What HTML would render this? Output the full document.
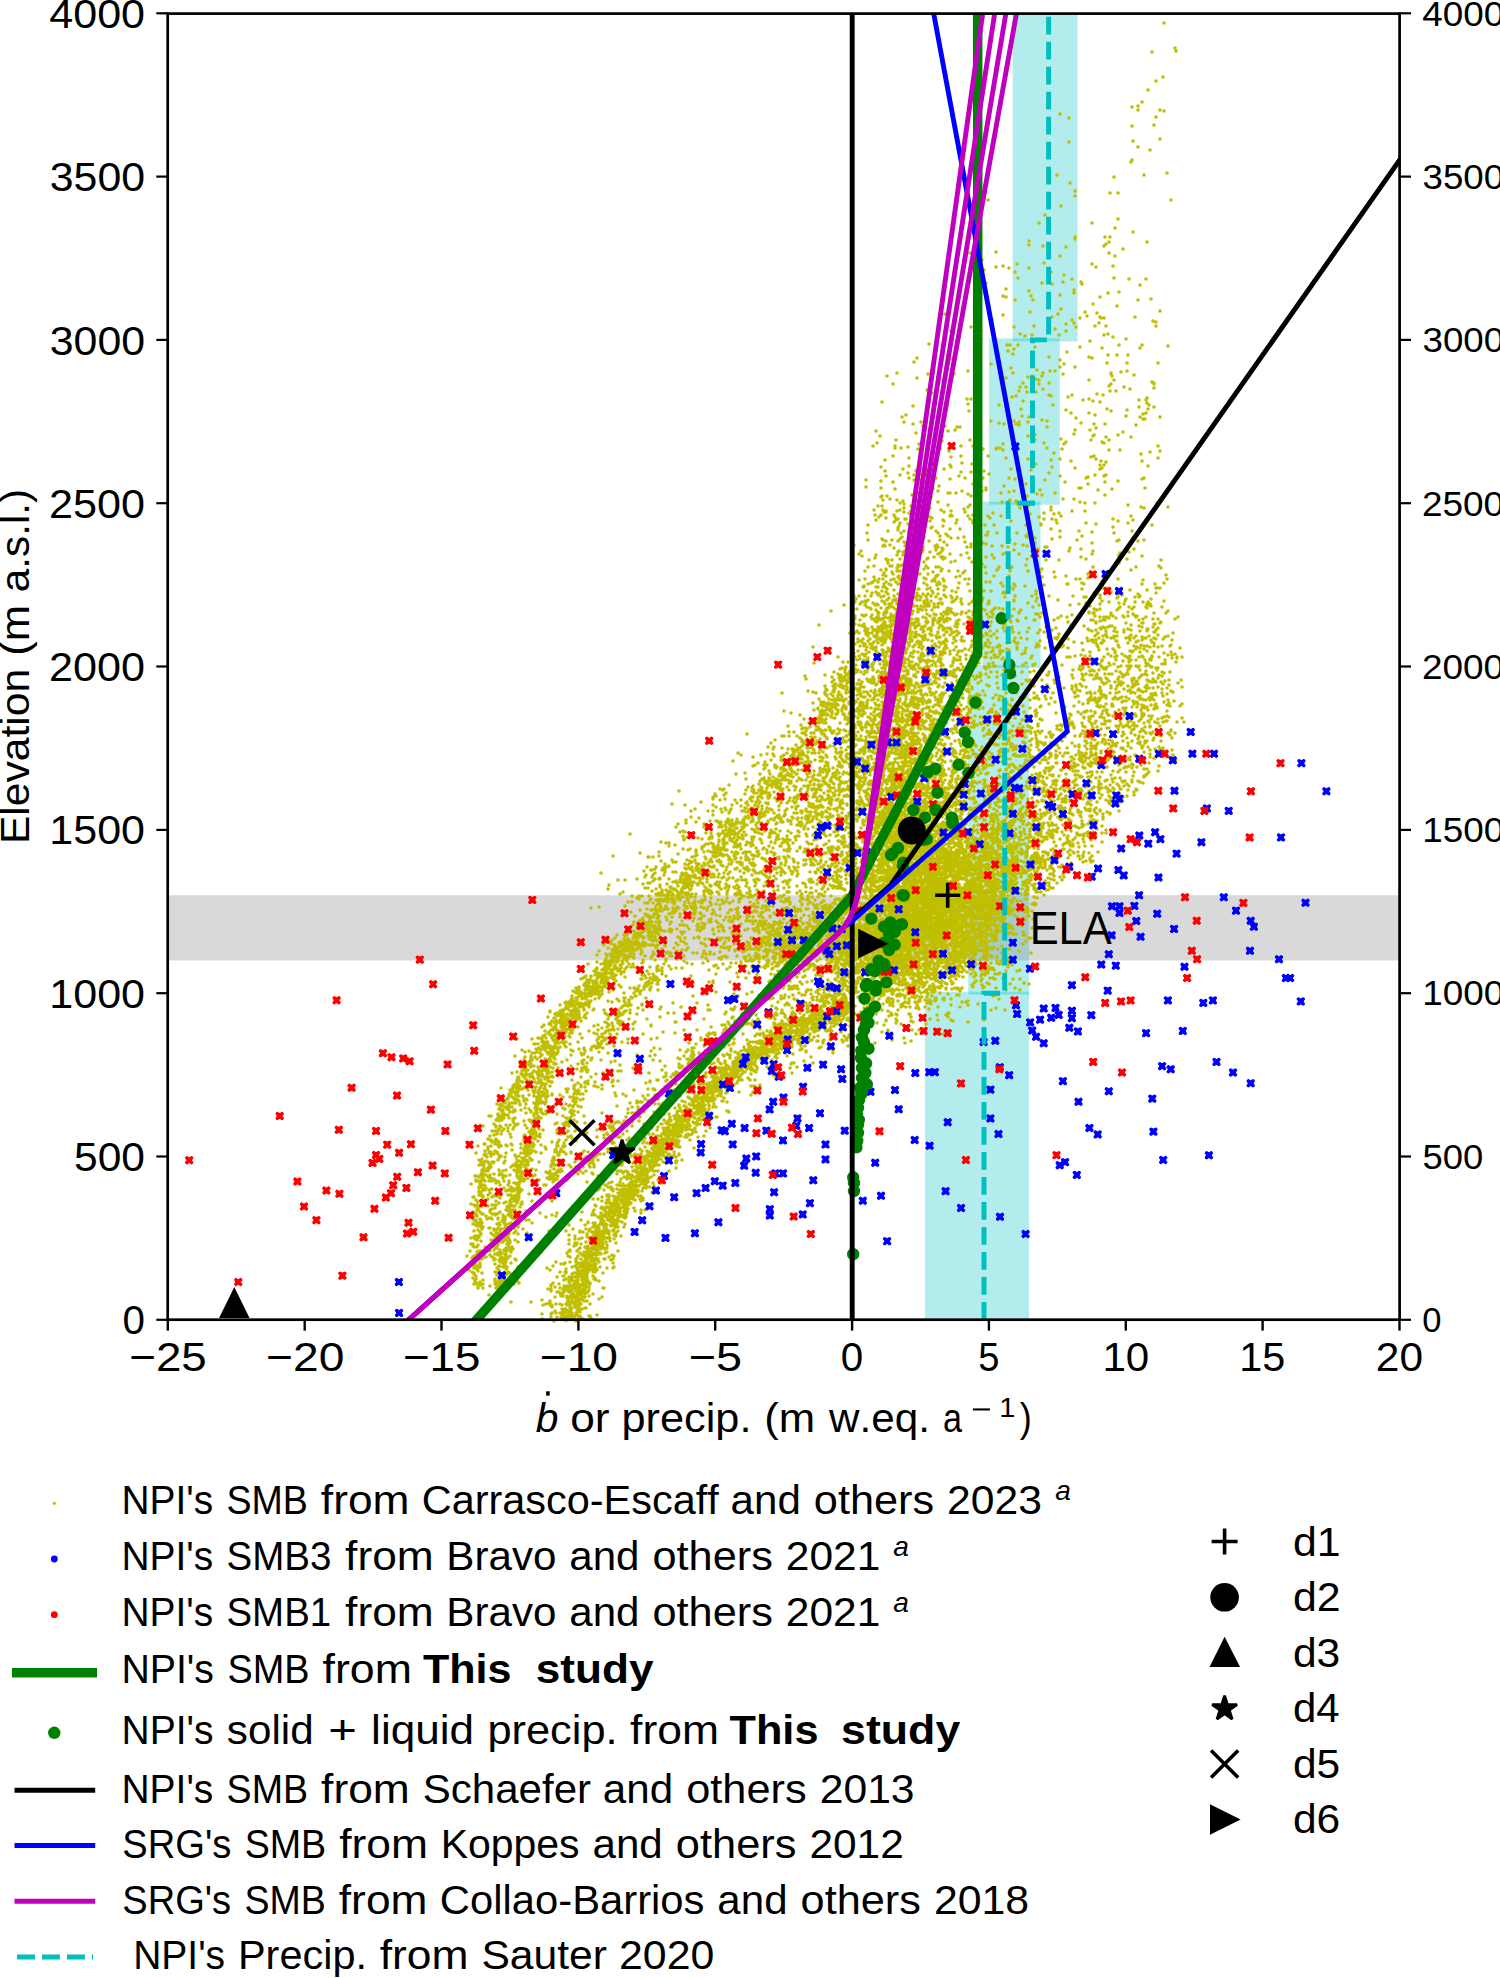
<!DOCTYPE html>
<html><head><meta charset="utf-8"><style>
html,body{margin:0;padding:0;background:#fff;}
svg{display:block;font-family:"Liberation Sans", sans-serif;font-kerning:none;}
</style></head><body>
<svg width="1500" height="1978" viewBox="0 0 1500 1978">
<defs><clipPath id="axclip"><rect x="167.8" y="13.3" width="1231.7" height="1306.5"/></clipPath></defs>
<rect width="1500" height="1978" fill="#fff"/>
<rect x="1012.6" y="13.3" width="65.0" height="328.1" fill="#00bfbf" fill-opacity="0.3"/>
<rect x="989.0" y="338.4" width="70.8" height="166.3" fill="#00bfbf" fill-opacity="0.3"/>
<rect x="982.7" y="501.7" width="57.9" height="166.3" fill="#00bfbf" fill-opacity="0.3"/>
<rect x="968.2" y="665.0" width="60.9" height="329.6" fill="#00bfbf" fill-opacity="0.3"/>
<rect x="925.0" y="991.7" width="104.1" height="328.1" fill="#00bfbf" fill-opacity="0.3"/>
<rect x="167.8" y="895.2" width="1231.7" height="65.3" fill="#808080" fill-opacity="0.3"/>
<path d="M1164 23h0m11 25h0m-23 4h0m24-1h0m-28 39h0m8-9h0m7-4h0m-31 30h0m6-1h0m4-4h0m-82 12h0m9 4h0m63 8h0m6-16h0m16 15h0m2-8h0m4-7h0m4 1h0m-95 31h0m64-1h0m5 6h0m22-8h0m-29 23h0m1-2h0m18-10h0m-93 25h0m13 8h0m44-6h0m30-2h0m23-2h0m-179 27h0m73 6h0m14-15h0m0 5h0m35-3h0m8 0h0m53 7h0m-132 23h0m6-8h0m47 8h0m23 5h0m3-9h0m-89 22h0m0 4h0m14 1h0m23 1h0m9-10h0m0 2h0m29 7h0m1-9h0m1 7h0m3-2h0m1-5h0m13 12h0m10-17h0m14 10h0m-177 11h0m12 7h0m14-8h0m0 15h0m7-1h0m6 2h0m8-4h0m12 4h0m15-5h0m16-7h0m32 8h0m4 3h0m13-14h0m4 13h0m2-10h0m-131 14h0m2 13h0m20 6h0m9-17h0m3 6h0m24 5h0m9-11h0m1 12h0m11-2h0m1-7h0m8 4h0m9 3h0m1 2h0m32-6h0m15 1h0m11 6h0m6-6h0m-143 17h0m3 1h0m9 3h0m14-9h0m2 5h0m2 4h0m27-5h0m1 14h0m13-16h0m0-3h0m19 14h0m7-7h0m8-4h0m9 13h0m2-14h0m19 8h0m13-1h0m-206 15h0m8 14h0m18-1h0m21-7h0m11-5h0m11 12h0m16-15h0m4 14h0m18-9h0m3 12h0m3-15h0m8 10h0m6-4h0m2 3h0m2 4h0m4-9h0m5-6h0m2 4h0m8 10h0m2-13h0m2 10h0m1-6h0m1 1h0m3 0h0m2 8h0m29-9h0m18 4h0m3 1h0m0 4h0m4-15h0m-231 33h0m22-13h0m30 0h0m0 8h0m26 6h0m3 0h0m4 4h0m4-4h0m2-11h0m5 2h0m7-1h0m2 6h0m1 6h0m24-12h0m7-4h0m14 16h0m10-6h0m12 7h0m2-13h0m4-1h0m5 3h0m6 8h0m7-6h0m14 9h0m2-3h0m26 1h0m-254 16h0m3-4h0m33 1h0m41 5h0m17-13h0m3 17h0m2-14h0m36 3h0m11 10h0m0-7h0m4 4h0m3-12h0m8 15h0m14-10h0m3 1h0m15 5h0m1-8h0m9 0h0m10 8h0m1-8h0m30 8h0m-271 13h0m6 8h0m4-11h0m20 5h0m10 12h0m1-16h0m26 0h0m14-3h0m37 19h0m1-12h0m7-5h0m7 14h0m3-4h0m3 4h0m2-10h0m4-1h0m4 3h0m1-9h0m2 10h0m0 4h0m3-8h0m1-3h0m0 16h0m6-6h0m1-12h0m5 0h0m8 3h0m26 6h0m20 6h0m2-12h0m0-1h0m0 11h0m1-8h0m2 4h0m7-8h0m3 15h0m3-16h0m3 18h0m4-14h0m18 7h0m2 6h0m0-5h0m0 1h0m-272 18h0m31 4h0m17-13h0m2 0h0m8 14h0m6 1h0m1-2h0m20-7h0m1 5h0m3-5h0m28 6h0m13-8h0m4-1h0m3-5h0m2 18h0m2-8h0m4-9h0m9 0h0m13 3h0m2 1h0m2 9h0m13 5h0m2-13h0m4-2h0m11 5h0m6-1h0m4 2h0m4-7h0m3 8h0m3-7h0m4 14h0m3-18h0m6 0h0m11 19h0m12-10h0m0 7h0m7-7h0m1 3h0m0-5h0m1 11h0m1-4h0m5 2h0m-252 10h0m2 5h0m2-7h0m7 9h0m8-2h0m2 4h0m4-14h0m3 18h0m3-17h0m3 16h0m9-3h0m1-15h0m9 19h0m2-3h0m3 0h0m9-16h0m22 10h0m8 2h0m5 1h0m10-3h0m2 3h0m3 1h0m0-3h0m3-6h0m6 6h0m1-5h0m13 3h0m5 7h0m0-6h0m24-8h0m4 17h0m1-12h0m5 5h0m8-10h0m5 11h0m1-9h0m1 13h0m9-4h0m6-13h0m15 5h0m10 9h0m4-8h0m3-3h0m0 5h0m2 0h0m1-6h0m14 4h0m-287 29h0m3-15h0m1 12h0m3-7h0m15 10h0m0 2h0m1-8h0m5 8h0m7-1h0m8-14h0m2 16h0m1-5h0m8 1h0m1 0h0m12 3h0m0 1h0m2-13h0m0 5h0m6-10h0m13 15h0m9-6h0m3 6h0m4-14h0m0 17h0m0-15h0m6 15h0m13 0h0m1-1h0m3 0h0m3-4h0m0 6h0m25-14h0m7-1h0m0 0h0m0 5h0m9 3h0m3 5h0m14-9h0m1 10h0m2-5h0m2-2h0m8-8h0m16-4h0m1 10h0m2-4h0m1-1h0m8 7h0m2 1h0m2-6h0m3 13h0m0-10h0m9-5h0m2 15h0m3-18h0m8 5h0m27 9h0m-277 21h0m4-7h0m8-4h0m10 13h0m6-3h0m0-8h0m10 12h0m2-1h0m0-17h0m4 14h0m1 4h0m4-4h0m3-4h0m11 7h0m5-18h0m1 14h0m1-8h0m0 10h0m10-11h0m1 7h0m10 1h0m0 0h0m16-8h0m18 2h0m5 11h0m17-10h0m5 2h0m3 3h0m15-4h0m1 7h0m2-14h0m6 6h0m11 2h0m4 7h0m16-11h0m3-1h0m2 3h0m4 10h0m0-4h0m1-4h0m1 7h0m2-3h0m2-3h0m35-8h0m1 7h0m6 5h0m2-14h0m8 6h0m2-7h0m-294 36h0m0-7h0m15 8h0m0-7h0m4-10h0m1 5h0m7 6h0m2 7h0m5-14h0m8-2h0m1 5h0m5-3h0m0 5h0m2-9h0m0 18h0m1-19h0m3 13h0m0-9h0m1 6h0m5 2h0m0-10h0m1 2h0m2 8h0m0-10h0m0 6h0m4 11h0m1-16h0m2 5h0m3 8h0m11-7h0m9-3h0m2-4h0m4 6h0m6-6h0m2 12h0m8 3h0m2-9h0m1-7h0m2 19h0m0-2h0m3-14h0m15 12h0m5-8h0m6 1h0m11 5h0m5-14h0m9 20h0m5-10h0m4-7h0m11 3h0m5 6h0m14 6h0m2 0h0m5-10h0m2 6h0m0-7h0m7-2h0m9 1h0m1 6h0m1-7h0m6 14h0m6-8h0m24-2h0m2-1h0m1 10h0m-271 22h0m4-4h0m3-9h0m1 9h0m0-10h0m1 14h0m0-10h0m4-4h0m3 3h0m7 1h0m3 3h0m3-2h0m1 7h0m0-4h0m7 2h0m1-11h0m2 11h0m1 2h0m0 1h0m1-8h0m2-8h0m2 14h0m5-13h0m1 8h0m3-7h0m0 14h0m1-1h0m1-11h0m7-6h0m0 11h0m3 8h0m7-5h0m0-12h0m2 0h0m6 0h0m6-2h0m2 18h0m4-15h0m0 13h0m2-2h0m1-9h0m6 6h0m1 3h0m1-6h0m3-8h0m19 2h0m1 9h0m7-10h0m1 8h0m4-9h0m2 10h0m1 2h0m1 1h0m2 4h0m7-12h0m1 10h0m1-1h0m8-11h0m5 1h0m9 15h0m0-3h0m4-14h0m8 6h0m11 0h0m6 3h0m5 1h0m10 0h0m3-13h0m7 5h0m23 10h0m13 2h0m3 1h0m13-5h0m11 4h0m-300 18h0m7-10h0m1 5h0m3-3h0m2-2h0m3-3h0m2 0h0m0-1h0m0 7h0m8-3h0m0 7h0m1-5h0m1 3h0m1-9h0m1 17h0m0-9h0m0 11h0m1-4h0m1-3h0m0-13h0m4 2h0m1 7h0m1 0h0m2 5h0m1-11h0m1 1h0m1 2h0m0-5h0m0 14h0m2-2h0m4-13h0m1 7h0m4-4h0m4 1h0m0-1h0m1 3h0m3 1h0m0 4h0m1 7h0m1-10h0m0 9h0m11-1h0m0-6h0m1 1h0m0-9h0m6 4h0m0 13h0m1-18h0m0 4h0m1 1h0m4 7h0m1-3h0m3 9h0m5-17h0m3 4h0m2 3h0m3-4h0m0 6h0m0 2h0m2-3h0m10 5h0m3-9h0m2 2h0m3-5h0m1 12h0m7-9h0m10 5h0m15 4h0m2 1h0m0-2h0m2-10h0m9 3h0m2 8h0m0-1h0m3-11h0m0 6h0m7 10h0m1-10h0m2-5h0m2 6h0m1 3h0m2-10h0m2 3h0m11-5h0m13 0h0m1 12h0m10 1h0m17 3h0m0-8h0m5 2h0m10 2h0m3-7h0m2 4h0m10 5h0m0 1h0m9-1h0m-298 20h0m13-12h0m1 7h0m14-1h0m1 1h0m0 6h0m1-1h0m1 1h0m1-5h0m2-10h0m2 14h0m2-5h0m2 8h0m4-7h0m2-2h0m1-6h0m1 4h0m2 5h0m0-11h0m1 15h0m1-3h0m3-12h0m0 2h0m1 15h0m2 1h0m2-19h0m3 15h0m0-2h0m1 2h0m0-7h0m1 4h0m2-3h0m0-3h0m1 7h0m0-8h0m1 15h0m0-3h0m1-10h0m5 4h0m6 5h0m1 2h0m0-17h0m1 14h0m1-12h0m0 14h0m2-11h0m0 4h0m2 8h0m1 1h0m1-7h0m2-8h0m1 11h0m1-9h0m3 2h0m7 0h0m0 0h0m6-1h0m1 5h0m2 5h0m4-3h0m0 3h0m5-9h0m4-8h0m3 13h0m3-8h0m0 9h0m1-9h0m1-3h0m4 14h0m5-13h0m5 13h0m6 1h0m2-7h0m5 4h0m2-11h0m6 12h0m3-9h0m1-1h0m0 2h0m0 9h0m5-4h0m3-4h0m0 5h0m3 6h0m7-2h0m2 0h0m5-8h0m8-8h0m0 6h0m10 11h0m7-8h0m2-9h0m2 18h0m1-13h0m10-4h0m0 11h0m22-10h0m3 8h0m2-1h0m13-9h0m2 18h0m4-8h0m6-1h0m-285 14h0m2-3h0m1 5h0m6 11h0m1-7h0m5 6h0m0 0h0m1-8h0m1-3h0m5 15h0m5 0h0m0-11h0m0 10h0m1-9h0m1 3h0m0-3h0m2 6h0m2-6h0m0 6h0m5-11h0m0 13h0m1-3h0m0-13h0m1-1h0m1 15h0m0-7h0m2 6h0m1-10h0m0-3h0m2-1h0m0 12h0m1 5h0m0-10h0m0 5h0m1 5h0m3-6h0m3 4h0m0-5h0m1 3h0m4-8h0m4-4h0m0 0h0m2 17h0m0-7h0m2 4h0m1-7h0m1-1h0m0 10h0m2-16h0m4 5h0m2-7h0m0 17h0m2-13h0m1 13h0m1-14h0m1 4h0m1 12h0m0-18h0m1 6h0m0 2h0m2-1h0m5-4h0m1 8h0m4-1h0m6-6h0m6-2h0m2 5h0m3 4h0m7 5h0m3-3h0m3 3h0m1-10h0m6-2h0m2 3h0m4 11h0m1-2h0m4-13h0m3-1h0m4 16h0m2-2h0m2-17h0m5 4h0m7 11h0m1-6h0m5-3h0m2-2h0m8 15h0m4-9h0m13 0h0m10-9h0m12 6h0m5 2h0m6-5h0m1 13h0m0-16h0m26 4h0m0 2h0m0 6h0m1-10h0m7 6h0m2-7h0m2 18h0m5-3h0m6-11h0m17 10h0m2-6h0m0 8h0m-302 12h0m4 7h0m1 0h0m0-1h0m1-7h0m0-8h0m3 13h0m3-1h0m2-1h0m1-5h0m1 3h0m1 7h0m2 0h0m0-5h0m1-3h0m4 8h0m0-12h0m0 4h0m1 5h0m0-11h0m1 14h0m1-5h0m0-6h0m1 13h0m2-5h0m2-4h0m0 5h0m1-13h0m1 2h0m1 5h0m2 3h0m1-11h0m1 13h0m0-7h0m1 7h0m0-6h0m0-2h0m0-5h0m0 0h0m1 9h0m0-1h0m0-8h0m3 14h0m0-3h0m1 5h0m1-6h0m1-9h0m1 15h0m0 3h0m0-5h0m2-3h0m1 1h0m0 5h0m0-1h0m1-11h0m1 8h0m0 4h0m0 2h0m1-5h0m1 5h0m0-1h0m0-15h0m0 8h0m0 3h0m2-14h0m2 3h0m0 15h0m1 0h0m1-15h0m4 4h0m0 5h0m2-4h0m1 10h0m0-4h0m1-11h0m2 14h0m2-7h0m1-9h0m1 7h0m0 1h0m1 1h0m1-5h0m0 1h0m1 8h0m0-1h0m1 5h0m0-14h0m1 7h0m1 2h0m1-13h0m2 8h0m1 2h0m0 5h0m2 1h0m3-16h0m7 6h0m2-6h0m0 17h0m1-5h0m1-7h0m3-3h0m2 6h0m0-8h0m3 13h0m1-5h0m0 0h0m6 6h0m3-9h0m0 0h0m1 13h0m1-11h0m1 11h0m5-7h0m0-9h0m4 9h0m4-6h0m3-6h0m4 13h0m2 3h0m6-10h0m0 2h0m1-7h0m0 16h0m3 2h0m1-5h0m1 2h0m10 0h0m3-15h0m11 8h0m0-9h0m1 2h0m2 5h0m2 8h0m10-13h0m1 5h0m11-1h0m1 8h0m1 0h0m8-5h0m4 0h0m2 10h0m0-6h0m2 1h0m4-6h0m0-4h0m13 14h0m1-7h0m0 5h0m5 2h0m11-9h0m24 5h0m1-4h0m4 10h0m8-6h0m1 4h0m1 0h0m3 0h0m4-5h0m2-8h0m1 4h0m-323 26h0m9-2h0m0 6h0m1-13h0m1 6h0m1-3h0m1 10h0m2-13h0m1 8h0m1-1h0m1-1h0m3-6h0m0 5h0m0 4h0m1-3h0m1-11h0m0 16h0m1-7h0m2 8h0m1 1h0m0-13h0m1-3h0m1 10h0m2 2h0m1-13h0m0 18h0m1-17h0m0 11h0m1-9h0m0 10h0m1-11h0m0 0h0m2 3h0m0 11h0m1-7h0m0-10h0m2 11h0m0-6h0m1 8h0m1-12h0m0 18h0m1-10h0m0 8h0m1 0h0m0-14h0m1 10h0m0 3h0m0-9h0m1 7h0m0 2h0m0-2h0m2-2h0m1 4h0m0-7h0m1-10h0m0 6h0m0-6h0m1 19h0m1-10h0m0 1h0m0 1h0m1 3h0m1-10h0m1 14h0m0 2h0m1-10h0m0 3h0m1-6h0m1 12h0m0-5h0m0-14h0m1 2h0m0 13h0m1-2h0m0 5h0m0-8h0m0 6h0m1-12h0m0 0h0m0 11h0m0 0h0m0 5h0m3-3h0m1 2h0m0-12h0m0 11h0m0-15h0m0 11h0m1-8h0m0 0h0m2 0h0m1 9h0m0 1h0m1 0h0m1-9h0m1 1h0m1 2h0m0-5h0m0 11h0m0-13h0m1 16h0m1-13h0m1 13h0m0-9h0m1-3h0m0 9h0m1 4h0m1-16h0m1 9h0m0-2h0m0 6h0m1-3h0m0-1h0m1 7h0m0-14h0m0 9h0m1 0h0m0-6h0m0 7h0m0-5h0m0 1h0m1-8h0m1 10h0m0 2h0m2-10h0m0 5h0m1-10h0m1 2h0m1 14h0m0-3h0m1 3h0m1-10h0m2-3h0m0 10h0m0 3h0m1-4h0m1-4h0m1 0h0m1 4h0m0 1h0m2-14h0m0 5h0m2 2h0m1 13h0m1-2h0m3 1h0m0-13h0m1 6h0m0-11h0m0 7h0m2 3h0m2-2h0m0-7h0m1 5h0m4 2h0m0 3h0m1 2h0m7 0h0m1-13h0m2 11h0m1-1h0m1-2h0m3 7h0m2-13h0m0 9h0m1-4h0m0 9h0m2 2h0m0-8h0m1-3h0m1-7h0m1 19h0m3-6h0m1-1h0m0-2h0m2-10h0m4 17h0m0 0h0m4 0h0m4-15h0m0 16h0m1-17h0m1 1h0m0 4h0m4 12h0m5-9h0m0 1h0m0 8h0m1-13h0m0 0h0m13 7h0m4-7h0m1 11h0m3-13h0m0-3h0m0 10h0m1-3h0m2 7h0m10-9h0m9 4h0m12 5h0m3-9h0m6 8h0m5-7h0m2 6h0m0-6h0m2 8h0m2 1h0m4-13h0m0 16h0m6 0h0m0-5h0m0-9h0m0 3h0m2 3h0m5-9h0m2 10h0m2-10h0m6 6h0m0-6h0m1 5h0m1 11h0m0-14h0m0 9h0m1-13h0m0 17h0m2-12h0m2 9h0m1-3h0m1-2h0m3 8h0m1-17h0m2 19h0m2-2h0m1-10h0m0 5h0m3-8h0m1 3h0m1-1h0m3 6h0m3 5h0m1-3h0m0 4h0m1-6h0m1 3h0m1-1h0m0 1h0m1 1h0m0-7h0m5-6h0m6 14h0m2-6h0m-345 24h0m12-14h0m20 13h0m1 4h0m0-8h0m1 2h0m1-3h0m1-3h0m0 8h0m0-5h0m4 6h0m1-5h0m2 6h0m0-11h0m2 9h0m0-8h0m0 8h0m1 3h0m0 2h0m1-14h0m1 15h0m1-1h0m3-12h0m1 10h0m0-8h0m0-4h0m1 14h0m1 1h0m0-11h0m1 2h0m0-1h0m1 0h0m0 1h0m1 1h0m0-5h0m1-4h0m0 15h0m0 1h0m0-2h0m0-8h0m0 0h0m0-7h0m0 4h0m1 2h0m0-5h0m0 6h0m1 1h0m0 9h0m1 0h0m0-3h0m1-7h0m1 9h0m0-4h0m0 5h0m1-11h0m0-5h0m0 1h0m0 8h0m0-7h0m0 10h0m1-3h0m0-10h0m0 15h0m0-10h0m0 8h0m1 1h0m0-13h0m0 15h0m1-16h0m1 14h0m0 1h0m0-9h0m2-1h0m0 10h0m0 0h0m0-6h0m1-7h0m0 4h0m0 6h0m0-9h0m0 11h0m0 4h0m0 0h0m1-10h0m0 6h0m1-2h0m0-8h0m1 5h0m1-1h0m0-2h0m1-1h0m0-3h0m0 1h0m0 11h0m1-13h0m0-1h0m1-1h0m0-1h0m0 7h0m1 12h0m0-10h0m1 9h0m1-5h0m0-6h0m0-6h0m1 13h0m0 3h0m0-12h0m1 10h0m0 4h0m0-2h0m0-2h0m1-12h0m0 6h0m0-7h0m2 12h0m0 6h0m0 0h0m0-5h0m1-9h0m0 6h0m0 8h0m0-5h0m0-5h0m1 4h0m1-5h0m1 9h0m0-4h0m0-2h0m0 6h0m0-2h0m0-12h0m2 5h0m0-5h0m0 10h0m0-5h0m1 4h0m0-12h0m1 14h0m0-2h0m1 5h0m1-6h0m0-2h0m0-1h0m0 3h0m1 4h0m0-6h0m0-1h0m1 0h0m0 1h0m0-1h0m0 0h0m0 2h0m0-9h0m0-1h0m1 14h0m0-1h0m2 5h0m1-2h0m1 1h0m0-11h0m2 9h0m1-4h0m0-4h0m1-4h0m0 9h0m0-2h0m1 1h0m0 7h0m2-1h0m0-12h0m1 12h0m0 1h0m1-19h0m1 11h0m0 3h0m0-1h0m0-4h0m0 6h0m1-7h0m0-4h0m0 5h0m0 1h0m1 0h0m1-5h0m2 8h0m0-1h0m1 6h0m0-9h0m1-1h0m0 8h0m0-5h0m1-7h0m0 11h0m2-9h0m0 11h0m0-8h0m0 8h0m0 3h0m1-1h0m0-7h0m0-10h0m1 8h0m1-6h0m1 4h0m0 3h0m0-10h0m0 17h0m1-14h0m2 5h0m0 9h0m0 1h0m0-18h0m1 19h0m0-18h0m0 17h0m2-16h0m2 13h0m0-11h0m1 8h0m1-9h0m0 7h0m0 6h0m0-13h0m1 10h0m1-4h0m2-6h0m1-2h0m2 12h0m2-11h0m0 0h0m1 15h0m1-11h0m1-6h0m0 12h0m1-3h0m0-2h0m3 5h0m0-4h0m0-7h0m0 3h0m2 9h0m1-3h0m2 4h0m3-6h0m0 10h0m0-12h0m3 8h0m3-11h0m2 3h0m1 9h0m1-4h0m0-10h0m1 5h0m1-7h0m0 4h0m8-1h0m2 15h0m0-7h0m1 4h0m0-6h0m0 2h0m1 3h0m2-6h0m1 1h0m2 1h0m1 2h0m1 7h0m0-2h0m0-11h0m5 4h0m1 1h0m1-8h0m0-1h0m2-2h0m5 8h0m3 10h0m5-8h0m1 0h0m1-6h0m2 0h0m2 3h0m0 13h0m2-17h0m4 14h0m1-9h0m5 12h0m2-10h0m2 8h0m2-10h0m3-2h0m6 1h0m1 5h0m3 3h0m1-10h0m12 11h0m4 3h0m1 1h0m0-18h0m0 1h0m2 7h0m2 0h0m0-7h0m1 0h0m1 3h0m1-6h0m0 13h0m0-1h0m0 8h0m1-20h0m3 7h0m0 11h0m0-7h0m1 8h0m2-9h0m0 7h0m1-10h0m1 11h0m0-8h0m2-3h0m1 10h0m1-9h0m1 8h0m1-13h0m0 2h0m1 11h0m1-10h0m2 12h0m1-10h0m1-8h0m6 6h0m1 14h0m0-13h0m2 6h0m2-11h0m0 4h0m0 13h0m3-4h0m2-11h0m1 1h0m2 2h0m1-1h0m2 10h0m0-6h0m3 3h0m0 4h0m1-8h0m0 4h0m3-6h0m1 12h0m1 0h0m5-10h0m0 8h0m1-14h0m0 11h0m1 0h0m1 6h0m2-11h0m0 9h0m2-5h0m1-1h0m5-9h0m2-2h0m7 8h0m3-2h0m-365 30h0m37-14h0m2 15h0m0-10h0m1 11h0m0 0h0m2-5h0m0-11h0m2-2h0m1 11h0m0-3h0m0 3h0m0-3h0m1-6h0m1 13h0m1-5h0m2-2h0m0 4h0m1 3h0m1-2h0m0-13h0m1 3h0m1 13h0m0-14h0m1 8h0m0-5h0m1-3h0m1 11h0m0-5h0m1 9h0m1-2h0m0-13h0m1 10h0m0-13h0m0 19h0m1-13h0m0 6h0m0 6h0m1-18h0m0 7h0m1 10h0m0 3h0m0-19h0m1 3h0m0 2h0m0 4h0m1-1h0m0-7h0m0 11h0m2-5h0m1 3h0m0-10h0m1 8h0m0 6h0m1-13h0m0 0h0m0 4h0m0-3h0m1 5h0m0 5h0m0-3h0m1-7h0m0 8h0m0 1h0m1-8h0m0 5h0m1-3h0m0-5h0m1 1h0m0 0h0m0 16h0m0-12h0m2-5h0m0 7h0m0-4h0m1 15h0m0-14h0m0-2h0m0 6h0m1 3h0m0 6h0m0-6h0m1-8h0m0 1h0m0 11h0m1-8h0m1-8h0m0 4h0m1 7h0m0 6h0m0 2h0m1-15h0m0 14h0m1 0h0m0 1h0m0-5h0m1 1h0m0-6h0m0 6h0m1 3h0m0-2h0m1-5h0m0 0h0m1 3h0m0 2h0m1-7h0m0 2h0m1 8h0m1-10h0m0 11h0m0-2h0m1-13h0m0 4h0m0 0h0m0 0h0m0-7h0m1 10h0m0 7h0m1-16h0m0-2h0m1 12h0m0 2h0m0 1h0m1-15h0m0 6h0m0 2h0m0-2h0m1 4h0m0-6h0m1 5h0m0-8h0m0 9h0m1 6h0m1-10h0m0 9h0m1-12h0m0 11h0m1-8h0m0-3h0m0-2h0m0 0h0m1 10h0m1 1h0m0-1h0m0-1h0m1-6h0m0 12h0m0 0h0m1-2h0m1-9h0m0 8h0m0-2h0m1 7h0m1-12h0m0-5h0m0 15h0m0-9h0m0 1h0m1-8h0m0 9h0m1-5h0m0 4h0m0-1h0m0-1h0m2 13h0m1-10h0m0 8h0m0 0h0m2-14h0m1 1h0m0-4h0m1 15h0m0-5h0m0 6h0m0-12h0m0 13h0m3-4h0m1 6h0m0-14h0m0 10h0m1-8h0m1-5h0m0-1h0m1 15h0m0-5h0m0-5h0m1 0h0m1 7h0m2-2h0m1 1h0m0 6h0m0-14h0m1 12h0m0-6h0m1-9h0m0 7h0m0 6h0m1-13h0m0 0h0m0 16h0m0-7h0m3-6h0m2-2h0m1 10h0m1-11h0m0 7h0m0-2h0m2 10h0m0-6h0m1-6h0m0-4h0m2 2h0m2 7h0m1-3h0m0 4h0m2 0h0m1 8h0m6-2h0m1-6h0m0 4h0m1-4h0m1 0h0m1-9h0m4 3h0m1 12h0m0-2h0m1-8h0m0-1h0m0 12h0m1 0h0m1-12h0m2 8h0m0 1h0m1 1h0m0-3h0m0-10h0m1 2h0m0-1h0m1 6h0m1 7h0m1-16h0m0 12h0m1-7h0m2 12h0m1-14h0m3-3h0m0 16h0m0-9h0m2 8h0m0-1h0m1 1h0m5-15h0m2 12h0m0 6h0m1-13h0m1 14h0m1-8h0m3-10h0m1 9h0m1-3h0m1 5h0m1 4h0m0 2h0m1-6h0m1-10h0m2 5h0m5 10h0m1-16h0m0 7h0m9 8h0m1-3h0m1-11h0m0 12h0m1 1h0m1-5h0m4-9h0m1 16h0m3-11h0m7 11h0m0-10h0m2 1h0m1-2h0m1-3h0m2 13h0m2-2h0m0 1h0m5-7h0m0 9h0m6-6h0m8 1h0m1 7h0m4-12h0m1 3h0m3-1h0m1-9h0m1 9h0m0 2h0m2-6h0m1 7h0m0-3h0m1 5h0m0-11h0m1-1h0m0 14h0m1-9h0m0 12h0m2-7h0m1 0h0m1-7h0m0 4h0m1 1h0m2-7h0m0 1h0m0-4h0m1 18h0m0-12h0m4 1h0m2 11h0m1-13h0m0 2h0m0-7h0m2 10h0m1-5h0m0-4h0m0 9h0m0-5h0m1 9h0m1 2h0m5-15h0m2 6h0m2 5h0m1-5h0m0-1h0m1 1h0m0 2h0m1-5h0m0-5h0m3 8h0m0 8h0m2-10h0m0 13h0m0-7h0m1 5h0m1-6h0m2-10h0m0 17h0m1-3h0m1-8h0m0 3h0m0-3h0m2 12h0m0-3h0m0-8h0m2 0h0m1 8h0m0-15h0m2 5h0m1 11h0m1-7h0m1 2h0m2 4h0m0-8h0m0-6h0m0 11h0m1-11h0m1 7h0m2 8h0m0-12h0m4 11h0m1-7h0m2-2h0m3-1h0m2 10h0m1-1h0m1-5h0m1-7h0m7 15h0m-366 15h0m24-6h0m2 12h0m2-1h0m1-6h0m2 7h0m1-2h0m2-5h0m3-5h0m1 3h0m0-5h0m0 5h0m2-7h0m1 16h0m0-12h0m1 8h0m1-5h0m1-9h0m1 5h0m1 3h0m2-5h0m0 11h0m2-5h0m0-5h0m1 1h0m1-6h0m0 11h0m0-7h0m1 8h0m0-2h0m1 8h0m0-2h0m0-1h0m0-4h0m0 8h0m0-11h0m1-6h0m3 14h0m0-1h0m0-1h0m0 3h0m1 3h0m0-1h0m0-4h0m0-1h0m1-2h0m2-11h0m0 0h0m2 2h0m0 7h0m0-7h0m2 11h0m1-9h0m1-5h0m0 18h0m1-7h0m0-11h0m0 3h0m0 2h0m0-1h0m1 11h0m0-3h0m1 5h0m0-4h0m0-5h0m0-1h0m0 12h0m1-13h0m0-4h0m0 4h0m0 5h0m1 4h0m0-2h0m0-10h0m1-2h0m1 13h0m0 0h0m1-3h0m0 6h0m0-11h0m0 13h0m0-18h0m0 6h0m1 4h0m0 3h0m0-12h0m1 11h0m0-8h0m0 5h0m1-5h0m0 11h0m0-9h0m0-1h0m0 2h0m1 7h0m0 4h0m0-3h0m1-10h0m0-4h0m0 13h0m1-5h0m0-9h0m0 14h0m1-13h0m0 6h0m0-3h0m0 2h0m1 3h0m0 6h0m0-1h0m1 0h0m1 0h0m0-1h0m0-7h0m0 3h0m0-4h0m0 0h0m1 13h0m0-12h0m0 0h0m1-6h0m0 2h0m0-1h0m1 6h0m0 5h0m0 3h0m1-8h0m0 4h0m0-9h0m0-1h0m1 11h0m0-3h0m0 7h0m1-16h0m0 2h0m0-3h0m0 1h0m2 8h0m1 2h0m0 3h0m0 2h0m1-10h0m1 10h0m0-13h0m0 15h0m1 0h0m0-6h0m1-9h0m0 16h0m0-3h0m0-9h0m1 9h0m0-14h0m0-1h0m1 18h0m0 0h0m1-5h0m2 1h0m0-13h0m1 6h0m0 1h0m0-1h0m0 10h0m1-6h0m0 6h0m0-8h0m1 1h0m0-3h0m0-3h0m1 0h0m0-2h0m0 16h0m1-9h0m1-4h0m0 12h0m0-13h0m1 6h0m1 6h0m1-1h0m0 3h0m0-6h0m0-2h0m1-1h0m0-5h0m1 12h0m0-17h0m1 11h0m1-9h0m1 13h0m0-10h0m1 2h0m0 4h0m2-7h0m0 9h0m1-13h0m0 16h0m0-10h0m0 10h0m2-5h0m1 0h0m0-3h0m1-6h0m0 8h0m0-5h0m0 6h0m1-7h0m0 5h0m0 4h0m0-4h0m0 7h0m1-12h0m0-2h0m0 3h0m1 10h0m1-14h0m0 18h0m1-16h0m0 0h0m5-2h0m0 3h0m1 12h0m1 0h0m1-5h0m0 2h0m1-5h0m0-8h0m0 20h0m2 0h0m0-10h0m1 9h0m0-14h0m1 5h0m0 8h0m0-16h0m1-1h0m0 18h0m1-12h0m0 3h0m1 4h0m0 0h0m1-13h0m1 16h0m0 3h0m3-15h0m0 4h0m3-9h0m2 6h0m2-4h0m0 6h0m1 9h0m0-5h0m1-4h0m0 1h0m0 5h0m1 2h0m0-6h0m0-6h0m1 4h0m2 5h0m1-6h0m1-1h0m4 12h0m0-11h0m0 10h0m1 2h0m0-12h0m0-4h0m1 0h0m2 11h0m0 3h0m2-9h0m0-6h0m2-1h0m0 12h0m0-12h0m1 15h0m0-11h0m1 2h0m0 9h0m0-11h0m3 2h0m2-7h0m0 4h0m0-2h0m2 7h0m1-1h0m0-7h0m3 9h0m2-4h0m1-2h0m2 8h0m3 7h0m8-15h0m1 11h0m2-14h0m0 2h0m1 10h0m5-5h0m1-2h0m1 9h0m1 0h0m1-1h0m12-1h0m0 1h0m9 6h0m6-5h0m5-8h0m3 0h0m3 13h0m2-14h0m4 13h0m1-3h0m1-11h0m0 15h0m1-4h0m1-6h0m0 8h0m1-5h0m0-2h0m0-2h0m1 5h0m0-8h0m4 11h0m1-15h0m0 0h0m0 8h0m0-4h0m2 14h0m2-8h0m1 0h0m5 2h0m1 2h0m1-6h0m0 7h0m0-7h0m0 1h0m1 7h0m1 1h0m0-12h0m0 11h0m2 1h0m1-2h0m1-13h0m1 9h0m1 2h0m1-9h0m3 8h0m1-7h0m0-6h0m0 0h0m0 2h0m1 7h0m1-4h0m1 11h0m3-1h0m1-12h0m1 7h0m2-5h0m2 10h0m1-8h0m0-1h0m1 5h0m0 4h0m0 1h0m0-8h0m1 9h0m0-12h0m0-5h0m1 15h0m0-6h0m1-8h0m1-1h0m3 9h0m0 6h0m2 1h0m1-10h0m0 9h0m1 4h0m0-18h0m0 0h0m2 4h0m1 1h0m2 3h0m1 6h0m0-3h0m1-12h0m1 13h0m2-4h0m0-1h0m0 7h0m1 1h0m0-7h0m1-4h0m0 11h0m0-10h0m2-5h0m2 16h0m2 0h0m1-11h0m3 7h0m2-11h0m1 11h0m0-1h0m0-3h0m3-5h0m3-3h0m1 6h0m0-3h0m3-1h0m1 8h0m1-5h0m0 1h0m5-1h0m-377 19h0m1 3h0m19 7h0m0-11h0m1 14h0m6-12h0m0 5h0m1 4h0m1-14h0m0 8h0m0 8h0m1-4h0m0 3h0m0 2h0m1-5h0m2-10h0m1 4h0m0 8h0m1-10h0m0 9h0m0-4h0m1-3h0m0 9h0m0-12h0m0 10h0m0-1h0m0-4h0m1 6h0m1 2h0m0-7h0m0 5h0m1-9h0m0 1h0m1-6h0m0-1h0m1 3h0m0 12h0m0-10h0m0 14h0m0-10h0m1 1h0m0 2h0m0 4h0m0 2h0m2-11h0m0-4h0m0-1h0m1 6h0m0-3h0m0 6h0m0-11h0m1 18h0m1-12h0m0 10h0m1-16h0m1 18h0m1-16h0m0 15h0m1-17h0m1 13h0m0-12h0m0-2h0m0 19h0m1-19h0m0 14h0m1-4h0m0 9h0m1-5h0m0 4h0m1-4h0m0 3h0m0-15h0m1 10h0m2-8h0m0 13h0m1-16h0m2 8h0m0-7h0m0 0h0m1 9h0m1-1h0m1 2h0m1-2h0m1 3h0m1-6h0m0 2h0m0 4h0m0-5h0m1 1h0m0 3h0m0-1h0m1 9h0m1-5h0m0 0h0m1-1h0m0-12h0m1-1h0m1 5h0m0 5h0m0-3h0m1 11h0m0 0h0m1-11h0m0-5h0m1-1h0m0 8h0m0 3h0m0-7h0m0 12h0m1 2h0m0-10h0m0 7h0m0 1h0m0-2h0m1-13h0m1-1h0m0 3h0m1 9h0m0 2h0m1-12h0m0 13h0m0-8h0m1-6h0m0 11h0m0-6h0m0 8h0m1 3h0m0 0h0m0-5h0m1-1h0m0-4h0m1-1h0m0 4h0m0 4h0m1-13h0m0 2h0m1-3h0m0 14h0m0-15h0m0 15h0m0 4h0m3-12h0m0 0h0m0-4h0m0-1h0m1 13h0m0-3h0m1-4h0m0-9h0m0 2h0m1-2h0m0 1h0m1 14h0m0 5h0m0-7h0m0 2h0m0-14h0m0 6h0m0 2h0m1-1h0m0 5h0m0-3h0m1-2h0m0 0h0m0 10h0m1-10h0m0 6h0m0 5h0m0-13h0m1 0h0m0-5h0m0 15h0m1 2h0m0-2h0m0-8h0m0 6h0m1-2h0m0-2h0m0 6h0m1-12h0m0 9h0m0-13h0m0 1h0m0 7h0m0-4h0m0-3h0m0 10h0m1-9h0m0-1h0m0 10h0m0-7h0m0 0h0m1 14h0m0-5h0m0 3h0m1-6h0m0 5h0m0-6h0m0 2h0m1-1h0m0 2h0m0 2h0m1 1h0m2-9h0m0-1h0m1 11h0m0 0h0m0 2h0m0-13h0m1 8h0m0-6h0m1-5h0m1 12h0m0-12h0m1 15h0m2 3h0m1-4h0m0-3h0m1-4h0m0 6h0m0-13h0m0 14h0m1-15h0m0 2h0m1 2h0m0-4h0m0 1h0m0 3h0m1 7h0m0 3h0m0 0h0m1-4h0m1-6h0m0 7h0m1 2h0m0 0h0m0 4h0m0-4h0m1-4h0m0 4h0m0-13h0m0 2h0m0 16h0m1-5h0m1 0h0m1-10h0m1 8h0m0-5h0m1 4h0m0-5h0m1-2h0m0 4h0m0 5h0m1-12h0m1 1h0m0 15h0m1-1h0m0-14h0m0 13h0m0-6h0m1-4h0m0-4h0m3 5h0m0 11h0m1-14h0m1 5h0m0 5h0m0-11h0m1-1h0m1 4h0m1-3h0m0 2h0m0-1h0m1 2h0m0 12h0m1-15h0m1 0h0m1 3h0m0 10h0m0-2h0m1-10h0m0 3h0m0 11h0m1-14h0m0 14h0m2-11h0m0 1h0m1 4h0m1 2h0m0 7h0m1-10h0m1-10h0m1 8h0m0 4h0m0-1h0m1 2h0m0 3h0m1-12h0m2-4h0m1 3h0m0 17h0m2-5h0m0 4h0m0-15h0m1 7h0m0 3h0m0-1h0m0-3h0m3 9h0m0-2h0m1-11h0m2 3h0m2-3h0m0 1h0m1 6h0m2-6h0m0-4h0m1 8h0m0-6h0m5-1h0m1 11h0m2 1h0m0-9h0m2-5h0m6 11h0m0-6h0m0-5h0m0 0h0m1 16h0m4-13h0m2-5h0m0 16h0m2-6h0m1 6h0m2-11h0m6 1h0m7 8h0m0-12h0m4 18h0m0-10h0m1 1h0m2 0h0m1-1h0m0-8h0m4 14h0m0-15h0m8 9h0m5 5h0m0-10h0m1 0h0m1-3h0m0 16h0m5-8h0m1-10h0m0 13h0m3 4h0m1-10h0m1 12h0m4-1h0m8 1h0m0-14h0m0 11h0m1-8h0m3 7h0m0 2h0m4-3h0m2-5h0m0-5h0m0 12h0m1-10h0m1 4h0m2-6h0m0 13h0m4-12h0m0-4h0m2 4h0m2 4h0m0-8h0m2 5h0m1-2h0m0 1h0m0 3h0m2-8h0m1 8h0m0 1h0m0 8h0m0-8h0m0 10h0m1-10h0m1 3h0m2 2h0m1-10h0m1 4h0m0 5h0m1-4h0m2 2h0m0-7h0m2 14h0m0-2h0m1-12h0m3 8h0m0 0h0m1-11h0m0 18h0m1-3h0m1-7h0m1-2h0m0 5h0m0 2h0m1-12h0m1 13h0m0-3h0m1-8h0m1 9h0m0-6h0m1 12h0m1-14h0m2-2h0m1 1h0m0 12h0m0-16h0m2 20h0m2-9h0m0 6h0m0-8h0m1 5h0m0 3h0m1-8h0m0-1h0m1 7h0m1-3h0m1-1h0m1 9h0m0-6h0m1-6h0m0 12h0m0-1h0m2-13h0m1-1h0m0 0h0m3-1h0m0 13h0m1-16h0m1 14h0m0 3h0m0-13h0m0 0h0m0 5h0m1 1h0m1 0h0m0 7h0m2-6h0m2-3h0m0 9h0m0-15h0m0 9h0m0 0h0m2-1h0m1 1h0m1-12h0m1 8h0m0 9h0m1-12h0m2 7h0m1-6h0m0-4h0m0 17h0m1-5h0m1-11h0m1 8h0m2 7h0m2-3h0m0-5h0m1-8h0m0 0h0m8 11h0m3-3h0m1 7h0m-400 6h0m26-2h0m5 1h0m0 11h0m1 7h0m2-17h0m2 16h0m0-1h0m1-9h0m2 3h0m0 3h0m1 0h0m0-2h0m1 3h0m0-2h0m1-2h0m1-8h0m0-2h0m1 15h0m0-3h0m1-9h0m0 11h0m0-1h0m0-9h0m0-6h0m1 19h0m0-6h0m1 1h0m0-1h0m0-4h0m1 10h0m1-1h0m0-2h0m0 0h0m0-12h0m1 10h0m0-4h0m1-4h0m0 8h0m0 3h0m0-16h0m1 1h0m1 9h0m0 6h0m0-8h0m1 10h0m0-5h0m1 0h0m0 1h0m1 0h0m0-6h0m0 1h0m0-5h0m0 3h0m0-1h0m1-5h0m1 8h0m1-5h0m1 2h0m0 3h0m0 9h0m1-2h0m0-6h0m0-1h0m1 1h0m0 4h0m0 2h0m2-14h0m0 14h0m0 2h0m0-10h0m3 3h0m0 2h0m0-12h0m1 5h0m0 0h0m4 7h0m0-3h0m1 0h0m1 9h0m0-8h0m1-7h0m1 4h0m0-8h0m0 17h0m1-17h0m1 15h0m0-3h0m0 1h0m0-13h0m0 3h0m0 0h0m1 0h0m0 8h0m0-6h0m1 8h0m0 5h0m0 1h0m1-3h0m0-10h0m0 12h0m0-4h0m0-2h0m0 3h0m1-14h0m1 5h0m0 11h0m1-2h0m1 0h0m0-2h0m0 4h0m0-1h0m0-3h0m0-12h0m0 10h0m1-8h0m0 6h0m2-4h0m1-5h0m0 17h0m1-8h0m1-1h0m1-1h0m0 1h0m0-6h0m1 16h0m0-6h0m0-11h0m0 18h0m0-14h0m1 13h0m0-4h0m0 0h0m1-10h0m1 5h0m0 9h0m0 0h0m1-4h0m0 1h0m0 0h0m0-15h0m0 4h0m1-4h0m1 2h0m0 17h0m0-18h0m1 10h0m0-5h0m1-3h0m0 13h0m0 0h0m0-3h0m0 2h0m1 2h0m0-5h0m1 1h0m0 4h0m0-13h0m0-2h0m1 0h0m0-2h0m0 10h0m2-4h0m0-2h0m1 11h0m1-6h0m0 0h0m1-5h0m0 0h0m0 13h0m1 1h0m0-1h0m1-10h0m0 8h0m0-5h0m1-7h0m0 9h0m0-9h0m1 2h0m0-1h0m0-3h0m0 4h0m0-1h0m0 4h0m1-8h0m0 16h0m0-10h0m0 3h0m0-4h0m2-5h0m0 2h0m0 15h0m0-4h0m0 0h0m0 1h0m1-5h0m0-8h0m0 10h0m0-7h0m1 6h0m0-2h0m0 8h0m1 0h0m1-15h0m0 2h0m0-3h0m0 0h0m1 18h0m0-5h0m0-13h0m1 3h0m1 8h0m0-8h0m1 12h0m0-10h0m0 3h0m0-3h0m0 9h0m1-12h0m0 0h0m1-1h0m0 14h0m0 0h0m0-15h0m0 16h0m0-17h0m0 15h0m0 1h0m0-14h0m1 1h0m0 13h0m1-3h0m1-3h0m0 5h0m1-1h0m0-11h0m0-2h0m0 7h0m0 5h0m0-10h0m0 4h0m1 5h0m0-11h0m1 2h0m0 4h0m0-4h0m0 7h0m0 7h0m0-15h0m1 13h0m0-12h0m0 11h0m1 1h0m0-12h0m0 6h0m1 9h0m0-10h0m1 10h0m0-6h0m0-3h0m0-8h0m0 16h0m0-2h0m0-6h0m1 6h0m0-4h0m1-10h0m0 8h0m1 1h0m0-9h0m0 3h0m1 5h0m0 11h0m0-15h0m0 7h0m0-7h0m0 4h0m1-4h0m0 14h0m0-5h0m0-6h0m2 3h0m0 0h0m1-7h0m0 14h0m1-5h0m0-1h0m0-7h0m0 8h0m0 0h0m0 4h0m2 1h0m0-8h0m0 7h0m1-5h0m0-10h0m0 9h0m1-6h0m1-2h0m1 14h0m1-13h0m1 11h0m0-8h0m1 3h0m0-8h0m2 11h0m0-4h0m0 1h0m0 5h0m0-2h0m1-3h0m1 6h0m0-6h0m0-5h0m0 1h0m1 6h0m0-2h0m1-3h0m0 12h0m0-11h0m0 0h0m0-5h0m1 16h0m0-14h0m1 12h0m1-14h0m1 13h0m3-4h0m1-6h0m0 11h0m0-10h0m0 0h0m1 9h0m0-10h0m0 2h0m2-3h0m1 6h0m0 9h0m2-12h0m0-4h0m1 12h0m1 3h0m0-13h0m0-2h0m0 5h0m1 3h0m0 7h0m0-7h0m1-11h0m1 14h0m1-7h0m0-4h0m0 4h0m1 0h0m1 11h0m3-2h0m0-16h0m2 12h0m0 7h0m0-9h0m0-9h0m0 6h0m1-2h0m1 13h0m1-7h0m0 2h0m0 4h0m1-9h0m0-2h0m2-1h0m1 12h0m1-14h0m0 2h0m0 10h0m1-2h0m1-1h0m0-8h0m0 14h0m1-4h0m0-10h0m1 5h0m1 2h0m1 6h0m0-17h0m2 4h0m7 14h0m1-11h0m1 7h0m2-10h0m3 5h0m0-1h0m1-3h0m1 13h0m2-12h0m0 4h0m3-8h0m0 15h0m1-4h0m0-2h0m3 3h0m2-5h0m0-1h0m0 8h0m2 0h0m2-14h0m4 5h0m2-1h0m1 9h0m0-10h0m1 2h0m1-1h0m3-7h0m2 18h0m0-8h0m4-2h0m0-5h0m1 5h0m1 12h0m1-14h0m0 2h0m2 1h0m1 8h0m1-1h0m2-16h0m2 6h0m1 3h0m3 5h0m2-6h0m2-5h0m2 9h0m10 5h0m9-1h0m0-14h0m1 5h0m0-4h0m2-3h0m1 6h0m1 6h0m1-11h0m3 13h0m4-11h0m1 10h0m0-3h0m1 1h0m0-2h0m1 1h0m0-8h0m1 5h0m0-3h0m0 5h0m2 1h0m2-2h0m0-5h0m0 0h0m1 9h0m0-2h0m1 3h0m0 3h0m1-5h0m1 5h0m0-15h0m0 16h0m0-9h0m0 3h0m1 6h0m0-8h0m1-7h0m0 2h0m0 12h0m0-15h0m1 6h0m2-2h0m0 12h0m2-3h0m0-8h0m0 2h0m0 12h0m4-17h0m2 13h0m0-2h0m1 2h0m0-7h0m2-1h0m0-1h0m0 0h0m1-4h0m1 6h0m1 0h0m1-7h0m1 6h0m2 4h0m0-5h0m1 11h0m0-7h0m1 8h0m2-1h0m0-11h0m0 4h0m2-10h0m1 8h0m2-6h0m1-1h0m0 15h0m1-6h0m1 3h0m1-11h0m1 9h0m1 5h0m0-5h0m1-5h0m0 7h0m2-5h0m0-3h0m0 3h0m1-8h0m0 19h0m1-11h0m0 9h0m0-3h0m1-13h0m0 14h0m1-6h0m0 6h0m1 2h0m1-17h0m0 9h0m1 7h0m1 3h0m1-12h0m1 0h0m0 2h0m1 5h0m0-8h0m0-3h0m1 0h0m0 4h0m1-3h0m1 14h0m0-9h0m1 7h0m0-14h0m0 12h0m1-1h0m0-9h0m1 12h0m0 1h0m5-15h0m1 3h0m1 6h0m3 3h0m0-11h0m1 6h0m1 3h0m1 3h0m1-15h0m2 1h0m1 9h0m6 5h0m2-2h0m-398 7h0m4 15h0m3-13h0m9 2h0m1 10h0m1 4h0m1-1h0m1-9h0m2 9h0m1 1h0m2-6h0m1 4h0m0-3h0m1-2h0m1-1h0m3-2h0m1 11h0m0-4h0m1-4h0m0-1h0m0 9h0m1-3h0m0-9h0m1 5h0m0-1h0m0 7h0m1 1h0m0-18h0m0 17h0m0-10h0m0-4h0m0 4h0m1-1h0m0-2h0m0 6h0m0-3h0m1-9h0m0 9h0m0-6h0m1-2h0m0 4h0m1 6h0m0-9h0m0 11h0m1-9h0m1 16h0m0-15h0m0-5h0m0 9h0m0-4h0m0 8h0m1-9h0m1 1h0m1 12h0m1-16h0m0 17h0m0 2h0m1-13h0m1-3h0m0-3h0m0 1h0m2 6h0m0 0h0m1 0h0m1-4h0m1 0h0m1-2h0m0-2h0m0 19h0m0-17h0m2 11h0m2-12h0m1 3h0m1 0h0m0 1h0m1 4h0m0 0h0m1-2h0m1 7h0m1-4h0m1-2h0m0 4h0m0-8h0m1-2h0m1 16h0m1-7h0m3 4h0m0-9h0m0 12h0m0-1h0m0-16h0m1-1h0m0 1h0m1-1h0m1 1h0m0 11h0m0-4h0m1-4h0m0 11h0m0-1h0m0-14h0m1 5h0m0 7h0m1 1h0m0 3h0m0 2h0m0-17h0m0 17h0m1 0h0m0-12h0m0-1h0m0 15h0m1-19h0m0 3h0m1 0h0m1 13h0m0-14h0m1 11h0m0 3h0m0-3h0m1-2h0m0 2h0m1-1h0m0-6h0m2 8h0m0-7h0m1 2h0m0-6h0m0 12h0m1 2h0m1-6h0m0 3h0m0-3h0m1-3h0m0 5h0m0-12h0m0 4h0m1 2h0m0 2h0m2 7h0m0-12h0m0 10h0m1 3h0m0 1h0m0-1h0m1-14h0m0 14h0m0-5h0m0 1h0m1-7h0m0-3h0m0 2h0m1 12h0m0-7h0m0 8h0m0-16h0m1 6h0m0-7h0m1 2h0m0-4h0m1 2h0m0 3h0m0 0h0m0 7h0m0 6h0m0-4h0m0-1h0m1-9h0m0-4h0m0 8h0m0-1h0m0 8h0m0-12h0m1 6h0m0-9h0m0 6h0m1-5h0m0 10h0m0-1h0m1 2h0m0 6h0m0-2h0m0-6h0m1 6h0m1-12h0m0 3h0m0 8h0m0-12h0m0 2h0m0 7h0m2 7h0m0-17h0m0 3h0m0-4h0m1 10h0m0 7h0m1-14h0m0 7h0m1 7h0m0-12h0m0 4h0m1-10h0m0 4h0m0 15h0m0-8h0m0-9h0m0 5h0m1-4h0m0 4h0m0 7h0m1-11h0m0 8h0m0-9h0m0 6h0m0-2h0m0 12h0m1-3h0m0-6h0m0-7h0m0 9h0m0 6h0m0-2h0m0 2h0m0 0h0m0-8h0m2 8h0m0-6h0m1-2h0m0-2h0m0 5h0m0-8h0m1 7h0m0-3h0m0-7h0m0 18h0m0-8h0m0 1h0m1 6h0m1-2h0m0-15h0m0 16h0m1-7h0m0 5h0m0-10h0m1 8h0m0 1h0m0-14h0m0 12h0m1-11h0m0 14h0m0-10h0m0 2h0m1 3h0m1-1h0m0-5h0m0 6h0m1-8h0m0 5h0m0 8h0m0 4h0m1-12h0m0 6h0m1 2h0m0-4h0m0-3h0m0-5h0m0 9h0m0 5h0m0 2h0m0-9h0m1 2h0m0 2h0m0-12h0m1 2h0m0 7h0m1-8h0m1 8h0m1 2h0m0-2h0m0 7h0m1-1h0m0-10h0m0 9h0m0-11h0m1 14h0m0-8h0m0-5h0m1 13h0m1-9h0m0 2h0m0-10h0m0 3h0m0-1h0m0 11h0m1-4h0m1 2h0m0 4h0m1 2h0m0-1h0m1-14h0m0 7h0m1-4h0m1 12h0m0-15h0m1 15h0m0-11h0m1-1h0m0 0h0m0-1h0m0-5h0m0 14h0m0-7h0m1 3h0m0-5h0m0 12h0m0-17h0m1 10h0m0 3h0m0 4h0m1-4h0m0-3h0m0-9h0m0 17h0m0-5h0m1 2h0m0-7h0m1 5h0m0-11h0m0 16h0m1-16h0m0-1h0m0-1h0m1 9h0m0 0h0m2-7h0m0 7h0m0 9h0m1-9h0m0-6h0m1 5h0m0 0h0m0-4h0m1 0h0m0 12h0m1-10h0m3 6h0m0-3h0m0-10h0m1 8h0m1-7h0m4 18h0m1-9h0m0-5h0m1 14h0m1-3h0m1-11h0m0 14h0m1-3h0m1-13h0m0 10h0m0-8h0m1-4h0m0 0h0m1 1h0m0 18h0m0-12h0m1-7h0m0 8h0m0-4h0m0 4h0m1 9h0m0-2h0m2-5h0m1 6h0m1-8h0m0 10h0m1-3h0m0-8h0m0-3h0m0 6h0m1-3h0m0 0h0m0-5h0m2-1h0m1 6h0m0 0h0m0 9h0m1-4h0m2 4h0m0-3h0m0-3h0m1-5h0m2 9h0m3-8h0m0 6h0m1 1h0m2-7h0m0 13h0m1-2h0m0-6h0m0-2h0m0 3h0m2-6h0m1 5h0m1-9h0m0 12h0m1 5h0m1-19h0m0 9h0m1-3h0m1-5h0m2 11h0m1-6h0m1-2h0m0 2h0m0 7h0m0-1h0m0-11h0m0 10h0m1-3h0m1 3h0m0-8h0m0 8h0m1-3h0m0 5h0m6 5h0m0-16h0m2-2h0m0 6h0m1-4h0m1-3h0m0 12h0m0-4h0m0-1h0m1 1h0m3 8h0m2-8h0m3-6h0m0 16h0m2 1h0m0-5h0m2-4h0m1 7h0m1-15h0m1 8h0m1-4h0m2 10h0m1-5h0m1-5h0m0 5h0m0 6h0m2 1h0m3-17h0m1 5h0m0-2h0m1-1h0m1 13h0m0-2h0m2-5h0m2 1h0m14-7h0m1 16h0m0-3h0m3-1h0m0 5h0m2-5h0m0 1h0m1-16h0m1 1h0m1 5h0m2 5h0m1 1h0m1-3h0m0-1h0m0 8h0m1-12h0m0 10h0m1-9h0m1 7h0m1 2h0m0 1h0m1 2h0m0 1h0m4-16h0m3 2h0m1 9h0m1 3h0m1-9h0m0-5h0m0 6h0m1-6h0m0 15h0m1-16h0m1 0h0m2 10h0m0-4h0m0 1h0m1 1h0m1 4h0m0-12h0m1 18h0m0-13h0m0 9h0m1-9h0m0 12h0m2-5h0m0-11h0m0 1h0m0 10h0m1-2h0m1 6h0m3-10h0m1 0h0m0 12h0m1-5h0m0-10h0m1-3h0m1 7h0m1 3h0m0 3h0m2-11h0m0-3h0m0 18h0m1-7h0m0-6h0m1 13h0m0-13h0m1 6h0m3-5h0m2-4h0m1 14h0m0-10h0m2 13h0m1-19h0m0 16h0m1-5h0m1 3h0m2 3h0m1-12h0m1 11h0m0-14h0m0-1h0m2 14h0m1-5h0m0 3h0m1 4h0m1 0h0m0-12h0m1 6h0m0 0h0m1 9h0m1-15h0m0 10h0m1-2h0m0 6h0m1-15h0m0 12h0m1-10h0m1 10h0m2-5h0m2-2h0m1-4h0m0 2h0m0-4h0m0 16h0m0 1h0m2-16h0m0 1h0m0-1h0m0 9h0m1 4h0m3-6h0m1-5h0m0 6h0m0-6h0m1 11h0m0-1h0m1-7h0m1-3h0m3 6h0m3 1h0m0-4h0m2 7h0m2-8h0m1 4h0m1-5h0m2 4h0m1 0h0m0-5h0m0-5h0m2 6h0m8 5h0m5-4h0m2 4h0m-437 12h0m21 13h0m3-4h0m2 6h0m1-2h0m1-7h0m7 8h0m0-12h0m2 0h0m4 13h0m1-17h0m0 4h0m3 13h0m1 0h0m1-17h0m0 18h0m2-5h0m1-9h0m1 12h0m0 2h0m1-2h0m1 0h0m0 0h0m0-10h0m2 4h0m0-2h0m0-7h0m0 13h0m1-5h0m1 3h0m0-1h0m0-10h0m1 1h0m1 8h0m0-7h0m0 8h0m0-12h0m1 14h0m0-6h0m0 9h0m2 0h0m2-11h0m0-4h0m1 15h0m0-10h0m1 3h0m0-8h0m1 17h0m0-17h0m0 0h0m0 5h0m1-1h0m0 0h0m0 7h0m1-1h0m0 1h0m1-3h0m3 4h0m0 5h0m0-11h0m0 0h0m1 10h0m0-17h0m1-1h0m0 3h0m1 12h0m0-2h0m1 1h0m0-11h0m1 2h0m0-6h0m0 17h0m2-8h0m0 9h0m0-10h0m3 8h0m1-15h0m1 2h0m1 0h0m1 13h0m0-3h0m0-12h0m2 7h0m0 11h0m1-15h0m2 6h0m0-1h0m0-6h0m1 7h0m0-10h0m1 18h0m0-9h0m2-1h0m0 0h0m0 4h0m1-12h0m1 11h0m1-10h0m0 11h0m0 8h0m0-14h0m1 0h0m1 11h0m0 0h0m0 0h0m1-7h0m0-6h0m1-3h0m0 9h0m1-6h0m0 13h0m1-4h0m0-7h0m0 1h0m0 8h0m1-14h0m0 12h0m0 4h0m0-12h0m1-3h0m0 15h0m1-12h0m0 4h0m1 6h0m0-9h0m2 4h0m0-8h0m1 7h0m0 1h0m2-4h0m0 4h0m1 9h0m0-9h0m2 7h0m0 1h0m1 1h0m0-8h0m1-4h0m0 3h0m0 4h0m0 2h0m1-4h0m0-10h0m0 12h0m0 3h0m0-16h0m2 12h0m0-10h0m0 16h0m0-14h0m1 2h0m0-3h0m1-1h0m0 11h0m0-2h0m0-11h0m0 0h0m1 14h0m1-8h0m0-5h0m1 17h0m0-6h0m0-12h0m0 1h0m0 15h0m1-14h0m0 8h0m0-9h0m1 5h0m0 1h0m1 3h0m0 1h0m0-9h0m0 12h0m0 4h0m1-5h0m0-1h0m1-3h0m0-8h0m1 5h0m0-4h0m0-3h0m0 10h0m1 6h0m0-8h0m1-1h0m0 10h0m0-3h0m0 6h0m1-3h0m1-10h0m0 0h0m0 0h0m0 9h0m1-4h0m0 3h0m1 2h0m0-3h0m1-2h0m0-3h0m1-8h0m0 15h0m0-8h0m1-2h0m0-4h0m0 13h0m0-5h0m0 8h0m1-8h0m0-9h0m0 0h0m0 16h0m0-10h0m1 2h0m0-3h0m1 11h0m0-7h0m1 8h0m0-4h0m0-7h0m1-5h0m0 0h0m0 2h0m0-3h0m0 11h0m1-10h0m0 16h0m2-11h0m0 10h0m0-1h0m1 4h0m0-19h0m1 13h0m1-2h0m0-8h0m0 7h0m0-1h0m0-3h0m0 2h0m1 3h0m0 3h0m0-14h0m0 15h0m0 2h0m0-14h0m0 1h0m1 1h0m0 11h0m0-9h0m1-2h0m0-3h0m0 12h0m0-7h0m1-3h0m0-5h0m0 8h0m1-3h0m0 11h0m0 3h0m0-17h0m0 4h0m1 6h0m0-11h0m0 17h0m0-1h0m1-16h0m0 1h0m0 14h0m0-14h0m0 17h0m1-4h0m0-10h0m0 9h0m0 0h0m0-11h0m0 16h0m2-10h0m0 7h0m0-9h0m0 7h0m1-11h0m0 11h0m0-13h0m1 12h0m0 0h0m0-1h0m0 7h0m0-8h0m0-4h0m1 2h0m0 7h0m0-9h0m0-2h0m1 9h0m0-11h0m0 11h0m0 5h0m1-8h0m0-6h0m0-1h0m1 10h0m0-8h0m1 1h0m0 7h0m0 5h0m0-9h0m1 1h0m0-1h0m0-7h0m0 0h0m1 9h0m0-3h0m0 1h0m0 3h0m0 0h0m1 5h0m0-8h0m0 10h0m1-3h0m0 0h0m0-2h0m2-11h0m1 6h0m0-2h0m1 4h0m0-6h0m0 1h0m1 3h0m0 6h0m1 2h0m0-4h0m1-5h0m0 0h0m0 8h0m1 1h0m0-10h0m1 10h0m0 2h0m0-15h0m0 6h0m0-4h0m1-6h0m0-1h0m0 19h0m1 0h0m0-11h0m0 1h0m1 0h0m0-6h0m0 13h0m1 0h0m1 1h0m0-14h0m0 14h0m0-7h0m1-4h0m0 2h0m0 10h0m2-4h0m1-9h0m0 4h0m0-3h0m0 14h0m1-7h0m0-11h0m0 4h0m1 8h0m1-4h0m1-7h0m0 12h0m1 1h0m0-15h0m1 5h0m0 8h0m1-10h0m1 3h0m1 13h0m0-20h0m1 8h0m1-7h0m0-1h0m0 0h0m1 18h0m0-4h0m2 5h0m0-16h0m2 8h0m2-9h0m2 8h0m1 3h0m1 3h0m0-1h0m1-13h0m1-1h0m1 12h0m0 1h0m1-11h0m0 3h0m1 13h0m0-14h0m0 8h0m2 4h0m2-15h0m0 13h0m1-6h0m0 8h0m0 1h0m1 2h0m1-9h0m0 3h0m1-1h0m1 2h0m1 1h0m4 4h0m2-3h0m2-11h0m3-2h0m0 11h0m0-11h0m2 9h0m0-11h0m0 2h0m1 5h0m1-5h0m0 10h0m0-11h0m3 11h0m1 0h0m1 1h0m0-10h0m2 10h0m1-7h0m1-5h0m1 16h0m0-14h0m2 9h0m2 5h0m0-5h0m1-11h0m1 11h0m1-3h0m0-8h0m0 17h0m1-9h0m0-3h0m1-7h0m0 2h0m1 14h0m0-3h0m0 2h0m1-2h0m0-13h0m1 5h0m1 13h0m0-2h0m2-16h0m0 18h0m0-3h0m1-11h0m3-2h0m3 9h0m1-9h0m0-2h0m1 6h0m0 6h0m2-12h0m1 17h0m2-17h0m0 10h0m0 9h0m1-5h0m0-12h0m1 6h0m3-7h0m1 6h0m0-3h0m1 7h0m0 5h0m0-3h0m0-4h0m1-9h0m0 14h0m2-12h0m0 9h0m2 1h0m0-12h0m2 14h0m1-2h0m0 1h0m1-7h0m3-4h0m1 0h0m0-1h0m1 4h0m0 12h0m0-5h0m0-6h0m1 0h0m0 0h0m1-2h0m1 10h0m1-3h0m2 3h0m2 3h0m1-9h0m1-9h0m1 6h0m0 5h0m1-6h0m1 0h0m1 2h0m2 11h0m5-5h0m3 3h0m0-10h0m4 9h0m0 2h0m0-1h0m1-10h0m1-2h0m2-3h0m2 15h0m0-5h0m0-4h0m0 9h0m0-12h0m1 7h0m0-5h0m0-3h0m1 16h0m0 0h0m0-6h0m0-12h0m1 2h0m1 4h0m0-4h0m0-2h0m2 12h0m0 3h0m0 3h0m1-10h0m2 7h0m0 2h0m0-17h0m1 9h0m1 9h0m0-3h0m1-2h0m1-1h0m2-8h0m2 7h0m1-3h0m2 1h0m0-5h0m0 9h0m1-1h0m2 6h0m1-9h0m0 4h0m2 3h0m1-6h0m0 5h0m1-3h0m2 2h0m1 1h0m0 0h0m0 0h0m1-3h0m1-11h0m3 16h0m1-12h0m1 13h0m0-8h0m0 7h0m0 1h0m0-17h0m1 2h0m3 4h0m1 8h0m0-3h0m3 5h0m0-15h0m1 8h0m0 0h0m3-6h0m3 4h0m0 4h0m1-6h0m0-1h0m1 6h0m0-10h0m0 12h0m2 3h0m0 1h0m1-2h0m0-9h0m1-6h0m1 10h0m0 2h0m1-10h0m1 8h0m1 6h0m2-14h0m0 17h0m1-16h0m2-2h0m0 8h0m1-2h0m1 11h0m3-14h0m1 12h0m0-16h0m1 18h0m1-8h0m0-5h0m0-1h0m2 13h0m5-15h0m2 2h0m1-4h0m0-1h0m1 8h0m3-5h0m-442 28h0m5-8h0m3 2h0m12 2h0m0 9h0m2-1h0m3-2h0m3-8h0m3 14h0m0-4h0m1 3h0m0-6h0m2-8h0m0 11h0m4-5h0m2-6h0m1 2h0m1 11h0m0-2h0m1 3h0m1-1h0m4 1h0m0-8h0m0 9h0m0-12h0m1 3h0m1 1h0m0-5h0m0 11h0m1-12h0m0 14h0m2 1h0m0-8h0m0 1h0m0-2h0m1-8h0m1 8h0m0 2h0m1-4h0m1 8h0m0 2h0m0-8h0m1-5h0m0 7h0m0 6h0m0-11h0m1 7h0m1-11h0m0 10h0m0-13h0m1 5h0m0 2h0m0-5h0m0 9h0m1-2h0m0-8h0m0 12h0m0-13h0m1 8h0m0 5h0m0-14h0m0 15h0m2-9h0m1 1h0m0 7h0m0-11h0m1 10h0m0 0h0m1-8h0m0-2h0m0 6h0m0-5h0m1 16h0m0-11h0m0-8h0m0 12h0m1-8h0m0-2h0m1 2h0m1 14h0m0-7h0m2 5h0m0-10h0m0 7h0m0-8h0m1 7h0m0-5h0m0-6h0m0 9h0m1 3h0m2-2h0m1-9h0m3 7h0m0-7h0m4 0h0m1 4h0m0 11h0m0-7h0m0 8h0m1-12h0m0 12h0m1-8h0m1-3h0m0-6h0m1 17h0m1-3h0m1 4h0m0-8h0m0-7h0m1 9h0m0-7h0m1 6h0m0 3h0m1 3h0m4-1h0m2-11h0m0 0h0m1 2h0m0-7h0m1 1h0m1 13h0m1 0h0m0-4h0m1-9h0m0 11h0m0-12h0m0 5h0m1 10h0m0-12h0m0-3h0m1 14h0m0-7h0m0-7h0m0 15h0m0-1h0m1-5h0m1 1h0m1-1h0m1 1h0m0-6h0m1-2h0m0 4h0m2-4h0m0 10h0m0 0h0m0-5h0m1 8h0m0-9h0m1-3h0m1 3h0m0 2h0m0-3h0m1-3h0m0 5h0m1 4h0m1-6h0m0 9h0m0-5h0m0 4h0m0-1h0m1-11h0m0 6h0m1 2h0m0 7h0m0-4h0m1 1h0m0-5h0m0-2h0m0 0h0m0-5h0m1 12h0m0-3h0m0-3h0m1-9h0m0 3h0m0 17h0m1-1h0m1-2h0m0-9h0m0 0h0m0 8h0m1-6h0m0-9h0m0 10h0m1-7h0m0 14h0m0-4h0m0-2h0m0-11h0m0 14h0m1 2h0m0-15h0m0 9h0m1 4h0m0-3h0m1 0h0m1 8h0m0-7h0m0-5h0m0-1h0m0 4h0m1 4h0m0 4h0m0-5h0m0-13h0m1 0h0m1 0h0m0 5h0m1 12h0m0-9h0m1 8h0m0-15h0m1 1h0m0 10h0m0 4h0m1 2h0m0-5h0m0 3h0m1-14h0m0 6h0m1-5h0m0 12h0m0-1h0m1-8h0m1-1h0m0 3h0m1-4h0m0 3h0m0 7h0m1-9h0m0 13h0m0-9h0m0 3h0m0-7h0m1 12h0m1-12h0m0 9h0m0 0h0m0-8h0m1 3h0m0 9h0m0-13h0m0 10h0m0-11h0m1 8h0m0-8h0m0 8h0m1-5h0m0 0h0m1 10h0m0-8h0m0 6h0m1-11h0m0-1h0m0 3h0m1 12h0m0-5h0m0 1h0m0-13h0m0 4h0m1 7h0m0 0h0m0 1h0m1 5h0m0-16h0m1-3h0m1 16h0m0-2h0m0-1h0m0 5h0m1-15h0m0 0h0m1 9h0m0 8h0m0-11h0m1-8h0m0 0h0m0 18h0m0-15h0m1 0h0m1 9h0m0-5h0m1 10h0m0 1h0m0-3h0m1-13h0m0 16h0m0-13h0m0-1h0m0 14h0m1-17h0m0 2h0m0 4h0m0 9h0m1 3h0m0-17h0m0-3h0m0 12h0m1-5h0m0-2h0m0 11h0m0-12h0m0 1h0m0 13h0m0 2h0m1-6h0m0-13h0m1 5h0m0 9h0m0-6h0m0 7h0m0-12h0m0 7h0m0 4h0m1-7h0m0 0h0m0 3h0m0-4h0m0-1h0m0-5h0m0 12h0m0-2h0m1-6h0m1 15h0m0-16h0m0-3h0m0 15h0m1-9h0m0 5h0m1-1h0m1 8h0m0-5h0m0-13h0m0 16h0m0-17h0m0 9h0m0 4h0m1-9h0m0 9h0m0 0h0m0-8h0m1 8h0m1-3h0m0-1h0m1 9h0m0 0h0m0-6h0m1 7h0m0-10h0m0 6h0m1-12h0m0 15h0m1-1h0m0-6h0m0 5h0m1-14h0m0 4h0m0 2h0m0-8h0m0 5h0m0-1h0m1-3h0m0 0h0m0 17h0m1-9h0m1 2h0m1-8h0m0 14h0m1-1h0m0-9h0m0-6h0m0 4h0m1 3h0m0-7h0m1 3h0m0 0h0m0 10h0m0-13h0m0 3h0m1 4h0m0 5h0m0 6h0m1-9h0m1 0h0m1 6h0m0-7h0m1 3h0m1-7h0m0 12h0m0-10h0m1 6h0m0 6h0m0-5h0m0 0h0m3-8h0m0 14h0m1-17h0m1 7h0m1 7h0m1-9h0m0 8h0m1-10h0m0 9h0m0 3h0m0-4h0m1-12h0m0 8h0m0 6h0m1-16h0m0 11h0m0 8h0m1 1h0m0-16h0m0 2h0m1-5h0m0 11h0m4 7h0m1-15h0m1-1h0m0 8h0m2-6h0m0 12h0m0-15h0m0 13h0m2-14h0m0 17h0m0-11h0m1 9h0m0-13h0m0 4h0m1 10h0m0-9h0m1 10h0m1-8h0m0 6h0m1-12h0m0 6h0m1 4h0m0-13h0m1 16h0m1-17h0m0 12h0m0-4h0m1-3h0m0 1h0m1 12h0m0-16h0m0 16h0m0-6h0m1-10h0m0 13h0m0-8h0m2-1h0m0 9h0m0-7h0m0-1h0m0 0h0m0-5h0m1 17h0m1-12h0m3-3h0m0-3h0m0 19h0m1-5h0m1-11h0m0 0h0m1 3h0m0 13h0m1-15h0m0 3h0m1 9h0m1-11h0m0-1h0m3 3h0m0 2h0m1-7h0m0 13h0m0-1h0m0-7h0m0 11h0m2-1h0m1-8h0m0-6h0m0 10h0m1 2h0m2-14h0m0 5h0m1 8h0m0-6h0m1 6h0m0-8h0m1-3h0m1 9h0m0 2h0m2-6h0m4-8h0m0 4h0m0-3h0m1 0h0m0 4h0m2 6h0m1-5h0m0 0h0m0 4h0m0-9h0m1 3h0m2 8h0m0 7h0m0-7h0m0 6h0m1-10h0m1-8h0m1 14h0m0 2h0m1-8h0m2 5h0m1-9h0m0-5h0m0 15h0m1 1h0m1-12h0m1 2h0m0 12h0m2-12h0m2 10h0m0 4h0m0-14h0m1 10h0m1 4h0m0-14h0m1-1h0m1 11h0m0-15h0m0 16h0m0 2h0m1-14h0m0 8h0m1-7h0m0 4h0m2 7h0m1-6h0m0-8h0m1 4h0m0-2h0m1 5h0m2-2h0m0-1h0m1 10h0m3-6h0m2-5h0m0-6h0m1 13h0m2-3h0m2-1h0m0-5h0m1-1h0m0 4h0m1 11h0m0-8h0m2 3h0m1 5h0m0-10h0m0 12h0m1 0h0m0-17h0m0 1h0m1 2h0m0-2h0m1 13h0m0 1h0m1-1h0m3-16h0m0 5h0m0 2h0m0-3h0m0 8h0m1-7h0m0 7h0m3-10h0m1 17h0m2-14h0m1 11h0m1 0h0m0-14h0m1 11h0m2 2h0m0-13h0m2 16h0m1-3h0m0-5h0m0-4h0m1 11h0m0-1h0m0-10h0m2 9h0m0-7h0m0 4h0m1 4h0m1-2h0m0-10h0m2 10h0m1-14h0m0 8h0m0-6h0m1 3h0m1 5h0m0-3h0m1-5h0m0 3h0m0 3h0m1 3h0m0 1h0m0 4h0m1 1h0m0-12h0m1-1h0m0 13h0m0-7h0m1-7h0m0 4h0m0-5h0m1 5h0m1 6h0m0 0h0m1 1h0m0-7h0m1 8h0m1-11h0m0-3h0m0 1h0m0 11h0m0 2h0m0-10h0m0 6h0m3 1h0m0-4h0m0-4h0m2 6h0m0-8h0m0 1h0m1 4h0m0-1h0m0 7h0m1-3h0m0 0h0m2 5h0m1-8h0m0-5h0m0-2h0m0 7h0m2 1h0m3 2h0m0-2h0m0 8h0m1 0h0m1-7h0m2-2h0m1-1h0m0-3h0m0-2h0m1-1h0m2 5h0m0-4h0m1 8h0m0 3h0m4-3h0m0 5h0m0-8h0m2 6h0m3 5h0m1-1h0m0 0h0m1-16h0m1 16h0m1-8h0m1 7h0m1-9h0m0 3h0m2 4h0m0 4h0m1-3h0m2-10h0m2 6h0m0 6h0m2-8h0m2 6h0m0-7h0m2 1h0m1-7h0m0 17h0m0-11h0m3 11h0m2-6h0m1-9h0m0 3h0m4 1h0m1 0h0m4-5h0m0 2h0m0 11h0m1-15h0m5 0h0m3 6h0m3 2h0m1-1h0m0-8h0m1 5h0m3 5h0m-456 29h0m3 1h0m1-1h0m5-4h0m7-11h0m9-1h0m1 6h0m2 8h0m4 1h0m1-2h0m6 4h0m0-6h0m1-3h0m0-7h0m1 13h0m1-8h0m0 9h0m0 1h0m2-11h0m0 2h0m1 3h0m1 0h0m1 5h0m0-7h0m1 1h0m0 3h0m1-14h0m0 14h0m0-7h0m1 2h0m0-6h0m2 13h0m0-2h0m0-2h0m1-6h0m0 6h0m0-2h0m1 3h0m1 0h0m1-3h0m0-2h0m0 0h0m0 4h0m0 4h0m1 1h0m0-3h0m1 2h0m1-5h0m0-6h0m0 4h0m1-6h0m0 13h0m0 1h0m1-12h0m0 8h0m0-11h0m1 7h0m0-5h0m1 14h0m0-11h0m1-7h0m0 7h0m1-1h0m0 3h0m1-5h0m1 12h0m1-14h0m0 7h0m1-5h0m0 15h0m0-7h0m1 0h0m0-7h0m1 0h0m0 5h0m0-6h0m0 8h0m1-12h0m0 1h0m1 5h0m1 9h0m0-14h0m2 15h0m0-13h0m1 0h0m0 7h0m1-11h0m1 8h0m1 1h0m1 10h0m1-9h0m2 6h0m2-6h0m0-9h0m1 3h0m0 12h0m0 0h0m1 2h0m0 1h0m0-12h0m1-6h0m1 14h0m0-12h0m0 9h0m1-1h0m1-4h0m0 12h0m2-18h0m0 8h0m0 6h0m0-10h0m0 9h0m0 5h0m1 1h0m0-1h0m0 0h0m0-9h0m2 0h0m0 10h0m1-1h0m0-14h0m0 10h0m1 4h0m0-2h0m0-6h0m1-6h0m0 10h0m0-13h0m1 14h0m0 4h0m1-5h0m1-13h0m0 9h0m0-3h0m1 2h0m1 3h0m1 1h0m0-1h0m0-6h0m1-2h0m0-3h0m0 2h0m0 0h0m1-2h0m1 14h0m0 1h0m0-16h0m0 14h0m0 2h0m1-6h0m1-2h0m0 9h0m1-6h0m0-5h0m1-3h0m1-1h0m0 15h0m0-4h0m1-11h0m0 4h0m1-2h0m1 4h0m0-9h0m0 0h0m0 1h0m2 14h0m0 3h0m0-15h0m0 5h0m1-1h0m0 4h0m0 3h0m0 1h0m2-3h0m1 7h0m0-15h0m1-2h0m0 11h0m1 7h0m1-8h0m1 0h0m0 7h0m0-16h0m1 13h0m0 0h0m1 3h0m0-15h0m1 0h0m0 14h0m0-8h0m1 8h0m0-17h0m1 0h0m0 10h0m0-5h0m0 7h0m0-5h0m1-4h0m0 2h0m0 1h0m0 7h0m1-12h0m0 7h0m0-2h0m1-1h0m0-1h0m1 10h0m0-13h0m1 4h0m0-1h0m1 13h0m0-2h0m0-9h0m0 0h0m1 6h0m0-11h0m1 6h0m0-7h0m0 9h0m0 8h0m0 2h0m0-5h0m0-4h0m0-4h0m1 11h0m0-18h0m0 8h0m1 8h0m1-4h0m0-12h0m1 14h0m0-9h0m0-2h0m0 5h0m1 0h0m0 3h0m1-8h0m0 5h0m1-7h0m1 18h0m0-5h0m1-2h0m0 3h0m1-1h0m0-9h0m0 14h0m0-8h0m0-9h0m0 3h0m1-5h0m1 11h0m0 4h0m0-4h0m1 2h0m1-13h0m1 12h0m0 3h0m1 0h0m0 5h0m0-12h0m0-7h0m0 7h0m0 4h0m0 7h0m1 0h0m0-15h0m0-2h0m1-1h0m0 9h0m1-5h0m0 3h0m0 3h0m1 2h0m0 5h0m0-5h0m0-9h0m0 1h0m0 4h0m1-3h0m0 7h0m0-5h0m0-6h0m1 13h0m0 4h0m0-18h0m1 1h0m0 5h0m1 5h0m0-2h0m0-5h0m0-4h0m1 9h0m1 9h0m0-7h0m0 6h0m1-4h0m1-5h0m0 2h0m1 8h0m0-12h0m0-6h0m0 6h0m0-1h0m1 5h0m0 7h0m1-11h0m0-3h0m0 6h0m0-8h0m1 4h0m0 10h0m0-2h0m0 4h0m0 0h0m0-17h0m0 19h0m0-9h0m0-3h0m1-7h0m0 14h0m0-11h0m1 14h0m0-2h0m0-8h0m0 7h0m0-6h0m0 1h0m1 9h0m0-11h0m0 3h0m0 2h0m0-6h0m0 13h0m1-16h0m0 8h0m0 7h0m0-3h0m0-9h0m0-5h0m0 7h0m1 10h0m0-16h0m0 14h0m1-5h0m0-2h0m1 2h0m0-5h0m0 2h0m0 5h0m0-5h0m1 8h0m0-10h0m0 8h0m1-3h0m0 8h0m1-6h0m0-11h0m1 17h0m0-12h0m0 10h0m0-9h0m0-7h0m0 2h0m0 1h0m0 11h0m1-4h0m0 0h0m1-4h0m0 10h0m1-7h0m0 8h0m0-16h0m0 13h0m1-15h0m1 3h0m0-1h0m0 3h0m0 14h0m1-20h0m0 6h0m0-4h0m0-1h0m0 9h0m0 1h0m1 3h0m0-3h0m0-11h0m0 11h0m1 7h0m0-8h0m0-1h0m1 6h0m0-4h0m1 6h0m1-6h0m1-10h0m1 16h0m0-14h0m0 6h0m0-4h0m0-3h0m0 17h0m0-3h0m1-11h0m0 9h0m0 1h0m0-9h0m0-6h0m1 3h0m0 12h0m1 2h0m0-1h0m0-14h0m1 15h0m0-13h0m0 9h0m1-10h0m0 0h0m0 8h0m0-4h0m0 11h0m0-17h0m1 13h0m1-12h0m0 13h0m1 4h0m0-9h0m0 7h0m0-14h0m1 15h0m0-2h0m0-8h0m0-7h0m1 9h0m1 10h0m0-12h0m0-7h0m0 15h0m1-5h0m0 0h0m0 7h0m0-5h0m0 3h0m1-8h0m0 11h0m1-18h0m0 17h0m1-17h0m0 7h0m0-1h0m1-1h0m0 12h0m1-14h0m0 15h0m0-3h0m0-12h0m0 15h0m0-8h0m2 1h0m0-8h0m0 5h0m0-1h0m0 1h0m0-4h0m0 11h0m1-14h0m0 11h0m1 5h0m0-13h0m1-1h0m0 14h0m1-16h0m0 16h0m1-8h0m0-2h0m0-3h0m1 4h0m0-4h0m0-3h0m0 1h0m1 12h0m0-13h0m0 16h0m0-6h0m1-6h0m0 7h0m1-13h0m0 3h0m0 17h0m1-2h0m0-8h0m0 10h0m1-15h0m0 13h0m1 0h0m2 1h0m0-5h0m1-1h0m0 4h0m0-6h0m1 0h0m0-5h0m0 11h0m0-5h0m1 4h0m0-6h0m0 6h0m0-9h0m0-1h0m0-4h0m0 0h0m1 2h0m0-4h0m0 18h0m2-16h0m1-1h0m0 16h0m0-16h0m0 1h0m0 7h0m0 3h0m0-10h0m1 12h0m1-5h0m0-3h0m3 6h0m0-3h0m1-1h0m1 12h0m0-17h0m1 1h0m0 14h0m0-4h0m0-7h0m1 4h0m0-5h0m0-1h0m2 4h0m2-3h0m1 9h0m1-2h0m1 2h0m0-10h0m0-3h0m0 1h0m0 10h0m0-6h0m0 10h0m1-10h0m0 4h0m0-9h0m0 1h0m1 14h0m1-5h0m0-10h0m1-2h0m1 13h0m1-8h0m1-5h0m1 12h0m1-9h0m3 11h0m0-4h0m0 8h0m1-5h0m0-3h0m0 0h0m1-6h0m0 12h0m2-13h0m0 14h0m1-1h0m0 4h0m1-4h0m2-2h0m0-6h0m1 6h0m1 3h0m0-6h0m0 7h0m1-3h0m0 2h0m1-7h0m0 6h0m0 1h0m3-16h0m0 13h0m0-8h0m1 1h0m0-7h0m3 15h0m2-7h0m0 2h0m1 6h0m1-7h0m0 6h0m0-7h0m1 0h0m0-4h0m1 15h0m0-4h0m0 0h0m0-8h0m1 5h0m0-4h0m0 0h0m0 8h0m0 0h0m1-14h0m1-1h0m0 8h0m1 0h0m0-8h0m1 17h0m0-9h0m1-2h0m4-1h0m0-6h0m1 3h0m1 5h0m5 8h0m1-16h0m0 18h0m0-6h0m1-1h0m0 1h0m1-4h0m1 4h0m0 4h0m0 3h0m1-12h0m1-2h0m2 8h0m0 4h0m1-2h0m0 2h0m1-4h0m0-2h0m0-1h0m0-6h0m0 0h0m2 4h0m0-1h0m0 5h0m1-2h0m0 8h0m0-14h0m1 1h0m0-2h0m0 15h0m1-12h0m1 6h0m1-5h0m0 4h0m0 9h0m1-2h0m0-17h0m0 12h0m0 1h0m1-13h0m0 2h0m1 12h0m0 0h0m1-7h0m1 12h0m1-19h0m1 4h0m1 12h0m2-11h0m0 8h0m0-3h0m0-6h0m1 14h0m0-8h0m2 1h0m0 7h0m0-4h0m0-5h0m1 1h0m2-5h0m1 13h0m2-2h0m0-17h0m1 12h0m1 8h0m0-8h0m1-1h0m1-7h0m0 5h0m1 8h0m1-4h0m1 0h0m1 6h0m3-18h0m0 11h0m1-1h0m0 7h0m1-13h0m0 6h0m0 4h0m0-14h0m1 8h0m1-4h0m0 10h0m1-14h0m1 18h0m1-13h0m0 1h0m1 12h0m1-12h0m4 10h0m1-14h0m1 12h0m0-8h0m2 0h0m0-5h0m0 5h0m1 5h0m1-7h0m0-3h0m0 17h0m2-2h0m2-9h0m1-6h0m1 15h0m1 3h0m0-6h0m0-3h0m0 6h0m1-3h0m0-7h0m1 7h0m1 4h0m0-16h0m3 9h0m1 6h0m0 1h0m0-1h0m1-7h0m1 9h0m2-4h0m1-10h0m1 4h0m1-8h0m0 11h0m0 6h0m1 1h0m1-11h0m2 6h0m1-12h0m1 14h0m1 3h0m0-19h0m0 8h0m1 11h0m1-8h0m1 1h0m1 4h0m1-5h0m1-9h0m1 12h0m2 2h0m3-4h0m0-2h0m1-4h0m1-4h0m2 17h0m2-8h0m2 1h0m3 1h0m1-6h0m0-1h0m2-1h0m1-1h0m2-2h0m9-1h0m-486 33h0m7-13h0m6 14h0m10 4h0m6-7h0m12-5h0m0 8h0m0-6h0m2-5h0m1 2h0m0 11h0m4-7h0m1 9h0m3-14h0m1 13h0m0-9h0m1-6h0m0 17h0m5-1h0m1-4h0m3-5h0m2 3h0m4 3h0m0-6h0m4-6h0m0 14h0m1-18h0m0 13h0m0 5h0m1-6h0m1 3h0m1 5h0m1-11h0m1-2h0m0 11h0m1-7h0m0-10h0m1 6h0m0 11h0m1-18h0m0 3h0m1 12h0m1 5h0m0-8h0m1-9h0m1 6h0m0 8h0m0-8h0m0-2h0m0 4h0m0 5h0m1-3h0m0 0h0m1-7h0m0-5h0m0 11h0m1-8h0m0 0h0m1 12h0m0 3h0m0-11h0m0-4h0m1-2h0m0 1h0m0-1h0m3-1h0m0 12h0m0-10h0m1 15h0m1-10h0m0 6h0m0-8h0m0 0h0m0 7h0m0-7h0m0 2h0m1 0h0m0-5h0m1 16h0m0-13h0m0-1h0m2 15h0m2-18h0m1 6h0m2 1h0m0 2h0m2-2h0m0 11h0m0-4h0m1-16h0m1 13h0m0-2h0m1-10h0m1 5h0m4 13h0m0-6h0m2-2h0m1-3h0m2 9h0m1-6h0m1-3h0m1-8h0m0 13h0m0-6h0m1 12h0m0 0h0m0-7h0m0-5h0m0 10h0m1-8h0m1 7h0m0 0h0m0-9h0m0-2h0m2-4h0m0 4h0m3 3h0m1-3h0m1 1h0m1 13h0m1-9h0m0-1h0m0-5h0m0-2h0m1 4h0m1 7h0m0 3h0m2 1h0m0-1h0m1-16h0m0 14h0m1-7h0m0 7h0m1 4h0m0-2h0m0-10h0m0-2h0m1 2h0m1-3h0m0 14h0m1-9h0m0 3h0m1 5h0m0 2h0m1-7h0m1 0h0m0-5h0m1 11h0m0-2h0m1-7h0m0 1h0m0-2h0m1 10h0m1-14h0m1 7h0m3-2h0m0 0h0m0 1h0m0-8h0m0 17h0m0-13h0m1 8h0m0-12h0m0 9h0m0-4h0m1 4h0m0 9h0m0-18h0m0 18h0m1-6h0m0-5h0m0 7h0m1-5h0m1-7h0m1 16h0m0-13h0m1-1h0m1-4h0m0 9h0m1 0h0m0 8h0m1-9h0m1-9h0m0 5h0m1-3h0m0 14h0m0 1h0m0-2h0m0-15h0m0 12h0m1 6h0m1-17h0m0 9h0m1 9h0m0-6h0m1-7h0m1 0h0m1 0h0m1 9h0m0-1h0m0-9h0m0 9h0m1-8h0m1-6h0m2 7h0m0 3h0m1 9h0m0-19h0m1 11h0m0 2h0m0-5h0m0-5h0m1 17h0m3-9h0m0 2h0m0 5h0m0 2h0m1-9h0m0 3h0m1-11h0m0 0h0m1 12h0m0-3h0m0-5h0m0 12h0m0-12h0m1 2h0m1 2h0m0 8h0m0 1h0m1-7h0m1 3h0m0-15h0m1 1h0m0 13h0m0 4h0m1-18h0m0 0h0m0 5h0m1-3h0m0 1h0m0 5h0m1 6h0m0-6h0m0-5h0m0 1h0m1 7h0m1 2h0m0-4h0m0 6h0m0-5h0m1-4h0m0-1h0m1 2h0m0 9h0m0-15h0m1 14h0m0-1h0m1-4h0m0 8h0m1-3h0m0-11h0m0 6h0m1-5h0m0-3h0m1 15h0m0-4h0m0-11h0m0 16h0m0-6h0m0-9h0m0 3h0m1 10h0m0-10h0m0-2h0m1 7h0m0-11h0m0 8h0m0-4h0m0-1h0m1 4h0m0 6h0m0 3h0m0-10h0m1-2h0m0 8h0m0-2h0m0-8h0m0 10h0m0-4h0m1-5h0m0 9h0m1-12h0m2 16h0m0 0h0m0-11h0m0 13h0m0-6h0m0-4h0m0 8h0m0-6h0m1 7h0m0-7h0m0-1h0m0 7h0m1-13h0m0-1h0m0-1h0m0 10h0m1 7h0m0-6h0m0 2h0m0-2h0m1 2h0m0-15h0m0 18h0m0-16h0m0 15h0m1-8h0m0-3h0m1 0h0m0 11h0m0 1h0m0-16h0m0 14h0m0-10h0m0 6h0m0-11h0m1 15h0m0-2h0m0 3h0m0-11h0m0 0h0m0 7h0m0 6h0m0-6h0m0-1h0m1 4h0m0-8h0m1-2h0m0-4h0m0 0h0m0 2h0m1 13h0m0-13h0m0 2h0m0 2h0m1 1h0m0-2h0m0 11h0m1-3h0m0 1h0m0-1h0m0-12h0m0 1h0m0 2h0m1-2h0m0 8h0m0 2h0m0-7h0m1-1h0m0 12h0m0-2h0m0 0h0m0-10h0m0 0h0m1 10h0m0-1h0m0 4h0m0 1h0m0-14h0m0 8h0m1-8h0m0-3h0m1 2h0m0 7h0m0-11h0m0 8h0m0 1h0m0 2h0m1 1h0m0 1h0m1-14h0m0 1h0m0 6h0m0 6h0m0 4h0m0-16h0m0 9h0m0 1h0m0-2h0m1-6h0m0 2h0m0 14h0m0-18h0m0 13h0m1 0h0m0 6h0m0-11h0m0 10h0m0-15h0m0 13h0m1-3h0m0-1h0m0-4h0m0-1h0m0-6h0m0 17h0m1-19h0m0 6h0m0 2h0m0-6h0m0 2h0m2 0h0m0 13h0m0 0h0m0-15h0m0 17h0m0-6h0m0 4h0m0-12h0m1 5h0m0-8h0m1 15h0m0-5h0m1-2h0m0-2h0m0 4h0m0-2h0m1-1h0m0-2h0m1-5h0m1 9h0m0 7h0m0-10h0m0-2h0m0 12h0m0-6h0m1-7h0m0 11h0m0 3h0m0-4h0m1-11h0m0 11h0m0-12h0m0 8h0m0 5h0m1-4h0m0-6h0m0-3h0m0 12h0m1-2h0m0 6h0m0-13h0m0 2h0m0 0h0m0 2h0m1 3h0m0-13h0m0 17h0m1-13h0m0-1h0m0 8h0m0-6h0m2 12h0m0-1h0m0-3h0m1-10h0m0 7h0m0-5h0m0 8h0m0-10h0m0 6h0m1 8h0m0-12h0m0-2h0m0 13h0m0 1h0m1-1h0m0 2h0m0-16h0m0 11h0m0-10h0m1 4h0m0 5h0m0 1h0m0 0h0m0 4h0m2-11h0m0-3h0m0 6h0m1 11h0m0-10h0m0 3h0m1 3h0m0 4h0m0-17h0m0 1h0m0 2h0m0 3h0m1 9h0m0-2h0m0-1h0m0-13h0m1 16h0m0-12h0m0 10h0m0-9h0m0 11h0m1 0h0m0-15h0m0 12h0m1-4h0m0 4h0m0-4h0m2-4h0m0 0h0m0 9h0m0-3h0m0 5h0m2-2h0m0-1h0m0-2h0m0-12h0m1 4h0m1 12h0m0-12h0m0 12h0m1 2h0m0-13h0m0 6h0m0-5h0m0-5h0m0 2h0m1 11h0m0-1h0m0-12h0m1 9h0m0-3h0m0-8h0m1 10h0m0 9h0m0-11h0m0-2h0m1 1h0m0-3h0m0-1h0m0 8h0m1 7h0m0-15h0m0 2h0m0 0h0m0 5h0m0 3h0m0-2h0m1 3h0m0-9h0m0 5h0m0-1h0m1 3h0m0 4h0m0-6h0m1-5h0m0 3h0m1 9h0m1-2h0m1-2h0m1-5h0m0 4h0m0 3h0m0-10h0m1 9h0m0 1h0m0 4h0m0-11h0m0-2h0m0 13h0m2-16h0m0-1h0m0 12h0m0-3h0m1-7h0m0 0h0m0 2h0m0 8h0m1-3h0m0-9h0m0 1h0m0-3h0m1 14h0m0-2h0m0-7h0m0-4h0m0 15h0m1-1h0m1-9h0m0-2h0m1 7h0m2-4h0m0 10h0m0-4h0m0-1h0m1-9h0m1-3h0m0 8h0m1-5h0m0 16h0m1-19h0m0 18h0m0-10h0m1 10h0m1-9h0m1 11h0m1-11h0m0-2h0m0 6h0m0-12h0m0 6h0m1 12h0m0-1h0m1-6h0m0 7h0m1-2h0m1 2h0m1-3h0m0-11h0m1 10h0m0-9h0m1-4h0m4 4h0m0 2h0m0 3h0m1 1h0m2-10h0m0-1h0m1 4h0m0 10h0m1 2h0m0-10h0m0 7h0m0-14h0m0 10h0m0 1h0m1-4h0m0 1h0m0-6h0m0-1h0m1 2h0m0 0h0m1-2h0m0 0h0m0 5h0m1 13h0m0-11h0m1 5h0m0-13h0m1 15h0m0-11h0m1 3h0m1-6h0m0 11h0m0-3h0m1 8h0m0-7h0m1-8h0m1 9h0m0-10h0m1 16h0m0-16h0m1 1h0m2 18h0m0-12h0m0-1h0m1 10h0m0 2h0m1-8h0m0-4h0m0 9h0m1 3h0m1-16h0m2 15h0m1 0h0m0-2h0m0-2h0m0 0h0m1-14h0m1 2h0m1 7h0m0 5h0m1-5h0m0 3h0m0-11h0m0 2h0m0 11h0m1-5h0m2-8h0m1 11h0m0-8h0m0 9h0m1-6h0m0 12h0m0-12h0m0-1h0m1 2h0m1-2h0m0-6h0m0 17h0m1-12h0m3 9h0m0 3h0m1 0h0m0-8h0m0 8h0m1 0h0m1 2h0m2-4h0m0-7h0m0 5h0m1-12h0m1 16h0m2-1h0m1-5h0m0-9h0m0 9h0m1 1h0m0-7h0m2 15h0m2-10h0m0-8h0m0 9h0m2-10h0m0 5h0m1 11h0m0-16h0m0 10h0m0-5h0m1 0h0m1-3h0m1 1h0m1 4h0m1 1h0m1 7h0m1-5h0m2 0h0m0 0h0m2-9h0m2 7h0m0 0h0m0 9h0m1-12h0m0 13h0m0-3h0m2-12h0m0 12h0m1-4h0m0 6h0m0-9h0m1 11h0m1-10h0m1-2h0m0 10h0m0-17h0m0 11h0m1-6h0m0 3h0m0 3h0m3-10h0m0-1h0m1 9h0m0 1h0m0 9h0m1-2h0m2-3h0m1-8h0m1 0h0m2-6h0m1 19h0m0-19h0m2 0h0m1 4h0m1-4h0m1 8h0m2 9h0m0-12h0m1-2h0m1 10h0m1-6h0m0 4h0m1-11h0m0 2h0m1 16h0m0-5h0m0-8h0m1 4h0m0 5h0m2-12h0m0 1h0m1 16h0m2-2h0m1-6h0m2-9h0m1 5h0m2-3h0m4 5h0m2-8h0m1 4h0m0 7h0m0-2h0m0-10h0m1 13h0m1-6h0m0-7h0m1 10h0m1 5h0m1-6h0m1 1h0m2 0h0m2-7h0m1 8h0m0-1h0m3-4h0m4-1h0m1-6h0m6 2h0m0 3h0m3-5h0m-461 37h0m2-3h0m8-4h0m0 3h0m5-12h0m0 0h0m0 6h0m5 5h0m3-4h0m5 6h0m0 3h0m3 0h0m1-16h0m2 10h0m3-6h0m0-4h0m0 4h0m3 6h0m1 0h0m2 2h0m0 4h0m0-5h0m2 0h0m0 3h0m1 2h0m0-15h0m3 13h0m1 5h0m0-3h0m0-5h0m1-1h0m1-2h0m0 4h0m1 7h0m0-9h0m0-8h0m1 15h0m0-3h0m0 4h0m0-18h0m2 12h0m0-3h0m1 6h0m1-1h0m2-1h0m0 4h0m0-6h0m1 6h0m0 0h0m0-9h0m1 3h0m2 1h0m1 0h0m0 7h0m1-3h0m0-16h0m0 11h0m1 6h0m0-8h0m0 8h0m1-17h0m0 16h0m0-7h0m0 4h0m0-1h0m1-5h0m0-1h0m2 8h0m0-13h0m0 13h0m0-8h0m1 1h0m0-2h0m0 0h0m1 2h0m0-6h0m2 10h0m0-11h0m1 10h0m0-5h0m0 13h0m1-18h0m0 9h0m0-1h0m0 2h0m0-10h0m2 3h0m1 11h0m1-2h0m0 5h0m1-14h0m0 1h0m0 14h0m1 0h0m0-16h0m0 2h0m0 4h0m0-1h0m0 4h0m1-8h0m1 3h0m0-5h0m1 11h0m0 6h0m1-15h0m1-1h0m0 2h0m0 1h0m1-1h0m1-4h0m2 12h0m0-11h0m0 9h0m3 9h0m0-11h0m3-6h0m0 7h0m1-2h0m1 11h0m0-5h0m1-8h0m0 7h0m2-5h0m0-3h0m2 3h0m0 4h0m0-2h0m2 2h0m1-6h0m1-2h0m0-3h0m0 4h0m3 5h0m0 1h0m1 0h0m2 0h0m0 3h0m1-7h0m1 1h0m1-5h0m3 0h0m0 12h0m0-6h0m1-1h0m1 7h0m0-3h0m2 0h0m0 4h0m0-14h0m0-1h0m1 7h0m0-5h0m0-2h0m0 13h0m2 4h0m0 1h0m0 0h0m1-3h0m1-15h0m0 5h0m0 1h0m0 2h0m1-3h0m0 7h0m1 6h0m0-17h0m0 5h0m0 3h0m1-2h0m1-3h0m0 7h0m1-10h0m1 9h0m1-4h0m0 2h0m0 8h0m2-15h0m1 1h0m0-2h0m0 5h0m1 3h0m0 10h0m1-5h0m0-9h0m1-1h0m0 10h0m1-3h0m0-7h0m0 8h0m1 3h0m0-2h0m1 2h0m0-10h0m0 2h0m0-5h0m0 11h0m1-10h0m0 0h0m3-2h0m0 6h0m1-5h0m1 8h0m0 6h0m0 1h0m1-2h0m0-8h0m0 5h0m1 3h0m0-11h0m0 3h0m1 8h0m0-8h0m2-1h0m2 9h0m1 3h0m1-3h0m0-14h0m1 4h0m0 10h0m0-6h0m1-3h0m0 3h0m0 8h0m2 2h0m1-16h0m0 5h0m0 3h0m3 8h0m0-8h0m1-5h0m0 3h0m1 4h0m0 4h0m0-8h0m0-1h0m1-2h0m0 0h0m1-3h0m1 15h0m0-4h0m2 5h0m0-3h0m0-11h0m1 12h0m0-3h0m3-9h0m0 4h0m1 2h0m0-1h0m2-4h0m0 1h0m0-2h0m1-5h0m1 18h0m1-16h0m1 10h0m0-2h0m0 4h0m0-1h0m1 2h0m1-4h0m2-5h0m0 2h0m1 12h0m1-16h0m1 9h0m0 5h0m0-18h0m1 7h0m0 10h0m0 2h0m0-11h0m0 8h0m0-5h0m1-4h0m0 11h0m0-5h0m0-1h0m1 1h0m0 6h0m0-17h0m0 17h0m0-7h0m1 7h0m0-1h0m0-8h0m0 2h0m0-5h0m1 0h0m0 2h0m0 3h0m1-4h0m0 10h0m0-4h0m0 2h0m1-1h0m0-3h0m0 2h0m0 1h0m0-13h0m0 5h0m1 0h0m1 11h0m0-3h0m0-13h0m0 8h0m0 6h0m1-10h0m0 3h0m0 3h0m0-7h0m0 10h0m1-4h0m0 2h0m0-4h0m0-4h0m0 0h0m0-3h0m0 9h0m0 2h0m1-3h0m0-3h0m0 8h0m0-13h0m0 9h0m0-7h0m0 4h0m1-8h0m0 19h0m0-18h0m0 14h0m0-2h0m0-7h0m0 9h0m1-10h0m0-2h0m0 15h0m0-14h0m0 0h0m0 2h0m0 7h0m1-3h0m0-7h0m0 2h0m0 1h0m0-3h0m0 6h0m1 0h0m0 0h0m0 9h0m0 0h0m0-3h0m1-4h0m0-8h0m0 11h0m0-7h0m0 11h0m0-16h0m1 7h0m0 9h0m0 0h0m0-4h0m1-3h0m0-2h0m0-5h0m0 0h0m0 11h0m1-14h0m0 17h0m0 1h0m0-6h0m0 5h0m0-14h0m0 8h0m0 5h0m1-8h0m0 5h0m0-11h0m1-1h0m0 14h0m0 1h0m0 2h0m1-5h0m0-4h0m0 0h0m0 0h0m0-4h0m1-2h0m0-3h0m1 7h0m0 2h0m0 3h0m0-6h0m0-2h0m0 12h0m0-8h0m0 9h0m1-10h0m0 2h0m0-5h0m0 10h0m0-1h0m0-3h0m0-5h0m0-6h0m1 3h0m0 10h0m0-12h0m0 17h0m0-16h0m0 10h0m1 7h0m0-16h0m0 4h0m0-4h0m0 6h0m0 3h0m0-5h0m0 11h0m0 1h0m1-1h0m0-6h0m0-1h0m0-7h0m0 2h0m0 8h0m1 1h0m0 4h0m0-3h0m0-5h0m0 3h0m1-1h0m0-7h0m0 7h0m0 5h0m0-6h0m0 2h0m0-8h0m0 4h0m0 0h0m1 4h0m0-4h0m0-8h0m0 7h0m0 2h0m0 2h0m0-8h0m0 12h0m1-2h0m0-1h0m1 2h0m0-1h0m0-5h0m0 6h0m0-14h0m0 13h0m0-6h0m0 1h0m1-6h0m0 2h0m0 2h0m0 12h0m1-12h0m0 9h0m0-12h0m0 3h0m0 0h0m0 5h0m0 6h0m1-8h0m0 1h0m0-7h0m0 12h0m1-17h0m0 16h0m0-5h0m0 1h0m1-11h0m0 10h0m0-8h0m0 9h0m0 7h0m0-11h0m1 7h0m0-8h0m0 12h0m0-8h0m0 6h0m0-8h0m1 11h0m0-6h0m0-14h0m0 15h0m0-1h0m0 5h0m0-16h0m0-2h0m0 19h0m0-6h0m0-4h0m1 7h0m0-12h0m0 9h0m1-9h0m0 4h0m0 3h0m0 2h0m0-5h0m0 1h0m0 2h0m0 1h0m1-3h0m0-3h0m0 7h0m0-12h0m0 9h0m1-4h0m0 8h0m0-8h0m0 2h0m1 1h0m0 5h0m0 3h0m0-1h0m0-13h0m0 7h0m0 1h0m0-5h0m0 5h0m0-4h0m1 2h0m0-10h0m0 5h0m0 2h0m1 6h0m0-5h0m0-7h0m0 14h0m0-1h0m0-3h0m1-8h0m0-2h0m0 9h0m0-6h0m0-1h0m0 15h0m1-5h0m0-8h0m0-4h0m0 1h0m0 4h0m1 2h0m0 5h0m0 2h0m0-4h0m0 9h0m0-6h0m0-13h0m1 19h0m0-1h0m0-16h0m0-3h0m0 14h0m0-14h0m0 16h0m1 0h0m0-13h0m0 2h0m0 4h0m1-8h0m0 11h0m0-9h0m1 7h0m0 6h0m0-16h0m0 11h0m0 1h0m1 7h0m0-9h0m0-1h0m0 2h0m0 1h0m1 4h0m0-7h0m0 10h0m0 1h0m1-12h0m0-2h0m0-4h0m1 15h0m0-1h0m1-14h0m0 2h0m0 11h0m0 2h0m0-15h0m1 16h0m0-4h0m0-13h0m1 10h0m0-7h0m0-2h0m0 10h0m0 7h0m1-12h0m0 1h0m0-8h0m0 16h0m0-13h0m0-3h0m0 4h0m0 2h0m1 9h0m0-8h0m1 2h0m0-2h0m0-4h0m0 14h0m1-2h0m0-12h0m0 12h0m1-9h0m0 8h0m0-3h0m1-5h0m0 11h0m0 3h0m0-16h0m2 16h0m0-17h0m0 13h0m0 3h0m0 0h0m0-3h0m1-2h0m0 4h0m0-1h0m1 0h0m0 1h0m0-12h0m0 0h0m0 1h0m0-3h0m0 15h0m1-7h0m0-9h0m0 15h0m1 0h0m0-15h0m0 12h0m0 4h0m1-6h0m1 3h0m0-14h0m0 7h0m0-4h0m0 10h0m0 1h0m0-13h0m1 14h0m0-12h0m0 1h0m1 10h0m0-1h0m0-7h0m0 8h0m1-7h0m0 11h0m0-1h0m1-10h0m0-8h0m1 5h0m0 7h0m0 3h0m1 3h0m1-14h0m0 5h0m1 9h0m0 1h0m1-11h0m0 7h0m0 1h0m1-10h0m0 1h0m0-7h0m0 12h0m0 0h0m0-2h0m1-1h0m0-9h0m0 0h0m1 14h0m0 3h0m0-2h0m0-7h0m0 8h0m1-3h0m0-6h0m0-8h0m1 6h0m1 2h0m0 1h0m0 11h0m0-17h0m1 12h0m0 4h0m0-2h0m0-13h0m1 13h0m0-16h0m0 13h0m1-1h0m0 4h0m1-2h0m0-3h0m1-12h0m0 13h0m0-2h0m0 3h0m3-8h0m0 14h0m0-16h0m1 16h0m0-11h0m1 11h0m0-20h0m2 19h0m0 1h0m1-4h0m0-9h0m0 2h0m0-2h0m1 1h0m0-3h0m1 2h0m0 4h0m1 9h0m1-5h0m1 0h0m1-7h0m2-4h0m0 15h0m0-12h0m1 7h0m0 1h0m1 3h0m0-14h0m0 6h0m1 0h0m1 6h0m0 0h0m0-12h0m1 0h0m0 10h0m1-13h0m1 13h0m1-8h0m1 2h0m0 11h0m0-8h0m1-7h0m0 3h0m0 11h0m1 1h0m0-1h0m0 2h0m0-10h0m0 5h0m1-6h0m0 3h0m0-3h0m1-5h0m0 1h0m1 1h0m0 13h0m1-18h0m0 6h0m0-1h0m1 10h0m0-6h0m0 3h0m1 6h0m0-4h0m1-11h0m0 11h0m1 3h0m0-1h0m1-5h0m1 7h0m0-8h0m1 1h0m0 2h0m0 0h0m1-4h0m0 1h0m1 5h0m1-9h0m0 12h0m0-1h0m1-4h0m0-11h0m0 13h0m0 2h0m1-3h0m0-2h0m0-9h0m1-1h0m0 13h0m0-2h0m0-1h0m1-1h0m0 6h0m0 0h0m0-7h0m2 4h0m0 0h0m0-14h0m0 6h0m1 3h0m0 2h0m1-1h0m1 8h0m0 0h0m0-12h0m1-2h0m0-1h0m1-1h0m0 6h0m1-5h0m1 13h0m0-17h0m0 1h0m0 16h0m1-17h0m0 7h0m0-3h0m0 7h0m0-1h0m2-3h0m0-2h0m0 9h0m1 5h0m0-8h0m1-8h0m1-1h0m1-2h0m0 5h0m0 10h0m2-2h0m1 1h0m0 5h0m0-11h0m2 9h0m0-15h0m0 2h0m1 11h0m0-11h0m0 7h0m0 4h0m0 2h0m1-11h0m0 5h0m0-3h0m1-3h0m0 0h0m0 2h0m1 9h0m0-1h0m0-6h0m1-5h0m0 14h0m0-2h0m0-6h0m0-2h0m2 5h0m1-4h0m0 9h0m1-13h0m0-1h0m0 13h0m0-3h0m0-8h0m1 1h0m1 11h0m0-3h0m1-2h0m0-10h0m1 2h0m2-5h0m0 3h0m1 10h0m1 3h0m1-8h0m0 1h0m0-7h0m1 4h0m0 9h0m1-2h0m1 7h0m0-5h0m1-14h0m1 3h0m1 11h0m1 4h0m1-12h0m0 11h0m1-10h0m2 2h0m1-6h0m1 4h0m0-2h0m0 9h0m2-13h0m0 14h0m0-1h0m1 5h0m0-12h0m1 6h0m1-2h0m1-9h0m0 0h0m0 6h0m1 5h0m0-11h0m1 8h0m1 5h0m0-12h0m1 1h0m2 11h0m2 1h0m1-15h0m1 16h0m1-13h0m1 2h0m0-5h0m1 9h0m0 3h0m0 3h0m2-2h0m2-15h0m2 14h0m0-14h0m2 11h0m0-10h0m0 5h0m1 7h0m0-6h0m1 8h0m0-9h0m1 8h0m0-4h0m1 0h0m1-8h0m0 11h0m2-9h0m0 15h0m0-8h0m3-11h0m0 1h0m2 15h0m1-7h0m0-5h0m0 3h0m4-5h0m3 2h0m0-1h0m0 0h0m9-2h0m-489 23h0m31 8h0m5 1h0m3 0h0m0 3h0m6-1h0m5-13h0m3 4h0m0-5h0m0 18h0m1-10h0m0 1h0m0 0h0m1-8h0m2 5h0m1 13h0m2-1h0m0-15h0m1 0h0m1 2h0m1 1h0m3 13h0m2-12h0m4 11h0m0-10h0m0 8h0m2-1h0m2-2h0m0-11h0m2 11h0m1-5h0m1-2h0m1-4h0m0 10h0m0-6h0m1-1h0m0 2h0m1 6h0m0 3h0m0-3h0m1 2h0m0 3h0m2-1h0m0 1h0m2-4h0m0 4h0m0 0h0m0-2h0m0-13h0m1 2h0m0 4h0m0 2h0m1-8h0m0 14h0m0 1h0m2-1h0m1-4h0m0-11h0m0 16h0m0-1h0m0-7h0m0 0h0m0-10h0m0 8h0m1 0h0m0 2h0m0 6h0m1-11h0m0 14h0m0-6h0m0-10h0m0 0h0m1 16h0m1-7h0m0-7h0m1-3h0m2 7h0m0-2h0m0 2h0m0-5h0m1 5h0m0-1h0m0-6h0m0-2h0m0 2h0m0-1h0m1 9h0m0-7h0m1-4h0m1 17h0m0-9h0m0-7h0m0 11h0m1 2h0m0-9h0m0-2h0m1 1h0m0 11h0m0 1h0m0-4h0m1-2h0m0 7h0m1-1h0m0-12h0m0 3h0m0-3h0m1 11h0m0-13h0m1 12h0m0-6h0m0 8h0m1-16h0m0 19h0m1-14h0m1 4h0m0-2h0m0 0h0m1-5h0m2 13h0m0-10h0m1 7h0m2 1h0m1 0h0m1 3h0m0-2h0m1-5h0m0-2h0m0 5h0m1-2h0m0 5h0m1-8h0m0-7h0m1 2h0m1 16h0m0-16h0m3 1h0m1 6h0m1 1h0m1 3h0m0-9h0m1 15h0m1-1h0m1-17h0m0 0h0m4 15h0m0-9h0m1-4h0m0 4h0m0-3h0m1 8h0m1-9h0m1-1h0m0 16h0m2-15h0m0 10h0m1-3h0m1-3h0m0 1h0m1-3h0m0 1h0m1 3h0m1 7h0m0 0h0m0-15h0m1 15h0m1-3h0m1-4h0m1 1h0m0 2h0m0 0h0m2-1h0m1-2h0m0 3h0m0-6h0m1 8h0m0-13h0m0 18h0m1-3h0m1 3h0m0-9h0m1-7h0m2 10h0m2-6h0m0 0h0m1 3h0m0 0h0m1-4h0m1-5h0m1 5h0m0-4h0m1 16h0m0-1h0m5 2h0m1-15h0m1 8h0m0-6h0m1 13h0m1-5h0m3 0h0m1 6h0m0-15h0m1 5h0m1-3h0m0-3h0m0 15h0m2-3h0m0-7h0m1-1h0m4-5h0m2-1h0m0 13h0m0-11h0m2 2h0m0 8h0m2 4h0m1-7h0m1 7h0m0-13h0m1 12h0m0 2h0m1-1h0m0 1h0m1-2h0m1-15h0m2 4h0m0 13h0m0-18h0m1 18h0m1-14h0m0 6h0m0 9h0m0-19h0m0 16h0m1-6h0m0 7h0m1-7h0m2 2h0m0-1h0m0-5h0m0 7h0m1-6h0m0 5h0m1-5h0m0 9h0m0-8h0m0-3h0m1 6h0m0-12h0m0 16h0m2 0h0m1 1h0m1-14h0m1 4h0m0 7h0m1 5h0m1-6h0m0-7h0m0 7h0m1-9h0m0 1h0m0 6h0m0 8h0m0-15h0m1-1h0m0 10h0m0-5h0m0 11h0m0-5h0m0-8h0m1 8h0m1 0h0m0 2h0m0-8h0m1 7h0m0-7h0m1 9h0m0 1h0m0 1h0m1-1h0m0-15h0m1 5h0m1-5h0m0 2h0m1 14h0m1-9h0m0 2h0m0-5h0m1 12h0m0-14h0m0 6h0m0 8h0m1-7h0m0 4h0m0 0h0m0-8h0m0-3h0m1 14h0m0 0h0m0-9h0m1-1h0m0 9h0m1-6h0m1 0h0m0 0h0m0-8h0m1 4h0m0-1h0m0-4h0m0 10h0m1-4h0m0-6h0m0 3h0m0-5h0m1 15h0m0-9h0m0 2h0m0 5h0m0-8h0m1 7h0m1 6h0m0-3h0m0-10h0m0 7h0m1 4h0m0-14h0m0 11h0m0-1h0m1-3h0m0-9h0m0 1h0m0 15h0m0 0h0m0-1h0m1-15h0m0 2h0m0 11h0m1-6h0m0-6h0m0 12h0m0-11h0m1 15h0m1-12h0m0 6h0m0-9h0m0 0h0m0 1h0m1 6h0m0 1h0m1 4h0m0-15h0m0 4h0m0 0h0m0-3h0m0 9h0m0 6h0m0 3h0m1-10h0m0 6h0m0-15h0m0 13h0m0-2h0m0 5h0m1-14h0m0-1h0m0 9h0m0-6h0m0-2h0m1 1h0m0 12h0m0-11h0m0 5h0m1 7h0m0 0h0m1 2h0m0-5h0m0 4h0m0-16h0m1 7h0m0-2h0m0-2h0m0 15h0m0-2h0m0-7h0m0-9h0m0-1h0m1 8h0m0 2h0m0 7h0m1-12h0m0 8h0m0-11h0m0 7h0m1-9h0m0 5h0m0 2h0m0 7h0m0-2h0m0-8h0m0 15h0m1-13h0m0 13h0m0-1h0m0-7h0m0-9h0m0 4h0m0 11h0m0-6h0m0-10h0m1 8h0m0 7h0m0-4h0m0-6h0m0 8h0m0 6h0m1-10h0m0 2h0m0-6h0m0 1h0m0 12h0m0 0h0m1-1h0m0 2h0m0-1h0m0-17h0m0 3h0m0-1h0m0 9h0m0 1h0m0-4h0m0 6h0m1-3h0m0 2h0m0-7h0m0 1h0m1-4h0m0 5h0m0-1h0m0 5h0m0-5h0m0-8h0m0 7h0m0 2h0m0-9h0m0 4h0m0 6h0m0-3h0m1 10h0m0-13h0m0-1h0m0-3h0m0 2h0m0 1h0m0-2h0m0 8h0m0-2h0m0-3h0m1-2h0m0 9h0m0-7h0m0 4h0m0-6h0m0 13h0m0-15h0m0 16h0m0-16h0m0-1h0m0 18h0m0-4h0m1-12h0m0 10h0m0-5h0m0 1h0m0 3h0m0 3h0m0-11h0m0 16h0m1-4h0m0-9h0m0 7h0m0 0h0m0-7h0m0-4h0m0 17h0m0-6h0m1 7h0m0-9h0m0-6h0m0 2h0m0 12h0m0-13h0m0 8h0m0 1h0m0 3h0m1-12h0m0 13h0m0-6h0m0-10h0m0 2h0m0 9h0m0 6h0m0-7h0m0-10h0m1 11h0m0-2h0m0 1h0m0 6h0m0 1h0m0-4h0m0-9h0m1 1h0m0 2h0m0 9h0m0-2h0m0-8h0m0 7h0m1 3h0m0 0h0m0-5h0m0-5h0m0-5h0m0 9h0m0-1h0m0 3h0m1 1h0m0-7h0m0 4h0m1-6h0m0-2h0m0 4h0m0 4h0m0-10h0m0-2h0m0 10h0m1-7h0m0 13h0m0-10h0m0-2h0m1 11h0m0 0h0m0-3h0m1-2h0m0-7h0m0-1h0m0 1h0m0 9h0m0 1h0m0-1h0m1 4h0m0-5h0m0 3h0m0 4h0m0-8h0m1-3h0m0 12h0m0-14h0m0 7h0m0 1h0m0-10h0m0-4h0m0 7h0m1-3h0m0 11h0m0 0h0m0 1h0m0-11h0m1 11h0m0 2h0m0-14h0m0 12h0m0-2h0m0-12h0m0 14h0m0 3h0m0 0h0m1-13h0m0 1h0m0 12h0m0-13h0m0 12h0m0-2h0m0 3h0m0-1h0m0-12h0m0 0h0m0 8h0m0-2h0m0-12h0m1 10h0m0-9h0m0 15h0m0-10h0m1 8h0m0 0h0m0-14h0m0 18h0m0-14h0m0 16h0m0-17h0m0 3h0m0 8h0m1 4h0m0-1h0m0 3h0m0-4h0m0 3h0m0-7h0m0-6h0m0 9h0m0 0h0m0-5h0m0 1h0m1-6h0m0 4h0m1-1h0m0-8h0m0 12h0m1-8h0m0 9h0m0-3h0m0 7h0m0 0h0m0-12h0m1-5h0m0 7h0m0-4h0m0 2h0m0-3h0m0 17h0m0-8h0m0-4h0m1 10h0m0 1h0m0 0h0m1-5h0m0 3h0m0-7h0m0-2h0m0 3h0m1 3h0m0-8h0m0 10h0m0-4h0m0 2h0m1-12h0m0 6h0m0 5h0m0 6h0m0-1h0m1-15h0m0 16h0m0 2h0m0-7h0m0-5h0m0 1h0m0-8h0m1 19h0m0-15h0m0-2h0m0 4h0m0 3h0m0 5h0m0 3h0m0-4h0m0-3h0m1-4h0m0-4h0m0 4h0m1 12h0m0-5h0m0-9h0m0 6h0m0 4h0m0-5h0m0 7h0m1-17h0m0 10h0m0-3h0m0-6h0m1 4h0m0 7h0m0 0h0m0-2h0m0 1h0m0 2h0m0-1h0m0 8h0m0-13h0m1 12h0m0 0h0m0-14h0m0-5h0m0 20h0m0-4h0m0 0h0m1-9h0m0 4h0m0 6h0m0-11h0m0 12h0m1-13h0m0-2h0m0 12h0m0-13h0m1-1h0m0 12h0m0 4h0m0-13h0m1 9h0m0-2h0m0-11h0m0 4h0m0 9h0m0-1h0m1-2h0m0 4h0m0 4h0m0-2h0m0-15h0m0 11h0m0-2h0m0 6h0m0-8h0m1 10h0m0-5h0m0-12h0m0 16h0m0-7h0m0 2h0m0-8h0m0-2h0m0 12h0m0-10h0m1 6h0m0 1h0m0-4h0m0-7h0m0 1h0m0 5h0m0 0h0m0 9h0m0-10h0m0-3h0m1 6h0m0 0h0m0-7h0m0 0h0m0 17h0m0-4h0m0-6h0m1 7h0m0-1h0m0 4h0m0-18h0m0 8h0m0 6h0m0 1h0m0-2h0m1 2h0m0-10h0m0-4h0m0 10h0m0 1h0m0 1h0m1-6h0m0 12h0m1 0h0m0 1h0m0-16h0m0 2h0m1 3h0m0 5h0m0-7h0m0 7h0m2-3h0m0 3h0m0-3h0m0 6h0m1-11h0m0 5h0m1 2h0m0-2h0m0-6h0m0 13h0m1-9h0m0 4h0m0-8h0m1 2h0m0 5h0m0-3h0m0-3h0m0-3h0m0 7h0m1-2h0m0 9h0m0-9h0m0-6h0m1 4h0m0 9h0m0-12h0m0-2h0m0 12h0m1-5h0m0-4h0m0 0h0m0-1h0m0 0h0m1 4h0m0 13h0m0-5h0m0-13h0m1 1h0m0 10h0m0-9h0m0 5h0m0-9h0m0 20h0m0-4h0m0-3h0m0 7h0m1-6h0m0-8h0m1-4h0m0 17h0m0-6h0m0-2h0m0-9h0m0 15h0m0-13h0m1 9h0m0 4h0m1-1h0m0-16h0m0 15h0m0-12h0m0 5h0m0-2h0m0 3h0m0 0h0m1-7h0m0 17h0m0-16h0m1 0h0m1 17h0m0-17h0m0 9h0m1-4h0m0-5h0m1 1h0m0 6h0m0 5h0m0 2h0m0-2h0m0 0h0m0 0h0m0-5h0m1 8h0m0-6h0m0-1h0m0 6h0m0 1h0m0-3h0m0-12h0m1-2h0m0 8h0m0-4h0m0 3h0m1-6h0m0 11h0m1 4h0m1-3h0m0-8h0m0-2h0m0 16h0m0-18h0m0 17h0m1-10h0m0 1h0m0 10h0m0-6h0m1 3h0m0-16h0m1 9h0m0 3h0m0 4h0m0-9h0m0 6h0m1 5h0m0-6h0m1-4h0m1-6h0m1 9h0m0 3h0m1-6h0m1 1h0m0-3h0m0 2h0m1 9h0m0-16h0m0 14h0m0 3h0m0-14h0m0 9h0m0-2h0m1-8h0m0 0h0m0 12h0m0 4h0m1-3h0m0-3h0m0-8h0m1-5h0m0 18h0m0-16h0m0 8h0m0 2h0m1 3h0m0-7h0m0-3h0m1-3h0m0 15h0m0-16h0m0 2h0m0 11h0m0-15h0m0 1h0m0 14h0m1-8h0m0 6h0m1 6h0m0-14h0m0 11h0m0-11h0m1 3h0m1-1h0m0 3h0m0 6h0m0-12h0m1 6h0m0 8h0m0-15h0m0 4h0m1 6h0m0 0h0m0 1h0m0 4h0m0-14h0m1-1h0m0 7h0m0-7h0m1 9h0m0-4h0m1 3h0m0-7h0m0-2h0m1 0h0m0 2h0m0-3h0m0 12h0m0-6h0m0 1h0m1 8h0m0-2h0m0-13h0m0 15h0m0-12h0m1 9h0m0 5h0m0 1h0m0-4h0m0 0h0m0-5h0m1 6h0m0-5h0m1 6h0m1 0h0m0 2h0m0-13h0m0-5h0m1 12h0m0-8h0m1 3h0m1 2h0m1 0h0m0 2h0m0-9h0m0 16h0m1-13h0m0 10h0m0-6h0m1 9h0m0-18h0m0 10h0m1 8h0m0-2h0m1-3h0m0-6h0m0 11h0m0-1h0m1-10h0m1 7h0m1-12h0m0 15h0m1-12h0m0 11h0m0-9h0m0-1h0m0 5h0m0-5h0m1-2h0m0-2h0m1 12h0m0 4h0m0-13h0m0 13h0m1-2h0m1-4h0m1-5h0m1-5h0m0 12h0m0-5h0m0-8h0m1 4h0m0 13h0m0-16h0m0 0h0m0 3h0m1 14h0m0-6h0m1-4h0m1-9h0m1 3h0m0 10h0m1-6h0m1 12h0m0-3h0m1 0h0m0-1h0m0 2h0m0-10h0m1-3h0m0 7h0m1 5h0m0-16h0m0 10h0m0-5h0m0-2h0m1 3h0m1 6h0m2 5h0m0-10h0m1 2h0m1-6h0m0-1h0m0 9h0m0 0h0m1-10h0m1 2h0m0 15h0m0-14h0m0 4h0m0 8h0m1-15h0m0 13h0m0-10h0m0 10h0m1-4h0m0-6h0m1-1h0m0-3h0m1 11h0m0-5h0m1 4h0m0 0h0m2-2h0m0-2h0m2-4h0m0 4h0m0 2h0m2-9h0m1 1h0m0 3h0m0 1h0m1 2h0m0-4h0m1 0h0m1 5h0m0-3h0m0 14h0m1-7h0m1-11h0m1 15h0m1-14h0m3 7h0m0 0h0m2-7h0m1 17h0m0 0h0m0-4h0m1-1h0m0 5h0m0-14h0m2 8h0m1-1h0m0-4h0m1 2h0m0-4h0m1 7h0m1 2h0m0-3h0m0 8h0m1-19h0m0 15h0m2-2h0m0-4h0m0 6h0m2-8h0m2-5h0m0 2h0m1 8h0m1 4h0m0-12h0m2 0h0m2 4h0m1-3h0m0 6h0m0 0h0m0-8h0m1 12h0m2-13h0m1 0h0m0-1h0m0 1h0m0 3h0m3 4h0m0-5h0m1 4h0m0 7h0m1-14h0m3 4h0m6 6h0m0-9h0m4-3h0m0 3h0m-493 23h0m27-3h0m7 14h0m1-10h0m1 0h0m4 0h0m2 12h0m1-2h0m3-11h0m0-4h0m2 9h0m1 9h0m1-2h0m2-4h0m0 6h0m0-3h0m2 0h0m2-1h0m3-6h0m1 2h0m3 0h0m2-8h0m7 10h0m0 4h0m1 1h0m1-9h0m1 5h0m1 3h0m1-7h0m0 8h0m0-6h0m2-6h0m0 10h0m0-5h0m0 8h0m3-14h0m0 4h0m1 9h0m0-18h0m0 1h0m0 11h0m0 5h0m1-2h0m0 2h0m0-1h0m0-12h0m1 13h0m1-4h0m2 5h0m1-3h0m2-3h0m0-11h0m0 17h0m1-4h0m0-8h0m1 2h0m2 4h0m0-12h0m1 15h0m0 0h0m0 0h0m1-5h0m1-2h0m0 2h0m0-2h0m0-7h0m0 15h0m1-5h0m0-10h0m1 15h0m0-11h0m1-4h0m0 15h0m0-1h0m0-13h0m0 0h0m1 4h0m0-3h0m1-1h0m0 2h0m0-3h0m1 9h0m0-9h0m0 4h0m1-6h0m0 11h0m1 1h0m0-2h0m1-6h0m0 1h0m0-2h0m1 9h0m0 3h0m0-15h0m1 4h0m1 12h0m0-10h0m0-1h0m1 0h0m3 12h0m0-12h0m0-5h0m2 10h0m0-3h0m0 7h0m0-5h0m1 0h0m1 1h0m0 4h0m1-2h0m0-10h0m2 4h0m1-2h0m0 5h0m0 10h0m1 0h0m0-17h0m0 6h0m1 10h0m0-6h0m0-8h0m1-1h0m2 9h0m0 2h0m1-6h0m0 6h0m1-1h0m0 2h0m1-12h0m1 15h0m1-16h0m0 17h0m1-12h0m0-1h0m0 3h0m0-6h0m0 7h0m1 7h0m0-15h0m1 17h0m0-11h0m1 2h0m1-8h0m0 11h0m2 2h0m0-10h0m1 8h0m0-8h0m0 4h0m1 11h0m0-4h0m1-1h0m0-9h0m2-4h0m1 4h0m0-5h0m1 3h0m3 4h0m1 1h0m1 11h0m1-3h0m0 0h0m0-8h0m1 2h0m1-8h0m0-3h0m2 12h0m2-10h0m3 3h0m0-2h0m0 16h0m0-1h0m1-14h0m1 15h0m0-1h0m1-10h0m2 9h0m0-8h0m0-2h0m2 11h0m0-4h0m0-1h0m3-13h0m0 7h0m1 8h0m0-7h0m1 4h0m0-2h0m1-9h0m1 5h0m1 1h0m0 10h0m0 1h0m0-17h0m4 8h0m1 8h0m0-5h0m0 0h0m0-1h0m1 8h0m2-18h0m0 0h0m1 12h0m0 4h0m6-15h0m0 13h0m0-5h0m2-8h0m0 8h0m0 4h0m2-10h0m2 5h0m1 2h0m0 1h0m0 3h0m1-12h0m0 10h0m1-6h0m0 7h0m1-5h0m0 6h0m2-12h0m0 8h0m2 8h0m0 1h0m0-18h0m0 12h0m1-8h0m0 0h0m1 7h0m1 4h0m0-11h0m0 4h0m0 1h0m1-7h0m1 14h0m1-3h0m1-12h0m1 9h0m0-9h0m2 13h0m1-15h0m1 8h0m0 9h0m0-1h0m0-14h0m2 12h0m0-14h0m0 13h0m1-6h0m1 0h0m1 3h0m0-6h0m0 8h0m0-8h0m0 12h0m1-5h0m1-7h0m0 11h0m1 4h0m1-7h0m0 0h0m1-8h0m1 1h0m0 0h0m0 12h0m1 1h0m0-16h0m0 1h0m0 0h0m0-2h0m0 3h0m1 5h0m0 4h0m1-2h0m1-3h0m2 1h0m0-3h0m0 6h0m0-6h0m0-4h0m1 2h0m1 1h0m0 5h0m1-10h0m0 18h0m1 1h0m0-15h0m2 6h0m0-2h0m1-1h0m1-8h0m0 16h0m0-12h0m0-2h0m1 7h0m0 11h0m0-7h0m0-8h0m0 4h0m0-7h0m1 2h0m1-2h0m0-1h0m0 17h0m1-18h0m1 20h0m0-1h0m1-7h0m1 6h0m0-9h0m0 9h0m0-15h0m0 16h0m1-4h0m1-2h0m1-1h0m0-11h0m1 0h0m0 7h0m0 11h0m0-11h0m1 7h0m0-13h0m0-1h0m0 2h0m0 10h0m1-12h0m0 7h0m0 10h0m0-2h0m1-16h0m0 13h0m0-12h0m0 5h0m0-4h0m1 11h0m0-12h0m0 0h0m1 12h0m0 3h0m0 1h0m1 1h0m0 2h0m0-8h0m1 2h0m0-12h0m0 18h0m0-19h0m0 2h0m1 3h0m1 10h0m0-9h0m1-3h0m1-1h0m0 7h0m1 9h0m0 0h0m0-9h0m0 6h0m1 4h0m0-6h0m0-3h0m0-1h0m0-6h0m1 5h0m0 10h0m0-15h0m1 1h0m0 11h0m0-4h0m0 0h0m0 5h0m0-1h0m1-13h0m0 5h0m0 7h0m0-3h0m0-6h0m1 2h0m0 4h0m0 5h0m0-8h0m0 1h0m0 0h0m0-7h0m0-2h0m1 8h0m0-8h0m0 11h0m0-2h0m0 1h0m0-8h0m0 10h0m0-7h0m1-1h0m0 0h0m0-1h0m0 16h0m0-6h0m0-9h0m0 1h0m1-5h0m0 2h0m0 4h0m0-4h0m0 9h0m1-3h0m0-7h0m0 3h0m0 3h0m0-4h0m0 6h0m0 4h0m0-14h0m0 3h0m0 12h0m0-13h0m0 2h0m0 11h0m0-7h0m0 8h0m1-10h0m0 13h0m1 0h0m0 1h0m0-3h0m0-16h0m0 7h0m0-2h0m0 6h0m0 4h0m1-11h0m0-2h0m0 6h0m0-5h0m0 0h0m1 4h0m0 0h0m0 10h0m0 2h0m0-15h0m0 2h0m0 12h0m1-8h0m0-6h0m0 1h0m1-2h0m0 1h0m0-5h0m0 10h0m0-4h0m0-2h0m0 7h0m0 8h0m0-15h0m0 14h0m0 1h0m0-9h0m0 3h0m0-11h0m1 2h0m0 7h0m0 4h0m0 5h0m0-14h0m0 8h0m0-2h0m0-11h0m0 1h0m1 9h0m0 2h0m0 1h0m0-6h0m0-7h0m1 5h0m0-2h0m0 14h0m0-17h0m0 4h0m0 12h0m0-11h0m0 10h0m1-10h0m0-6h0m0 5h0m0 5h0m0-5h0m0-2h0m0 5h0m0 7h0m0 0h0m1-1h0m0 2h0m0-10h0m0 9h0m0-11h0m1 6h0m0-4h0m0-2h0m0 9h0m0 0h0m0-8h0m0 7h0m0-6h0m1-1h0m0 10h0m0 2h0m0-10h0m0 5h0m0 7h0m0-9h0m0-1h0m0-8h0m0 12h0m1-9h0m0 6h0m0 5h0m0-10h0m0-5h0m1 10h0m0 10h0m0-6h0m0 1h0m0-3h0m0-10h0m0 17h0m0-12h0m0-5h0m0 14h0m1 3h0m0-6h0m0 1h0m0 5h0m0-12h0m0 1h0m0 0h0m0 12h0m1-16h0m0 11h0m0-14h0m0 13h0m0-10h0m0-1h0m1 9h0m0 8h0m0-12h0m0 2h0m0-1h0m0-2h0m0 0h0m1 5h0m0-11h0m0 5h0m0 1h0m0-7h0m0 4h0m1 11h0m0-5h0m0 0h0m0 2h0m0-4h0m0-2h0m0-5h0m0-1h0m0 14h0m0-14h0m1 17h0m0 1h0m0-11h0m0 3h0m0-8h0m0 11h0m1-9h0m0-2h0m0 3h0m0 7h0m0-3h0m0 3h0m1-3h0m0-2h0m0-4h0m0 8h0m0-9h0m0 2h0m0 5h0m1 4h0m0-12h0m0 13h0m0-3h0m0 7h0m0-10h0m0 3h0m0 4h0m0-15h0m0 14h0m0-2h0m0-7h0m0 2h0m1-2h0m0 3h0m0 12h0m0-11h0m0-8h0m0 18h0m0-4h0m1 2h0m0-10h0m0 12h0m0-5h0m0-1h0m1-4h0m0-2h0m1 6h0m0-12h0m0 5h0m0-2h0m0-4h0m0 13h0m0 3h0m1-12h0m0 10h0m0-6h0m0-6h0m0 11h0m0-8h0m0-2h0m0 0h0m0 1h0m1 7h0m0 7h0m0-2h0m0-15h0m0 15h0m1-9h0m0 11h0m0-2h0m0-10h0m0 11h0m0-5h0m0 2h0m0-3h0m0-4h0m0 7h0m1-1h0m0 2h0m0-4h0m0 9h0m0-5h0m0 0h0m0-13h0m0 14h0m0 0h0m0-1h0m1-3h0m0-9h0m0-1h0m0 9h0m0-8h0m0 7h0m0-8h0m0-1h0m0 15h0m0-13h0m1-3h0m0 1h0m0 10h0m0-5h0m0 10h0m0-15h0m0 15h0m0-5h0m0-2h0m0-9h0m1 3h0m0 13h0m0 3h0m0 0h0m0-18h0m0 2h0m0 9h0m0-5h0m1 8h0m0-4h0m0-4h0m0-4h0m1-2h0m0 7h0m0 12h0m0-3h0m1-14h0m0-2h0m0 4h0m0 9h0m0-12h0m0 5h0m0 5h0m1 6h0m0 0h0m0-6h0m0-1h0m0 4h0m0-9h0m0 0h0m1 7h0m0-10h0m0 9h0m0 5h0m0 1h0m1-5h0m0-12h0m0 9h0m0-8h0m0 14h0m1-9h0m0-4h0m0 7h0m0-9h0m1 1h0m0 7h0m0-1h0m0 1h0m0 6h0m0 2h0m1-3h0m0-5h0m0 1h0m0-5h0m0-2h0m0 8h0m0-5h0m0 4h0m0-4h0m1 0h0m0 6h0m0-6h0m0-6h0m0 3h0m1 4h0m0-3h0m0 0h0m0 12h0m0 4h0m0-12h0m0-7h0m0 8h0m0 10h0m1-1h0m0-5h0m1-1h0m0 2h0m0 0h0m0 0h0m0-11h0m0-3h0m1 9h0m0 9h0m0 1h0m0-18h0m1 0h0m0 17h0m0-10h0m0-2h0m0-3h0m0 2h0m0 10h0m0-11h0m1 6h0m0 1h0m0-2h0m0 5h0m1 5h0m0-19h0m0 15h0m0-5h0m0-9h0m0 19h0m0-11h0m0 2h0m0 6h0m1-10h0m0 3h0m0 3h0m0-8h0m0-4h0m0 16h0m1-14h0m0 3h0m0-5h0m0 0h0m0 7h0m0 11h0m0-18h0m0 5h0m1 3h0m0 10h0m0-13h0m0 5h0m0-4h0m0 4h0m0 6h0m1 1h0m0-16h0m0 11h0m0-12h0m0 5h0m0 1h0m0 2h0m1 6h0m0-13h0m0 11h0m0 0h0m0-6h0m0-4h0m0 5h0m0-6h0m1 1h0m0 15h0m0-14h0m0 8h0m0 7h0m0-4h0m0-2h0m0-12h0m0 11h0m0 3h0m1-14h0m0 8h0m0 6h0m0-2h0m0-12h0m0 9h0m0 9h0m0-1h0m0-7h0m0-8h0m1-1h0m0 6h0m0-2h0m0 1h0m0 0h0m0-5h0m0 17h0m0-6h0m0-10h0m0-2h0m1 14h0m0-10h0m0 8h0m0-10h0m0 0h0m0 15h0m0 0h0m0-1h0m0 0h0m1-1h0m0-4h0m0 7h0m0-13h0m0 0h0m0 2h0m0 6h0m0-7h0m0 5h0m0-11h0m0 8h0m1-3h0m0 2h0m0-2h0m0-3h0m0 12h0m0-4h0m0 5h0m1-14h0m0 8h0m0 3h0m0-10h0m0 16h0m0-18h0m0 0h0m0 7h0m0-2h0m0-3h0m1 13h0m0-8h0m0 5h0m1-10h0m0 7h0m0 4h0m0-5h0m0 8h0m0-8h0m0 2h0m0 3h0m0-4h0m1 8h0m0 2h0m0-17h0m0 2h0m1-1h0m0 3h0m0 6h0m0-1h0m0-6h0m0 4h0m0-4h0m0 9h0m1-9h0m0 0h0m0 7h0m0-3h0m0 6h0m0-15h0m0 9h0m0-5h0m1 3h0m0 3h0m1-8h0m0 5h0m0 11h0m0-10h0m0 6h0m0 3h0m0-11h0m0 7h0m0-12h0m1 17h0m0 1h0m0-2h0m0-17h0m0 15h0m0-11h0m0 0h0m0 13h0m0-6h0m1 2h0m0-2h0m0 4h0m0-4h0m0 7h0m0 0h0m0-5h0m0-6h0m1 4h0m0-10h0m0 12h0m0-6h0m1-5h0m0 8h0m0-3h0m0 12h0m1-3h0m0-8h0m0 9h0m0-1h0m0-4h0m0-12h0m1 8h0m0 6h0m0-8h0m0 4h0m0-1h0m0 8h0m0-16h0m0 18h0m0-7h0m0-4h0m0-3h0m1-5h0m0 12h0m0 5h0m0-14h0m0 6h0m0-4h0m0 6h0m1-6h0m0 2h0m0-7h0m0 5h0m0 14h0m0-18h0m1 4h0m0 12h0m0-1h0m0-4h0m0 1h0m0-5h0m0 5h0m0-1h0m1 5h0m0-8h0m0 3h0m1-5h0m0 4h0m0-6h0m0 4h0m0-3h0m0 4h0m0 5h0m0 4h0m0-16h0m1 11h0m0 4h0m0 0h0m0-3h0m0-11h0m1 7h0m0 0h0m0 7h0m0-2h0m0-2h0m0-2h0m1-12h0m0 0h0m0 15h0m0-15h0m0 13h0m0-8h0m1 2h0m0-1h0m0-2h0m1 11h0m0-7h0m0 8h0m1-8h0m0-2h0m0-7h0m0 18h0m0-15h0m0 15h0m0 1h0m1-18h0m0 15h0m0 3h0m0-6h0m1 6h0m0-1h0m0-16h0m1 14h0m0-8h0m0 4h0m1-3h0m0 10h0m0-12h0m0 4h0m0-1h0m0 2h0m1-2h0m0-8h0m0 11h0m0 1h0m0-4h0m1 10h0m0-14h0m0 9h0m0 4h0m0-5h0m0-8h0m0 12h0m0-7h0m0 5h0m1-8h0m0 3h0m1-9h0m0 13h0m0 1h0m0-9h0m1-3h0m0 4h0m0 2h0m1 8h0m0-10h0m0-6h0m0 5h0m0-5h0m1 3h0m0 10h0m0-13h0m0 18h0m1-18h0m0 17h0m0-9h0m0-8h0m0 12h0m0 0h0m0-6h0m0-2h0m1 1h0m0 10h0m0 1h0m0-8h0m0 10h0m0-13h0m0-4h0m0 14h0m1-14h0m0 11h0m0-6h0m1 10h0m0-1h0m0-7h0m0-5h0m0 0h0m0 4h0m1-3h0m0-1h0m0 4h0m0-7h0m0 6h0m2-5h0m0-3h0m0 3h0m0-1h0m0-1h0m0 11h0m0 3h0m1-14h0m0 10h0m0-3h0m0 6h0m0 1h0m0 3h0m1 1h0m0-2h0m0-5h0m0-8h0m0 10h0m1-5h0m0-8h0m0 18h0m0-6h0m0-10h0m0 15h0m1-10h0m0-3h0m0-2h0m0 6h0m0-7h0m1 3h0m1 4h0m0 8h0m0-6h0m0 0h0m1 2h0m0 3h0m0 1h0m0-9h0m0 0h0m0-1h0m0 0h0m0 7h0m0-10h0m0 4h0m1 5h0m0 5h0m1-2h0m0 0h0m0-2h0m0 6h0m1-9h0m0-2h0m1 8h0m0-15h0m0 7h0m0 6h0m1 2h0m0-8h0m0-9h0m0 12h0m0 0h0m0 0h0m1 8h0m0-5h0m0 4h0m0-12h0m1 12h0m0-16h0m0 6h0m0-6h0m0 5h0m0 3h0m1 7h0m1 1h0m0-1h0m0-2h0m0-2h0m1-3h0m0 9h0m0-1h0m0-18h0m0 15h0m1-14h0m0 12h0m0-11h0m0 13h0m1-2h0m0-3h0m0 1h0m0-6h0m0 3h0m1-1h0m0-7h0m1 10h0m0-3h0m0 9h0m0 2h0m0-16h0m0 4h0m1 6h0m1-4h0m0 3h0m0 7h0m0-11h0m0 12h0m0-11h0m1 1h0m0 4h0m0-8h0m0 5h0m0-2h0m0-1h0m1 11h0m0-17h0m0 8h0m2-7h0m0 14h0m1-13h0m0 7h0m0-9h0m1 18h0m0-17h0m0 14h0m0-13h0m1 15h0m0 0h0m0-16h0m1 9h0m0 8h0m2-4h0m0-8h0m0-1h0m0-5h0m0 3h0m1 9h0m0-11h0m0 3h0m1 8h0m1 4h0m0-3h0m1 4h0m0 1h0m1-10h0m0 3h0m0 4h0m0-9h0m1 11h0m0-13h0m1 5h0m0 7h0m1 0h0m0 1h0m0-14h0m0 5h0m0-2h0m1-5h0m0 3h0m0 8h0m0-7h0m0 7h0m1-4h0m0 1h0m0-6h0m1 0h0m0-2h0m0 10h0m0-3h0m0-3h0m1 0h0m0-2h0m0 12h0m0-11h0m0 13h0m1-2h0m0-4h0m0-1h0m1-1h0m0 6h0m0-9h0m1 4h0m0 3h0m1-6h0m1-7h0m0 4h0m0 12h0m1-6h0m1-10h0m0 12h0m0 3h0m0-2h0m0-5h0m0 2h0m1-9h0m2 6h0m0-4h0m0-2h0m1 6h0m1 9h0m0-2h0m1-16h0m1 14h0m0-7h0m0 4h0m0 7h0m1-5h0m0-7h0m0 13h0m1-16h0m1 7h0m0-1h0m0-7h0m1 1h0m1 8h0m1-3h0m1 9h0m2 0h0m1-2h0m6-13h0m0 6h0m1 8h0m1-11h0m1 11h0m0-3h0m2-11h0m1 1h0m4-1h0m0 4h0m1 0h0m1 3h0m3-4h0m0 2h0m0 5h0m1-10h0m2 9h0m3-8h0m1 7h0m0-2h0m1 4h0m1-6h0m1 5h0m5-9h0m-497 21h0m7 16h0m1-4h0m9-5h0m7 0h0m12-1h0m6 5h0m1-13h0m1 6h0m0 11h0m1-13h0m2 13h0m0-5h0m0 0h0m2 0h0m1-13h0m1 0h0m0 7h0m1-2h0m0 6h0m2-8h0m0 6h0m1 10h0m3-10h0m1-1h0m0 9h0m0-8h0m0 6h0m4-10h0m1-3h0m2 12h0m2-5h0m1 8h0m1 1h0m0-1h0m0 0h0m2-5h0m0-10h0m0 17h0m2 0h0m0 1h0m1-18h0m0 10h0m0-1h0m1 2h0m1 3h0m2-4h0m0-2h0m1-2h0m0-2h0m1 5h0m0 8h0m0-16h0m0 0h0m1 14h0m0 0h0m0-13h0m0 9h0m1-4h0m0-4h0m1 6h0m0 7h0m0-2h0m0-7h0m0 6h0m1-12h0m0 10h0m0-1h0m0-3h0m0-3h0m1 0h0m0 7h0m0 2h0m0-5h0m1-3h0m0-2h0m0 4h0m0 8h0m0-5h0m1 3h0m0-8h0m0 5h0m1-4h0m0 2h0m0 10h0m0-1h0m1-7h0m0 7h0m0-13h0m1 8h0m0 2h0m1-10h0m0-4h0m1 10h0m0-5h0m1-1h0m0-1h0m1-5h0m0 8h0m1 6h0m1-13h0m0 14h0m1-13h0m0 11h0m0-5h0m1 2h0m0-7h0m0 5h0m1-7h0m1 12h0m0-12h0m1 7h0m0 6h0m1-13h0m1 16h0m1 1h0m1-6h0m0 8h0m0-11h0m0-3h0m0 14h0m2-18h0m0 18h0m1-5h0m0-11h0m0 12h0m1-9h0m0 9h0m2-12h0m1 1h0m0 2h0m1 7h0m1 1h0m1-15h0m0 12h0m1-5h0m1 8h0m0 2h0m0-13h0m1 8h0m1 7h0m1-11h0m2-1h0m0-4h0m1 15h0m1-4h0m0-14h0m1 10h0m0 6h0m1-12h0m1 12h0m0-8h0m0 9h0m1-15h0m3 6h0m1 9h0m1 1h0m1-7h0m1 4h0m1 4h0m0-9h0m1 7h0m1-16h0m1 6h0m1 3h0m2-7h0m1 7h0m1 6h0m0-6h0m1 3h0m1-12h0m1-1h0m0 18h0m3-13h0m1-5h0m1 10h0m1 2h0m0-10h0m0 14h0m1-3h0m0-10h0m1 6h0m2 1h0m0-7h0m2-1h0m2 2h0m1 12h0m1-11h0m1 7h0m0-6h0m1 9h0m0-8h0m0-6h0m1-1h0m1 8h0m1-5h0m0 10h0m0-6h0m3 10h0m0 0h0m1-11h0m2 3h0m1-6h0m0 0h0m1 13h0m3-11h0m0-3h0m1-2h0m1 12h0m0-11h0m1 17h0m1-7h0m0-8h0m2 11h0m1-3h0m0 2h0m1 4h0m1-7h0m1-9h0m1 3h0m1-2h0m4-1h0m0 15h0m0-10h0m1-2h0m5 9h0m2 1h0m1 3h0m3-7h0m1 2h0m0-10h0m1 10h0m0-3h0m0 9h0m2-6h0m2-10h0m1 1h0m1 11h0m1-4h0m1-2h0m2-6h0m1 9h0m0 8h0m0-7h0m1 6h0m1-6h0m0 4h0m0-12h0m1 10h0m2-9h0m0 1h0m1 13h0m1-10h0m0-8h0m1 14h0m2 1h0m0-8h0m1 10h0m0-12h0m1 5h0m0-1h0m0 6h0m1 1h0m0-15h0m0 0h0m1 10h0m0-2h0m0-7h0m1 15h0m0-11h0m0-2h0m0 1h0m1 10h0m0 2h0m0-8h0m0-9h0m1 5h0m0 7h0m1 5h0m0-2h0m0-15h0m1 6h0m0 11h0m0-6h0m0 3h0m2 4h0m1 0h0m1 1h0m0-19h0m1 0h0m0 8h0m0-4h0m0-5h0m1 2h0m0 11h0m3-8h0m1-5h0m1 0h0m1 15h0m0-6h0m0 10h0m1-2h0m1-11h0m1-6h0m0 1h0m0 17h0m0-11h0m1-2h0m0-2h0m0 14h0m0 3h0m1-15h0m0 10h0m1-12h0m1 7h0m0 4h0m0-9h0m0 11h0m0-6h0m1 8h0m0-2h0m1-3h0m0 6h0m1-10h0m1-1h0m1-5h0m0 17h0m0-14h0m1 3h0m0 6h0m0 2h0m0-1h0m0-3h0m1-2h0m0-5h0m0 12h0m0-15h0m1 8h0m0-9h0m0 8h0m0-7h0m0 15h0m0 1h0m0-8h0m0 7h0m0-16h0m0 6h0m1 2h0m0 1h0m1 1h0m1 2h0m0 2h0m0-8h0m0 12h0m0-12h0m0 11h0m0-8h0m0-7h0m0 1h0m1 0h0m0 10h0m1-8h0m0 13h0m0-10h0m0-8h0m0 6h0m0 6h0m1-5h0m0 4h0m0-8h0m0 7h0m0-6h0m0-1h0m0 7h0m0 4h0m1-5h0m0-2h0m0 1h0m0-1h0m0 4h0m1-7h0m0 11h0m0-6h0m0-5h0m0-5h0m1 17h0m0 1h0m1-18h0m0 1h0m0 1h0m0 9h0m1 7h0m0-9h0m0-2h0m0 8h0m1 0h0m0-5h0m0 8h0m0 0h0m1-16h0m0 14h0m0-16h0m0 6h0m0 9h0m1 4h0m0-4h0m0-14h0m0 7h0m0 8h0m0 3h0m1-5h0m0-15h0m0 8h0m0-5h0m0 11h0m0-7h0m0 7h0m0-4h0m1-8h0m0 15h0m0 1h0m0-16h0m0 9h0m0-9h0m0 8h0m1-7h0m0-3h0m0 15h0m1-4h0m0-4h0m0 12h0m0-18h0m0 7h0m0-6h0m0 3h0m1 3h0m0 10h0m0-6h0m0-7h0m0-3h0m1 13h0m0-15h0m0 9h0m0-4h0m1 5h0m0-7h0m0 6h0m1-3h0m0-2h0m0 0h0m0 5h0m0-2h0m0 8h0m0 2h0m0-11h0m0 5h0m0-1h0m1 3h0m0 3h0m0-12h0m0 15h0m0-8h0m0 1h0m1-1h0m0 4h0m0-11h0m1-1h0m0 16h0m0-6h0m0-6h0m0 9h0m0 4h0m0-2h0m0-17h0m1 17h0m0-4h0m0-14h0m0 7h0m0 12h0m0-18h0m0 8h0m1 8h0m0 2h0m0-5h0m0-8h0m0 6h0m0 4h0m0 3h0m0 1h0m0-13h0m0-6h0m0 4h0m0 6h0m1 6h0m0-4h0m0-5h0m0 7h0m0-7h0m0 8h0m0-5h0m0 3h0m0 3h0m0-6h0m0-8h0m0 13h0m0 0h0m1-4h0m0-10h0m0 9h0m0-1h0m0 6h0m0 0h0m1-4h0m0-11h0m0 13h0m0 2h0m0-14h0m0 9h0m1-6h0m0 11h0m0-16h0m0 16h0m0 3h0m0-12h0m1 11h0m0-1h0m0-7h0m0 10h0m0-2h0m0 2h0m1-11h0m0-4h0m0-4h0m0 18h0m0-2h0m1 2h0m0-2h0m0-15h0m0 1h0m0 6h0m1 0h0m0 8h0m0-7h0m0-9h0m0 5h0m0-2h0m0 9h0m1-13h0m0 11h0m0-6h0m0 9h0m0-5h0m0 6h0m0-3h0m1 6h0m0-5h0m0-6h0m0 1h0m0 8h0m0-3h0m0 5h0m0-17h0m1 11h0m0-1h0m0 5h0m0-7h0m0 0h0m0-2h0m0 11h0m0 1h0m0-3h0m0-6h0m1-2h0m0 6h0m0-7h0m0 12h0m0-9h0m0 9h0m0-14h0m1 6h0m0 3h0m0 6h0m0-3h0m0-10h0m0-2h0m0 1h0m0 10h0m1-9h0m0 1h0m0-3h0m0 4h0m0 2h0m0 2h0m0-4h0m0 6h0m1-3h0m0 0h0m0 5h0m0-14h0m0-1h0m0 10h0m0-9h0m1 14h0m0-10h0m0 7h0m0 0h0m1-3h0m0 4h0m0-11h0m0 3h0m0 13h0m0-8h0m0-4h0m0 8h0m1-13h0m0-1h0m0 0h0m0 2h0m0 0h0m0 11h0m0-12h0m0 11h0m0 0h0m0-10h0m0 16h0m1-5h0m0-5h0m0 8h0m0-5h0m0 7h0m0-19h0m0 15h0m0 0h0m0-12h0m0 13h0m1-8h0m0 7h0m0-9h0m0-6h0m0 17h0m0-6h0m0-4h0m0-2h0m0 2h0m0-5h0m0 9h0m0 7h0m0-8h0m0 3h0m1-9h0m0-2h0m0 9h0m0-6h0m0 5h0m0-1h0m0 6h0m0-3h0m0-12h0m0 4h0m1-1h0m0 7h0m0-1h0m0 10h0m0-5h0m0-13h0m0 4h0m0 14h0m0-3h0m1 3h0m0-18h0m0 2h0m0 2h0m0 0h0m0 0h0m1-1h0m0 13h0m0-6h0m0 8h0m0-9h0m0 8h0m1-1h0m0 1h0m0 1h0m0-7h0m0-13h0m0 5h0m0-4h0m0 9h0m0-2h0m0-6h0m1 5h0m0-1h0m0-1h0m0 6h0m0 3h0m0 2h0m0-13h0m0 6h0m1-8h0m0 15h0m0 3h0m0-4h0m0-15h0m1 2h0m0 11h0m0 5h0m1-6h0m0-8h0m0 14h0m0-4h0m0-2h0m0 0h0m0-10h0m0 8h0m1 8h0m0-10h0m0-4h0m0 5h0m0 9h0m1-8h0m0-10h0m0 0h0m0 7h0m0-3h0m0 3h0m0-1h0m0-4h0m0-2h0m0 20h0m0-3h0m0-16h0m1 6h0m0-3h0m0 8h0m0-9h0m0 13h0m0-4h0m0-9h0m1 15h0m0-5h0m0-10h0m0 13h0m0-6h0m0 5h0m0-4h0m0-4h0m0 0h0m0-6h0m1 18h0m0-11h0m0-4h0m0 13h0m0-6h0m0 1h0m0 0h0m1-1h0m0 3h0m0 6h0m0 0h0m0-3h0m0-4h0m0-12h0m0 8h0m0-6h0m0 3h0m0 13h0m0-15h0m0 5h0m0 2h0m0-1h0m1 1h0m0 1h0m0 7h0m0-1h0m0-14h0m0 4h0m0 4h0m0-9h0m0 10h0m0 1h0m1-2h0m0-9h0m0 9h0m0 5h0m0-9h0m1 4h0m0 1h0m0-4h0m0-6h0m0-1h0m0 3h0m0 8h0m0-9h0m1 12h0m0-7h0m0 6h0m0-14h0m0 10h0m0-8h0m0-1h0m0 17h0m1-19h0m0 8h0m0-5h0m0 11h0m0 1h0m0 3h0m0-11h0m0 9h0m1 3h0m0-6h0m0-4h0m0 5h0m1-6h0m0 8h0m0-1h0m0-6h0m0-4h0m0 0h0m0 3h0m0-5h0m1 6h0m0 10h0m0 0h0m0-8h0m0 7h0m0-7h0m0-1h0m0 7h0m0-4h0m0-2h0m0 6h0m0-16h0m0 15h0m0-16h0m0 0h0m0 20h0m0-9h0m0-8h0m1 9h0m0-8h0m0 16h0m0-3h0m0 3h0m0-18h0m1 13h0m0-5h0m0 2h0m0 4h0m0-8h0m0-8h0m1 17h0m0-9h0m0-5h0m0 8h0m0 6h0m0-4h0m0 0h0m0 6h0m0-13h0m1-3h0m0 2h0m0 9h0m0 2h0m0-3h0m0 6h0m0-16h0m0 8h0m0-1h0m0-7h0m1 13h0m0-7h0m0 2h0m0 0h0m0 3h0m0-10h0m0 0h0m0 1h0m0-1h0m1 1h0m0-3h0m0 0h0m0 13h0m0-12h0m0 16h0m0-4h0m0-12h0m0 16h0m1-19h0m0 14h0m0-11h0m0-1h0m0 9h0m0-11h0m0 17h0m0-9h0m0 2h0m1 4h0m0-7h0m0 4h0m0-6h0m0 0h0m0-1h0m0-3h0m0 8h0m0-7h0m0 17h0m0-8h0m0 4h0m0-7h0m1 10h0m0-11h0m0 0h0m0 6h0m0-1h0m0-5h0m1 12h0m0-7h0m0-5h0m0 8h0m1-9h0m0-5h0m0 14h0m0 1h0m0 2h0m1-16h0m0 0h0m0 10h0m0-7h0m0-5h0m0 4h0m1-1h0m0 13h0m0 2h0m0-12h0m0-3h0m0 0h0m0 10h0m0-12h0m1 16h0m0 0h0m0-11h0m0 13h0m0-18h0m0 10h0m1 1h0m0 2h0m0-5h0m0 3h0m0-5h0m1 5h0m0 6h0m0 1h0m0-15h0m0 1h0m1 6h0m0 3h0m0 2h0m1 3h0m0-17h0m0 9h0m0-2h0m0 1h0m0 0h0m0-3h0m0-2h0m0 5h0m0-4h0m0 10h0m0 3h0m1-17h0m0 17h0m0-3h0m0 3h0m0-1h0m0-8h0m0 7h0m0 1h0m0-1h0m0-14h0m0 6h0m1 10h0m0-9h0m0-4h0m0-5h0m0 16h0m0-15h0m1 0h0m0 1h0m0 11h0m0-12h0m0 3h0m0 4h0m0 8h0m1 0h0m0-16h0m0 18h0m1-12h0m0-4h0m0 16h0m0 0h0m1-10h0m0 0h0m1-6h0m0-1h0m0 2h0m0 4h0m0 10h0m0-10h0m0 11h0m1-10h0m1-5h0m0 4h0m0-5h0m0 1h0m0 16h0m0-2h0m0-9h0m0 6h0m1-6h0m0 0h0m0 5h0m0-6h0m0 8h0m0-15h0m0 0h0m0 13h0m0-6h0m0-1h0m1 7h0m0-9h0m0 5h0m0 7h0m0 1h0m0-5h0m0-2h0m0-7h0m0-4h0m0 4h0m0-4h0m0 19h0m0-18h0m1 15h0m0-11h0m0-2h0m1 9h0m0 3h0m0-1h0m0 3h0m0 1h0m0 2h0m1-4h0m0-3h0m0-10h0m0 1h0m0 12h0m0-5h0m0 9h0m0 0h0m1-5h0m0 3h0m0-13h0m0 6h0m1 0h0m0-7h0m0 12h0m0-4h0m0-3h0m1-3h0m0 3h0m0-4h0m0-5h0m0 11h0m0 7h0m1 2h0m0-9h0m0-11h0m0 15h0m0-4h0m0 0h0m1 9h0m0-17h0m0 6h0m0 5h0m0-2h0m0 8h0m0-11h0m0 8h0m1 1h0m0 1h0m0-9h0m0-6h0m0 0h0m0 7h0m0-11h0m0 14h0m1-6h0m0 10h0m0-2h0m1-13h0m0 15h0m0-3h0m1-5h0m0-6h0m0 2h0m0-2h0m0 1h0m0 11h0m0-13h0m1 15h0m0 0h0m0-7h0m0-9h0m0 1h0m0 12h0m0 4h0m0-5h0m0 6h0m0-12h0m0 4h0m0-5h0m0 1h0m1 7h0m0-14h0m0 7h0m0 2h0m1 1h0m0-3h0m0-1h0m0 1h0m0-4h0m0-3h0m0 10h0m0 6h0m0-11h0m1 1h0m0 0h0m0-3h0m0 2h0m0 5h0m0 6h0m2-13h0m0 7h0m1 1h0m0 0h0m0 2h0m0 1h0m1-3h0m0 0h0m0 4h0m0-15h0m0-1h0m0 16h0m0-11h0m0 7h0m0 8h0m0-6h0m0-10h0m0 10h0m1-6h0m1-6h0m0 9h0m0-5h0m0-1h0m1-1h0m0-1h0m0 12h0m0-7h0m0 8h0m0-11h0m0 7h0m0 5h0m1-13h0m0 4h0m0-1h0m0 12h0m1-17h0m0 10h0m0 4h0m0-5h0m0-6h0m0 12h0m0-3h0m0 3h0m1-15h0m0 15h0m0-16h0m0 2h0m1 4h0m0-2h0m0 15h0m0-3h0m1-1h0m0-5h0m0-1h0m0 3h0m0 6h0m0-1h0m0 1h0m1-4h0m0-2h0m1 6h0m0-10h0m0 4h0m0-9h0m0 14h0m1-4h0m0-12h0m0 17h0m0-15h0m1 0h0m0 13h0m0-7h0m0-5h0m1 7h0m0 0h0m0 6h0m0-1h0m1-5h0m0-6h0m1-4h0m0 3h0m0 11h0m0-15h0m0 16h0m1-16h0m0 3h0m1-3h0m0 13h0m0-5h0m0 4h0m0-4h0m0-6h0m0 0h0m0 16h0m1-3h0m0-2h0m0-14h0m0 9h0m0 3h0m1-1h0m0-2h0m0-2h0m0 9h0m0-6h0m0 9h0m0-3h0m0-15h0m1 0h0m0-1h0m0 0h0m0 2h0m0 10h0m0 0h0m0-6h0m1 8h0m1-14h0m0 19h0m0-2h0m1-6h0m0 4h0m0-14h0m0 7h0m0-4h0m0 0h0m1 5h0m0-5h0m0 9h0m1 2h0m0-2h0m1-7h0m0 5h0m0 8h0m0 0h0m0-17h0m1-1h0m0 17h0m0 1h0m0-16h0m1 7h0m0-3h0m0 7h0m1 3h0m0 2h0m0-11h0m0-4h0m0 5h0m1 4h0m1 7h0m1-17h0m2 4h0m0-1h0m1-3h0m0 16h0m1-19h0m0 12h0m0-9h0m0-3h0m0 1h0m0 14h0m1-14h0m0 11h0m0-11h0m0 0h0m2 10h0m0 5h0m0-13h0m0 10h0m1-12h0m0 9h0m1 8h0m0-1h0m1-17h0m0 6h0m0 7h0m1-5h0m0 3h0m0-4h0m1-3h0m0 6h0m0-1h0m1 6h0m1-9h0m1 11h0m0-11h0m0 13h0m1-17h0m0 12h0m0-6h0m1 12h0m0-12h0m0 11h0m1-15h0m0-2h0m1 3h0m1 12h0m0-10h0m1-1h0m0 6h0m0-4h0m5 8h0m0-5h0m1 2h0m1-13h0m1 20h0m0-12h0m1 5h0m0 3h0m1-12h0m1 14h0m0-9h0m1-5h0m0 0h0m1 14h0m0-14h0m0 0h0m1 2h0m0 4h0m0-9h0m3 12h0m3-6h0m2 3h0m1-6h0m1 3h0m3-6h0m-476 37h0m8-1h0m21-13h0m3-2h0m2 14h0m3-4h0m4-6h0m0 6h0m5-4h0m2-2h0m0 3h0m1 11h0m0 0h0m2-14h0m3 7h0m2 6h0m1-6h0m1-7h0m1 4h0m1 10h0m0-11h0m0 0h0m1-8h0m1 12h0m2 6h0m1-15h0m0 6h0m0 0h0m0 10h0m0-4h0m1-6h0m0-5h0m1 9h0m1-11h0m0 2h0m0 7h0m1 2h0m0 4h0m0-3h0m0-4h0m0-2h0m1-4h0m0 12h0m1-17h0m0 10h0m0-8h0m1 3h0m0 6h0m1 8h0m0-14h0m0 14h0m0-14h0m0 5h0m1-1h0m0 10h0m1-8h0m0-11h0m0 17h0m0-1h0m1-15h0m0 7h0m0-1h0m0-2h0m1-2h0m0 0h0m0 9h0m0-9h0m0 16h0m0-8h0m1-6h0m0-4h0m0 8h0m2 0h0m0-7h0m1 4h0m0 6h0m1-8h0m0 5h0m0 9h0m0-12h0m1 6h0m0-2h0m0 4h0m1-2h0m1 7h0m1-11h0m0 9h0m0-16h0m0 5h0m1 3h0m0-6h0m0 1h0m1 3h0m0 11h0m1-8h0m0-2h0m1-7h0m0 3h0m2 3h0m0-5h0m0 0h0m1 13h0m1-3h0m0 4h0m0-12h0m1 13h0m0-14h0m1 5h0m0 10h0m0-1h0m0-12h0m1 5h0m0-7h0m1 2h0m0 8h0m0 0h0m1-13h0m1 16h0m0 1h0m0-10h0m1 11h0m0-1h0m0-13h0m1 9h0m1 7h0m1-2h0m0-2h0m0-1h0m0-8h0m0 5h0m0-1h0m1 7h0m0-14h0m3 8h0m2 5h0m1-4h0m0-3h0m1 1h0m1 7h0m0-16h0m0-1h0m0 4h0m0-3h0m1 5h0m0 3h0m2-9h0m1 16h0m0-16h0m1-1h0m0 1h0m0 2h0m1 9h0m1-11h0m0 13h0m0 1h0m0-7h0m0-4h0m1-1h0m1 17h0m0 0h0m3-6h0m1-12h0m1 0h0m0 8h0m1-6h0m1 11h0m0 4h0m2-9h0m1 3h0m1 0h0m2-2h0m1-3h0m0-4h0m0-2h0m1-2h0m1 13h0m1 7h0m0-7h0m2 7h0m1-9h0m2-7h0m1 1h0m0 14h0m1-16h0m1 15h0m0-14h0m1-2h0m0 10h0m0-3h0m1 0h0m0-7h0m0-1h0m1 7h0m0-4h0m0 1h0m3 1h0m2 11h0m1-14h0m1 4h0m1 0h0m0 10h0m1-13h0m0 8h0m0-11h0m2 15h0m0-9h0m0-1h0m2 8h0m1-9h0m0 12h0m1 0h0m1-13h0m0-4h0m0 10h0m1-1h0m0 0h0m0 8h0m0-4h0m4 5h0m1-12h0m0 10h0m1-15h0m2 17h0m0-7h0m0 9h0m0-4h0m3 0h0m0 4h0m2-12h0m0-3h0m1 0h0m0 1h0m1 10h0m1-8h0m0-7h0m4-1h0m0 8h0m2-2h0m1 5h0m0 0h0m1-4h0m0 12h0m2-7h0m0-7h0m0 14h0m1-8h0m1-2h0m0 9h0m1-16h0m1 9h0m0 7h0m0-16h0m1 0h0m0 6h0m1 4h0m0 2h0m4 3h0m1 2h0m1 1h0m1-1h0m0-16h0m1 17h0m0 0h0m2-9h0m0-10h0m0 18h0m0 1h0m1-15h0m0 2h0m1 8h0m0-1h0m0-10h0m0 4h0m1 1h0m3 10h0m0-17h0m1 8h0m1-2h0m0 11h0m0-5h0m0-8h0m0 3h0m2-6h0m0 9h0m2-9h0m0 4h0m1 7h0m2 2h0m0 2h0m0-8h0m1 7h0m0-16h0m1 14h0m1-8h0m0 12h0m0-4h0m1-11h0m2 0h0m0 9h0m1 4h0m0-12h0m1 6h0m0 8h0m0 0h0m1-13h0m0 10h0m0 3h0m0 0h0m0-8h0m1-9h0m1 13h0m0 4h0m1-1h0m1 2h0m1-1h0m0-2h0m1-2h0m1-9h0m0 11h0m1 0h0m1-4h0m2 0h0m0-3h0m0 4h0m1-5h0m2 11h0m1-5h0m0-6h0m0 11h0m1-9h0m0 5h0m1-6h0m1 2h0m1-3h0m0 10h0m0-5h0m1-7h0m0 6h0m0-4h0m2-4h0m0 10h0m1-7h0m0 12h0m0 0h0m1-14h0m0 11h0m0-7h0m0 9h0m1-3h0m0 0h0m1 4h0m0-12h0m0 8h0m1-3h0m2-9h0m2 1h0m1 12h0m0-9h0m0 6h0m1-2h0m0 0h0m0 6h0m0-11h0m1 3h0m0 1h0m1-7h0m0 3h0m0 2h0m0-7h0m1 1h0m0 10h0m1 7h0m0-3h0m0-16h0m0 17h0m1-18h0m0 14h0m0 2h0m1-9h0m1 8h0m0-14h0m1 2h0m0 11h0m0 2h0m1-9h0m0-1h0m0 2h0m0-1h0m1 11h0m0-4h0m0 5h0m2 0h0m0-6h0m0 4h0m0 0h0m0 3h0m0-5h0m0-5h0m0-9h0m1 13h0m0 6h0m0-19h0m0 0h0m0 8h0m1-4h0m0 14h0m0-3h0m0-2h0m0 5h0m0-13h0m0-2h0m0 14h0m1-7h0m0-8h0m0 0h0m0 13h0m1 1h0m1 0h0m0 0h0m0-8h0m0 4h0m0-12h0m0 7h0m0 4h0m0-6h0m1-5h0m1 12h0m0 6h0m0-13h0m0 7h0m1-12h0m0 19h0m0-1h0m0-8h0m0 9h0m1-1h0m0-19h0m0 19h0m1-9h0m0 1h0m0-2h0m1-3h0m0-4h0m0 1h0m0 2h0m0-2h0m0-1h0m0 16h0m1-14h0m0 10h0m0 0h0m0-3h0m0 6h0m1-1h0m0 3h0m0 0h0m0-11h0m0 0h0m0-1h0m1 1h0m0-4h0m0 5h0m0-3h0m0 1h0m0 4h0m0 0h0m1 1h0m0-9h0m0 15h0m0-16h0m0 14h0m0-16h0m0 19h0m0-1h0m1 1h0m0-12h0m0 0h0m0 12h0m0 1h0m0-13h0m0 4h0m1-2h0m0 9h0m1-10h0m0-5h0m0 14h0m0-13h0m0 11h0m0-13h0m0 6h0m1 12h0m0-17h0m0 2h0m0 2h0m1 1h0m0 8h0m0-11h0m0-4h0m0 5h0m0 11h0m0-9h0m0 8h0m0-1h0m0-2h0m0-8h0m1 5h0m0 1h0m0 8h0m0-10h0m0-8h0m0 12h0m0-7h0m0 13h0m0-11h0m0-5h0m1 7h0m0-3h0m0-5h0m0 17h0m0 1h0m1-8h0m0 1h0m0-10h0m0 13h0m0 0h0m0 2h0m0-4h0m0-2h0m0-4h0m1 6h0m0-5h0m0-8h0m0 18h0m0-8h0m0 4h0m0-12h0m0 16h0m1-9h0m0-2h0m0-5h0m0 2h0m0 7h0m0 7h0m0-17h0m0 11h0m0 5h0m0-15h0m1 7h0m0 6h0m0-9h0m0-4h0m0 9h0m0-11h0m0 9h0m1-1h0m0-9h0m0 16h0m0 0h0m0-12h0m0 15h0m0-6h0m0 3h0m0-7h0m1 5h0m0 4h0m0-16h0m0 18h0m0-20h0m0 3h0m0 14h0m1-11h0m0-4h0m0 12h0m0 3h0m0-7h0m0 6h0m0-8h0m0 8h0m0-5h0m1 1h0m0-6h0m0-5h0m0 19h0m0-19h0m1 14h0m0-12h0m0-2h0m0 13h0m0 4h0m0-10h0m1-6h0m0 14h0m0 1h0m0-12h0m0 8h0m0-1h0m0-3h0m0 10h0m1-13h0m0 13h0m0-8h0m0 5h0m0-5h0m0-1h0m0-2h0m0 4h0m0 5h0m0-2h0m1-9h0m0-2h0m0 5h0m0 1h0m0 4h0m0 3h0m0-8h0m1 6h0m0-1h0m0-2h0m1 2h0m0-12h0m0 16h0m0-3h0m0-11h0m0 14h0m0-4h0m0-1h0m0-12h0m0-1h0m0 5h0m1 2h0m0-4h0m0 11h0m0-6h0m0-3h0m0 5h0m0 1h0m0 2h0m0-3h0m0 7h0m1-10h0m0 0h0m0 5h0m0 2h0m0-13h0m0 14h0m0-13h0m0 17h0m0-3h0m0-12h0m0 15h0m0-14h0m0 4h0m1 1h0m0-8h0m0-2h0m0 15h0m0 0h0m0-10h0m0 2h0m0 3h0m0 2h0m0-8h0m1 9h0m0-2h0m0-10h0m0 2h0m0 1h0m0-3h0m0 13h0m0-6h0m1 7h0m0 1h0m0-10h0m0 6h0m0 6h0m0-7h0m0-1h0m0-7h0m0-1h0m0 17h0m0-3h0m1-2h0m0-4h0m0-3h0m0-7h0m0 17h0m0-7h0m1-6h0m0 1h0m0 13h0m0-1h0m0-7h0m0-1h0m0 9h0m1-13h0m0 13h0m0-14h0m0 11h0m0-2h0m0 5h0m0-3h0m0-5h0m0 1h0m1-9h0m0 12h0m0-8h0m0 4h0m0 9h0m0-11h0m0 11h0m0-9h0m0-7h0m0 14h0m0-12h0m0-2h0m0 14h0m0 0h0m0-7h0m0-10h0m0 4h0m1 10h0m0-10h0m0 15h0m0-14h0m0 13h0m0-7h0m0 5h0m0-8h0m1 9h0m0-9h0m0 3h0m0 4h0m0 1h0m0-7h0m0-3h0m0 3h0m0-4h0m0 7h0m0-9h0m1 12h0m0 2h0m0-13h0m0-2h0m0 14h0m0 2h0m0-5h0m0-9h0m0-4h0m1 14h0m0-7h0m0 0h0m1-1h0m0-3h0m0 4h0m0 5h0m0-4h0m0-2h0m0 7h0m0-8h0m0-1h0m1 2h0m0-5h0m0 11h0m0 7h0m0-1h0m0-12h0m0-1h0m0 7h0m0-2h0m0-3h0m0 12h0m1 1h0m0-1h0m0-16h0m1 1h0m0 10h0m0 4h0m0-16h0m0 4h0m0 1h0m0 3h0m0-7h0m0 3h0m0 5h0m0 1h0m1-12h0m0 12h0m0 5h0m0-11h0m0-4h0m0 2h0m0 13h0m0-4h0m1 2h0m0-7h0m0 8h0m0 2h0m0 0h0m0-7h0m1 0h0m0 0h0m0 3h0m0-9h0m0-5h0m0 4h0m1 8h0m0-3h0m0-6h0m0 8h0m0 5h0m0-15h0m0 12h0m0-6h0m1 12h0m0-4h0m0-2h0m0 1h0m0-10h0m0 0h0m0 6h0m0-1h0m0 7h0m0 1h0m0-16h0m0 4h0m0 10h0m0-12h0m1 3h0m0 12h0m0 0h0m0-4h0m0-6h0m0 3h0m0-6h0m0 9h0m1 3h0m0-6h0m0 1h0m0-3h0m0 1h0m0-7h0m0 5h0m0-2h0m0-2h0m0 5h0m0 5h0m0 1h0m0 5h0m0-20h0m1 13h0m0 6h0m0-8h0m0 1h0m0-6h0m0 10h0m0-1h0m0-6h0m0 4h0m0-3h0m1 10h0m0-2h0m0-6h0m0 5h0m0-12h0m0 4h0m0-1h0m0 2h0m0-9h0m0 17h0m0-7h0m0-2h0m0 7h0m0 0h0m0-6h0m0 9h0m0-7h0m1 2h0m0-13h0m0 3h0m0 8h0m0 2h0m0 4h0m0-1h0m0-7h0m0-4h0m0-1h0m1 8h0m0-5h0m0 9h0m0 2h0m0-1h0m0-16h0m0 4h0m0 9h0m0 0h0m0-9h0m0-2h0m0 14h0m0-18h0m0 8h0m1-1h0m0 3h0m0 1h0m0-9h0m1 10h0m0 6h0m0-15h0m0 7h0m0 2h0m0 0h0m0-4h0m1-2h0m0 6h0m0 5h0m0-16h0m0 13h0m0-11h0m0-2h0m0 16h0m0-17h0m0 18h0m1 0h0m0 1h0m0-10h0m0-9h0m0 16h0m0-16h0m0 10h0m0-5h0m1 4h0m0 1h0m0-8h0m0 16h0m0-3h0m0-13h0m0 11h0m1-2h0m0-4h0m0-5h0m0 12h0m0-5h0m0 7h0m0-7h0m1-6h0m0-3h0m0 6h0m0-1h0m0 3h0m0-2h0m0 3h0m0-1h0m0 1h0m0-6h0m1 15h0m0-1h0m0-5h0m0-11h0m0 0h0m1 4h0m0 8h0m0-10h0m0 11h0m0-9h0m0 14h0m0-18h0m0 1h0m0 11h0m1-11h0m0 12h0m0-4h0m0-2h0m0 10h0m0 0h0m0-5h0m0-2h0m0 2h0m1 0h0m0-4h0m0-7h0m0 3h0m0-4h0m0 0h0m0 9h0m0-9h0m0 3h0m0 9h0m0-6h0m0 13h0m0-11h0m1-7h0m0 7h0m0 0h0m0-5h0m0 12h0m0-3h0m0-3h0m0 0h0m0-4h0m0 1h0m0-1h0m0 3h0m0 0h0m0 1h0m0-4h0m1 3h0m0 10h0m0-14h0m0 4h0m0 10h0m0-5h0m0-6h0m0 2h0m0-7h0m0 5h0m1-4h0m0 14h0m0-15h0m0 7h0m0 5h0m0-8h0m0 3h0m0-3h0m1 11h0m0-10h0m0 0h0m0-8h0m1 15h0m0 1h0m0-13h0m0 12h0m0-12h0m0 14h0m0-5h0m0-3h0m0 6h0m1 0h0m0-14h0m0 7h0m0 9h0m0-15h0m0 2h0m0 5h0m0 9h0m0 0h0m0-15h0m0 16h0m1-8h0m0 1h0m0 7h0m0-10h0m0 11h0m0-6h0m0-13h0m1 13h0m0 1h0m0-4h0m0 2h0m0-2h0m0 6h0m1-2h0m0-5h0m0 7h0m0-3h0m0-13h0m0 19h0m0-3h0m1-3h0m0 4h0m0-14h0m0 14h0m0-6h0m0-3h0m0-8h0m0 12h0m0-3h0m0-6h0m1 14h0m0-16h0m0 12h0m0-11h0m0 0h0m1 7h0m0 2h0m0 1h0m0 7h0m0-19h0m0 0h0m0 1h0m0 12h0m0-5h0m1 5h0m0 5h0m0-8h0m0-9h0m0 7h0m0-1h0m0 11h0m1-7h0m0-1h0m0-11h0m0 17h0m0-10h0m1 8h0m0-3h0m0-7h0m0-5h0m0 8h0m0-8h0m0 13h0m1-11h0m0 10h0m0-8h0m0 5h0m0 1h0m1-2h0m0 10h0m0-7h0m0 8h0m0-15h0m0 10h0m0-1h0m0 4h0m0-3h0m1-12h0m0 7h0m0 5h0m0-8h0m0 12h0m0-1h0m0-8h0m0 8h0m0-15h0m0-1h0m0 10h0m0 4h0m1 5h0m0-9h0m0 3h0m0-5h0m0 7h0m1-7h0m0 11h0m0-10h0m0-1h0m1 7h0m0-14h0m0 6h0m0-4h0m0 4h0m0 5h0m0 5h0m0-8h0m0 0h0m0-8h0m0 6h0m0-5h0m0 6h0m1-3h0m0 1h0m0 2h0m0 4h0m0-7h0m0 5h0m0-4h0m0-7h0m1 17h0m0-14h0m0 8h0m0 1h0m0-6h0m0 11h0m1-13h0m0 16h0m0-7h0m0-9h0m1-4h0m0 2h0m0 2h0m0 8h0m0-10h0m0 0h0m0 7h0m0 0h0m0-3h0m0-2h0m0 14h0m1-10h0m0-1h0m0-6h0m0 12h0m0-2h0m0-5h0m0 2h0m0 11h0m0-13h0m0 4h0m1-8h0m0 0h0m0 15h0m0-14h0m0 0h0m0-1h0m1 0h0m0 0h0m0 5h0m1-5h0m0-2h0m0 14h0m0-1h0m0-7h0m0 9h0m0 4h0m0-7h0m0-3h0m0 7h0m1-15h0m0-1h0m0 6h0m0 1h0m0 10h0m1-6h0m0 1h0m0-4h0m0 2h0m0-8h0m0 9h0m0-9h0m1 13h0m0-13h0m0 17h0m0-11h0m0 3h0m0 7h0m1-15h0m0 8h0m0 6h0m0 2h0m0-16h0m1 10h0m0-6h0m0 10h0m0 2h0m0-12h0m0 8h0m0-2h0m0-12h0m1 14h0m0-1h0m0-8h0m0-1h0m0 10h0m0-14h0m1 10h0m0-11h0m0 18h0m0-12h0m0 9h0m0-5h0m0-8h0m0 14h0m0-15h0m1 3h0m0 1h0m0 2h0m0 6h0m0-7h0m1 3h0m0 5h0m0-14h0m0 3h0m0-3h0m1 8h0m0-5h0m0-2h0m0 2h0m0 16h0m0-7h0m0 4h0m0 2h0m0-11h0m0 13h0m0-8h0m0-1h0m1 3h0m0-7h0m0 5h0m0 3h0m0-8h0m0 8h0m0-11h0m1 7h0m0-8h0m0 4h0m0 7h0m0-1h0m0 1h0m0 0h0m1 1h0m0-7h0m0 7h0m0-1h0m0 3h0m0-4h0m0-12h0m0 8h0m1-9h0m0 17h0m0-1h0m0 3h0m0-15h0m0 10h0m0-12h0m1 8h0m0-10h0m0 17h0m0-14h0m0 14h0m0-5h0m0-5h0m0 8h0m0-12h0m0 4h0m0 12h0m0-11h0m0-7h0m1 18h0m0-1h0m0-11h0m0 9h0m0-8h0m0-6h0m1 5h0m1-5h0m0 18h0m0-12h0m0-5h0m0 10h0m0-11h0m0 11h0m0-12h0m0 2h0m1 11h0m0 4h0m0-9h0m0 7h0m0-2h0m0-3h0m0 7h0m0-13h0m1 14h0m0-14h0m1 5h0m0-8h0m0 5h0m0-3h0m1 7h0m0-1h0m0 1h0m0-1h0m0 4h0m0-11h0m0 8h0m0-10h0m0 14h0m1 1h0m0-10h0m0-5h0m0 17h0m0-13h0m2 9h0m1-1h0m0 2h0m0-7h0m0 2h0m0 8h0m1-2h0m0-14h0m0 8h0m0 1h0m0 3h0m0 3h0m1-12h0m0 12h0m0-14h0m0 0h0m0 17h0m0-8h0m0-10h0m0 13h0m0 0h0m0 1h0m0-3h0m1-8h0m0 10h0m0-13h0m0 6h0m1-4h0m0 9h0m0 4h0m0-12h0m1-4h0m0 14h0m0-11h0m0 2h0m1-6h0m0 14h0m1-5h0m0 3h0m0-3h0m1-7h0m0 7h0m0 6h0m0 1h0m1 1h0m0 2h0m0-13h0m1 11h0m1-6h0m0-11h0m0 19h0m1-6h0m0-2h0m0 7h0m0-6h0m0-1h0m0 0h0m1 2h0m0-9h0m0-2h0m1 8h0m1-2h0m1-6h0m0 17h0m0-16h0m2-2h0m0 10h0m4-7h0m0 11h0m0 3h0m0-7h0m4-8h0m0 2h0m1-3h0m0 7h0m0-9h0m0 17h0m2-17h0m0 4h0m0 15h0m4-5h0m2-1h0m0 0h0m0-6h0m1 8h0m1-1h0m0-12h0m1 6h0m1-6h0m3 0h0m3 3h0m2-5h0m-415 22h0m2 13h0m1-3h0m0 0h0m1-6h0m2 11h0m1 0h0m1-6h0m0 2h0m0 4h0m0-4h0m1 6h0m0-3h0m0-2h0m1-4h0m0 6h0m2-8h0m0 5h0m0-5h0m1 4h0m0 1h0m0 6h0m0-8h0m1 8h0m0 0h0m0 1h0m0-16h0m1 1h0m0 13h0m0-3h0m1-9h0m0 7h0m1-8h0m0 10h0m1 4h0m0-7h0m0-5h0m1 0h0m0 3h0m0 8h0m0-3h0m2-15h0m0 15h0m0-3h0m1-5h0m1-3h0m0 1h0m0 12h0m0 1h0m1 2h0m0-4h0m0 0h0m1-13h0m0-2h0m0 11h0m0-8h0m1-4h0m0 8h0m0-4h0m0 4h0m1 12h0m0-12h0m0 10h0m0 1h0m1-5h0m0-13h0m0 13h0m0 2h0m0-5h0m0 8h0m0-13h0m1 6h0m0 6h0m0-1h0m1 3h0m1-19h0m4 6h0m1 3h0m2-6h0m1 15h0m0-5h0m1-2h0m0-9h0m1 4h0m0 13h0m1-19h0m1 2h0m2-2h0m1 18h0m3-12h0m0-3h0m0 11h0m2-4h0m1 4h0m1 0h0m0-15h0m0 0h0m3 16h0m0-12h0m2 4h0m0 11h0m3-15h0m1 7h0m1-9h0m0 6h0m1-6h0m0-1h0m0 3h0m2 12h0m1 1h0m0-3h0m0 3h0m1-8h0m1-6h0m1 14h0m0-13h0m0 5h0m0-1h0m1 5h0m0 6h0m2-3h0m0 2h0m0-12h0m1 8h0m2-14h0m2 12h0m0-2h0m2-1h0m0 0h0m0 3h0m1-8h0m1 15h0m1-17h0m2 3h0m0 6h0m0-6h0m2 12h0m0-4h0m2-7h0m1 9h0m1 2h0m1 3h0m0-3h0m1-7h0m2-3h0m2-4h0m1 7h0m0 1h0m1 7h0m0-11h0m0 11h0m2-6h0m1-2h0m1-4h0m0 2h0m1 11h0m0-11h0m2-8h0m0 17h0m0-14h0m1 0h0m0 3h0m0 3h0m1-3h0m1 1h0m1 7h0m5-3h0m1-6h0m0 3h0m1 11h0m1-8h0m0-5h0m2 5h0m1 0h0m1 3h0m0 5h0m0-17h0m0 5h0m1-6h0m0 18h0m1-8h0m1 0h0m0-10h0m1 1h0m0 15h0m1 1h0m0-4h0m1 1h0m0-9h0m1 5h0m0 2h0m1-10h0m0 10h0m0-7h0m1 6h0m0 4h0m1-8h0m0 11h0m0-17h0m0 13h0m0 1h0m0-4h0m2 7h0m0-6h0m1-2h0m0 4h0m2 3h0m1-4h0m1-8h0m0 11h0m0-10h0m1 9h0m2 1h0m0-2h0m0 4h0m1-16h0m0 9h0m1-8h0m0 8h0m0 2h0m2 5h0m1-6h0m0 6h0m1-6h0m0 2h0m1-4h0m0 7h0m0-7h0m0 8h0m2-6h0m0 4h0m2-13h0m0 5h0m0-8h0m3 1h0m0 0h0m0 1h0m0 14h0m0-4h0m0-7h0m1 13h0m0-16h0m0-2h0m0 0h0m1 0h0m0 5h0m1 5h0m1-11h0m0 15h0m1 1h0m0-9h0m1 8h0m0 3h0m0-8h0m0 3h0m2-12h0m0 5h0m0 10h0m1-10h0m0 8h0m0-14h0m0 16h0m0 3h0m1-17h0m1 15h0m0 2h0m0-8h0m0 4h0m1 1h0m1-5h0m0 6h0m0 2h0m1-18h0m0 7h0m2 6h0m0-1h0m1-8h0m2 13h0m1-5h0m0 6h0m1-2h0m0-4h0m1-7h0m0 9h0m1-1h0m0-4h0m1 6h0m0 0h0m2-14h0m0 2h0m0 13h0m0-9h0m1 3h0m0-7h0m0 13h0m1-11h0m0 6h0m1-7h0m0 13h0m0-9h0m0 8h0m1-12h0m0 6h0m1 4h0m0-3h0m0 1h0m0-5h0m1-5h0m0 12h0m1-10h0m0 8h0m0-8h0m0 12h0m0-8h0m1 3h0m0-5h0m0 6h0m0 7h0m1-18h0m1 6h0m0-1h0m1-4h0m1 2h0m0 7h0m0 6h0m0-14h0m1-1h0m0 17h0m1-6h0m1 5h0m0-1h0m0-6h0m1 1h0m0-10h0m0 11h0m0-2h0m0-9h0m1 17h0m0-8h0m0 2h0m0-14h0m1 4h0m0 0h0m1 12h0m0-10h0m1 4h0m0-2h0m0 11h0m1 0h0m0-9h0m0-1h0m0 5h0m1 3h0m0-17h0m1 19h0m0-12h0m1 1h0m0 11h0m0-14h0m1 10h0m0-4h0m0-2h0m0 10h0m0-18h0m1 15h0m0-7h0m0 9h0m1-9h0m0 10h0m1-19h0m0 1h0m0 4h0m1 8h0m0-1h0m0 0h0m0 7h0m0-7h0m1 7h0m0-17h0m0 10h0m0-4h0m2-4h0m1 15h0m0-8h0m1 0h0m0 5h0m0 3h0m0-17h0m1 14h0m0 3h0m1-10h0m0-2h0m0 9h0m0-6h0m1-5h0m0 2h0m1-7h0m0 16h0m0 1h0m0-12h0m0 3h0m1-8h0m0 16h0m0 1h0m0-7h0m0 0h0m1-1h0m0-2h0m0-2h0m1-2h0m0 9h0m1 7h0m0 1h0m1-2h0m0-1h0m1-16h0m0 14h0m0 1h0m1-16h0m0 2h0m0 18h0m0-1h0m0-4h0m1 4h0m0-4h0m0-14h0m0 9h0m1 7h0m0-4h0m0 7h0m0-13h0m0 12h0m0-17h0m1 14h0m0-15h0m1 16h0m0-8h0m0 7h0m0-11h0m0 1h0m1 2h0m0 10h0m1-1h0m0-16h0m0-1h0m1 20h0m0-13h0m0 10h0m0-3h0m0 6h0m0-10h0m0-6h0m0 12h0m1-1h0m0 2h0m1-3h0m0 4h0m0-9h0m1 6h0m0-10h0m0 15h0m0 0h0m0-2h0m0-13h0m0 14h0m1-4h0m0 4h0m0-12h0m0 11h0m0-11h0m0 5h0m0 5h0m0-12h0m0 6h0m1-4h0m0-4h0m0 2h0m0 4h0m0 5h0m0-14h0m1 5h0m1-4h0m0 17h0m0-10h0m0 10h0m0-15h0m0 11h0m0-1h0m0 0h0m1 4h0m0-17h0m0 12h0m0-10h0m0 0h0m1 5h0m0-2h0m0 2h0m0-1h0m0 3h0m0 9h0m0-4h0m1-10h0m0 13h0m0-17h0m0 17h0m0 0h0m0-14h0m1 16h0m0-12h0m0-6h0m0 13h0m0 3h0m1-3h0m0-11h0m0 10h0m0-11h0m0 7h0m0 4h0m0-10h0m1 9h0m0 7h0m0-5h0m0 4h0m0 2h0m0-7h0m1-2h0m0 8h0m0-17h0m0 12h0m1-2h0m0-10h0m0 18h0m0-8h0m0 2h0m0-8h0m0 8h0m1-3h0m0-8h0m0-2h0m0 9h0m0-9h0m0 18h0m0 0h0m0-8h0m0-9h0m1 9h0m0-1h0m0-1h0m0 0h0m1 0h0m0 2h0m0 3h0m0-12h0m0 16h0m1-8h0m0 6h0m0-6h0m0 10h0m0-10h0m1-5h0m0 0h0m0 9h0m0 4h0m0-16h0m0 9h0m0 8h0m1-9h0m0-4h0m0 8h0m0 0h0m1-5h0m0 10h0m0-8h0m1 8h0m0-13h0m0 11h0m0-9h0m0 11h0m0-7h0m1 2h0m0-10h0m0 13h0m0-7h0m0-1h0m0 8h0m1-2h0m0-12h0m0 15h0m0-3h0m0-10h0m0-4h0m0 7h0m0-6h0m0 9h0m0 6h0m1-16h0m0-1h0m0 19h0m0-13h0m0 3h0m0 9h0m0-5h0m1-2h0m0-7h0m0 16h0m0-5h0m0-3h0m0 3h0m1-6h0m0-5h0m0 6h0m0-5h0m0 11h0m0-1h0m0 4h0m0-5h0m0-6h0m1-5h0m0 11h0m0 5h0m0-19h0m0 13h0m0-7h0m0 12h0m1-11h0m0-5h0m0 1h0m0 8h0m0-2h0m0-3h0m0 6h0m0-7h0m0-4h0m0 9h0m1 4h0m0 4h0m0-15h0m0 9h0m0 2h0m0-7h0m1 6h0m0 3h0m0-8h0m0 2h0m0-9h0m1 12h0m0-13h0m0 14h0m0 2h0m0-10h0m0-2h0m0 3h0m0 11h0m0-13h0m0 3h0m1 2h0m0 3h0m0 5h0m0-2h0m0-10h0m0 13h0m0-8h0m0 3h0m0 4h0m0 0h0m1-16h0m0 1h0m0 6h0m0 8h0m0-7h0m0-9h0m0 13h0m0 3h0m0 0h0m0-1h0m0 4h0m0-8h0m0-4h0m0 0h0m0-7h0m1 11h0m0-4h0m0 11h0m0-11h0m0 10h0m0-2h0m1-2h0m0 3h0m0-11h0m0 7h0m0 5h0m0 0h0m1-15h0m0-2h0m0 12h0m0 7h0m0-16h0m0-2h0m1-1h0m0 9h0m0 6h0m0-9h0m0-5h0m0 6h0m0-3h0m0 5h0m0-6h0m1 5h0m0-9h0m0 6h0m0-1h0m0 14h0m0-6h0m0 4h0m1-1h0m0 3h0m0-9h0m0 0h0m0 8h0m0-16h0m0 1h0m0 3h0m1 10h0m0-6h0m0 0h0m0 5h0m0 4h0m0-17h0m1 8h0m0-1h0m0-2h0m0 13h0m0-15h0m0-5h0m0 17h0m0-5h0m0-10h0m1 12h0m0 6h0m0-13h0m0 9h0m0 4h0m0-3h0m0-15h0m0 17h0m0-11h0m1-8h0m0 11h0m0 7h0m0-5h0m0 4h0m1-9h0m0 6h0m0 2h0m0-10h0m0-1h0m0 12h0m0-8h0m1 7h0m0-4h0m0 6h0m0-3h0m0-15h0m0 16h0m0-16h0m1 12h0m0-11h0m0 5h0m0-4h0m0-1h0m0 13h0m0-12h0m1 7h0m0-6h0m0 13h0m0-15h0m0 8h0m0 11h0m0-10h0m1-4h0m0 4h0m0 6h0m0-9h0m0-3h0m0 9h0m0 7h0m0-14h0m0 13h0m1-8h0m0-8h0m0-3h0m0 10h0m0 8h0m0-1h0m0-4h0m0-7h0m1 12h0m0-2h0m0 0h0m0 1h0m0-16h0m0 5h0m1-1h0m0 8h0m0 3h0m0-7h0m0 1h0m1 9h0m0-9h0m0-2h0m0 2h0m0 4h0m0-7h0m0 1h0m0-6h0m0 3h0m0 0h0m0 3h0m1 7h0m0-15h0m0 19h0m0-4h0m0 3h0m0-7h0m0 6h0m0 1h0m0-6h0m0-1h0m0-7h0m0 2h0m0-3h0m0 15h0m0-3h0m0-2h0m1 1h0m0-4h0m0 6h0m0-6h0m0-6h0m0 12h0m0-13h0m0 8h0m0 4h0m0-1h0m0 4h0m0-4h0m0 1h0m0-14h0m1 6h0m0-4h0m0 3h0m0 6h0m0-6h0m0 9h0m0-9h0m0 3h0m0-6h0m0 16h0m1-2h0m0-15h0m0 16h0m0-1h0m0-7h0m0 9h0m0-18h0m0 10h0m1-8h0m0-1h0m0 13h0m0-5h0m0-1h0m0 10h0m0-1h0m0-10h0m0-3h0m0 7h0m0-1h0m0 3h0m0 2h0m0 3h0m1-17h0m0 1h0m0 16h0m0-8h0m0-4h0m0-1h0m0-3h0m0 9h0m0 7h0m0-3h0m0-13h0m0 14h0m1 1h0m0-3h0m0 3h0m0-12h0m0-2h0m0 1h0m0 5h0m0 2h0m0-2h0m0 9h0m0-16h0m1 4h0m0-2h0m0 5h0m0 9h0m0-11h0m0-2h0m0-4h0m1 14h0m0-10h0m0-4h0m0 17h0m0-13h0m0 11h0m0-15h0m0 16h0m0-3h0m1-8h0m0 9h0m0-16h0m0 11h0m0 6h0m0-2h0m1 5h0m0-17h0m0 0h0m0 3h0m0-1h0m0 5h0m0-5h0m0 5h0m0 4h0m0 1h0m0-3h0m1 4h0m0-13h0m0 5h0m0 9h0m0-7h0m0 6h0m0-1h0m0-15h0m0 8h0m0 12h0m1-13h0m0 6h0m0-1h0m0 6h0m0-7h0m0-8h0m0 9h0m0 3h0m0-13h0m0 5h0m1-4h0m0 10h0m0-6h0m0 12h0m0-16h0m0 13h0m1 4h0m0-12h0m0-5h0m0 11h0m0-13h0m0 16h0m0-3h0m0 2h0m0 3h0m1-5h0m0-6h0m0-8h0m0 3h0m0-1h0m0 11h0m0-12h0m1 14h0m0-11h0m0 11h0m0-3h0m0 3h0m0-11h0m0 7h0m0 9h0m0-2h0m0-8h0m0-8h0m1 10h0m0-9h0m0 0h0m0-2h0m0 5h0m0 11h0m0-10h0m0 8h0m0-1h0m1 5h0m0-8h0m0-1h0m0-7h0m0 5h0m0-5h0m1 11h0m0 1h0m0-13h0m0 10h0m0 7h0m0-19h0m0 15h0m0 2h0m0-12h0m0-4h0m1 0h0m0 0h0m0 2h0m0 4h0m1-7h0m0 10h0m0 5h0m0-7h0m0 11h0m0-16h0m0 7h0m0-5h0m0 8h0m0-9h0m0 13h0m1-13h0m0 10h0m0-7h0m0 4h0m0 3h0m0-3h0m0 3h0m0-9h0m0 6h0m0-4h0m0 1h0m1-4h0m0-4h0m0 19h0m0-7h0m0-1h0m0 1h0m0 2h0m0-9h0m0 7h0m0 4h0m1-10h0m0 8h0m0-2h0m0-9h0m0 12h0m0-10h0m0 11h0m1-13h0m0 7h0m0 3h0m1-10h0m0 16h0m0-4h0m0 1h0m0-5h0m0-8h0m0 1h0m0 10h0m1 3h0m0 1h0m0 2h0m0-2h0m0 1h0m0-12h0m0-6h0m0 1h0m0 10h0m1-11h0m0-1h0m0 12h0m0 5h0m0-1h0m0-16h0m0 16h0m0-7h0m0 8h0m1-3h0m0-2h0m0 2h0m1-12h0m0 16h0m0-13h0m0 6h0m0 7h0m0-13h0m0 13h0m1-15h0m0 1h0m0 4h0m0 0h0m0-6h0m0 3h0m0 7h0m0-8h0m0-4h0m0 12h0m0 5h0m0-9h0m1 9h0m0-10h0m0-2h0m0 11h0m0 3h0m0-12h0m0 8h0m0-14h0m1 14h0m0-5h0m0-6h0m0-3h0m0 4h0m1 11h0m0-12h0m0-3h0m0 18h0m0-19h0m0 9h0m0 9h0m0-6h0m0-10h0m1 9h0m0-1h0m0 9h0m0-16h0m0 1h0m1 13h0m0-3h0m0-12h0m0 7h0m0-5h0m0 8h0m0-11h0m0 6h0m0 6h0m1 6h0m0 1h0m0-8h0m0 3h0m0-15h0m0 2h0m0 3h0m0 6h0m0-5h0m1 9h0m0-1h0m0-11h0m0 12h0m0 0h0m0-9h0m0 4h0m0-6h0m1 14h0m0-14h0m0 13h0m0-3h0m0 5h0m0-18h0m0 13h0m0-4h0m1 9h0m0-13h0m0 10h0m0-7h0m0-1h0m0 1h0m0-2h0m1-2h0m0 13h0m0-18h0m0 17h0m0-17h0m0 1h0m1 11h0m0 2h0m0 4h0m0-1h0m0 0h0m1-2h0m0 0h0m0-5h0m0-4h0m0 1h0m0 3h0m0 1h0m1-11h0m0 11h0m0-6h0m0 3h0m0-1h0m1 4h0m0-1h0m0 7h0m0-15h0m0 14h0m0-9h0m1 2h0m0-4h0m0 8h0m0-6h0m0 8h0m0 2h0m0-2h0m0-9h0m0 6h0m0-9h0m1 5h0m0-2h0m0 7h0m0 3h0m0 0h0m1-15h0m0 2h0m0 13h0m0-11h0m0-1h0m0 2h0m0-4h0m0 13h0m2-11h0m0 10h0m0 3h0m1-16h0m0 1h0m0 6h0m0 3h0m0-7h0m0-3h0m1 5h0m0 0h0m0 6h0m0-4h0m0 0h0m0 4h0m0 4h0m0 2h0m0-12h0m1 3h0m0 4h0m0-9h0m0-1h0m0-1h0m0 1h0m0 10h0m1 6h0m0-10h0m0 0h0m0 7h0m0-12h0m1 1h0m0 2h0m0 0h0m0 1h0m0 6h0m1 6h0m0-13h0m1 2h0m0-1h0m0 5h0m0 6h0m1-14h0m0-3h0m1 13h0m0-7h0m0 8h0m0-1h0m1-15h0m0 17h0m0-3h0m0-13h0m0 5h0m1 2h0m0 1h0m0 11h0m0-18h0m0 17h0m0-12h0m0 6h0m1-6h0m0-3h0m0 14h0m0-2h0m0-13h0m1 5h0m0-5h0m0 5h0m0 7h0m1-2h0m0-6h0m0-4h0m0 6h0m0-7h0m0 12h0m0-8h0m0-1h0m1 9h0m0-2h0m0-2h0m1-3h0m0 10h0m0 0h0m0-14h0m0 17h0m1-9h0m0 4h0m0 0h0m0-7h0m1-1h0m0-2h0m0-2h0m0 11h0m0-3h0m0-1h0m0 7h0m1-10h0m0 13h0m0-20h0m0 5h0m0 11h0m1-16h0m0 10h0m0 5h0m0-9h0m0 13h0m1-14h0m0 10h0m0-1h0m0-11h0m0 6h0m0 1h0m1 1h0m0-1h0m1 3h0m0-3h0m0-8h0m1 13h0m0-14h0m0 7h0m0 4h0m0-8h0m1 11h0m0 1h0m0-12h0m0 11h0m0-13h0m1-1h0m0 17h0m0-8h0m1-5h0m1-1h0m0 12h0m0-8h0m0 7h0m0 3h0m1-10h0m1 1h0m0-7h0m0 9h0m1-11h0m0 7h0m1 4h0m0-9h0m0 15h0m0-1h0m1-4h0m0-7h0m0 5h0m0 10h0m0-14h0m1 1h0m0 2h0m0-2h0m1 8h0m0-7h0m1 11h0m0-3h0m0-15h0m1 2h0m0 14h0m0 1h0m1-4h0m1-10h0m0 11h0m0-13h0m1 16h0m0-17h0m1 1h0m1 14h0m0 0h0m0-15h0m1 18h0m1-14h0m3 2h0m1-6h0m2 9h0m0 0h0m1-1h0m0-9h0m0 13h0m1-1h0m0 4h0m2-15h0m0 7h0m1-6h0m0 8h0m1-10h0m2 6h0m0-4h0m1 4h0m3-5h0m0 17h0m1-9h0m-430 25h0m1 1h0m2-6h0m2 9h0m2-5h0m0-1h0m2-2h0m0 4h0m2 5h0m1-4h0m0-7h0m0 9h0m1 2h0m1-14h0m1 14h0m0-2h0m1-4h0m1-1h0m0 4h0m1 1h0m0-5h0m0 4h0m0 1h0m1-4h0m1 2h0m1 4h0m0-10h0m0-4h0m1-1h0m0 12h0m0-13h0m0 3h0m0 6h0m1 1h0m0-9h0m0 15h0m0-1h0m0-3h0m0 0h0m0-1h0m0-11h0m1 8h0m0 7h0m0-8h0m0 2h0m0 4h0m0-11h0m0 5h0m0 0h0m1 4h0m0-5h0m0 8h0m0-1h0m0 3h0m0-17h0m0 12h0m0-5h0m0-9h0m0 12h0m1 8h0m0-7h0m0 3h0m0-3h0m0 1h0m1 3h0m0-6h0m0 7h0m0 0h0m1-4h0m0-1h0m1 4h0m0-5h0m1 6h0m0-4h0m0 5h0m0-11h0m1 4h0m0-7h0m0-4h0m0 19h0m1-7h0m0-9h0m0 8h0m1-5h0m0 8h0m0 5h0m0-15h0m0 6h0m1 3h0m0-4h0m0 9h0m0-16h0m0 1h0m0 8h0m1 6h0m0-3h0m0-1h0m0-6h0m1-2h0m0 10h0m0-3h0m1 2h0m0 2h0m0-14h0m0 2h0m1 1h0m0-3h0m0 12h0m0 5h0m2-4h0m0-3h0m0-5h0m0 4h0m0-5h0m0-5h0m1 11h0m0-5h0m0 6h0m1-1h0m0 2h0m0 1h0m1-2h0m2-8h0m0-4h0m1 3h0m0-4h0m0 8h0m0 6h0m1-14h0m0 4h0m0-2h0m0 5h0m1 7h0m0-13h0m0 4h0m0-3h0m0 4h0m0-4h0m1 1h0m0 6h0m1 1h0m0 4h0m1-14h0m0 5h0m1 3h0m0-1h0m0-1h0m0 3h0m0-10h0m0 9h0m1 7h0m0-13h0m0-3h0m0 18h0m1-15h0m0 8h0m0 0h0m1 4h0m0-13h0m1 3h0m1 3h0m2 11h0m1-18h0m2 14h0m0 1h0m0-15h0m4 0h0m2 1h0m1-2h0m2 18h0m2-5h0m2 2h0m0-8h0m2 1h0m1-6h0m0 9h0m1-7h0m2-2h0m0 10h0m1-4h0m1 6h0m2 4h0m6-10h0m3-8h0m1 7h0m0-7h0m1 7h0m0 1h0m1-7h0m1 12h0m3 1h0m1-5h0m1 7h0m0 0h0m3-7h0m3 2h0m1-11h0m1 11h0m0-7h0m0 7h0m4-2h0m0-1h0m1-7h0m1 9h0m1 7h0m1 0h0m0-9h0m2 6h0m0-13h0m1 17h0m0-6h0m1-4h0m2 9h0m1-7h0m0 10h0m0-12h0m1 9h0m2-15h0m1 3h0m1 9h0m3-10h0m0 5h0m1 4h0m1-3h0m0-7h0m2 3h0m0 11h0m0-3h0m1 2h0m2-1h0m1 4h0m0-19h0m2 16h0m0 0h0m0-4h0m2 4h0m0-2h0m0-1h0m0 3h0m0 3h0m1-3h0m1 3h0m0-11h0m1 1h0m0-1h0m2 11h0m1-18h0m0 11h0m0 1h0m0-12h0m0 11h0m1 6h0m0-2h0m1-1h0m0 4h0m0-8h0m0 2h0m1 5h0m0-8h0m0-10h0m1 14h0m0-13h0m0 2h0m1 5h0m0 3h0m1 6h0m1-4h0m0-4h0m0 1h0m0 6h0m0-6h0m1 0h0m1-3h0m0 1h0m0 4h0m1 0h0m0 0h0m1 3h0m0-1h0m0 6h0m0-8h0m0 7h0m0-6h0m1-5h0m0 5h0m0-11h0m1 9h0m0-4h0m0-4h0m0 11h0m1-2h0m0 8h0m0-8h0m1 8h0m0-11h0m0-6h0m0 0h0m0 5h0m0-3h0m0 11h0m0-8h0m1-7h0m0 14h0m1-1h0m1-14h0m0 5h0m1-4h0m0 3h0m1 3h0m0-3h0m0 11h0m0-2h0m0-10h0m0 14h0m1 2h0m0-3h0m0 3h0m1-17h0m0 16h0m1-13h0m0 0h0m1-2h0m0 10h0m0-5h0m0 10h0m0-5h0m1-4h0m0-6h0m0 17h0m0-5h0m1-9h0m0 4h0m0 4h0m1 4h0m0-9h0m0 10h0m0-8h0m1-3h0m0 4h0m1 1h0m0-12h0m0 15h0m0-4h0m0-1h0m0-4h0m1 9h0m0-6h0m0-5h0m0 6h0m0 8h0m1-15h0m0 6h0m0 7h0m1-5h0m1-8h0m0 8h0m0-3h0m0 6h0m0-11h0m0-1h0m1 16h0m0-3h0m0-9h0m0 6h0m1-3h0m0 3h0m0-7h0m0 6h0m1-2h0m0 9h0m1-4h0m0-9h0m1 0h0m0 12h0m0-10h0m0 11h0m0-17h0m0 1h0m1 2h0m0 10h0m0-2h0m1 3h0m0-12h0m0 7h0m0 7h0m0-9h0m0-7h0m1 4h0m0 12h0m0-11h0m0 2h0m0-2h0m1-1h0m0 12h0m0-18h0m1 19h0m0-11h0m0-2h0m0 9h0m0-13h0m2 15h0m0-11h0m0 1h0m1-3h0m0 9h0m0 4h0m0-14h0m0 5h0m0-1h0m0-2h0m0 8h0m1 0h0m0-13h0m1 6h0m0-4h0m0-1h0m1 13h0m0-2h0m0-5h0m0 8h0m1-5h0m0 1h0m0-7h0m0-4h0m0 9h0m1-9h0m0 7h0m1 6h0m0-2h0m0 1h0m0 4h0m0-13h0m1 4h0m0 9h0m0-13h0m1 3h0m0-1h0m0 5h0m0 10h0m0-13h0m0 10h0m1 3h0m0-15h0m1 0h0m0 4h0m0 5h0m0-10h0m0 9h0m1 0h0m0-3h0m0-4h0m0-6h0m0 4h0m1-4h0m0 5h0m0 8h0m0 6h0m0-9h0m2 10h0m0-18h0m0 4h0m1-3h0m0 6h0m0 2h0m0-10h0m1 3h0m0 0h0m0-2h0m0 7h0m0-1h0m1 8h0m1-11h0m0 8h0m0-6h0m1 3h0m0-3h0m0 10h0m0 0h0m0 2h0m0-3h0m1-13h0m0 10h0m0-7h0m1 4h0m0 3h0m0-3h0m1-4h0m0-5h0m0 0h0m1 13h0m0 4h0m1-15h0m0 14h0m0-17h0m0 2h0m1 14h0m0 1h0m0-16h0m0 8h0m0 0h0m0 7h0m1 2h0m0-5h0m0-12h0m0 10h0m0 2h0m0-7h0m1 1h0m0-1h0m1-1h0m0 11h0m0-10h0m0 6h0m0-8h0m0 3h0m0 6h0m1 7h0m0-6h0m0 4h0m1-7h0m0 6h0m0-4h0m0-7h0m0 9h0m1-1h0m0 3h0m0-6h0m0 2h0m0-10h0m1 8h0m0-3h0m0 0h0m1-8h0m0 6h0m0 13h0m0-11h0m0 1h0m0-7h0m0 8h0m1-1h0m0-8h0m0 11h0m1-8h0m0 12h0m0-6h0m0 2h0m0-2h0m0 7h0m1-15h0m0 6h0m1 8h0m0 4h0m0-11h0m0 1h0m0-4h0m0 1h0m1 12h0m0-6h0m1 1h0m0-8h0m1 13h0m0-6h0m0-6h0m0-4h0m0 13h0m0-4h0m1-9h0m0 12h0m0 4h0m0-17h0m0 14h0m0-5h0m1-6h0m0 13h0m1-3h0m0 2h0m0-8h0m0 6h0m0-11h0m0 15h0m0-2h0m1-11h0m0 3h0m0-3h0m0 0h0m0 5h0m0 6h0m0-5h0m0 2h0m0-8h0m1 11h0m0 3h0m0-3h0m0-14h0m0-1h0m1-1h0m0 1h0m0 6h0m1-4h0m0 4h0m0 4h0m0 6h0m0-17h0m0 16h0m0-11h0m1 11h0m0-11h0m0-2h0m0 8h0m1-6h0m0-5h0m0 18h0m0-17h0m1 1h0m0 0h0m0 12h0m0-4h0m0-10h0m1 7h0m0-5h0m0 11h0m0 3h0m0-2h0m0-8h0m0-7h0m0 1h0m1 9h0m0-1h0m0-3h0m0 8h0m0-10h0m1 8h0m0-7h0m0 13h0m0-16h0m1-2h0m0 5h0m0 14h0m1-16h0m0 0h0m0 7h0m0 10h0m0-3h0m0-15h0m0 17h0m0-13h0m0-5h0m1 6h0m0 8h0m0-4h0m0-8h0m0 8h0m0-8h0m1 1h0m0 0h0m0 12h0m0-12h0m0 6h0m0-5h0m0 11h0m0-10h0m0-2h0m1 6h0m0 3h0m0-3h0m0-1h0m0-4h0m0-4h0m0 16h0m1-12h0m0 10h0m0-13h0m0 1h0m1 9h0m0 5h0m0-4h0m1-4h0m0 1h0m0-10h0m1 10h0m0-2h0m0 11h0m0-19h0m0 9h0m0 7h0m0 0h0m1-9h0m0 9h0m0-14h0m0 14h0m0-8h0m1-5h0m0 6h0m0 1h0m0 5h0m1-3h0m0-12h0m0 2h0m0-2h0m0 12h0m0-6h0m1 8h0m0-6h0m0 5h0m0-7h0m0 8h0m0-4h0m0-6h0m0 14h0m0-10h0m0-2h0m1 10h0m0-7h0m0 1h0m0 7h0m0-5h0m0 4h0m1-11h0m0 7h0m0-3h0m0-3h0m0 4h0m0 4h0m0-3h0m0 6h0m0-10h0m0 12h0m1-18h0m0 11h0m0-6h0m0 0h0m0 10h0m0-12h0m0 6h0m1 7h0m0 2h0m0-17h0m0 9h0m0 0h0m0 9h0m0-9h0m0-7h0m0 9h0m1 5h0m0-15h0m0 0h0m0 7h0m0 5h0m0 4h0m1-13h0m0 0h0m0 2h0m0 6h0m1 3h0m0 3h0m0-5h0m0-8h0m0 12h0m0-18h0m0 18h0m0-11h0m0-5h0m0 17h0m1-17h0m0 17h0m0-3h0m0-4h0m0-11h0m0 12h0m0-9h0m0 9h0m1-13h0m0 18h0m0-9h0m0-6h0m0 7h0m0-2h0m0 2h0m0 8h0m0-16h0m0 1h0m1 2h0m0 12h0m0-13h0m0 8h0m0 4h0m1-14h0m0 7h0m0-5h0m0 0h0m0 14h0m0-14h0m0 2h0m0-3h0m1 12h0m0-5h0m0 2h0m0-5h0m0 4h0m0-6h0m0 7h0m0 4h0m1-4h0m0-6h0m0 2h0m0 3h0m0 4h0m0-7h0m0-7h0m0-1h0m1 4h0m0 1h0m0 12h0m0-4h0m0-3h0m1 1h0m0-8h0m0 6h0m0-9h0m0 11h0m0 2h0m0-10h0m0 0h0m1 0h0m0 3h0m0-3h0m0 14h0m0-9h0m0 1h0m0-7h0m0 7h0m1 8h0m0 1h0m0-12h0m0 7h0m0-5h0m0-6h0m0 16h0m0-15h0m1 7h0m0-2h0m0 7h0m0 4h0m0-15h0m0-2h0m0 14h0m0 1h0m0-12h0m0 9h0m0-7h0m0 12h0m0-7h0m1-8h0m1 15h0m0-11h0m0 3h0m0-11h0m0 16h0m0-14h0m0-3h0m0 14h0m0-4h0m1 4h0m0-11h0m0 7h0m0-8h0m0 17h0m0-2h0m0-15h0m0 4h0m1-2h0m0 13h0m0-1h0m0-7h0m0 0h0m1-3h0m0 6h0m0 8h0m0-19h0m0-1h0m0 11h0m1-8h0m0 4h0m0 0h0m0 10h0m0-10h0m0-3h0m0 2h0m1 8h0m0-2h0m0-6h0m0 2h0m0 9h0m0-13h0m0 2h0m0 7h0m1-3h0m0 8h0m0 0h0m0-11h0m1-5h0m0 0h0m0 1h0m0 11h0m0-1h0m0 2h0m0-12h0m0 17h0m0-11h0m0 3h0m0 6h0m0-3h0m0-6h0m1-2h0m0 0h0m0-3h0m0-3h0m0 9h0m0-9h0m0 2h0m0 7h0m0 3h0m0-1h0m1 6h0m0-14h0m0 8h0m0-4h0m0 4h0m0-6h0m1 9h0m0-2h0m0 6h0m0-5h0m0-2h0m0 6h0m0-2h0m0-3h0m0-5h0m0 0h0m0 6h0m0-13h0m0 3h0m1-3h0m0 2h0m0 1h0m0 16h0m0-8h0m1-8h0m0-3h0m0 11h0m0-2h0m0 8h0m1-7h0m0 8h0m0-17h0m0 8h0m0-9h0m0 9h0m0 3h0m0-1h0m0 8h0m0-4h0m0 0h0m0-5h0m1 8h0m0-6h0m0-3h0m0 6h0m0-10h0m0 6h0m0 1h0m0-13h0m1 19h0m0-8h0m0-2h0m0 2h0m0 8h0m0-15h0m0 8h0m0-9h0m1 15h0m0-10h0m0 7h0m0-2h0m0-12h0m0 11h0m0-11h0m0 16h0m0-3h0m1-10h0m0 0h0m0 11h0m0-11h0m0 6h0m0 0h0m1 10h0m0-11h0m0-1h0m0-4h0m0 13h0m0-5h0m0-2h0m0-5h0m0 11h0m0-13h0m0-1h0m0 9h0m0 7h0m1-16h0m0 13h0m0-8h0m0 3h0m0 7h0m0-7h0m0 1h0m0-3h0m1-6h0m0 10h0m0 7h0m0-18h0m0 16h0m0-8h0m0-3h0m0 11h0m0 1h0m0 2h0m1-18h0m0 9h0m0-4h0m0-3h0m0 3h0m0 6h0m0-1h0m0-4h0m0 10h0m1-5h0m0-2h0m0 7h0m0 1h0m0-11h0m0 3h0m1 4h0m0-6h0m0 0h0m0 6h0m0-9h0m0 9h0m0-2h0m0-10h0m0 17h0m0-4h0m0-11h0m0 8h0m0-12h0m0 0h0m1 12h0m0 3h0m0-15h0m0 5h0m0 7h0m0-11h0m0 9h0m0-8h0m0 12h0m0-8h0m0 5h0m0 5h0m0-10h0m1 3h0m0 4h0m0-10h0m0-1h0m0 0h0m0 4h0m0 0h0m0 1h0m0 0h0m0 2h0m0 2h0m0 2h0m0-4h0m1-2h0m0 10h0m0-18h0m0 15h0m0-10h0m0 13h0m1-11h0m0 2h0m0 7h0m0-12h0m0 5h0m1 5h0m0-13h0m0 11h0m0 8h0m0-3h0m0-10h0m0 0h0m0-4h0m0 1h0m1 7h0m0 2h0m0 6h0m0-13h0m0 4h0m0-9h0m0 3h0m0 15h0m0-7h0m0 7h0m1-17h0m0 10h0m0 1h0m0-11h0m0 5h0m0 3h0m0-9h0m0 3h0m1 11h0m0 1h0m0-13h0m0 6h0m0-1h0m0-1h0m0 1h0m1-5h0m0 5h0m0-2h0m0-5h0m0 2h0m0 2h0m0 10h0m0 2h0m1-6h0m0 2h0m0 6h0m0-15h0m0 15h0m0-8h0m0-8h0m1 5h0m0 7h0m0-7h0m0-6h0m0 11h0m0-10h0m0 11h0m0-12h0m0 6h0m1 7h0m0-8h0m0-6h0m0 14h0m0-3h0m0-11h0m0 8h0m0-6h0m0-1h0m1 12h0m0 1h0m0 1h0m0-4h0m0-9h0m1 10h0m0 2h0m0-11h0m0 0h0m0 12h0m0-13h0m0 6h0m0-3h0m0-2h0m0-2h0m0 16h0m0-11h0m1 1h0m0-7h0m0 10h0m0 0h0m0 4h0m1 4h0m0-1h0m0-13h0m0 12h0m0-9h0m1 11h0m0-18h0m0 16h0m0 2h0m0-17h0m0 1h0m1 4h0m0-3h0m0 11h0m0-6h0m0-1h0m0-4h0m0-2h0m0 7h0m0 1h0m0-5h0m0 15h0m1-18h0m0 1h0m0 17h0m0-11h0m0-8h0m0 9h0m0-8h0m0 14h0m0-8h0m0 8h0m1-8h0m0 3h0m0 3h0m0-8h0m0 0h0m0 3h0m1 5h0m0-4h0m0 0h0m0-5h0m0 7h0m0-9h0m0 9h0m1 5h0m0 2h0m0-10h0m0-1h0m0 2h0m0-9h0m0 8h0m0-2h0m0-6h0m0 12h0m0-1h0m1-2h0m0-7h0m0 9h0m0-3h0m0 4h0m0 6h0m0-9h0m0 1h0m1 8h0m0-9h0m0 5h0m0 3h0m0-12h0m0-5h0m0 1h0m0 17h0m1-15h0m0 16h0m0-19h0m0 5h0m0 2h0m0-3h0m0 8h0m0-7h0m1 6h0m0 6h0m0-7h0m0 6h0m0-9h0m1 1h0m0 6h0m0-1h0m0 4h0m0-7h0m0-5h0m0 7h0m0 0h0m0-2h0m0-6h0m0 4h0m0 8h0m0-10h0m0 8h0m0-12h0m1 12h0m0-12h0m0-2h0m0 16h0m0-9h0m1-6h0m0 1h0m0 8h0m0 0h0m0 0h0m0 0h0m0-5h0m0-3h0m0 11h0m0-11h0m0 12h0m1-11h0m0 7h0m0-9h0m0 1h0m1-3h0m0 2h0m0 12h0m0-6h0m0 8h0m1-10h0m0-4h0m0 9h0m0 4h0m0-6h0m0-3h0m0-1h0m0-1h0m0 14h0m1-11h0m0-7h0m0 2h0m0 4h0m0 12h0m0-6h0m1-1h0m0 7h0m0-1h0m0-1h0m0-11h0m0 0h0m0 5h0m0 4h0m0-14h0m0 13h0m1-6h0m0 9h0m0-8h0m0 1h0m0 7h0m0-15h0m0 7h0m1 3h0m0-10h0m0 15h0m0 4h0m0-12h0m0 9h0m0-11h0m0-4h0m0 5h0m0 9h0m0 3h0m1-14h0m0-1h0m0 11h0m0-6h0m0-6h0m1-1h0m0 6h0m0 7h0m0-6h0m0-5h0m0-2h0m0 2h0m0 15h0m0-15h0m1 3h0m0-1h0m0 1h0m0-4h0m1 12h0m0 0h0m0-9h0m0 0h0m0 8h0m1-1h0m0-8h0m0-2h0m0 13h0m0-11h0m0 11h0m1-4h0m0 0h0m0-4h0m0-3h0m0 6h0m0-1h0m0-10h0m0 6h0m1 14h0m0-11h0m0 0h0m0 10h0m0-14h0m0 1h0m0 14h0m1-6h0m0 3h0m0-5h0m0-3h0m0-2h0m0 12h0m1-15h0m0-1h0m0 6h0m0 6h0m0-7h0m0-7h0m0 1h0m1 13h0m0-10h0m0 6h0m0 2h0m0 5h0m0-5h0m1 2h0m0-8h0m0-5h0m0 15h0m0-2h0m0-5h0m0 0h0m0 7h0m1-9h0m0 4h0m0-4h0m0-5h0m0 11h0m1 3h0m0-4h0m0 2h0m1-3h0m0 2h0m0-8h0m0 1h0m0-6h0m0-1h0m1 16h0m0 0h0m0-11h0m0 1h0m1-5h0m0 18h0m0-3h0m0-6h0m0 4h0m0 0h0m0-9h0m0 2h0m0 4h0m0-8h0m1 2h0m0 5h0m0-2h0m0 3h0m1-7h0m0 3h0m0 6h0m0 0h0m0-6h0m0 3h0m0-8h0m1 1h0m0 14h0m0-9h0m0 3h0m0 0h0m0 5h0m1-2h0m0 2h0m0-13h0m0 1h0m0 15h0m0-9h0m1 8h0m0-4h0m0 4h0m0-13h0m0-5h0m1 1h0m0 7h0m0 12h0m0-19h0m0 1h0m0 4h0m1 13h0m0-16h0m0 13h0m0-15h0m0 3h0m0-1h0m0 9h0m0-9h0m0 6h0m1-1h0m0 0h0m0 7h0m0-3h0m0-10h0m1 6h0m0 4h0m1 7h0m0-8h0m0 0h0m0-10h0m1 11h0m0 4h0m0 0h0m0-2h0m0-12h0m0 8h0m0 2h0m1 0h0m0-6h0m0 12h0m0 2h0m0-5h0m0 5h0m0-3h0m0-7h0m1-5h0m0 4h0m0-8h0m1 4h0m0 2h0m0 6h0m0-4h0m1 8h0m0-9h0m0-4h0m1-4h0m0 5h0m1-1h0m0 3h0m0 9h0m1-2h0m0-13h0m0 4h0m0 2h0m0 4h0m0-8h0m0 17h0m1-13h0m0 3h0m0 4h0m1 6h0m0-10h0m0 0h0m1-8h0m0 5h0m0-1h0m0-3h0m0 13h0m1-13h0m0 9h0m1 7h0m0-17h0m0 14h0m1 1h0m0-8h0m0 10h0m0-3h0m0-5h0m0-4h0m1 10h0m0-4h0m0 7h0m0-16h0m0 9h0m0 5h0m1-1h0m1-12h0m1 6h0m0 7h0m1-13h0m0-5h0m0 1h0m1 6h0m0-3h0m0 1h0m0 14h0m1-11h0m0-3h0m1 12h0m0-6h0m0-3h0m1-7h0m0 7h0m0-3h0m1 1h0m0 3h0m1-7h0m0 8h0m0-7h0m1 16h0m0-18h0m2 0h0m2 15h0m1-8h0m1-4h0m1-2h0m1 0h0m2 2h0m1-1h0m0 16h0m1 0h0m1-16h0m2 10h0m0-9h0m3 0h0m7-2h0m0 3h0m0 9h0m2-9h0m1 6h0m0 0h0m3-3h0m2 0h0m-448 30h0m5-4h0m8 5h0m1-1h0m0-13h0m0 14h0m0-7h0m2-11h0m2 13h0m1 6h0m0 0h0m1-1h0m1-5h0m0-1h0m0 0h0m1 6h0m0-8h0m0 6h0m1-13h0m0 5h0m1 5h0m0 2h0m0-4h0m0-6h0m1 12h0m1 0h0m0-7h0m0 6h0m0-3h0m1-1h0m0 3h0m0-12h0m0 12h0m1-1h0m0 5h0m0-13h0m0-2h0m1 7h0m0-2h0m0-1h0m0-9h0m1 9h0m0-6h0m0 6h0m0-1h0m0-2h0m0 0h0m0-1h0m0 7h0m1 7h0m0-18h0m0 17h0m0-18h0m1 16h0m0-9h0m0 12h0m0-17h0m0 14h0m0 2h0m0-3h0m1-4h0m0 7h0m0-15h0m0 5h0m0 3h0m0-9h0m1 1h0m0 2h0m0 6h0m0-3h0m0 0h0m0 0h0m0 1h0m0 9h0m0-6h0m1 7h0m0-8h0m0-2h0m0 2h0m1-4h0m0-5h0m0 2h0m1-3h0m0 1h0m0 13h0m0-10h0m0 1h0m1 11h0m0-13h0m0 14h0m1-4h0m0-3h0m0-7h0m0-2h0m1-2h0m0 13h0m1-4h0m0-2h0m0-6h0m1 0h0m0 4h0m0 4h0m0 10h0m1-13h0m0-6h0m1 17h0m0-11h0m0 5h0m1-10h0m0 6h0m0 1h0m1 6h0m1-10h0m0 2h0m1 11h0m1-15h0m0-1h0m1 13h0m0-7h0m1-3h0m0 4h0m0 9h0m4 2h0m3-15h0m1 9h0m0-11h0m1 10h0m0-2h0m2-4h0m5 11h0m1-9h0m1-2h0m1-4h0m1 2h0m1 6h0m2 9h0m0-2h0m1-1h0m0 0h0m1-13h0m3 15h0m0 0h0m2-4h0m2-5h0m0-6h0m0 8h0m2-9h0m1 14h0m1-11h0m0 1h0m1-3h0m0 16h0m1-13h0m4 12h0m1-17h0m0 8h0m2-3h0m3-6h0m0 18h0m2-7h0m0-5h0m2-6h0m1 13h0m5 1h0m1-11h0m4 0h0m5 4h0m1 6h0m0-9h0m1-3h0m2 7h0m0-4h0m2 7h0m1 9h0m1-16h0m0-2h0m4 14h0m0-12h0m2 11h0m2 3h0m1-10h0m1-6h0m1 7h0m1-2h0m1 7h0m2-8h0m1 1h0m1 12h0m0-12h0m3 10h0m1-4h0m0 0h0m4-13h0m0 1h0m1 12h0m1-7h0m2-6h0m2 15h0m0-3h0m2-10h0m1 15h0m0-10h0m1 2h0m0-8h0m1 15h0m0-5h0m0-4h0m0-7h0m2 11h0m1-6h0m1 5h0m1-2h0m1 8h0m0 1h0m0-6h0m1 5h0m0 2h0m1-8h0m1-4h0m1 0h0m0 2h0m0-5h0m0 5h0m1 11h0m1-12h0m1-2h0m0 2h0m0 9h0m0-16h0m0 9h0m0 3h0m1 5h0m3-10h0m0 0h0m1 0h0m0 1h0m0-7h0m0 16h0m1 1h0m1-3h0m0-14h0m0 5h0m1 5h0m0-5h0m0-4h0m0 1h0m1 10h0m0-3h0m0-7h0m0 13h0m1-5h0m1-11h0m2 19h0m0-5h0m1-12h0m0 16h0m0-17h0m0 7h0m1-2h0m0 0h0m0 6h0m1-3h0m0-2h0m1-4h0m0 13h0m1-12h0m0 0h0m0 9h0m1 3h0m0-3h0m0 2h0m1-1h0m0-2h0m0-8h0m1 4h0m1-2h0m0 4h0m0-5h0m0-4h0m1 5h0m0-1h0m0 7h0m2-2h0m0-7h0m0 5h0m1 7h0m0 3h0m0-13h0m0 4h0m0 6h0m0-7h0m1 10h0m0-10h0m0-2h0m0-2h0m0 10h0m0-6h0m1-3h0m0 10h0m0-3h0m0-5h0m2-5h0m1 6h0m0-4h0m1-4h0m1 5h0m0 2h0m0 9h0m0-10h0m0 10h0m1-5h0m0-10h0m0 11h0m2-6h0m2 2h0m1 12h0m0-12h0m0 7h0m0-7h0m1-6h0m0-1h0m0 4h0m0 10h0m0 2h0m0-11h0m1 3h0m0 9h0m0 0h0m0-7h0m1-5h0m0-1h0m1 6h0m0-7h0m1 3h0m0 3h0m1 3h0m0 2h0m0 0h0m1-8h0m0 13h0m1-17h0m0-2h0m1 2h0m0-1h0m0 6h0m0-1h0m0 8h0m0-2h0m1-10h0m0 16h0m0-11h0m1 6h0m1-11h0m0 14h0m1-2h0m0-12h0m0 11h0m2-13h0m0 13h0m1 1h0m0 1h0m0-12h0m0 16h0m1-4h0m0-15h0m0 2h0m0 16h0m1-18h0m1 10h0m0-7h0m0 1h0m0 12h0m1 0h0m2 2h0m0-2h0m0-8h0m1-8h0m0 15h0m1-16h0m0 2h0m0-1h0m1 17h0m1-1h0m0-16h0m0 3h0m0 13h0m1-11h0m0 0h0m1-6h0m0 18h0m1-16h0m0 12h0m0-8h0m0 11h0m0-7h0m0 10h0m0-1h0m1-2h0m0 1h0m0-18h0m0 15h0m0-7h0m1-3h0m0 8h0m0 5h0m0-3h0m0-13h0m0 5h0m1 10h0m0 0h0m1-6h0m0-9h0m0 6h0m1-3h0m0 4h0m0 3h0m1-7h0m0 4h0m1 8h0m1-10h0m0-4h0m0 16h0m0-4h0m1-3h0m0 1h0m0-2h0m1 3h0m0 1h0m0-3h0m0 5h0m0-8h0m0-1h0m1 9h0m0-5h0m0-4h0m1 3h0m0 8h0m0-18h0m0 7h0m0-5h0m0 6h0m1-1h0m1-5h0m0 2h0m0 2h0m0 7h0m0-6h0m1-2h0m0-6h0m0 15h0m0-12h0m0 2h0m1 10h0m0-5h0m1 8h0m0-16h0m0 2h0m0 10h0m1-11h0m0 10h0m0-3h0m0-6h0m0 13h0m1-11h0m0-6h0m0 14h0m0-9h0m1 8h0m0-11h0m0 6h0m0 4h0m0-2h0m1-8h0m0-2h0m0 1h0m0 7h0m1 8h0m0-4h0m0 1h0m0-6h0m0-1h0m0 9h0m0-10h0m1-1h0m0 9h0m0-10h0m1 11h0m0-8h0m0 10h0m0-15h0m1 16h0m0-9h0m0-2h0m1 14h0m1-18h0m1 7h0m0-4h0m0-5h0m0 6h0m0-4h0m0 17h0m1-2h0m0-12h0m0-3h0m0 8h0m1-2h0m0 1h0m0 5h0m1-12h0m0-2h0m0 8h0m0 12h0m0-17h0m0-2h0m0 14h0m1 2h0m0 0h0m0 3h0m0-5h0m1-2h0m0-4h0m0-7h0m0 2h0m0 0h0m0-4h0m0 8h0m1 3h0m0 3h0m1 0h0m0 3h0m0-2h0m0-10h0m1 12h0m0-5h0m0-10h0m0-2h0m1 18h0m0-13h0m0 14h0m0-6h0m0-12h0m0 0h0m0 16h0m0 1h0m1-14h0m0 5h0m0 9h0m0-12h0m0 2h0m0-4h0m0 0h0m1 3h0m0-5h0m0 12h0m1-4h0m0 9h0m0-5h0m0-5h0m0-4h0m0-3h0m1 7h0m0-4h0m0 5h0m1-1h0m0 4h0m0 7h0m0-3h0m1-9h0m0-6h0m1-2h0m0 15h0m0 4h0m0-7h0m1 1h0m0-11h0m0 2h0m0 10h0m0-10h0m1 0h0m0 6h0m0-8h0m0 6h0m0-1h0m0 6h0m0-12h0m0 2h0m1-1h0m0 14h0m0 0h0m0-2h0m0 4h0m0-1h0m0-16h0m0 1h0m0 6h0m2 4h0m0 0h0m0-6h0m0 9h0m1 3h0m0-2h0m0-12h0m0 9h0m0-3h0m1 4h0m0 1h0m0-2h0m0 1h0m0-12h0m0 16h0m0-10h0m1 4h0m1-6h0m0 3h0m0-3h0m0-5h0m0 14h0m0 2h0m1-14h0m0 8h0m0-3h0m0-1h0m1 10h0m0-1h0m0-13h0m0 2h0m0-3h0m0 9h0m0 9h0m0-9h0m0-7h0m0 10h0m0-7h0m0-3h0m1 11h0m0-6h0m0-8h0m0 5h0m0 3h0m1-9h0m0 7h0m0 1h0m0 5h0m1 4h0m0-6h0m1-1h0m0-3h0m0 5h0m0 7h0m0-2h0m0-4h0m0-9h0m0-3h0m0 7h0m0-1h0m1 8h0m0-8h0m0 2h0m0 7h0m0-2h0m0-10h0m1 1h0m0-4h0m0 9h0m0 1h0m0 3h0m0-3h0m0 0h0m1-2h0m0 1h0m0-7h0m0 4h0m0 5h0m0-6h0m0 13h0m0-14h0m0 14h0m0-16h0m0 17h0m1-8h0m0-8h0m0 11h0m1-6h0m0-2h0m0-7h0m0 2h0m0 13h0m0-9h0m0-5h0m1 0h0m0 2h0m0 9h0m0 2h0m0-4h0m0-8h0m0 6h0m0 8h0m1-11h0m0 6h0m0-5h0m0-2h0m1 1h0m0-2h0m0 10h0m0-11h0m0 2h0m0 5h0m0-3h0m0 5h0m0 4h0m1 1h0m0-14h0m0 13h0m0-9h0m0 4h0m0 1h0m1-4h0m0 5h0m0-8h0m0 8h0m0 3h0m0-5h0m0-9h0m0 3h0m1 12h0m0-6h0m0 7h0m0-1h0m0-4h0m0 3h0m0 3h0m0 0h0m1-13h0m0 14h0m0-9h0m0 0h0m0 0h0m1-5h0m0 8h0m0-3h0m0-1h0m0-3h0m0 1h0m1-6h0m0 12h0m0-7h0m0 3h0m0 8h0m0-15h0m1 7h0m0 1h0m0 5h0m0-12h0m0-3h0m0 18h0m1-3h0m0 5h0m0-4h0m0-3h0m0-10h0m0-2h0m0 8h0m1 8h0m0-16h0m0 5h0m0 2h0m0-8h0m0 18h0m0-7h0m1 2h0m0-4h0m0 7h0m0-4h0m0 6h0m0-5h0m1-6h0m0 1h0m0 8h0m0-11h0m0 11h0m0-6h0m0 3h0m0-1h0m1-5h0m0 6h0m0-3h0m0 9h0m0-5h0m0-9h0m0 12h0m0-11h0m1-1h0m0 10h0m0-6h0m0-3h0m0-6h0m0 0h0m0 3h0m0 5h0m0-1h0m0-3h0m0-3h0m0 17h0m0-11h0m1-2h0m0 2h0m0 11h0m0-14h0m0 13h0m0-11h0m0 13h0m1 1h0m0 0h0m0-3h0m0-9h0m0 11h0m0-17h0m0 9h0m1-8h0m0 10h0m0-12h0m0 2h0m0 13h0m0-6h0m0-6h0m1 5h0m0 9h0m0-12h0m0 11h0m0-10h0m0 11h0m0-18h0m0 16h0m1-9h0m0 9h0m0 1h0m0-5h0m0-2h0m1 6h0m0-4h0m0-1h0m0-11h0m0 16h0m1-1h0m0 2h0m0-4h0m1 3h0m0-13h0m0 7h0m0-2h0m0 6h0m0-10h0m1 2h0m0 12h0m1 0h0m0-15h0m0 12h0m0-2h0m0-1h0m1 8h0m0-15h0m0 1h0m0 7h0m0 1h0m1-6h0m0 8h0m0-3h0m0-2h0m0-2h0m0-7h0m0 2h0m0 10h0m0 4h0m1-1h0m0-7h0m1-7h0m0 6h0m0 9h0m1-18h0m1 2h0m0 6h0m0 6h0m0-5h0m0 0h0m0 6h0m1-14h0m0 0h0m0 0h0m0 5h0m0-4h0m0 5h0m0-5h0m0 1h0m1 14h0m0-17h0m0 5h0m0 8h0m0-8h0m0 2h0m1-3h0m0 6h0m0-6h0m0 11h0m0-1h0m0 6h0m0-15h0m0 10h0m0-12h0m0-2h0m1 14h0m0-4h0m0-2h0m0-8h0m0 5h0m1 12h0m1-15h0m0 11h0m1 5h0m0-3h0m0-9h0m0-1h0m0 6h0m1-1h0m0-10h0m0 6h0m1 6h0m0-9h0m0 5h0m0-6h0m0 8h0m1 1h0m0-10h0m0-1h0m0 6h0m0-4h0m0 16h0m0-15h0m0-3h0m1 15h0m0 1h0m0-12h0m1-2h0m0 11h0m0-9h0m0-4h0m1 6h0m1 12h0m0-15h0m0-3h0m0 12h0m0-8h0m0-2h0m0 3h0m0-5h0m0 7h0m0 10h0m1-7h0m0-6h0m0 11h0m1-13h0m0 5h0m0 8h0m1-14h0m0 11h0m1-2h0m0-1h0m0-4h0m0 0h0m0 1h0m1 3h0m0 3h0m0-11h0m0 7h0m0-1h0m1 9h0m0-15h0m0-1h0m1 5h0m0 3h0m0-7h0m0 2h0m1-1h0m0 6h0m0 8h0m0-5h0m0 6h0m1-8h0m0 1h0m0-3h0m0 5h0m0 0h0m0 2h0m0 4h0m1-3h0m0-1h0m0 2h0m0-4h0m0 0h0m1-4h0m0-1h0m0 11h0m1-16h0m0 5h0m0 3h0m0-7h0m0 5h0m1 1h0m0 4h0m0-9h0m0 12h0m0-7h0m0 4h0m0-9h0m1 0h0m0 0h0m0 3h0m0 6h0m1-11h0m0 14h0m0 0h0m0-11h0m0-1h0m1 6h0m0-4h0m0-7h0m0 13h0m1 1h0m0-6h0m0-4h0m0 15h0m0-7h0m1-1h0m0-8h0m0 15h0m0-16h0m0 7h0m1-4h0m0 12h0m0-16h0m0 3h0m1 0h0m0 12h0m0-8h0m0 4h0m1-10h0m0 17h0m0-12h0m0-3h0m1 12h0m0-10h0m0 4h0m0-3h0m0-1h0m1-1h0m0 2h0m0 7h0m0-8h0m0-4h0m0 13h0m0-4h0m0-10h0m1 2h0m1 14h0m0 1h0m0-16h0m1 6h0m0-4h0m0 8h0m1-2h0m0-9h0m0 9h0m0-2h0m0-6h0m1 5h0m0-6h0m0 12h0m0-7h0m1 1h0m0-5h0m0 14h0m0-2h0m1-10h0m1 8h0m1-7h0m1 10h0m0 4h0m0-10h0m0 4h0m0-2h0m1-2h0m0-7h0m1 15h0m0-3h0m0 1h0m0-7h0m1 2h0m0-6h0m0 8h0m1-11h0m0 16h0m0-11h0m1 4h0m0-8h0m1 12h0m0-10h0m1-4h0m2 1h0m1 9h0m1 10h0m1-5h0m0-1h0m0 3h0m1-10h0m1-2h0m0-3h0m0 7h0m0 9h0m1-4h0m0-7h0m1 1h0m1-4h0m0-2h0m0-2h0m0 10h0m0-10h0m1 20h0m0-4h0m1-10h0m0 13h0m2-1h0m0-12h0m0 7h0m0 6h0m1-12h0m1 11h0m4-5h0m0-2h0m0-4h0m2 7h0m2-3h0m1-8h0m0 11h0m1-7h0m0-6h0m2 0h0m0 1h0m2 6h0m1 3h0m0 6h0m0-8h0m0 6h0m0 2h0m1-5h0m3 3h0m0-2h0m2-4h0m5-8h0m1 19h0m11-17h0m-455 35h0m3-1h0m0 3h0m0-2h0m2-9h0m2-1h0m1 7h0m1-1h0m0-1h0m0-6h0m0 6h0m0 1h0m0 2h0m1 1h0m0-11h0m0 13h0m0 0h0m1-7h0m0-2h0m0 6h0m0-1h0m0-5h0m1 0h0m0 8h0m0-8h0m0 9h0m1-2h0m0-1h0m0-3h0m1-3h0m1-4h0m0 11h0m0-10h0m1 11h0m1-5h0m0-2h0m0 5h0m1-1h0m0 2h0m0-5h0m0 6h0m0-17h0m1 4h0m0 14h0m0-3h0m1 0h0m0-14h0m0 14h0m0-5h0m1-6h0m0 11h0m0-7h0m0 9h0m0-5h0m1-7h0m0 1h0m0 9h0m0-10h0m1 12h0m0-15h0m0 13h0m0-9h0m2 4h0m0-4h0m0 4h0m0-6h0m0-1h0m0 9h0m1 7h0m0-16h0m0 13h0m0-5h0m0-2h0m1-3h0m0-2h0m0 8h0m0-9h0m0 13h0m0-6h0m0-2h0m0-5h0m0 7h0m1 2h0m0 1h0m1 1h0m0-12h0m0 11h0m0-6h0m0-7h0m0 8h0m1-6h0m0 1h0m0 7h0m0 0h0m0 1h0m0-1h0m0-4h0m0 10h0m1 0h0m0-17h0m0 9h0m1-1h0m0 4h0m0-4h0m1-5h0m0 5h0m0-5h0m2 1h0m0-1h0m1-1h0m0 3h0m0-2h0m0 4h0m1 13h0m0-17h0m0 6h0m1 0h0m0 4h0m1-7h0m1-1h0m0 6h0m2-10h0m1 14h0m1-14h0m1 3h0m0 13h0m1-15h0m2 0h0m1 5h0m5 11h0m4 0h0m1 0h0m3 1h0m1-3h0m2-7h0m1-4h0m0 4h0m2 10h0m0-14h0m0 12h0m1-11h0m0 9h0m1-7h0m0 5h0m0-5h0m1 8h0m0-15h0m1 13h0m0-2h0m1-1h0m0 3h0m0-10h0m1 15h0m0-11h0m1 0h0m0 9h0m1-4h0m1-3h0m0-6h0m1 2h0m0 3h0m0 0h0m1 1h0m1-3h0m1 7h0m0-6h0m0-7h0m1 19h0m0-6h0m0-3h0m1-1h0m0-10h0m3 1h0m0 3h0m4 2h0m25 0h0m2 7h0m16-1h0m4-1h0m0 2h0m3-9h0m14 8h0m7-9h0m1 4h0m8 1h0m3-5h0m5 9h0m3-5h0m0-3h0m12 8h0m1-1h0m0 4h0m1-11h0m2 9h0m2-8h0m0 1h0m2 4h0m0 0h0m1 6h0m0-15h0m1 16h0m2-15h0m0 2h0m1 2h0m1 12h0m1-17h0m0 8h0m0 7h0m1-7h0m0 2h0m1-7h0m0-2h0m0 2h0m3 12h0m0-16h0m0 19h0m0-13h0m1 5h0m1 6h0m1 2h0m2-3h0m1-12h0m0 14h0m1-18h0m0 17h0m1-1h0m0-9h0m1-5h0m0 17h0m1-16h0m1 9h0m2 2h0m0 0h0m1-7h0m1-6h0m1 5h0m2 6h0m0 8h0m1 0h0m3 0h0m1-9h0m4-6h0m2-5h0m1 5h0m1 14h0m1-6h0m1-7h0m2 14h0m1-3h0m2-16h0m1 0h0m0 18h0m0-9h0m2 8h0m1-5h0m1-11h0m1-2h0m2 9h0m1-6h0m0 7h0m0 6h0m2-10h0m0-4h0m0 1h0m0 4h0m1 5h0m0-8h0m0-4h0m0 12h0m0-12h0m1 18h0m1-8h0m0-9h0m0 3h0m1 10h0m0-13h0m0 7h0m1 8h0m0 3h0m0 0h0m0-6h0m0-3h0m0-8h0m1 11h0m0-8h0m0 4h0m1-3h0m0-4h0m0 12h0m1-3h0m0 5h0m0-10h0m1 5h0m0-8h0m0 2h0m1 0h0m0 12h0m1-10h0m0-5h0m0 15h0m1-4h0m0-8h0m1-1h0m0 5h0m0-2h0m0-2h0m1-1h0m1 4h0m2 3h0m0-10h0m1 16h0m0-14h0m0 10h0m0 5h0m0-4h0m1-2h0m0-12h0m1 11h0m0 2h0m0-12h0m0 0h0m0 7h0m0-5h0m2-1h0m0 5h0m1 9h0m0-8h0m0 1h0m1 11h0m0-13h0m0 2h0m1-4h0m0 4h0m0 1h0m0-1h0m1 4h0m1 1h0m0-3h0m0-1h0m0 4h0m0-12h0m1 8h0m0-8h0m0 14h0m2-11h0m0-3h0m0 0h0m0 15h0m1-4h0m0-8h0m1 15h0m0-3h0m0-14h0m1-2h0m1 0h0m0 2h0m0 5h0m1 1h0m0 9h0m2-14h0m0 3h0m1 12h0m0-3h0m0-15h0m0 18h0m1-19h0m0 15h0m0-1h0m1 0h0m0 4h0m0-16h0m1 10h0m0-9h0m1 12h0m0-9h0m0-1h0m0 0h0m0 2h0m1-7h0m0 3h0m0 5h0m0-5h0m1 9h0m0 2h0m1 4h0m0-11h0m0-1h0m0 1h0m1-2h0m0-1h0m1 12h0m1-13h0m0 8h0m0 2h0m0-9h0m0-1h0m1 0h0m0 0h0m0 14h0m1-15h0m0 8h0m0-9h0m0-1h0m0 4h0m0-1h0m1 4h0m0 4h0m0-5h0m1 4h0m0 9h0m0-8h0m0-8h0m0 9h0m1-1h0m0-10h0m0 4h0m0 3h0m0 2h0m1 9h0m0-9h0m0-5h0m0 0h0m0 7h0m0-6h0m0 7h0m1-1h0m0-12h0m1 11h0m0-4h0m0 5h0m0-10h0m0 4h0m1-5h0m0 12h0m0-3h0m0-2h0m1-3h0m0-1h0m1 4h0m0-4h0m0 3h0m0 1h0m0 11h0m1-16h0m0 2h0m0 9h0m0-10h0m1 4h0m0 12h0m0-5h0m0-2h0m0-2h0m0-8h0m1 1h0m0-1h0m0 0h0m0 8h0m2-11h0m0 4h0m0 1h0m0 10h0m0-13h0m0 10h0m0 0h0m1 8h0m0-14h0m0-3h0m0 6h0m1 5h0m0-9h0m0-3h0m1 11h0m0-3h0m0-1h0m0-4h0m1 13h0m0-3h0m0-11h0m1-2h0m0 17h0m0-6h0m0-10h0m0 14h0m0-17h0m1 2h0m0 12h0m0-12h0m0 2h0m1 15h0m0-14h0m0 13h0m1-3h0m0-11h0m1-4h0m0 8h0m1-8h0m0 4h0m0 14h0m0-16h0m0 0h0m1 10h0m0 0h0m0 4h0m0-2h0m0-9h0m0 4h0m0-6h0m1 10h0m0 0h0m0-7h0m0 4h0m1-6h0m0 9h0m0 3h0m0 4h0m0-7h0m1 2h0m0-10h0m1 0h0m0 6h0m1-4h0m0 12h0m0-17h0m0 3h0m1-1h0m0 9h0m0-3h0m0 7h0m0-11h0m0 0h0m1 2h0m0-5h0m1 5h0m0 2h0m0 4h0m0-1h0m1-9h0m0 8h0m0-9h0m1 4h0m0 7h0m0 3h0m0-2h0m0-8h0m1-5h0m0 11h0m0-13h0m1 15h0m0 0h0m0-1h0m1-10h0m0 4h0m1 4h0m0 8h0m0 0h0m0-14h0m1-1h0m0-3h0m0 0h0m1 4h0m0 12h0m0-11h0m1 9h0m0-13h0m0 5h0m1-4h0m0 5h0m0-5h0m1 0h0m0 0h0m1 13h0m0-17h0m0 14h0m1-7h0m0 2h0m0-3h0m0-3h0m0 13h0m0-16h0m0 2h0m0 1h0m1 15h0m1-17h0m0 10h0m0-5h0m0-4h0m0 3h0m0 3h0m1-5h0m1 1h0m0 7h0m0 6h0m1 1h0m0-15h0m0 9h0m1 6h0m1-5h0m0 3h0m0-15h0m0 7h0m1 3h0m0 5h0m2-11h0m1 8h0m1 5h0m0 1h0m0-14h0m0 14h0m1-5h0m1-11h0m0-1h0m1 6h0m1-5h0m1 8h0m0-6h0m0 2h0m1 12h0m0-5h0m1-1h0m1-7h0m0-6h0m0 1h0m1 17h0m1-15h0m0 2h0m0 4h0m0-8h0m1 18h0m1-16h0m0 15h0m1-12h0m0-5h0m3 17h0m0 0h0m0-16h0m1 5h0m1-7h0m3 2h0m4 2h0m1 11h0m1 2h0m0-17h0m1 13h0m0-6h0m1-4h0m1 8h0m0-6h0m5 6h0m0-5h0m1 3h0m0-5h0m0-4h0m0 15h0m1 3h0m1-1h0m1-15h0m0 3h0m0-1h0m1-2h0m1 11h0m1-10h0m1 11h0m1-6h0m3 0h0m1-8h0m1 4h0m0 5h0m1 9h0m2-14h0m2-1h0m3 5h0m3 12h0m0-19h0m4 13h0m3-5h0m2 9h0m2-17h0m3 19h0m0-11h0m4 4h0m5 1h0m-469 21h0m2 5h0m3-7h0m0 6h0m1-2h0m0-5h0m1 3h0m1 4h0m0-3h0m1-2h0m0-2h0m0 5h0m1-2h0m0 1h0m0-4h0m0 1h0m1-3h0m0 4h0m0-1h0m0-1h0m1-3h0m0-3h0m0 0h0m0 7h0m0-1h0m0-4h0m0 1h0m0-3h0m0 10h0m0-7h0m1-8h0m1 10h0m1 8h0m0-4h0m0-1h0m0-12h0m0 15h0m1 2h0m0-11h0m0 11h0m0-16h0m1 10h0m0-5h0m0 1h0m0-1h0m0 2h0m0-7h0m0 5h0m0-7h0m1 13h0m0-1h0m0-6h0m1 10h0m0-3h0m0-10h0m1 13h0m0-4h0m1 3h0m0-10h0m0 9h0m0-13h0m0 0h0m1 7h0m0 5h0m0 2h0m0-13h0m1 5h0m0 9h0m1-13h0m0 16h0m0 0h0m0-1h0m0-4h0m1-7h0m0-5h0m0-3h0m0 7h0m0 6h0m0-8h0m1 3h0m0 1h0m0 6h0m0-8h0m1-1h0m1-2h0m0-4h0m0 6h0m0 8h0m0-2h0m0-6h0m1 5h0m0-9h0m0 15h0m0-3h0m0-1h0m1-10h0m0 0h0m0 9h0m1-10h0m0 9h0m0-9h0m0 4h0m0-2h0m0-4h0m2 4h0m0 16h0m1-20h0m0 1h0m0 18h0m1-15h0m0 5h0m1-7h0m0 1h0m0-2h0m1 0h0m0 3h0m1-2h0m0 1h0m0-2h0m0 2h0m0 0h0m0 0h0m1 2h0m0 3h0m0-6h0m1 4h0m2-5h0m0 3h0m2 16h0m4-9h0m1-9h0m3 10h0m0 7h0m5-10h0m2 2h0m2 7h0m2-2h0m0 0h0m1-8h0m0-5h0m0 8h0m1 4h0m0-3h0m0-4h0m1 7h0m2 1h0m1-3h0m0-2h0m0-1h0m2 5h0m0-8h0m1 1h0m2-5h0m1 3h0m0 0h0m1-6h0m0 6h0m1-5h0m1 17h0m2-14h0m0-2h0m0 2h0m1-3h0m1 14h0m0-1h0m1 6h0m3-12h0m4-8h0m10 19h0m1-2h0m12-4h0m8 4h0m12-11h0m4 7h0m11 2h0m2 5h0m6-18h0m15 17h0m2 1h0m1-1h0m0-15h0m1 13h0m3-11h0m6 11h0m2-1h0m1-12h0m5-2h0m7 3h0m11 4h0m2 7h0m1-8h0m2-7h0m1 17h0m1 1h0m1-7h0m3-3h0m0-3h0m1 14h0m2-12h0m1 7h0m0-10h0m2 8h0m1 1h0m1 1h0m0-8h0m3 11h0m1-13h0m1 4h0m3 1h0m1 8h0m1-15h0m1 14h0m2-12h0m2 8h0m1-8h0m1-3h0m0 11h0m1 6h0m0 0h0m0-3h0m1 2h0m0-18h0m1 16h0m1-3h0m1-9h0m1 4h0m1-1h0m0 3h0m1 10h0m2-18h0m1 5h0m0 3h0m0-8h0m1-2h0m1 18h0m0-14h0m0 16h0m1-9h0m0 7h0m1-1h0m0 2h0m0-10h0m1 7h0m0-10h0m0 5h0m0-5h0m1 2h0m0 8h0m0-9h0m1 9h0m0-13h0m0 8h0m0 2h0m1-2h0m0 3h0m0 2h0m0-3h0m1-6h0m0 4h0m0-5h0m1 2h0m0 0h0m0-3h0m1-5h0m0 19h0m0-7h0m0-7h0m1 8h0m0 0h0m0-12h0m1 5h0m0 12h0m0-13h0m1 12h0m0 0h0m0 3h0m1-1h0m0-10h0m0-9h0m1 19h0m0-1h0m0-7h0m0-5h0m0 8h0m1 5h0m0-9h0m0 10h0m0 0h0m0-4h0m0-7h0m0-8h0m1 14h0m0 0h0m0 4h0m0-4h0m0-3h0m0 1h0m0 1h0m0-3h0m0-7h0m0 11h0m0-6h0m1 1h0m0 3h0m0-6h0m1 9h0m0 0h0m0 0h0m1 2h0m0-1h0m0 2h0m0-3h0m0-16h0m0 3h0m0 1h0m0 15h0m1 0h0m0-17h0m0 3h0m0 12h0m0-5h0m0-1h0m1-11h0m0 10h0m0 4h0m0-12h0m0 9h0m0-7h0m0 0h0m0 7h0m0 5h0m0-3h0m0 3h0m1 0h0m0-2h0m0-13h0m1 7h0m0 6h0m0-4h0m0 2h0m0 3h0m0 1h0m0 3h0m0-1h0m1-4h0m0 4h0m0-13h0m0 14h0m1-12h0m0 1h0m0-4h0m0 7h0m0 0h0m0 6h0m0 0h0m0-4h0m0 6h0m0 1h0m1-12h0m0-2h0m0 4h0m0 3h0m0-1h0m0 8h0m0-2h0m1-8h0m0-2h0m0 6h0m0 1h0m0-7h0m0 12h0m0-2h0m0-1h0m0-3h0m0-1h0m1 3h0m0 4h0m0-3h0m0 0h0m0-2h0m0 1h0m0-16h0m0 14h0m0 4h0m1-5h0m0 0h0m1 3h0m0-3h0m0 2h0m0 3h0m0-17h0m0 13h0m1-11h0m0 13h0m0 1h0m1 2h0m0-4h0m0-7h0m0 1h0m1 10h0m1 0h0m0-11h0m0 8h0m0 1h0m1-15h0m1 1h0m0 0h0m0-2h0m0 15h0m1-15h0m2 1h0m0 5h0m6 7h0m0 4h0m1 1h0m0-18h0m0 18h0m1 0h0m0-1h0m1-14h0m1 13h0m0-1h0m0-12h0m1 3h0m0-7h0m0 14h0m1 2h0m0-16h0m0 0h0m0 2h0m1 2h0m0-3h0m1 7h0m0 6h0m0-4h0m1 0h0m1-3h0m2-6h0m0 12h0m1-12h0m0 11h0m0-9h0m0 10h0m0 6h0m1-17h0m1 0h0m0 7h0m0-6h0m0 11h0m1 3h0m0-14h0m1 3h0m0-1h0m0-1h0m0 0h0m1-3h0m1 2h0m0 11h0m0-12h0m1 1h0m0 2h0m1-5h0m2 1h0m0 11h0m0-2h0m1-2h0m0-7h0m1 7h0m0 4h0m0-2h0m1 3h0m0 2h0m0-15h0m1 13h0m0-12h0m1 13h0m0-14h0m0 4h0m0 5h0m0-5h0m1 12h0m0-6h0m0-8h0m0 2h0m0 8h0m2-12h0m0 0h0m0 0h0m2 5h0m0 1h0m1 5h0m0 9h0m1-16h0m0 1h0m1 1h0m0-2h0m0 0h0m1 11h0m0 2h0m1-3h0m1 0h0m0-9h0m0 11h0m2-10h0m0 2h0m0 4h0m1 5h0m2-13h0m0-4h0m0 13h0m0-11h0m1 7h0m0 2h0m0 2h0m1 4h0m0-15h0m1 1h0m1 4h0m1-4h0m2 5h0m0-7h0m0 5h0m0 6h0m1 6h0m1-3h0m0-9h0m1 6h0m0 5h0m1-16h0m0 9h0m0 9h0m1-9h0m0 1h0m0-4h0m1-4h0m0 0h0m1 4h0m2-5h0m1 8h0m0 7h0m1-17h0m1 7h0m0 6h0m0-11h0m1 9h0m0-7h0m1 6h0m0 9h0m1-6h0m1 1h0m0-14h0m0 11h0m0 0h0m1-5h0m0-4h0m2-2h0m0 2h0m1 9h0m0-10h0m0 8h0m1-1h0m0 2h0m2 7h0m2-14h0m3 6h0m1-1h0m0 2h0m4-6h0m3 11h0m0-6h0m6-4h0m2 0h0m1-5h0m0 17h0m0-16h0m2 11h0m4 0h0m2-1h0m0 4h0m10-1h0m15-8h0m3-1h0m0 13h0m3-9h0m6 11h0m10-11h0m-473 28h0m2-2h0m0 0h0m4-8h0m1 7h0m1-1h0m0-11h0m0-1h0m1 12h0m0 2h0m0 5h0m1-9h0m1 9h0m0-1h0m0-1h0m1-10h0m1 9h0m0-5h0m0 7h0m0-6h0m0-9h0m0 0h0m1 6h0m0 5h0m0 3h0m0 0h0m1-15h0m0 3h0m1 6h0m1-7h0m0 7h0m1-11h0m0 9h0m0 0h0m0 3h0m0-9h0m1 9h0m0-6h0m0 10h0m0-13h0m0 3h0m1 2h0m0 8h0m0-9h0m0-2h0m0 9h0m0-4h0m1-8h0m0 5h0m0 7h0m0 4h0m0-14h0m1-5h0m0 12h0m0 2h0m0-3h0m1 1h0m0 3h0m0 3h0m0 0h0m0-7h0m0 5h0m1-10h0m0-1h0m0 3h0m0 11h0m1-4h0m0-11h0m0 8h0m0-8h0m1 5h0m0 2h0m0 0h0m0 1h0m1 0h0m0 7h0m0 0h0m0-6h0m1-12h0m0 12h0m0-8h0m0 1h0m0 11h0m0 3h0m1-5h0m0-10h0m0 7h0m0-11h0m0 9h0m0-6h0m0 1h0m0 6h0m1-2h0m0-8h0m0 5h0m0 9h0m0-1h0m1-12h0m0 6h0m0 5h0m0-12h0m0 3h0m0 15h0m0-2h0m0-17h0m1 6h0m0-5h0m0 3h0m0 13h0m1-11h0m0-5h0m0 7h0m0-1h0m1-2h0m0-2h0m0-1h0m0-2h0m0 9h0m0-1h0m1-8h0m0 10h0m0-4h0m0-5h0m1 16h0m0-10h0m1-6h0m0 3h0m0 2h0m1 2h0m1 3h0m3-4h0m1-2h0m1 3h0m1-5h0m7 13h0m4-1h0m4 3h0m3-15h0m0 9h0m1-8h0m1 13h0m0-4h0m1-4h0m0-4h0m1 10h0m0-9h0m2 14h0m0 0h0m1-7h0m1 5h0m0 1h0m0-1h0m0-2h0m1 4h0m1-16h0m1 1h0m0 4h0m1-6h0m0 4h0m0 2h0m0-1h0m1 11h0m0-19h0m0 13h0m0-12h0m0 10h0m0-10h0m1 1h0m0 4h0m0 0h0m1-3h0m0 8h0m0-7h0m0 11h0m0-12h0m1 12h0m0-2h0m0-8h0m2 7h0m0-8h0m1-2h0m1-1h0m1 0h0m3 8h0m1-9h0m0 3h0m3 16h0m0-5h0m2-2h0m2-8h0m10 5h0m4 6h0m0 1h0m9-9h0m8-4h0m6 0h0m1 9h0m1 0h0m21 8h0m7-11h0m4-9h0m3 17h0m11-2h0m2 5h0m1-16h0m0 11h0m1-13h0m0 17h0m0-1h0m2-6h0m1 2h0m2 2h0m1-8h0m1-1h0m2 4h0m1 9h0m1-2h0m1-1h0m1-4h0m2-4h0m1-4h0m0 7h0m0 4h0m0-12h0m1 6h0m1-6h0m0 10h0m1-2h0m0-7h0m2 9h0m1-1h0m0-4h0m0-9h0m1 8h0m2 6h0m0-9h0m1 10h0m1-4h0m1 7h0m2-13h0m0 7h0m1 0h0m1-3h0m2 10h0m8-11h0m1-3h0m1-2h0m1-1h0m0 6h0m0-5h0m3 3h0m0 8h0m0 3h0m0-4h0m1 1h0m0-5h0m0-4h0m1 15h0m0-17h0m1 16h0m0-3h0m0-11h0m2 15h0m0-6h0m0 2h0m0 3h0m1-3h0m1-1h0m0 0h0m0-12h0m1 8h0m0 2h0m1 4h0m0-14h0m0 15h0m1 0h0m0-4h0m1 4h0m0-13h0m0 13h0m0-11h0m1 12h0m0-5h0m0 2h0m2-7h0m1 2h0m0 4h0m1 2h0m0 1h0m0 1h0m0-7h0m0 1h0m0 2h0m0-6h0m1 4h0m0 4h0m0-11h0m0 12h0m1-15h0m0 13h0m0-1h0m0-2h0m0-6h0m1-3h0m0 11h0m0-13h0m0 0h0m1 14h0m0-7h0m1-5h0m0 6h0m0-5h0m0 4h0m1-2h0m0 4h0m0 2h0m0 0h0m0 3h0m0-6h0m1 6h0m0 3h0m0 0h0m0-6h0m1-4h0m0 10h0m0-7h0m0-3h0m0 3h0m1 3h0m0 5h0m0-10h0m1-7h0m0 17h0m1-4h0m0-8h0m0 7h0m0-4h0m0-11h0m0 14h0m1-1h0m0 2h0m0-5h0m0 1h0m0 8h0m0-6h0m0 5h0m0-7h0m1 1h0m0-5h0m0 5h0m0 7h0m0-2h0m0-4h0m0 1h0m0 1h0m0-1h0m1 0h0m0-3h0m0 6h0m0-2h0m0 1h0m0-11h0m0 13h0m0-1h0m1-8h0m0 7h0m0 0h0m1-6h0m0 4h0m1 2h0m0-6h0m0 8h0m0-5h0m0 3h0m0-14h0m0 7h0m1 4h0m0 1h0m0-12h0m1 8h0m0-2h0m0-7h0m0 9h0m1-3h0m0 4h0m0 1h0m0-6h0m1 12h0m0-6h0m0-11h0m0 8h0m0 3h0m0 1h0m1 1h0m0 3h0m0-10h0m0-3h0m0 2h0m0 3h0m0 1h0m0 2h0m0-6h0m0 8h0m0 5h0m1-9h0m0-1h0m0-1h0m0 5h0m0 4h0m0-15h0m0 15h0m0-3h0m0 6h0m1-12h0m0 2h0m0 0h0m0 8h0m0-14h0m0 5h0m0-8h0m0 5h0m0-2h0m0-3h0m0 19h0m0-7h0m1-5h0m0 11h0m0-14h0m0 9h0m1-8h0m0-4h0m0 15h0m0-11h0m0 0h0m0 13h0m0-14h0m0 9h0m0-10h0m1 6h0m0-1h0m0-6h0m0 7h0m1 7h0m0-5h0m0-10h0m0 18h0m0-15h0m0 4h0m0 6h0m1-5h0m0-7h0m0 1h0m0-2h0m0-1h0m1 8h0m0 1h0m0-2h0m1 5h0m0-6h0m0-2h0m0 10h0m0-7h0m0 5h0m0-4h0m0 2h0m1-1h0m0 5h0m0-6h0m0 1h0m0-9h0m1 8h0m0-2h0m0 7h0m0-7h0m0-3h0m1-1h0m0 3h0m0 12h0m0-5h0m0-7h0m0-2h0m0 6h0m0 2h0m0 3h0m0-12h0m0 9h0m0 4h0m1 0h0m0-12h0m0 0h0m0 6h0m0-4h0m1 2h0m0-3h0m0 5h0m0-3h0m0 7h0m1-12h0m0 7h0m1-6h0m0 7h0m0 0h0m0 0h0m0-8h0m0 2h0m0 4h0m1-7h0m0 1h0m0 6h0m1 5h0m0 6h0m0-17h0m0 10h0m1 1h0m0-9h0m0 4h0m0 9h0m1-9h0m0-4h0m0-2h0m0 6h0m0-8h0m1 2h0m0 2h0m0 6h0m0 1h0m1-8h0m0-1h0m0 14h0m0-3h0m0-2h0m1-7h0m0 5h0m0-2h0m1-5h0m0 4h0m0 1h0m1-4h0m0 1h0m0 7h0m0 3h0m1-13h0m0 3h0m0 2h0m1-2h0m0 5h0m0-8h0m1 9h0m0 0h0m0-4h0m1 6h0m0-11h0m0 2h0m0-3h0m1 5h0m0-4h0m1 3h0m0 0h0m0 5h0m0-5h0m0 1h0m0 14h0m1-18h0m0 6h0m1-6h0m0-1h0m0 2h0m1 2h0m0 11h0m1-5h0m0-8h0m0 1h0m1-1h0m0 6h0m2 8h0m0-5h0m3 6h0m1-14h0m1 1h0m3 3h0m2-3h0m1 11h0m0-13h0m1 15h0m2-5h0m1-10h0m1 15h0m0-13h0m7-2h0m2 0h0m1 2h0m0-2h0m1 11h0m5-13h0m2 15h0m2-4h0m0-1h0m2-9h0m1 5h0m2-3h0m1 2h0m4 8h0m0-4h0m0-5h0m1 1h0m0 6h0m4 3h0m8-10h0m1 0h0m1 7h0m0-4h0m2 5h0m13 2h0m4-5h0m7-4h0m1 5h0m8-5h0m2 2h0m0-3h0m0-1h0m1 0h0m2 7h0m2 1h0m15 1h0m16-2h0m7-10h0m-474 29h0m15 0h0m2 5h0m1 0h0m1 5h0m2 0h0m0-5h0m0-6h0m1 0h0m0 10h0m3-9h0m0 1h0m0-2h0m0 4h0m0 4h0m1 2h0m0-12h0m0 5h0m1 2h0m0 2h0m1-10h0m0-4h0m1 12h0m0-1h0m0 5h0m0 1h0m0-10h0m2-5h0m0 12h0m0-3h0m0 3h0m1 2h0m0-15h0m0 16h0m1 0h0m0-2h0m0-12h0m0 1h0m1 15h0m1-3h0m0 0h0m0-9h0m1-2h0m0 13h0m0-9h0m1 0h0m1-5h0m0 13h0m0-5h0m0-1h0m0 4h0m1-9h0m0-4h0m0 12h0m1-15h0m0 5h0m0 5h0m0 2h0m1-6h0m0-5h0m0 9h0m0-2h0m0 10h0m1-15h0m0 1h0m0 3h0m0 6h0m0-9h0m1-3h0m0 16h0m1-14h0m0 1h0m1-3h0m0 5h0m0 6h0m0-8h0m0 0h0m1-1h0m0 10h0m0-7h0m0 1h0m0-4h0m0 10h0m0-3h0m1-4h0m0 7h0m1 3h0m0-13h0m0 4h0m1 5h0m0 0h0m0-10h0m0 0h0m0-1h0m0 16h0m3-11h0m1-3h0m0 4h0m0 7h0m1 6h0m1-18h0m0-1h0m0 2h0m6 9h0m1 7h0m1-15h0m2 4h0m2 10h0m0 1h0m5-18h0m2 18h0m1-2h0m2-1h0m0-13h0m1 13h0m1 2h0m1 0h0m0-14h0m0 6h0m0 7h0m1-17h0m0 9h0m0 4h0m0 0h0m1 4h0m0-1h0m0-1h0m0 0h0m0-8h0m1 0h0m0 10h0m1-4h0m0 1h0m1-10h0m0 7h0m1 0h0m0 7h0m0-11h0m1 1h0m1 2h0m0-7h0m1 6h0m0-8h0m1 13h0m0-6h0m1-7h0m1 12h0m0-13h0m1 4h0m1 2h0m3 10h0m1-7h0m1-1h0m1-4h0m5 8h0m6-3h0m0 4h0m15-9h0m8 5h0m3 9h0m3-10h0m3 11h0m3-17h0m12 1h0m5 17h0m4-20h0m5 13h0m3 5h0m2 0h0m2-4h0m5-4h0m0-2h0m3 8h0m1-5h0m2-6h0m1 0h0m0 3h0m0-1h0m1-4h0m1 1h0m0 8h0m2 7h0m1-16h0m1 11h0m0-3h0m1-8h0m0 2h0m3 14h0m0-7h0m0 0h0m2 3h0m1-6h0m2-5h0m0-1h0m1 14h0m0-5h0m3-6h0m2 5h0m0 4h0m2 4h0m2-5h0m1-1h0m0-4h0m2-8h0m7 3h0m1 13h0m3-7h0m1 10h0m0-6h0m1 3h0m0-3h0m1-2h0m0 4h0m0 3h0m1-2h0m2-5h0m0 7h0m0 0h0m0-7h0m0 7h0m2-13h0m0 11h0m1-5h0m1 1h0m0-9h0m0 14h0m1-6h0m1-1h0m0 0h0m0 2h0m1-2h0m0-7h0m0 1h0m0 14h0m0-6h0m0 5h0m1 0h0m0-6h0m0 1h0m0 1h0m0 5h0m1-4h0m0-1h0m0 3h0m0-6h0m0 0h0m0 5h0m0 0h0m1-13h0m0 10h0m1-8h0m0 10h0m0 4h0m0-5h0m0 1h0m0-8h0m1 13h0m0 0h0m0-2h0m0 2h0m0-1h0m0-11h0m0 9h0m1-8h0m0 3h0m0-2h0m0 4h0m1 0h0m0 4h0m0-17h0m0 5h0m0-5h0m1 9h0m0 5h0m0-9h0m1 3h0m0-2h0m0 5h0m0 8h0m0-11h0m1 2h0m0-5h0m0 7h0m0-6h0m0-2h0m0-2h0m0 10h0m0-3h0m1 9h0m0-10h0m0-1h0m0 5h0m0-12h0m0 14h0m0-11h0m0 10h0m1 2h0m0-7h0m0 4h0m0 2h0m0-4h0m1 2h0m0-1h0m0-1h0m0-5h0m0-2h0m0 15h0m1-14h0m0 8h0m0-8h0m0 13h0m0-7h0m0 3h0m0 1h0m0-10h0m1 12h0m0-2h0m0-7h0m0 2h0m0 8h0m0-13h0m1 2h0m0 0h0m0 6h0m0 5h0m0-13h0m0 8h0m1-10h0m1 17h0m0-16h0m0 5h0m0-7h0m0 3h0m0-5h0m0 15h0m1 0h0m0-5h0m0-5h0m0 3h0m0-5h0m1 11h0m0 2h0m0-3h0m0 0h0m0 5h0m0-10h0m0 5h0m0 3h0m1-9h0m0-3h0m0 8h0m0-5h0m0-1h0m0 4h0m0 1h0m0-4h0m0 1h0m1-5h0m0-1h0m0 1h0m0 9h0m0 7h0m1-10h0m0-5h0m0 10h0m0-12h0m1 14h0m0 1h0m0-9h0m0 5h0m0-10h0m0 7h0m1-8h0m0 16h0m0-1h0m0-7h0m0-2h0m1-2h0m0 2h0m0-7h0m0 6h0m0-1h0m0 8h0m0-13h0m0 0h0m1 14h0m0-7h0m1-1h0m0-3h0m0 5h0m0-6h0m1-2h0m0-1h0m0 6h0m0 9h0m0-1h0m0-12h0m0 0h0m1-1h0m0 2h0m0 2h0m0 0h0m1 1h0m0-5h0m0 2h0m0 5h0m0-8h0m0 7h0m0-4h0m1 14h0m0-16h0m0 10h0m0-11h0m0 14h0m1-12h0m0-1h0m1 6h0m0 2h0m0-8h0m0 1h0m0 7h0m1-3h0m0 0h0m0 0h0m1-4h0m0 1h0m0-2h0m1 4h0m0 5h0m0 0h0m1-1h0m0-8h0m0 4h0m0 5h0m0-9h0m0 12h0m0-11h0m1 8h0m1 4h0m0-7h0m0 2h0m0-2h0m0-1h0m0 1h0m0-2h0m0 8h0m1 3h0m0-14h0m1 1h0m0 16h0m0-18h0m0 0h0m1 4h0m1-4h0m0 8h0m0-8h0m1 15h0m0-14h0m1 0h0m1 10h0m0-2h0m0-9h0m0 1h0m1-2h0m1 6h0m0 3h0m1 2h0m0-7h0m2 6h0m2-8h0m0 5h0m2-6h0m1 10h0m1 0h0m0-5h0m1 12h0m0-18h0m2 17h0m2-4h0m0-2h0m1-1h0m2-9h0m1-1h0m2 1h0m1 5h0m0 4h0m0 9h0m2-18h0m1 19h0m8-18h0m1 8h0m1 2h0m1-6h0m2 4h0m0-2h0m1 2h0m1 6h0m1-9h0m0-2h0m2 2h0m3-1h0m5 6h0m5-1h0m3 0h0m1-2h0m4 9h0m0-3h0m3-2h0m7-11h0m6-1h0m0-1h0m4 5h0m0 5h0m12-2h0m1 5h0m6-2h0m1-11h0m4 4h0m3-4h0m24 4h0m-428 22h0m5 7h0m2-13h0m1 20h0m0-2h0m1-8h0m1 2h0m0-5h0m0 10h0m0-15h0m0 17h0m1 0h0m0-5h0m0 5h0m2 1h0m1-19h0m0 14h0m0-3h0m1 0h0m0-1h0m1-5h0m0 2h0m0 9h0m0-8h0m0 7h0m0-2h0m1-4h0m0-7h0m0 6h0m2 7h0m1-13h0m0 4h0m2 2h0m0-7h0m1 15h0m1 2h0m1-12h0m0-4h0m1-3h0m0 11h0m1-6h0m1 12h0m0-5h0m0 6h0m2 0h0m0 0h0m0-9h0m0 11h0m0-20h0m0 9h0m1 5h0m1-4h0m0 7h0m0-7h0m0 2h0m0-10h0m1 13h0m0-11h0m0 6h0m1 2h0m0-1h0m1-3h0m0-4h0m0 13h0m0-15h0m0 0h0m0 0h0m1 9h0m0-6h0m0 6h0m0-5h0m0-3h0m1-2h0m0 4h0m1 13h0m0-17h0m0 2h0m1 10h0m0-9h0m0 10h0m0-6h0m0-2h0m1-2h0m0 5h0m0-6h0m1 11h0m0-10h0m0 10h0m1-10h0m1 14h0m0-16h0m0-2h0m4 12h0m5-2h0m4 6h0m0-11h0m2-4h0m4 18h0m1-5h0m3-11h0m1 15h0m0-13h0m0 8h0m0-2h0m1 3h0m0 4h0m1-14h0m0 6h0m1 7h0m0-16h0m1 16h0m0 0h0m1-4h0m1-6h0m3-7h0m0 10h0m1-2h0m7-6h0m2 8h0m7-7h0m3 9h0m4-1h0m1-11h0m4 15h0m13 3h0m1 1h0m3-14h0m13 1h0m1-5h0m2 9h0m2-5h0m5 6h0m5 5h0m13-8h0m1 9h0m0-3h0m1 4h0m0-1h0m0-8h0m2 7h0m2-10h0m0 13h0m2-17h0m0 16h0m1-9h0m1 5h0m0 3h0m0-17h0m1 16h0m0 2h0m0-9h0m0 3h0m1 6h0m1-12h0m0 9h0m1-14h0m0 17h0m0-8h0m0-7h0m1 5h0m0-6h0m1 16h0m0-13h0m2 8h0m3-6h0m0-4h0m1 15h0m0-2h0m3-7h0m2-8h0m1 8h0m1-2h0m2 2h0m0-5h0m1-1h0m1 11h0m1-10h0m1-1h0m0 0h0m1 10h0m1-10h0m1 14h0m2-8h0m0 9h0m0-7h0m1 7h0m1 1h0m0-6h0m1 1h0m1 4h0m1-13h0m0 14h0m1-1h0m0-12h0m1 5h0m0 7h0m0-5h0m1 2h0m0 5h0m1-16h0m1 15h0m0-3h0m1 1h0m0 0h0m0-12h0m1 3h0m0 11h0m0-14h0m1-4h0m1 19h0m1-3h0m0-4h0m0 2h0m0 2h0m0-5h0m1 2h0m0 2h0m0-3h0m1 5h0m0-5h0m0 0h0m0-2h0m0 4h0m0-13h0m0 14h0m0-3h0m0 1h0m1-6h0m0 7h0m0 4h0m0 0h0m0-1h0m0-10h0m0 5h0m0 0h0m1 0h0m0 2h0m1-8h0m0 11h0m0 1h0m0-7h0m0-9h0m0 12h0m0-1h0m0-10h0m0 6h0m2-3h0m0 1h0m0 4h0m0-5h0m0 10h0m0 0h0m1-6h0m0-6h0m0 10h0m0-1h0m0 0h0m0 4h0m0-11h0m0 2h0m0-8h0m0 13h0m0 2h0m1-4h0m0 5h0m0-9h0m0 8h0m0-8h0m0 8h0m0 4h0m0-12h0m1 7h0m0-7h0m0 9h0m0-7h0m0 7h0m0-5h0m0-4h0m1 8h0m0-16h0m0 9h0m0 8h0m1-1h0m0-9h0m0 4h0m0-3h0m0 3h0m0-5h0m0 6h0m1-11h0m0 9h0m0 8h0m0-18h0m0 5h0m0 12h0m0-1h0m0 1h0m0-9h0m0 6h0m0-8h0m1 9h0m0-14h0m0 18h0m0-3h0m1 2h0m0-14h0m0 8h0m0 2h0m1-6h0m0 3h0m0-7h0m0 9h0m0 3h0m0-10h0m0 6h0m1-10h0m0 1h0m0 8h0m0 1h0m0-5h0m0 6h0m0-7h0m1-1h0m0 14h0m0-19h0m0 15h0m0-11h0m0-4h0m0 7h0m0 4h0m1-9h0m0 16h0m0 1h0m0-9h0m0-3h0m0-5h0m0-2h0m0 4h0m0 10h0m1-12h0m0 2h0m0 2h0m0-1h0m0-3h0m1-1h0m0 2h0m0 3h0m0 7h0m0-6h0m1-1h0m0 6h0m0 0h0m0 3h0m0-11h0m0-1h0m0 5h0m0-7h0m0 2h0m1 1h0m0 2h0m0 0h0m0 3h0m0-5h0m0 1h0m1-5h0m0 17h0m0 2h0m1-12h0m0-2h0m1-1h0m0-1h0m0 4h0m0-4h0m1 2h0m0-3h0m0 0h0m1 8h0m0-9h0m0 2h0m1-1h0m0-1h0m0 9h0m1-6h0m0 3h0m0 4h0m0-11h0m0 2h0m0 11h0m1-11h0m0 1h0m0 6h0m0-7h0m1-2h0m1 0h0m0 4h0m1 1h0m0-3h0m0 6h0m0 9h0m0-10h0m2-5h0m0 4h0m2 14h0m0-3h0m1-15h0m0 8h0m1-8h0m0 11h0m1-12h0m1 6h0m1-7h0m0 4h0m0 1h0m1 3h0m0-4h0m1-3h0m0 0h0m1 2h0m1 16h0m7-13h0m2-4h0m1 16h0m1-4h0m1-1h0m1-9h0m1 9h0m3 4h0m3-17h0m4 11h0m2-9h0m0-1h0m0 0h0m2 16h0m3-10h0m2 6h0m20-10h0m18 1h0m-350 34h0m11-15h0m0 16h0m1-3h0m1-1h0m0 2h0m2-3h0m0 4h0m1-8h0m0 2h0m0 5h0m0-15h0m1 12h0m0-4h0m0 9h0m0-12h0m1 11h0m0-10h0m0 9h0m1-6h0m0 8h0m0-3h0m1-12h0m1 8h0m0 7h0m0-7h0m0-11h0m0 3h0m0-3h0m1 11h0m0-6h0m1 1h0m0 11h0m1-1h0m0-17h0m0 5h0m0 12h0m1-17h0m0 4h0m0-1h0m0 6h0m0-8h0m1 17h0m0-13h0m1 6h0m0 9h0m1-9h0m1-4h0m0 7h0m0-10h0m1 12h0m1-9h0m0-3h0m1-2h0m0 5h0m0 10h0m1-8h0m0-8h0m1 19h0m0-8h0m1 5h0m1-15h0m0 1h0m0 10h0m1-8h0m0 3h0m0-6h0m1 8h0m0 10h0m0-19h0m1 3h0m0 9h0m0 5h0m1-5h0m0-3h0m0 7h0m0-11h0m0 8h0m1-13h0m0 4h0m0-1h0m0 1h0m0 10h0m0-2h0m2 6h0m0-12h0m0 12h0m0-5h0m1 4h0m0-9h0m0 0h0m0 6h0m0 4h0m1-11h0m0 6h0m1-10h0m0-2h0m0 5h0m1-7h0m0 1h0m0 10h0m0-3h0m1 3h0m0-8h0m0 0h0m1 13h0m0-9h0m1 5h0m1 0h0m0-6h0m0-4h0m1 5h0m3-6h0m10 18h0m2 0h0m4-9h0m2 8h0m0 1h0m0-3h0m1-1h0m3-2h0m3 2h0m0 2h0m0-16h0m0 6h0m1-6h0m0-1h0m3 17h0m0-5h0m0 1h0m1-13h0m1 2h0m0 10h0m1-12h0m0 11h0m0 3h0m3-7h0m3 9h0m1 0h0m0-4h0m1-8h0m2 13h0m4 2h0m0-4h0m1-12h0m4 3h0m2-4h0m2 0h0m1 10h0m1 4h0m0-5h0m0-1h0m5-9h0m0 10h0m3-10h0m13 19h0m12-7h0m2 6h0m1-16h0m1 8h0m0 1h0m3 7h0m0 0h0m1 0h0m3-9h0m1 0h0m4-10h0m2 20h0m0-13h0m1 12h0m0-2h0m1-6h0m0-8h0m0 3h0m1 4h0m3 7h0m0 3h0m1-13h0m1 8h0m1-11h0m1 1h0m1-1h0m0 9h0m1-11h0m0 12h0m1-9h0m0 0h0m0-2h0m1 0h0m2 5h0m0 9h0m1 2h0m2-13h0m1-1h0m3 3h0m1 2h0m1 8h0m1-2h0m0-12h0m2 11h0m0-11h0m0 2h0m1 7h0m1 2h0m0-14h0m0 1h0m4-2h0m0 12h0m1-12h0m0 3h0m0 11h0m1 6h0m0-3h0m1-8h0m0 3h0m0 6h0m1-4h0m0-3h0m0 1h0m0 0h0m1 7h0m0-8h0m1 3h0m0 0h0m1-9h0m1 2h0m0 7h0m0-11h0m1 12h0m0 3h0m1 0h0m1-1h0m0-4h0m1 7h0m0-2h0m0-16h0m0 13h0m1-12h0m0 13h0m1 2h0m0-12h0m0 1h0m0 5h0m1 8h0m0-14h0m0 13h0m1-10h0m0 7h0m0-4h0m0-1h0m0 5h0m0-2h0m0-13h0m0 15h0m1-2h0m0 2h0m0-13h0m0 6h0m0 0h0m0 5h0m0-7h0m1-1h0m0-2h0m0 8h0m0 6h0m0-6h0m1 1h0m0-6h0m0 12h0m0-3h0m0-5h0m1-8h0m0 10h0m1 6h0m0-3h0m0-14h0m0 14h0m0 0h0m0-7h0m1 10h0m0-1h0m0-17h0m0 9h0m1 4h0m0 0h0m0-7h0m0-1h0m0 11h0m0-3h0m0-7h0m0 10h0m0-15h0m0 4h0m0 8h0m1-6h0m0-4h0m0 13h0m0-8h0m0-8h0m1 1h0m0 5h0m0-3h0m1 1h0m0 11h0m0-4h0m1 2h0m0-2h0m0-10h0m0 1h0m1 12h0m0-12h0m0 14h0m0-9h0m1 0h0m0 1h0m0-6h0m0 6h0m0-3h0m0-1h0m1 0h0m0 0h0m0 2h0m0-2h0m1 9h0m0-1h0m0-7h0m1 1h0m0-2h0m1-4h0m0 2h0m0-3h0m0 2h0m0 4h0m0 5h0m1-6h0m0-2h0m0-1h0m0 6h0m0 3h0m0-7h0m1-2h0m0-2h0m0 5h0m0 11h0m0-10h0m1-2h0m0 11h0m0-15h0m0 3h0m0 4h0m0 1h0m1-6h0m0-1h0m0 1h0m0 5h0m1-2h0m0-4h0m1-1h0m0 13h0m1-12h0m0 2h0m0 4h0m0 4h0m1-1h0m0-10h0m0 1h0m1 6h0m0-1h0m2-2h0m0-4h0m0 10h0m1-8h0m2 0h0m3 6h0m2 2h0m1 6h0m0-12h0m0-4h0m2 0h0m1 16h0m0-15h0m1 9h0m1 7h0m0-15h0m4 13h0m0 1h0m12-14h0m1 3h0m2 1h0m17-3h0m-295 31h0m2-8h0m0 13h0m1-4h0m0 3h0m1-4h0m0 6h0m1-4h0m0-1h0m2-3h0m1 5h0m0-6h0m0 2h0m1-3h0m1 9h0m0-10h0m0 8h0m0 1h0m1-9h0m0-1h0m0 8h0m1-1h0m0-2h0m0-7h0m0 11h0m0-11h0m0-2h0m1-4h0m1 1h0m0 3h0m0-1h0m1 10h0m0-12h0m0 6h0m0-6h0m0 16h0m1-16h0m1 1h0m0 7h0m0 4h0m0 7h0m0-11h0m0-1h0m1 12h0m0-18h0m0 0h0m1 2h0m0 1h0m0 5h0m0 3h0m0-4h0m1-6h0m0-2h0m1 1h0m0 8h0m0-4h0m1 5h0m0-5h0m1 8h0m0 1h0m1 5h0m2-14h0m0 1h0m1 4h0m0-1h0m1 8h0m1-4h0m0-5h0m1 1h0m2-5h0m0 14h0m4-18h0m1 5h0m0-3h0m0 10h0m1-12h0m0 17h0m0 0h0m1-1h0m0 3h0m0-4h0m0-1h0m1-6h0m0 3h0m0-3h0m0 11h0m0-13h0m0 3h0m1-7h0m0 9h0m0 1h0m0 2h0m0 4h0m0-10h0m0-1h0m1 4h0m0-5h0m0-5h0m0-1h0m0 1h0m0 3h0m1 4h0m0-1h0m0 3h0m1 0h0m0 8h0m0-12h0m0-1h0m0 7h0m1-1h0m0-10h0m0 3h0m1-2h0m0 1h0m0 1h0m0 7h0m1 1h0m0-10h0m1 11h0m0-8h0m1 6h0m0-5h0m0 2h0m1-8h0m0 2h0m1 3h0m1 11h0m3-12h0m0-1h0m0 13h0m3-2h0m5-10h0m3 13h0m0-11h0m2 12h0m1-5h0m1-12h0m2 14h0m1-9h0m0 8h0m3 2h0m0-6h0m0 5h0m0-9h0m0 3h0m0-3h0m1-3h0m1 4h0m0-7h0m0 13h0m1-2h0m0-3h0m1-5h0m0 4h0m0-5h0m1 13h0m0-16h0m1 1h0m1 9h0m0-6h0m1 13h0m0 0h0m2-8h0m0-5h0m3-3h0m29 2h0m1 3h0m0 0h0m1 10h0m6-12h0m3 2h0m2 13h0m2-6h0m2 4h0m5-6h0m0 2h0m1 4h0m0 2h0m2-7h0m1 0h0m1 0h0m1-6h0m1 10h0m1 2h0m0-9h0m2 8h0m1-6h0m0-6h0m2 6h0m1 1h0m4 2h0m0-9h0m0-5h0m2 6h0m0 1h0m1-2h0m0 4h0m1 5h0m3 2h0m0-13h0m0 16h0m0-19h0m0 0h0m1 13h0m0 1h0m0-13h0m1 17h0m2 1h0m1-18h0m1 18h0m2-16h0m1 6h0m3-9h0m0 11h0m1 7h0m1-12h0m1 0h0m2 10h0m0-1h0m1 3h0m0-12h0m1-3h0m1 8h0m2 5h0m0 0h0m1 0h0m0-4h0m1 7h0m0-2h0m1-15h0m1 5h0m0 12h0m0-12h0m1 7h0m0-6h0m0 11h0m2-4h0m0 0h0m0-13h0m0 7h0m0-9h0m1 11h0m0-10h0m1 14h0m0-1h0m0-4h0m0 1h0m0 3h0m0-1h0m1 5h0m0-7h0m0 1h0m0-9h0m0 12h0m0-6h0m0 9h0m0 0h0m1-11h0m0-1h0m0 5h0m1 5h0m1 3h0m0-12h0m0 1h0m0 3h0m0 6h0m1-3h0m0-9h0m0 12h0m0 2h0m1-5h0m0-1h0m0-9h0m0 15h0m0-5h0m1 6h0m0-18h0m0 7h0m0-1h0m1 11h0m0-4h0m0-2h0m0-13h0m0 18h0m0-5h0m0-10h0m0 13h0m0-1h0m1 5h0m0-6h0m0-2h0m0-5h0m0 3h0m0 6h0m1-15h0m0 12h0m0-11h0m0 0h0m1 8h0m0-7h0m0 15h0m0-12h0m0 12h0m0-10h0m0-5h0m1 16h0m0-13h0m0 9h0m0-8h0m0-1h0m0 4h0m0-2h0m1-1h0m0 3h0m0-10h0m1 5h0m0-1h0m0 1h0m0 3h0m0-2h0m1 5h0m0-8h0m0 1h0m0 8h0m1 7h0m0-4h0m0 1h0m0-16h0m0 0h0m0 9h0m0 1h0m0-2h0m1 2h0m0 1h0m0-8h0m1 5h0m0-8h0m0 10h0m0-2h0m0-6h0m1 5h0m0-4h0m0 3h0m1-1h0m0 3h0m0 3h0m0-7h0m0 1h0m0 12h0m0-10h0m1 7h0m0-4h0m0-8h0m1-1h0m0 0h0m0 8h0m1-8h0m0 0h0m0 16h0m1-11h0m0 0h0m0-5h0m2 4h0m1-4h0m0 1h0m0 0h0m1-2h0m0 3h0m0-1h0m0-1h0m0 5h0m1 5h0m1 0h0m1-3h0m0 0h0m2-5h0m1 9h0m0-10h0m5-2h0m7 2h0m12 3h0m2-3h0m-270 34h0m6-10h0m2 0h0m3 8h0m0 0h0m2 3h0m0-1h0m0-6h0m2-5h0m0-1h0m0 0h0m0 5h0m0-1h0m0 0h0m1 11h0m0-8h0m0-4h0m1 9h0m0-8h0m1-2h0m0 11h0m0 0h0m0-9h0m1 2h0m0-8h0m1 3h0m0-1h0m0-4h0m0 2h0m1 6h0m0 11h0m0-15h0m0 1h0m0 3h0m2 7h0m1-10h0m1 0h0m0 13h0m1-10h0m0-8h0m1 2h0m0 13h0m3 4h0m0-17h0m0 9h0m0-2h0m1 4h0m0 4h0m1-9h0m0-7h0m1 14h0m2-1h0m6-3h0m1 4h0m1-12h0m1 15h0m2-8h0m1 1h0m1-1h0m0-8h0m0-1h0m1 11h0m0 1h0m0 7h0m0-8h0m1 5h0m1 2h0m0-13h0m0 10h0m0-12h0m0 2h0m0 10h0m1-7h0m0 4h0m0-4h0m0 1h0m0 4h0m1-13h0m0 11h0m0 4h0m0-13h0m1 13h0m0-7h0m0 5h0m0-11h0m0 8h0m1-5h0m0 1h0m0 1h0m0-2h0m1 13h0m1-11h0m1-6h0m0-1h0m0 7h0m1-5h0m1 17h0m0-16h0m3-3h0m0 3h0m5-2h0m4 12h0m2-1h0m0-9h0m4 16h0m2-6h0m0-8h0m1 12h0m1-3h0m0-2h0m1-5h0m0 7h0m0-3h0m1-4h0m2 8h0m0-3h0m0 1h0m0-5h0m0 1h0m0 2h0m1-10h0m0 11h0m0-3h0m1-10h0m0 2h0m0 5h0m1-3h0m1-2h0m1-1h0m0 9h0m0-5h0m3 7h0m0 0h0m1-10h0m6 4h0m1 7h0m12 7h0m5-17h0m6 6h0m1 7h0m1 2h0m1-5h0m1 4h0m1-1h0m1 3h0m1-6h0m2-1h0m0 0h0m2 0h0m2 6h0m1-4h0m0 2h0m1-2h0m1 2h0m0-3h0m0-2h0m2-4h0m1 4h0m1-8h0m0 9h0m4-9h0m0 9h0m0 4h0m3-10h0m0-3h0m3 3h0m1 5h0m1-4h0m1-5h0m3-2h0m0 2h0m0 12h0m3 1h0m1 0h0m3-7h0m1 0h0m0 10h0m1-9h0m1-2h0m0-5h0m4 15h0m1-13h0m2 10h0m1 0h0m1 4h0m0-18h0m1 4h0m0 6h0m2 3h0m0 7h0m0-2h0m1 0h0m0-6h0m1 2h0m0 6h0m1-6h0m0 3h0m0-7h0m0-6h0m0 13h0m0 2h0m1-4h0m0-8h0m1 4h0m0-1h0m1 10h0m1-3h0m0-2h0m1 1h0m0-1h0m0-9h0m1 10h0m0 3h0m0-5h0m0-5h0m1 6h0m0-1h0m0-6h0m0 2h0m0-4h0m1 4h0m0-1h0m0 7h0m0-2h0m0-2h0m0-8h0m0 3h0m0-5h0m1 13h0m0-14h0m0 17h0m0-17h0m0 9h0m1 8h0m0-2h0m0 3h0m0-13h0m0 5h0m1-2h0m0 6h0m0-6h0m0 9h0m1 0h0m0-17h0m0 12h0m0-3h0m0 7h0m0 1h0m1-5h0m0-6h0m0 10h0m0 2h0m1-13h0m0-1h0m0-4h0m0 1h0m0 9h0m0-6h0m0 7h0m0 3h0m0 4h0m0-9h0m1-1h0m0-3h0m0 3h0m0-5h0m0 12h0m0 0h0m0-12h0m0 1h0m0-4h0m0 16h0m1-12h0m0 11h0m1-6h0m0 1h0m0-5h0m0 11h0m1-3h0m0-4h0m0 6h0m0-10h0m0 0h0m0-1h0m1-3h0m0 17h0m0-13h0m0 6h0m0-6h0m0-1h0m0 5h0m0-5h0m0 4h0m0-3h0m1 9h0m0-6h0m0-1h0m0 11h0m0-9h0m0 4h0m1-12h0m0 5h0m0 9h0m0-12h0m1-1h0m0-1h0m0 4h0m0-1h0m0-5h0m2 3h0m0 9h0m0-7h0m0 2h0m0 5h0m1 1h0m0-9h0m0 0h0m1 14h0m0-10h0m0 11h0m0-11h0m0 0h0m0 5h0m1-9h0m0-2h0m0 0h0m0 0h0m1 10h0m0-8h0m0 11h0m1-12h0m0 0h0m0 7h0m0-8h0m1 0h0m0 2h0m0 4h0m1 6h0m0 0h0m0-12h0m1 8h0m1-9h0m0 5h0m1-1h0m0-1h0m1 5h0m1-8h0m0 4h0m2 8h0m0-10h0m1-1h0m2 16h0m6-11h0m1 0h0m10-6h0m1 0h0m1 1h0m-251 34h0m6-2h0m1 0h0m3-5h0m0 10h0m0-2h0m2-11h0m1 4h0m0 6h0m0-5h0m1 1h0m0-11h0m0 11h0m2-7h0m0-4h0m1 13h0m0-13h0m0 13h0m0-3h0m1 1h0m0-3h0m1-8h0m0 3h0m0-3h0m0 3h0m0 0h0m0 0h0m1 11h0m0-14h0m0 10h0m1 6h0m0-5h0m1 3h0m1 1h0m0-12h0m1-3h0m4 14h0m1 1h0m1-15h0m2 3h0m1 10h0m0-7h0m1 13h0m0-5h0m9-1h0m0 4h0m3 2h0m0-11h0m0 1h0m0-4h0m1 13h0m0-3h0m0 1h0m0-12h0m1 3h0m0 5h0m1 5h0m0-2h0m0-3h0m1 3h0m0-5h0m0 8h0m0-7h0m0 8h0m0-3h0m0 2h0m1-17h0m0 13h0m0 2h0m0-8h0m0-7h0m0 11h0m1 2h0m0-2h0m0-2h0m0-8h0m0 13h0m0-9h0m1-6h0m0 14h0m0-10h0m0-5h0m0 8h0m0 6h0m1-11h0m0 10h0m0-5h0m0-2h0m1 7h0m0 3h0m0 1h0m0-13h0m1 11h0m1-11h0m0 4h0m0-5h0m0 6h0m0-8h0m1 5h0m0-3h0m2 3h0m0 5h0m2-7h0m0 3h0m1 8h0m4 2h0m1 2h0m6-7h0m3 8h0m1-1h0m1-16h0m0 13h0m0-16h0m0 14h0m1 2h0m0-14h0m0 10h0m1-2h0m1-7h0m1 1h0m0 16h0m0-1h0m0-16h0m2 13h0m1-3h0m0 4h0m1-1h0m0-13h0m1 7h0m0-7h0m2 4h0m0-6h0m3 5h0m1 2h0m3-7h0m1 10h0m11-8h0m10 4h0m4 12h0m2-19h0m0 17h0m1-12h0m0 3h0m0 7h0m1 0h0m0 0h0m1-6h0m0 1h0m1-7h0m0 6h0m1 10h0m0-14h0m1 4h0m0 0h0m2 3h0m1 1h0m0-2h0m0-10h0m1 12h0m1 0h0m0-7h0m1-3h0m1 14h0m2-10h0m2 0h0m2 6h0m1-9h0m0 0h0m4-3h0m0 9h0m2-2h0m1 3h0m1 2h0m2 5h0m1 0h0m0-1h0m5-11h0m1 13h0m3-6h0m1-2h0m1-3h0m0 9h0m2-4h0m2-9h0m1 10h0m1-7h0m1 11h0m0 1h0m1-5h0m0-4h0m0-6h0m0 15h0m1-4h0m0 3h0m1-8h0m1-4h0m0 4h0m0 5h0m0 2h0m0-11h0m0 8h0m1 4h0m0-18h0m1 16h0m0-4h0m0 1h0m0 2h0m0-9h0m0 4h0m0 2h0m0-1h0m1 8h0m0-7h0m0 7h0m1-9h0m1 0h0m0 3h0m0-7h0m0 7h0m0 0h0m0 4h0m0-1h0m1-7h0m0 2h0m0 3h0m0 0h0m0-10h0m0 15h0m1-7h0m0 3h0m0 4h0m0 0h0m0-6h0m1-12h0m0 17h0m0 1h0m0-15h0m0 7h0m0-8h0m0 6h0m1 9h0m1-5h0m0-3h0m0-4h0m0-1h0m0 9h0m0-4h0m1 8h0m0-16h0m0 7h0m0-4h0m0 11h0m0-6h0m0 8h0m0-10h0m1-3h0m0 1h0m0 10h0m0-6h0m0-7h0m0-3h0m0 14h0m0-3h0m0-10h0m0 5h0m0-1h0m1 14h0m0-13h0m0 13h0m0 0h0m0-11h0m0 1h0m0-3h0m0 2h0m1 2h0m0-9h0m0 3h0m0 12h0m0-14h0m1 13h0m0-3h0m0-10h0m0 10h0m0-9h0m0 16h0m1-16h0m0 2h0m0 4h0m0 2h0m1-1h0m0 5h0m0-7h0m0 6h0m0-3h0m0-1h0m0-7h0m0 1h0m1 8h0m0 0h0m1-6h0m0-2h0m0 9h0m0-3h0m0-5h0m0-1h0m0-2h0m1 8h0m0 2h0m0 4h0m0-3h0m0-13h0m1 3h0m0-2h0m1 10h0m0 0h0m0-4h0m0 5h0m0-6h0m0-3h0m0 14h0m0-3h0m1-9h0m0 0h0m0-3h0m0-1h0m0 10h0m1 6h0m0-12h0m1 1h0m1-4h0m0-2h0m0 2h0m3 5h0m1-2h0m0-5h0m1 7h0m1-3h0m2 1h0m0 5h0m2-6h0m0-4h0m1 2h0m1 16h0m2-16h0m2 5h0m6-1h0m2-5h0m-230 22h0m3 7h0m0 5h0m2-3h0m1-3h0m0 6h0m0-2h0m0 7h0m2-15h0m0 13h0m0-3h0m0-3h0m0 3h0m1-14h0m0 3h0m1 7h0m0-6h0m0 1h0m1 14h0m0-13h0m1 11h0m0-6h0m1 2h0m0-12h0m0 15h0m0 2h0m0-16h0m1 12h0m0 0h0m1-12h0m0 3h0m0-4h0m0 15h0m0-13h0m0 0h0m1 8h0m1 1h0m1-1h0m0-8h0m1-3h0m2 1h0m1 8h0m0-6h0m1 16h0m0-12h0m1-1h0m0-1h0m1 0h0m3 7h0m1-2h0m0-4h0m1-4h0m5 14h0m2-2h0m2 1h0m0-11h0m1 11h0m0-3h0m0-6h0m1 3h0m0 5h0m1-4h0m0 7h0m0 0h0m1-1h0m0-11h0m0 5h0m1 4h0m0 3h0m0 2h0m1-3h0m0-5h0m0-9h0m1 9h0m0-4h0m0 6h0m1-4h0m1-1h0m0 2h0m0-3h0m0-5h0m1 12h0m0 2h0m0-6h0m0-8h0m1 3h0m0-2h0m1-3h0m0 13h0m0-4h0m0-6h0m0 15h0m1-4h0m0-13h0m0 10h0m0-7h0m1-1h0m1 4h0m1-5h0m0-3h0m0 10h0m1 9h0m0-9h0m0 0h0m2-9h0m2 1h0m3 10h0m2-9h0m10 14h0m0-2h0m1-4h0m1-3h0m0 5h0m0 1h0m1 1h0m0 4h0m0-12h0m1 3h0m0-8h0m1 13h0m1-13h0m1 18h0m0-15h0m1 0h0m0-2h0m0 9h0m1 2h0m0-1h0m0-11h0m0 12h0m1 5h0m0-5h0m1-4h0m0 5h0m0-14h0m1 10h0m1-9h0m2 2h0m3 11h0m2 2h0m0-15h0m0 1h0m4 9h0m1 5h0m4-2h0m0-11h0m0 16h0m2-4h0m0-13h0m1 14h0m1-8h0m0-8h0m0 10h0m2-4h0m2-5h0m1 13h0m1-2h0m0-4h0m0 8h0m1-5h0m1-4h0m1 5h0m0-3h0m1-4h0m0 9h0m0 2h0m1-10h0m2-2h0m1 5h0m0-6h0m2 0h0m4 0h0m4-2h0m3 1h0m3 4h0m0 11h0m5-7h0m1-1h0m1 5h0m0-3h0m1 3h0m1-7h0m0 4h0m0-7h0m6 6h0m1-4h0m0-3h0m1 1h0m1 12h0m1-4h0m1-7h0m1-2h0m0 16h0m0 0h0m0-14h0m1 7h0m0-2h0m0-6h0m0 11h0m2-11h0m0 13h0m2 0h0m0-3h0m0-6h0m0 0h0m0 9h0m1-13h0m0-1h0m0 5h0m0-5h0m0 14h0m1 1h0m0-6h0m0-12h0m0 16h0m1-10h0m0 1h0m1 12h0m0-3h0m0-7h0m1 9h0m0-9h0m0 2h0m0-3h0m0 6h0m1-6h0m0 1h0m0-1h0m0-3h0m0 2h0m1 11h0m0-11h0m0 4h0m0-11h0m0 5h0m1 4h0m0-7h0m0 0h0m1 3h0m0 8h0m0-12h0m1 14h0m0-5h0m0 9h0m0-17h0m0 14h0m0 3h0m0-3h0m0-4h0m1 6h0m0-2h0m0-10h0m0 11h0m0-2h0m0-12h0m0 9h0m1-3h0m0 9h0m1-16h0m0 10h0m0 4h0m0-14h0m0 9h0m0 4h0m0-10h0m0 10h0m0-11h0m1 1h0m0 10h0m0-10h0m0 8h0m0-14h0m0 9h0m0-7h0m1 2h0m0 6h0m0 2h0m0-4h0m0 1h0m1 3h0m0-2h0m0-7h0m0 10h0m1-9h0m0 7h0m0 4h0m0-11h0m0-3h0m0 8h0m0-2h0m0-1h0m0 1h0m0-3h0m0 0h0m1 1h0m0 2h0m0-2h0m0 4h0m1 0h0m0-8h0m0 1h0m0 1h0m0 12h0m1-11h0m0-2h0m0 3h0m0 0h0m0-4h0m1 8h0m0-6h0m1 2h0m1-2h0m0 2h0m0-5h0m0 12h0m0-11h0m1 5h0m2 3h0m0-7h0m0 11h0m2-8h0m1 0h0m0-1h0m1 2h0m0 0h0m0-1h0m3 2h0m1-2h0m0-3h0m2 5h0m0 4h0m0 2h0m0 5h0m1-7h0m2-6h0m0-1h0m3 6h0m-211 24h0m4-8h0m1 5h0m0-1h0m1 1h0m0-5h0m2 5h0m0 6h0m0 1h0m0-11h0m0 4h0m1 3h0m1 3h0m0-12h0m0 10h0m0-2h0m0-2h0m0 5h0m0-12h0m1 5h0m0-8h0m0 9h0m0-5h0m1 5h0m0-6h0m0 3h0m0 12h0m0-18h0m1 14h0m0-5h0m1 6h0m0-5h0m1-6h0m0 13h0m0-17h0m2 0h0m0 6h0m1 4h0m1-3h0m0-3h0m1 3h0m0 11h0m1-8h0m0 8h0m1-9h0m1-6h0m0 6h0m0-1h0m2 2h0m0 2h0m1-2h0m2-6h0m0 7h0m1-9h0m0 12h0m2-10h0m1 3h0m0-3h0m0-4h0m1 10h0m0 7h0m2-12h0m0-6h0m2 15h0m0 5h0m1-7h0m0-2h0m1-6h0m0 14h0m1-1h0m0-1h0m1 1h0m2-5h0m0-13h0m1 19h0m0 1h0m1-7h0m0-12h0m0 12h0m1-9h0m0 16h0m0-5h0m0-11h0m0-4h0m0 6h0m0 12h0m1-10h0m0-7h0m0 15h0m0 4h0m0-7h0m0 4h0m0-3h0m1-1h0m0-11h0m0 16h0m0-4h0m0 3h0m0-10h0m1 12h0m0-7h0m0-11h0m0 9h0m0-1h0m1-4h0m0 6h0m0-9h0m0 8h0m0 10h0m1-13h0m0-3h0m0 16h0m1-18h0m1 9h0m0-2h0m0-6h0m1 6h0m2-8h0m1 7h0m3-3h0m1 7h0m1-6h0m2 7h0m0-8h0m1-5h0m3 10h0m5 5h0m2-13h0m0 13h0m1-7h0m1-5h0m1 6h0m1-3h0m0 3h0m0-8h0m0 2h0m1 4h0m1 2h0m1-2h0m0 5h0m0-8h0m1 4h0m1 2h0m1-5h0m0 4h0m0-6h0m1-1h0m0 7h0m1-3h0m2-4h0m2-1h0m5 9h0m8-8h0m3 2h0m2-3h0m3 2h0m3-2h0m1 11h0m5-9h0m1 1h0m3 11h0m2-9h0m0 1h0m0 13h0m1-2h0m1 0h0m4 2h0m1-5h0m1 0h0m1-11h0m1 13h0m1-4h0m2 4h0m0 2h0m1-7h0m1 7h0m4-18h0m0 3h0m0 11h0m0 4h0m2-4h0m0-14h0m1 19h0m0-8h0m1-11h0m0 15h0m0-7h0m2 6h0m0 4h0m0-5h0m0-12h0m0 1h0m1 4h0m1 9h0m1-15h0m0 19h0m0-1h0m0-12h0m1 13h0m0-18h0m0 7h0m1-4h0m0-3h0m0 13h0m0-12h0m1 14h0m0-9h0m0 10h0m1-5h0m0-5h0m0-1h0m1 9h0m0-4h0m0 6h0m0 0h0m0-13h0m0 2h0m0 1h0m1 7h0m0-3h0m0 2h0m0-3h0m0 8h0m0-3h0m0-5h0m0-6h0m0 13h0m0 2h0m1-5h0m0-14h0m0 16h0m0-1h0m0-9h0m1 0h0m0 5h0m0 0h0m1-1h0m0 9h0m1-5h0m0-5h0m0 1h0m0 1h0m0 5h0m0-15h0m1 9h0m0-9h0m0 13h0m0-6h0m0-8h0m0 5h0m1 5h0m0-6h0m0-1h0m0-1h0m0 7h0m0 10h0m0-17h0m0 8h0m1 5h0m0-8h0m0 0h0m0-5h0m0 13h0m0-10h0m2 4h0m0 4h0m0-1h0m0-12h0m0 4h0m1 4h0m0-7h0m0 1h0m0-2h0m0 10h0m0-5h0m0-4h0m0-1h0m1 17h0m0-15h0m0-2h0m1 3h0m0 10h0m0-5h0m0 3h0m1-3h0m0-6h0m0 2h0m0 11h0m0-11h0m0-2h0m0 8h0m1 7h0m0-15h0m0-1h0m0 5h0m0-2h0m0 9h0m0-12h0m1 8h0m0 7h0m0-11h0m0-2h0m0 5h0m0-2h0m1 2h0m0-7h0m0 6h0m0 4h0m2 5h0m1-10h0m2 6h0m0-12h0m1 4h0m0 11h0m1-15h0m3 0h0m0 9h0m2-2h0m1 5h0m1 0h0m7-12h0m-198 33h0m2-7h0m1 0h0m0 8h0m1 1h0m1-6h0m1 5h0m1 3h0m0 2h0m0-8h0m1-11h0m0 4h0m0-3h0m0 15h0m1 0h0m0-12h0m0-2h0m0-1h0m1 3h0m0-3h0m1 14h0m0-10h0m0 8h0m0-9h0m1-5h0m0 6h0m0 2h0m0 6h0m1-2h0m0 1h0m1-13h0m0 12h0m3-3h0m0 7h0m0-11h0m1-5h0m1 3h0m0 17h0m2-13h0m0 8h0m0 4h0m1-13h0m1 0h0m1 12h0m0-3h0m1-4h0m0-5h0m0 9h0m1-9h0m1 0h0m1 7h0m1-11h0m0 6h0m1-3h0m3 8h0m2-1h0m0-11h0m1 16h0m1-12h0m0 11h0m0 1h0m1 1h0m0-13h0m0 0h0m1 9h0m0-3h0m0 1h0m0-1h0m1-6h0m0-4h0m0 15h0m0-3h0m0-4h0m0 0h0m1-3h0m1 0h0m0-5h0m0 15h0m0-8h0m0 1h0m1 0h0m0 2h0m0 0h0m0 5h0m0-15h0m1 5h0m0 10h0m0-5h0m1 0h0m0-4h0m0-2h0m1 1h0m0 7h0m0-3h0m1-1h0m0 2h0m0 0h0m0-8h0m0 7h0m1-2h0m0-3h0m1-3h0m0 15h0m1-3h0m1 0h0m0-2h0m7-8h0m3 7h0m18-4h0m2 4h0m24 4h0m2 1h0m7-5h0m8-2h0m1 11h0m0 0h0m1-5h0m1 1h0m2-7h0m3 9h0m1-7h0m0 7h0m0-1h0m0-10h0m1 12h0m1 0h0m2-2h0m0-4h0m0 5h0m1-8h0m0-4h0m0-1h0m1 0h0m0 12h0m0-4h0m1-6h0m0-2h0m0 5h0m0 7h0m1 2h0m1-6h0m0 6h0m0-5h0m1 3h0m0-1h0m1-10h0m0 8h0m0-13h0m0 15h0m1-3h0m0-3h0m1 9h0m0-12h0m1 10h0m0-10h0m0 3h0m0 5h0m0 1h0m0-7h0m0 8h0m0-5h0m0 6h0m0 2h0m0-12h0m1 5h0m0-6h0m0 11h0m0-9h0m0 6h0m0 3h0m1-3h0m0-12h0m0 7h0m0-3h0m0 11h0m0-8h0m1 5h0m1-10h0m0 4h0m0-5h0m0 5h0m1-6h0m0 15h0m0-13h0m0 7h0m0-10h0m0 0h0m1-1h0m0 9h0m0-1h0m1 4h0m0 1h0m0 3h0m0-14h0m0 1h0m0 3h0m0-4h0m0-1h0m1 14h0m0-1h0m0 0h0m0-3h0m0-2h0m1 9h0m0-4h0m0-12h0m0 1h0m0 1h0m1-2h0m0 7h0m0 2h0m0 0h0m0-4h0m0 2h0m0-8h0m0-2h0m0 7h0m1 0h0m0 2h0m0 8h0m0-7h0m0-6h0m0 8h0m1-3h0m0 10h0m0-4h0m0-1h0m0-6h0m1 2h0m0 0h0m0-3h0m0-6h0m0 11h0m0-9h0m0-2h0m0 3h0m1-3h0m0 13h0m0-9h0m0-3h0m1-1h0m0 2h0m0 1h0m0 4h0m0 5h0m1-6h0m0-3h0m1-2h0m0 6h0m0 1h0m1 9h0m0-17h0m0 4h0m0-4h0m1 4h0m0-3h0m0 8h0m2-5h0m1 1h0m0-4h0m2 7h0m1-3h0m0 5h0m0 9h0m1-19h0m0 8h0m1 1h0m0-2h0m2 12h0m2-5h0m5-13h0m-180 22h0m1 10h0m0-12h0m1 8h0m1 1h0m0-5h0m0-3h0m1 12h0m0-5h0m1-5h0m0 8h0m0-7h0m0-6h0m0 16h0m2-3h0m0 3h0m1-4h0m0-10h0m0 7h0m1 2h0m0 6h0m0-1h0m0-1h0m0-4h0m1-7h0m0 15h0m0-6h0m1 4h0m0-13h0m3 2h0m1 3h0m2 9h0m0-10h0m1 10h0m0-16h0m1 6h0m1 1h0m0-5h0m2 15h0m0-15h0m1 1h0m1-1h0m1 0h0m0 10h0m0 0h0m1 4h0m0-9h0m0-1h0m0 6h0m1-11h0m0 10h0m1 6h0m0-17h0m0 13h0m2-4h0m0 8h0m1-11h0m0-3h0m1 7h0m0 1h0m1-6h0m0 3h0m0 5h0m0 3h0m0-10h0m1-8h0m0 14h0m1 3h0m1 2h0m0-1h0m0-13h0m1-4h0m0 13h0m0-12h0m0 3h0m0 9h0m0-9h0m2 8h0m0-6h0m0-6h0m0 4h0m0-3h0m0 13h0m0 0h0m1 2h0m0-12h0m0 0h0m0-5h0m0 15h0m1-6h0m1 9h0m0-18h0m0 14h0m1-6h0m0-8h0m1 5h0m0 7h0m2 0h0m0 5h0m0-13h0m0 4h0m1-5h0m0 11h0m1-12h0m0 6h0m3 11h0m3-18h0m0 9h0m3 0h0m3 3h0m8-10h0m6 4h0m6-2h0m4 1h0m1-3h0m2 17h0m10-15h0m0 10h0m4 4h0m8-9h0m1-8h0m3 13h0m1 4h0m2-7h0m0 1h0m2 6h0m2-14h0m1 12h0m0-4h0m0-9h0m0-2h0m1 14h0m0 0h0m1-3h0m0 1h0m0 1h0m0-10h0m1 14h0m1-1h0m0-1h0m0 3h0m1-4h0m0 3h0m0-12h0m0 12h0m1-1h0m0-11h0m1 7h0m0-6h0m1 5h0m0-9h0m0-1h0m0 11h0m0-3h0m1-5h0m0 7h0m0-1h0m0-3h0m0-3h0m0 2h0m1-1h0m0 5h0m0 0h0m0-6h0m0 9h0m1 1h0m0-2h0m0 3h0m0-2h0m0 0h0m0-1h0m0-3h0m0 0h0m0-6h0m0 10h0m1-14h0m0 15h0m0 4h0m0-1h0m0-4h0m0 0h0m1 3h0m0-15h0m0 11h0m0-11h0m0 3h0m1 0h0m0 9h0m0-12h0m0 17h0m0-12h0m1 2h0m1-9h0m0 0h0m0 3h0m0 6h0m1-8h0m0 4h0m0 5h0m0-2h0m0-6h0m0 1h0m1 4h0m0 3h0m0 4h0m0-13h0m0 14h0m0-8h0m0 7h0m1-2h0m0 2h0m0-12h0m0 11h0m1-7h0m0 1h0m0-1h0m0 1h0m0 7h0m0-4h0m1 1h0m0-11h0m0 0h0m0 4h0m0-5h0m0 3h0m1 8h0m0 6h0m0-7h0m0 4h0m0-4h0m1 6h0m0-11h0m0 12h0m0-16h0m0 0h0m1 9h0m0 1h0m0 3h0m1-12h0m0 6h0m0 9h0m1-10h0m0-3h0m0-4h0m0 11h0m0-7h0m0 2h0m1-4h0m0 0h0m0 3h0m0-4h0m1 5h0m0-1h0m1 7h0m1-5h0m1 10h0m0-16h0m0 3h0m1 0h0m0 2h0m0 2h0m0 6h0m1-7h0m0-4h0m0 2h0m0-3h0m1 1h0m0-2h0m0 0h0m8 0h0m6 2h0m-170 25h0m0 6h0m2 2h0m0-2h0m1-13h0m0 6h0m0 10h0m1-11h0m0 3h0m2-3h0m0 4h0m0 7h0m1-9h0m0-8h0m0 15h0m1-8h0m1-2h0m0-3h0m1 9h0m0-7h0m4 13h0m6-14h0m0 7h0m1 4h0m1-2h0m0-7h0m0 8h0m1 7h0m0-20h0m0 10h0m1-2h0m0 10h0m1-15h0m0 14h0m0-17h0m0 6h0m1-1h0m0 6h0m0-8h0m0 15h0m1-3h0m0-3h0m0-3h0m1-5h0m0 7h0m1 9h0m0-10h0m0-2h0m0-7h0m1 9h0m0 2h0m0-2h0m0 2h0m1-4h0m0 3h0m0-3h0m1-2h0m0 6h0m0 0h0m0-5h0m1 13h0m1-11h0m0 1h0m0 0h0m1-9h0m0 0h0m0 2h0m0 2h0m0 1h0m0 12h0m0 1h0m1-5h0m0-8h0m0 1h0m0-2h0m0 1h0m1 5h0m0-4h0m0 8h0m1 2h0m0-8h0m0-5h0m0-2h0m1 9h0m0 7h0m0-5h0m2 4h0m1 2h0m1-16h0m1 7h0m1-9h0m2 11h0m0-8h0m9-1h0m22-2h0m1 5h0m16-5h0m3 4h0m0 5h0m0 4h0m1 6h0m4-4h0m1-7h0m0 4h0m0-7h0m1 9h0m1-2h0m2 6h0m0-10h0m1-7h0m0-1h0m0 17h0m1-4h0m1-6h0m1-6h0m2 15h0m1-5h0m0 6h0m1-11h0m0-3h0m1 12h0m0-9h0m0 12h0m0 1h0m1-19h0m1 9h0m0-2h0m1 5h0m0 5h0m1-16h0m0 11h0m0-2h0m0 7h0m0-4h0m0-5h0m0 3h0m1-10h0m0 17h0m0-6h0m0 0h0m0-2h0m0 5h0m0-5h0m0-5h0m1 7h0m0-1h0m0-7h0m0 14h0m0-11h0m0 8h0m0-4h0m0 7h0m1-4h0m0-10h0m0 8h0m0-3h0m0 7h0m0 0h0m0 2h0m0-14h0m1 5h0m0-9h0m0 19h0m0-1h0m0-9h0m0-1h0m0-6h0m0 9h0m1 2h0m0 2h0m0-10h0m0-2h0m0 1h0m0 1h0m0 10h0m0-11h0m0-2h0m0 5h0m1 2h0m0 0h0m0 6h0m0-8h0m0-3h0m0 4h0m0 2h0m1 2h0m0-11h0m0 9h0m0-10h0m0 15h0m1-2h0m0-4h0m0-1h0m0-6h0m0 13h0m0 2h0m0-11h0m0-1h0m0 5h0m0 5h0m1-10h0m0-3h0m0 0h0m0 16h0m0-10h0m0 3h0m1-3h0m0 3h0m0-9h0m0-2h0m0 15h0m1-6h0m0-7h0m0-2h0m0 16h0m0-12h0m0 9h0m0-9h0m0 2h0m1 0h0m0-4h0m0 15h0m0-14h0m1-1h0m0 16h0m0-11h0m1-6h0m0 6h0m0 4h0m0-10h0m1 1h0m0 12h0m0 3h0m1-10h0m0 0h0m0-7h0m0 0h0m1 7h0m0-7h0m0 6h0m0-5h0m0 2h0m1 7h0m0-3h0m3-8h0m0 1h0m1 8h0m0-9h0m0 5h0m1-1h0m1-1h0m0 10h0m0-7h0m2-5h0m3 5h0m-154 20h0m2 14h0m1-19h0m2 7h0m1 8h0m0-8h0m0 8h0m0-2h0m1 1h0m0-9h0m0 1h0m0 11h0m1-4h0m1 4h0m0-8h0m0 5h0m0-8h0m1 1h0m0-4h0m0 3h0m0 12h0m0-17h0m1 16h0m0-14h0m0 1h0m1 11h0m0-8h0m0-7h0m1 16h0m0-4h0m0-10h0m0 5h0m0 7h0m0-14h0m0 8h0m1-2h0m1 2h0m0-8h0m1 0h0m0 6h0m1 0h0m0-2h0m2 2h0m4-2h0m0-4h0m2 6h0m1 0h0m1 3h0m1 4h0m0-5h0m0-5h0m2 14h0m1-13h0m0-2h0m1 13h0m0-6h0m0 0h0m1-7h0m0-1h0m0 14h0m0 0h0m0-7h0m0 3h0m0-9h0m1 1h0m0 3h0m0 3h0m0 1h0m0-2h0m1-6h0m1 7h0m0-1h0m0 8h0m0-4h0m0-5h0m1 1h0m0 5h0m0-2h0m0-2h0m1 5h0m0-15h0m0 5h0m0 8h0m0 0h0m0 3h0m0-6h0m0 6h0m0-6h0m0-9h0m1 7h0m0 0h0m0 2h0m0-9h0m0 3h0m0 2h0m0 13h0m0-7h0m1-12h0m0 17h0m0 1h0m1-10h0m2-2h0m0-5h0m1 12h0m0-11h0m0-1h0m0 1h0m4 7h0m1 1h0m2 7h0m15-15h0m8 0h0m6 16h0m3 2h0m3-4h0m3-4h0m5 2h0m3 0h0m1-1h0m1 6h0m0 0h0m1-16h0m1 3h0m1-5h0m0 0h0m1 6h0m0-6h0m0 11h0m2 5h0m3-1h0m1-5h0m0 1h0m0-3h0m0 0h0m1 10h0m0-1h0m0-10h0m0-7h0m0 13h0m1-8h0m0 12h0m1-5h0m0 4h0m1-14h0m1 14h0m0-1h0m0-1h0m0-6h0m1 4h0m0-8h0m0 9h0m0 2h0m1 4h0m0-8h0m1 6h0m0-16h0m0 13h0m0 2h0m0-11h0m0-2h0m1 12h0m0-6h0m0-7h0m0 4h0m0 13h0m1 0h0m0-5h0m0-10h0m0 8h0m0-3h0m1-7h0m0 7h0m0-7h0m0-1h0m0 10h0m0 6h0m1 0h0m0-4h0m0-8h0m0-4h0m0 6h0m0 9h0m0 1h0m0 2h0m1-17h0m0 12h0m0-1h0m0-10h0m0 15h0m0-4h0m1 3h0m0-5h0m0-10h0m0 4h0m0-1h0m0 7h0m0-9h0m0 4h0m1 7h0m0-14h0m0 10h0m0-9h0m0 15h0m0 2h0m0-2h0m1-8h0m0 11h0m0-13h0m0 10h0m1 3h0m0-15h0m0 10h0m0-10h0m0 12h0m1-14h0m0 6h0m0 10h0m0-9h0m0 1h0m0-1h0m0 3h0m1-3h0m0-7h0m0 13h0m0 1h0m1-14h0m0 15h0m0-13h0m0 9h0m0-6h0m0 6h0m1-11h0m0 7h0m1-1h0m0-9h0m0 9h0m0-5h0m1 0h0m0 8h0m1 5h0m0-14h0m1 1h0m3 5h0m1-6h0m0 6h0m2-7h0m0 16h0m2-11h0m2 3h0m1-5h0m1 4h0m0 4h0m0 5h0m1-1h0m0-11h0m4-5h0m-146 21h0m1 6h0m1-5h0m0 11h0m0-10h0m1 10h0m0-3h0m1 2h0m0-7h0m0 3h0m2 5h0m0 3h0m0-16h0m0 17h0m0-4h0m1 0h0m1-2h0m1 3h0m1-12h0m1 7h0m0 4h0m0 4h0m7-2h0m5-2h0m0-3h0m0-9h0m0 7h0m1-7h0m0 16h0m1 0h0m0-1h0m0-12h0m0-1h0m0 8h0m0 3h0m2-3h0m0-3h0m0-9h0m0 18h0m0-12h0m1 8h0m0 1h0m0-2h0m0-1h0m0 1h0m0-8h0m0-1h0m0 4h0m0 4h0m0-1h0m0-3h0m0 0h0m1 2h0m0 2h0m0 4h0m0-10h0m1 4h0m0 2h0m0 0h0m1-4h0m0 2h0m1-1h0m1 2h0m0-8h0m1 2h0m0 13h0m1-5h0m0-9h0m0 16h0m1-18h0m2 1h0m0 5h0m4 6h0m0-7h0m3 4h0m2 2h0m29 6h0m3-3h0m0-1h0m0 4h0m2-6h0m2 4h0m2-10h0m2 7h0m1-12h0m0 16h0m3-12h0m1 10h0m0-6h0m0 8h0m0-12h0m1 14h0m0-18h0m1 1h0m0 6h0m0-7h0m1 16h0m0-2h0m2-9h0m0 5h0m0 5h0m0-7h0m0 6h0m1 3h0m0-6h0m1-4h0m1-2h0m0-3h0m0 16h0m0-10h0m0 6h0m2 2h0m0-3h0m0 1h0m0 2h0m0-7h0m0-8h0m0 14h0m0-3h0m1-2h0m0-5h0m0 11h0m0-6h0m1 3h0m0-12h0m0 10h0m1 4h0m0-2h0m0-5h0m0 3h0m0 0h0m0-7h0m0 10h0m1-1h0m0-12h0m0 9h0m0 0h0m0 4h0m0-9h0m0 11h0m0-17h0m0 9h0m0-7h0m1 2h0m0 15h0m0-5h0m0-11h0m0 13h0m1-16h0m0 5h0m0 13h0m0-3h0m0 0h0m1 0h0m0 0h0m0-9h0m0-3h0m0 11h0m0-14h0m1 6h0m0 8h0m0-10h0m0-2h0m0 11h0m0 6h0m0-10h0m1-8h0m0 12h0m0-3h0m0-3h0m0 0h0m0 7h0m1-14h0m0 14h0m0-15h0m0 9h0m0 9h0m1-10h0m0-1h0m0-5h0m0 9h0m0-11h0m0 10h0m0-6h0m0 11h0m1-10h0m0-3h0m0 12h0m0 0h0m0-11h0m1 5h0m0 2h0m0 7h0m0-13h0m0 3h0m1-5h0m0 11h0m0-2h0m1 6h0m0 0h0m0 3h0m0-20h0m1 13h0m0 1h0m2-14h0m0 0h0m1 2h0m0 4h0m0-4h0m1 7h0m1-7h0m0 6h0m1 2h0m1-10h0m2 11h0m4 7h0m0-15h0m1 15h0m-115 7h0m16-3h0m6 10h0m20 0h0m11-2h0m1 5h0m3-1h0m3-1h0m1-2h0m0 2h0m0 2h0m1-14h0m1 16h0m0-2h0m3-8h0m1 7h0m1-12h0m2 0h0m1 1h0m0 11h0m1-9h0m0 1h0m1 13h0m0-4h0m1-9h0m0-3h0m0-3h0m1 2h0m1 18h0m0-1h0m0 1h0m1-6h0m0 5h0m1-5h0m0-7h0m0-1h0m0 2h0m0 7h0m1-5h0m0 1h0m0-10h0m0 11h0m1-10h0m0 9h0m1-4h0m0 8h0m0-2h0m0 1h0m0 4h0m0-2h0m0-9h0m1-2h0m0-3h0m1 10h0m0-8h0m0 4h0m0 0h0m0 10h0m0-9h0m1-5h0m0-1h0m0 2h0m1 2h0m0 7h0m1-2h0m0-6h0m0 10h0m0-11h0m1 4h0m0 4h0m0-2h0m0-4h0m0-1h0m0 12h0m0-10h0m0 9h0m0-16h0m0 13h0m0 2h0m0-6h0m0 1h0m1-2h0m0 9h0m0-12h0m0 7h0m0-12h0m0 13h0m1-3h0m0 8h0m0-17h0m0 3h0m0 14h0m0-16h0m0-2h0m0 7h0m1 8h0m0-2h0m0-2h0m0-8h0m0 6h0m0-10h0m1 3h0m0 2h0m0-4h0m0 18h0m0-6h0m0-12h0m1 3h0m0 5h0m0 5h0m0-13h0m0 0h0m1 18h0m0-19h0m0 6h0m0 1h0m1 3h0m0-8h0m0-1h0m1 0h0m0 10h0m1-4h0m0 11h0m0-17h0m0-1h0m0 4h0m1-1h0m0-1h0m0 16h0m1-7h0m1-9h0m1 4h0m1 8h0m3-10h0m6 5h0m3-2h0m-60 22h0m0-5h0m9 0h0m0 3h0m1-4h0m2 8h0m1-10h0m1 2h0m1 4h0m3-4h0m1 0h0m0 4h0m0-4h0m1 5h0m0-4h0m1 0h0m0-2h0m1 3h0m0 3h0m1 2h0m0-3h0m0 1h0m0 2h0m0-8h0m1 7h0m0-8h0m0 8h0m0-7h0m1-1h0m0 9h0m0-4h0m1-1h0m0 1h0m0 0h0m1-3h0m0 5h0m0-7h0m0 7h0m0-3h0m1-4h0m0 0h0m1-1h0m0 6h0m1-2h0m0-1h0m0 6h0m0-4h0m0-1h0m0 4h0m1 0h0m0 1h0m0-3h0m1 2h0m0-1h0m1-1h0m1 5h0m0-8h0m1 2h0m0-3h0m1-1h0m0 8h0m1-3h0m1-4h0m0 4h0m0 0h0m1 2h0m2 1h0m6-3h0m1 0h0m1 2h0m6-3h0" stroke="#bfbf00" stroke-width="3.6" stroke-linecap="round" fill="none"/>
<path d="M396.6 1279.7l4.6 4.6m0-4.6l-4.6 4.6M396.8 1310.6l4.6 4.6m0-4.6l-4.6 4.6M875.0 654.7l4.6 4.6m0-4.6l-4.6 4.6M862.9 662.3l4.6 4.6m0-4.6l-4.6 4.6M835.4 738.9l4.6 4.6m0-4.6l-4.6 4.6M869.1 742.3l4.6 4.6m0-4.6l-4.6 4.6M885.7 740.2l4.6 4.6m0-4.6l-4.6 4.6M894.2 740.2l4.6 4.6m0-4.6l-4.6 4.6M854.8 759.4l4.6 4.6m0-4.6l-4.6 4.6M862.9 766.2l4.6 4.6m0-4.6l-4.6 4.6M888.9 794.4l4.6 4.6m0-4.6l-4.6 4.6M914.9 799.3l4.6 4.6m0-4.6l-4.6 4.6M860.1 809.5l4.6 4.6m0-4.6l-4.6 4.6M818.7 825.1l4.6 4.6m0-4.6l-4.6 4.6M825.1 823.4l4.6 4.6m0-4.6l-4.6 4.6M837.5 824.5l4.6 4.6m0-4.6l-4.6 4.6M815.7 832.8l4.6 4.6m0-4.6l-4.6 4.6M855.2 850.7l4.6 4.6m0-4.6l-4.6 4.6M864.4 849.4l4.6 4.6m0-4.6l-4.6 4.6M847.3 865.4l4.6 4.6m0-4.6l-4.6 4.6M824.9 870.1l4.6 4.6m0-4.6l-4.6 4.6M769.0 898.5l4.6 4.6m0-4.6l-4.6 4.6M786.7 910.7l4.6 4.6m0-4.6l-4.6 4.6M817.6 912.6l4.6 4.6m0-4.6l-4.6 4.6M877.2 906.1l4.6 4.6m0-4.6l-4.6 4.6M896.4 907.0l4.6 4.6m0-4.6l-4.6 4.6M668.1 981.7l4.6 4.6m0-4.6l-4.6 4.6M753.4 966.3l4.6 4.6m0-4.6l-4.6 4.6M725.7 997.9l4.6 4.6m0-4.6l-4.6 4.6M732.1 996.6l4.6 4.6m0-4.6l-4.6 4.6M754.9 1022.2l4.6 4.6m0-4.6l-4.6 4.6M615.2 1051.0l4.6 4.6m0-4.6l-4.6 4.6M637.6 1056.4l4.6 4.6m0-4.6l-4.6 4.6M743.4 1054.9l4.6 4.6m0-4.6l-4.6 4.6M740.6 1061.7l4.6 4.6m0-4.6l-4.6 4.6M720.6 1082.2l4.6 4.6m0-4.6l-4.6 4.6M727.6 1085.6l4.6 4.6m0-4.6l-4.6 4.6M666.6 1091.1l4.6 4.6m0-4.6l-4.6 4.6M706.9 1113.5l4.6 4.6m0-4.6l-4.6 4.6M729.5 1121.4l4.6 4.6m0-4.6l-4.6 4.6M742.3 1125.7l4.6 4.6m0-4.6l-4.6 4.6M719.3 1127.8l4.6 4.6m0-4.6l-4.6 4.6M722.5 1128.9l4.6 4.6m0-4.6l-4.6 4.6M698.8 1141.7l4.6 4.6m0-4.6l-4.6 4.6M730.4 1142.1l4.6 4.6m0-4.6l-4.6 4.6M698.4 1150.2l4.6 4.6m0-4.6l-4.6 4.6M666.6 1158.1l4.6 4.6m0-4.6l-4.6 4.6M744.0 1156.2l4.6 4.6m0-4.6l-4.6 4.6M741.9 1163.5l4.6 4.6m0-4.6l-4.6 4.6M753.9 1154.1l4.6 4.6m0-4.6l-4.6 4.6M753.4 1170.5l4.6 4.6m0-4.6l-4.6 4.6M661.7 1173.7l4.6 4.6m0-4.6l-4.6 4.6M712.5 1179.0l4.6 4.6m0-4.6l-4.6 4.6M703.3 1185.7l4.6 4.6m0-4.6l-4.6 4.6M720.4 1183.3l4.6 4.6m0-4.6l-4.6 4.6M733.0 1180.7l4.6 4.6m0-4.6l-4.6 4.6M653.6 1188.2l4.6 4.6m0-4.6l-4.6 4.6M694.3 1190.8l4.6 4.6m0-4.6l-4.6 4.6M671.9 1195.0l4.6 4.6m0-4.6l-4.6 4.6M647.2 1204.0l4.6 4.6m0-4.6l-4.6 4.6M639.9 1217.9l4.6 4.6m0-4.6l-4.6 4.6M716.1 1220.0l4.6 4.6m0-4.6l-4.6 4.6M632.3 1229.6l4.6 4.6m0-4.6l-4.6 4.6M663.2 1235.6l4.6 4.6m0-4.6l-4.6 4.6M692.6 1230.9l4.6 4.6m0-4.6l-4.6 4.6M526.4 1234.9l4.6 4.6m0-4.6l-4.6 4.6M554.0 1190.8l4.6 4.6m0-4.6l-4.6 4.6M499.6 1272.9l4.6 4.6m0-4.6l-4.6 4.6M610.9 1152.8l4.6 4.6m0-4.6l-4.6 4.6M785.9 927.3l4.6 4.6m0-4.6l-4.6 4.6M789.7 938.0l4.6 4.6m0-4.6l-4.6 4.6M775.6 939.7l4.6 4.6m0-4.6l-4.6 4.6M801.4 938.0l4.6 4.6m0-4.6l-4.6 4.6M830.2 926.2l4.6 4.6m0-4.6l-4.6 4.6M839.4 926.7l4.6 4.6m0-4.6l-4.6 4.6M827.0 951.8l4.6 4.6m0-4.6l-4.6 4.6M824.3 948.2l4.6 4.6m0-4.6l-4.6 4.6M834.5 943.9l4.6 4.6m0-4.6l-4.6 4.6M844.5 942.9l4.6 4.6m0-4.6l-4.6 4.6M913.0 929.9l4.6 4.6m0-4.6l-4.6 4.6M940.7 951.4l4.6 4.6m0-4.6l-4.6 4.6M1010.5 940.3l4.6 4.6m0-4.6l-4.6 4.6M1010.5 957.4l4.6 4.6m0-4.6l-4.6 4.6M842.0 970.0l4.6 4.6m0-4.6l-4.6 4.6M862.9 970.0l4.6 4.6m0-4.6l-4.6 4.6M891.7 968.0l4.6 4.6m0-4.6l-4.6 4.6M815.7 979.1l4.6 4.6m0-4.6l-4.6 4.6M817.9 981.7l4.6 4.6m0-4.6l-4.6 4.6M827.5 984.3l4.6 4.6m0-4.6l-4.6 4.6M834.5 986.0l4.6 4.6m0-4.6l-4.6 4.6M949.7 968.0l4.6 4.6m0-4.6l-4.6 4.6M940.1 972.7l4.6 4.6m0-4.6l-4.6 4.6M968.9 961.9l4.6 4.6m0-4.6l-4.6 4.6M1027.6 966.3l4.6 4.6m0-4.6l-4.6 4.6M798.2 1001.3l4.6 4.6m0-4.6l-4.6 4.6M834.1 1008.8l4.6 4.6m0-4.6l-4.6 4.6M766.2 1009.9l4.6 4.6m0-4.6l-4.6 4.6M824.9 1014.1l4.6 4.6m0-4.6l-4.6 4.6M820.0 1022.9l4.6 4.6m0-4.6l-4.6 4.6M840.5 1025.0l4.6 4.6m0-4.6l-4.6 4.6M887.0 1033.5l4.6 4.6m0-4.6l-4.6 4.6M785.4 1037.2l4.6 4.6m0-4.6l-4.6 4.6M802.5 1037.8l4.6 4.6m0-4.6l-4.6 4.6M828.5 1044.0l4.6 4.6m0-4.6l-4.6 4.6M784.8 1047.8l4.6 4.6m0-4.6l-4.6 4.6M762.0 1058.3l4.6 4.6m0-4.6l-4.6 4.6M771.4 1061.9l4.6 4.6m0-4.6l-4.6 4.6M769.4 1068.7l4.6 4.6m0-4.6l-4.6 4.6M776.5 1074.5l4.6 4.6m0-4.6l-4.6 4.6M805.1 1065.5l4.6 4.6m0-4.6l-4.6 4.6M820.8 1062.3l4.6 4.6m0-4.6l-4.6 4.6M838.8 1067.0l4.6 4.6m0-4.6l-4.6 4.6M840.0 1076.6l4.6 4.6m0-4.6l-4.6 4.6M800.8 1084.5l4.6 4.6m0-4.6l-4.6 4.6M781.2 1095.2l4.6 4.6m0-4.6l-4.6 4.6M770.9 1099.5l4.6 4.6m0-4.6l-4.6 4.6M767.3 1107.1l4.6 4.6m0-4.6l-4.6 4.6M817.7 1111.0l4.6 4.6m0-4.6l-4.6 4.6M795.2 1116.1l4.6 4.6m0-4.6l-4.6 4.6M794.0 1123.6l4.6 4.6m0-4.6l-4.6 4.6M806.8 1125.7l4.6 4.6m0-4.6l-4.6 4.6M764.1 1128.3l4.6 4.6m0-4.6l-4.6 4.6M780.7 1138.1l4.6 4.6m0-4.6l-4.6 4.6M823.2 1142.1l4.6 4.6m0-4.6l-4.6 4.6M823.2 1157.1l4.6 4.6m0-4.6l-4.6 4.6M773.1 1171.1l4.6 4.6m0-4.6l-4.6 4.6M780.7 1171.1l4.6 4.6m0-4.6l-4.6 4.6M811.0 1178.0l4.6 4.6m0-4.6l-4.6 4.6M771.8 1189.9l4.6 4.6m0-4.6l-4.6 4.6M807.6 1200.8l4.6 4.6m0-4.6l-4.6 4.6M767.5 1206.8l4.6 4.6m0-4.6l-4.6 4.6M767.5 1213.2l4.6 4.6m0-4.6l-4.6 4.6M800.4 1212.1l4.6 4.6m0-4.6l-4.6 4.6M842.4 1128.3l4.6 4.6m0-4.6l-4.6 4.6M868.2 1089.4l4.6 4.6m0-4.6l-4.6 4.6M892.7 1087.7l4.6 4.6m0-4.6l-4.6 4.6M896.4 1106.9l4.6 4.6m0-4.6l-4.6 4.6M872.9 1160.5l4.6 4.6m0-4.6l-4.6 4.6M860.5 1198.4l4.6 4.6m0-4.6l-4.6 4.6M878.7 1193.5l4.6 4.6m0-4.6l-4.6 4.6M884.8 1238.8l4.6 4.6m0-4.6l-4.6 4.6M912.4 1137.7l4.6 4.6m0-4.6l-4.6 4.6M927.3 1143.4l4.6 4.6m0-4.6l-4.6 4.6M945.4 1119.9l4.6 4.6m0-4.6l-4.6 4.6M943.3 1188.8l4.6 4.6m0-4.6l-4.6 4.6M958.7 1205.7l4.6 4.6m0-4.6l-4.6 4.6M913.0 1070.7l4.6 4.6m0-4.6l-4.6 4.6M926.9 1069.8l4.6 4.6m0-4.6l-4.6 4.6M932.6 1069.8l4.6 4.6m0-4.6l-4.6 4.6M981.3 1039.7l4.6 4.6m0-4.6l-4.6 4.6M993.0 1038.4l4.6 4.6m0-4.6l-4.6 4.6M988.1 1087.3l4.6 4.6m0-4.6l-4.6 4.6M988.1 1116.1l4.6 4.6m0-4.6l-4.6 4.6M996.2 1131.7l4.6 4.6m0-4.6l-4.6 4.6M997.7 1214.4l4.6 4.6m0-4.6l-4.6 4.6M1023.3 1231.7l4.6 4.6m0-4.6l-4.6 4.6M1006.9 1072.8l4.6 4.6m0-4.6l-4.6 4.6M997.5 1064.9l4.6 4.6m0-4.6l-4.6 4.6M1013.7 1003.0l4.6 4.6m0-4.6l-4.6 4.6M1014.8 1011.6l4.6 4.6m0-4.6l-4.6 4.6M1041.4 1006.2l4.6 4.6m0-4.6l-4.6 4.6M1037.8 1017.3l4.6 4.6m0-4.6l-4.6 4.6M1027.8 1020.1l4.6 4.6m0-4.6l-4.6 4.6M1029.9 1028.2l4.6 4.6m0-4.6l-4.6 4.6M1033.8 1034.4l4.6 4.6m0-4.6l-4.6 4.6M1041.4 1041.0l4.6 4.6m0-4.6l-4.6 4.6M1053.2 1005.6l4.6 4.6m0-4.6l-4.6 4.6M1056.4 1012.6l4.6 4.6m0-4.6l-4.6 4.6M1048.9 1015.4l4.6 4.6m0-4.6l-4.6 4.6M1069.6 982.8l4.6 4.6m0-4.6l-4.6 4.6M1069.6 1008.4l4.6 4.6m0-4.6l-4.6 4.6M1069.6 1015.8l4.6 4.6m0-4.6l-4.6 4.6M1067.0 1025.4l4.6 4.6m0-4.6l-4.6 4.6M1075.6 1029.1l4.6 4.6m0-4.6l-4.6 4.6M1060.6 1078.8l4.6 4.6m0-4.6l-4.6 4.6M1057.4 1163.0l4.6 4.6m0-4.6l-4.6 4.6M1062.8 1159.8l4.6 4.6m0-4.6l-4.6 4.6M1074.5 1172.6l4.6 4.6m0-4.6l-4.6 4.6M1076.2 1099.5l4.6 4.6m0-4.6l-4.6 4.6M1127.2 713.7l4.6 4.6m0-4.6l-4.6 4.6M1093.3 730.8l4.6 4.6m0-4.6l-4.6 4.6M1110.8 731.8l4.6 4.6m0-4.6l-4.6 4.6M1188.4 729.7l4.6 4.6m0-4.6l-4.6 4.6M1156.6 751.5l4.6 4.6m0-4.6l-4.6 4.6M1190.1 751.5l4.6 4.6m0-4.6l-4.6 4.6M1211.7 751.5l4.6 4.6m0-4.6l-4.6 4.6M1170.5 757.9l4.6 4.6m0-4.6l-4.6 4.6M1115.0 757.9l4.6 4.6m0-4.6l-4.6 4.6M1099.0 762.8l4.6 4.6m0-4.6l-4.6 4.6M1137.0 756.4l4.6 4.6m0-4.6l-4.6 4.6M1299.1 760.8l4.6 4.6m0-4.6l-4.6 4.6M1084.1 780.9l4.6 4.6m0-4.6l-4.6 4.6M1089.4 793.1l4.6 4.6m0-4.6l-4.6 4.6M1114.0 793.1l4.6 4.6m0-4.6l-4.6 4.6M1117.2 796.3l4.6 4.6m0-4.6l-4.6 4.6M1113.1 801.2l4.6 4.6m0-4.6l-4.6 4.6M1172.2 788.4l4.6 4.6m0-4.6l-4.6 4.6M1324.1 789.0l4.6 4.6m0-4.6l-4.6 4.6M1204.6 806.1l4.6 4.6m0-4.6l-4.6 4.6M1226.4 808.6l4.6 4.6m0-4.6l-4.6 4.6M1091.1 822.9l4.6 4.6m0-4.6l-4.6 4.6M1137.0 833.2l4.6 4.6m0-4.6l-4.6 4.6M1152.8 830.0l4.6 4.6m0-4.6l-4.6 4.6M1158.1 836.8l4.6 4.6m0-4.6l-4.6 4.6M1146.0 841.3l4.6 4.6m0-4.6l-4.6 4.6M1199.1 840.0l4.6 4.6m0-4.6l-4.6 4.6M1278.7 835.1l4.6 4.6m0-4.6l-4.6 4.6M1118.9 846.2l4.6 4.6m0-4.6l-4.6 4.6M1174.3 851.3l4.6 4.6m0-4.6l-4.6 4.6M1095.8 866.2l4.6 4.6m0-4.6l-4.6 4.6M1116.1 867.7l4.6 4.6m0-4.6l-4.6 4.6M1121.4 873.1l4.6 4.6m0-4.6l-4.6 4.6M1089.4 874.3l4.6 4.6m0-4.6l-4.6 4.6M1156.2 875.2l4.6 4.6m0-4.6l-4.6 4.6M1136.8 892.9l4.6 4.6m0-4.6l-4.6 4.6M1221.5 895.0l4.6 4.6m0-4.6l-4.6 4.6M1303.2 900.4l4.6 4.6m0-4.6l-4.6 4.6M1109.7 904.0l4.6 4.6m0-4.6l-4.6 4.6M1117.2 904.0l4.6 4.6m0-4.6l-4.6 4.6M1117.2 910.6l4.6 4.6m0-4.6l-4.6 4.6M1132.1 903.6l4.6 4.6m0-4.6l-4.6 4.6M1154.9 911.5l4.6 4.6m0-4.6l-4.6 4.6M1233.7 908.3l4.6 4.6m0-4.6l-4.6 4.6M1134.0 918.7l4.6 4.6m0-4.6l-4.6 4.6M1171.8 926.6l4.6 4.6m0-4.6l-4.6 4.6M1248.4 918.5l4.6 4.6m0-4.6l-4.6 4.6M1251.6 924.5l4.6 4.6m0-4.6l-4.6 4.6M1109.3 933.0l4.6 4.6m0-4.6l-4.6 4.6M1138.3 934.5l4.6 4.6m0-4.6l-4.6 4.6M1106.5 952.0l4.6 4.6m0-4.6l-4.6 4.6M1247.7 948.4l4.6 4.6m0-4.6l-4.6 4.6M1099.0 962.2l4.6 4.6m0-4.6l-4.6 4.6M1113.5 963.3l4.6 4.6m0-4.6l-4.6 4.6M1182.2 964.4l4.6 4.6m0-4.6l-4.6 4.6M1276.7 956.9l4.6 4.6m0-4.6l-4.6 4.6M1283.6 975.7l4.6 4.6m0-4.6l-4.6 4.6M1287.8 975.7l4.6 4.6m0-4.6l-4.6 4.6M1105.4 988.3l4.6 4.6m0-4.6l-4.6 4.6M1165.6 998.1l4.6 4.6m0-4.6l-4.6 4.6M1201.0 1000.6l4.6 4.6m0-4.6l-4.6 4.6M1210.6 998.1l4.6 4.6m0-4.6l-4.6 4.6M1298.5 999.1l4.6 4.6m0-4.6l-4.6 4.6M1089.0 1012.8l4.6 4.6m0-4.6l-4.6 4.6M1143.8 1030.8l4.6 4.6m0-4.6l-4.6 4.6M1180.5 1028.6l4.6 4.6m0-4.6l-4.6 4.6M1214.2 1059.6l4.6 4.6m0-4.6l-4.6 4.6M1159.8 1063.8l4.6 4.6m0-4.6l-4.6 4.6M1168.4 1067.0l4.6 4.6m0-4.6l-4.6 4.6M1230.7 1070.2l4.6 4.6m0-4.6l-4.6 4.6M1248.4 1080.9l4.6 4.6m0-4.6l-4.6 4.6M1106.5 1089.0l4.6 4.6m0-4.6l-4.6 4.6M1150.0 1096.3l4.6 4.6m0-4.6l-4.6 4.6M1087.1 1125.7l4.6 4.6m0-4.6l-4.6 4.6M1095.4 1132.1l4.6 4.6m0-4.6l-4.6 4.6M1151.1 1129.3l4.6 4.6m0-4.6l-4.6 4.6M1206.6 1153.0l4.6 4.6m0-4.6l-4.6 4.6M1160.9 1157.7l4.6 4.6m0-4.6l-4.6 4.6M982.8 622.2l4.6 4.6m0-4.6l-4.6 4.6M1092.2 659.1l4.6 4.6m0-4.6l-4.6 4.6M928.4 648.3l4.6 4.6m0-4.6l-4.6 4.6M941.2 670.2l4.6 4.6m0-4.6l-4.6 4.6M923.0 677.1l4.6 4.6m0-4.6l-4.6 4.6M947.6 685.2l4.6 4.6m0-4.6l-4.6 4.6M1042.5 686.9l4.6 4.6m0-4.6l-4.6 4.6M984.9 717.2l4.6 4.6m0-4.6l-4.6 4.6M958.2 719.3l4.6 4.6m0-4.6l-4.6 4.6M1013.7 709.3l4.6 4.6m0-4.6l-4.6 4.6M1026.5 716.3l4.6 4.6m0-4.6l-4.6 4.6M942.7 729.3l4.6 4.6m0-4.6l-4.6 4.6M1020.1 746.4l4.6 4.6m0-4.6l-4.6 4.6M944.8 749.2l4.6 4.6m0-4.6l-4.6 4.6M993.4 757.3l4.6 4.6m0-4.6l-4.6 4.6M922.0 775.8l4.6 4.6m0-4.6l-4.6 4.6M962.5 781.6l4.6 4.6m0-4.6l-4.6 4.6M961.4 792.3l4.6 4.6m0-4.6l-4.6 4.6M961.4 804.2l4.6 4.6m0-4.6l-4.6 4.6M978.5 791.2l4.6 4.6m0-4.6l-4.6 4.6M1012.6 785.4l4.6 4.6m0-4.6l-4.6 4.6M1016.9 786.1l4.6 4.6m0-4.6l-4.6 4.6M1030.1 778.0l4.6 4.6m0-4.6l-4.6 4.6M1034.4 789.3l4.6 4.6m0-4.6l-4.6 4.6M1046.6 802.5l4.6 4.6m0-4.6l-4.6 4.6M1050.0 804.6l4.6 4.6m0-4.6l-4.6 4.6M1070.2 791.8l4.6 4.6m0-4.6l-4.6 4.6M1010.5 811.5l4.6 4.6m0-4.6l-4.6 4.6M1060.6 811.7l4.6 4.6m0-4.6l-4.6 4.6M1034.0 824.9l4.6 4.6m0-4.6l-4.6 4.6M1007.3 830.9l4.6 4.6m0-4.6l-4.6 4.6M965.7 829.8l4.6 4.6m0-4.6l-4.6 4.6M941.2 830.2l4.6 4.6m0-4.6l-4.6 4.6M977.4 842.0l4.6 4.6m0-4.6l-4.6 4.6M1028.2 862.2l4.6 4.6m0-4.6l-4.6 4.6M1052.1 858.0l4.6 4.6m0-4.6l-4.6 4.6M1067.0 864.4l4.6 4.6m0-4.6l-4.6 4.6M1039.3 883.6l4.6 4.6m0-4.6l-4.6 4.6M1013.1 888.3l4.6 4.6m0-4.6l-4.6 4.6M1013.1 444.1l4.6 4.6m0-4.6l-4.6 4.6M1044.2 551.4l4.6 4.6m0-4.6l-4.6 4.6M1103.3 571.7l4.6 4.6m0-4.6l-4.6 4.6M1116.7 588.7l4.6 4.6m0-4.6l-4.6 4.6" stroke="#0000ff" stroke-width="3.6" stroke-linecap="round" fill="none"/>
<path d="M398.9 1282h0m0.2 30.9h0m478.2-655.9h0m-12.1 7.6h0m-27.5 76.6h0m33.7 3.4h0m16.6-2.1h0m8.5 0.0h0m-39.4 19.2h0m8.1 6.8h0m26.0 28.2h0m26.0 4.9h0m-54.8 10.2h0m-41.4 15.6h0m6.4-1.7h0m12.4 1.1h0m-21.8 8.3h0m39.5 17.9h0m9.2-1.3h0m-17.1 16.0h0m-22.4 4.7h0m-55.9 28.4h0m17.7 12.2h0m30.9 1.9h0m59.6-6.5h0m19.2 0.9h0m-228.3 74.7h0m85.3-15.4h0m-27.7 31.6h0m6.4-1.3h0m22.8 25.6h0m-139.7 28.8h0m22.4 5.4h0m105.8-1.5h0m-2.8 6.8h0m-20.0 20.5h0m7.0 3.4h0m-61.0 5.5h0m40.3 22.4h0m22.6 7.9h0m12.8 4.3h0m-23.0 2.1h0m3.2 1.1h0m-23.7 12.8h0m31.6 0.4h0m-32.0 8.1h0m-31.8 7.9h0m77.4-1.9h0m-2.1 7.3h0m12.0-9.4h0m-0.5 16.4h0m-91.7 3.2h0m50.8 5.3h0m-9.2 6.7h0m17.1-2.4h0m12.6-2.6h0m-79.4 7.5h0m40.7 2.6h0m-22.4 4.2h0m-24.7 9.0h0m-7.3 13.9h0m76.2 2.1h0m-83.8 9.6h0m30.9 6.0h0m29.4-4.7h0m-166.2 4.0h0m27.6-44.1h0m-54.4 82.1h0m111.3-120.1h0m175.0-225.5h0m3.8 10.7h0m-14.1 1.7h0m25.8-1.7h0m28.8-11.8h0m9.2 0.5h0m-12.4 25.1h0m-2.7-3.6h0m10.2-4.3h0m10.0-1.0h0m68.5-13.0h0m27.7 21.5h0m69.8-11.1h0m0.0 17.1h0m-168.5 12.6h0m20.9 0.0h0m28.8-2.0h0m-76 11.1h0m2.2 2.6h0m9.6 2.6h0m7.0 1.7h0m115.2-18.0h0m-9.6 4.7h0m28.8-10.8h0m58.7 4.4h0m-229.4 35.0h0m35.9 7.5h0m-67.9 1.1h0m58.7 4.2h0m-4.9 8.8h0m20.5 2.1h0m46.5 8.5h0m-101.6 3.7h0m17.1 0.6h0m26.0 6.2h0m-43.7 3.8h0m-22.8 10.5h0m9.4 3.6h0m-2.0 6.8h0m7.1 5.8h0m28.6-9.0h0m15.7-3.2h0m18.0 4.7h0m1.2 9.6h0m-39.2 7.9h0m-19.6 10.7h0m-10.3 4.3h0m-3.6 7.6h0m50.4 3.9h0m-22.5 5.1h0m-1.2 7.5h0m12.8 2.1h0m-42.7 2.6h0m16.6 9.8h0m42.5 4.0h0m0.0 15.0h0m-50.1 14.0h0m7.6 0.0h0m30.3 6.9h0m-39.2 11.9h0m35.8 10.9h0m-40.1 6.0h0m0.0 6.4h0m32.9-1.1h0m42.0-83.8h0m25.8-38.9h0m24.5-1.7h0m3.7 19.2h0m-23.5 53.6h0m-12.4 37.9h0m18.2-4.9h0m6.1 45.3h0m27.6-101.1h0m14.9 5.7h0m18.1-23.5h0m-2.1 68.9h0m15.4 16.9h0m-45.7-135h0m13.9-0.9h0m5.7 0.0h0m48.7-30.1h0m11.7-1.3h0m-4.9 48.9h0m0.0 28.8h0m8.1 15.6h0m1.5 82.7h0m25.6 17.3h0m-16.4-158.9h0m-9.4-7.9h0m16.2-61.9h0m1.1 8.6h0m26.6-5.4h0m-3.6 11.1h0m-10.0 2.8h0m2.1 8.1h0m3.9 6.2h0m7.6 6.6h0m11.8-35.4h0m3.2 7.0h0m-7.5 2.8h0m20.7-32.6h0m0.0 25.6h0m0.0 7.4h0m-2.6 9.6h0m8.6 3.7h0m-15.0 49.7h0m-3.2 84.2h0m5.4-3.2h0m11.7 12.8h0m1.7-73.1h0m51.0-385.8h0m-33.9 17.1h0m17.5 1.0h0m77.6-2.1h0m-31.8 21.8h0m33.5 0.0h0m21.6 0.0h0m-41.2 6.4h0m-55.5 0.0h0m-16.0 4.9h0m38.0-6.4h0m162.1 4.4h0m-215.0 20.1h0m5.3 12.2h0m24.6 0.0h0m3.2 3.2h0m-4.1 4.9h0m59.1-12.8h0m151.9 0.6h0m-119.5 17.1h0m21.8 2.5h0m-135.3 14.3h0m45.9 10.3h0m15.8-3.2h0m5.3 6.8h0m-12.1 4.5h0m53.1-1.3h0m79.6-4.9h0m-159.8 11.1h0m55.4 5.1h0m-78.5 14.9h0m20.3 1.5h0m5.3 5.4h0m-32.0 1.2h0m66.8 0.9h0m-19.4 17.7h0m84.7 2.1h0m81.7 5.4h0m-193.5 3.6h0m7.5 0.0h0m0.0 6.6h0m14.9-7.0h0m22.8 7.9h0m78.8-3.2h0m-99.7 10.4h0m37.8 7.9h0m76.6-8.1h0m3.2 6.0h0m-142.3 8.5h0m29.0 1.5h0m-31.8 17.5h0m141.2-3.6h0m-148.7 13.8h0m14.5 1.1h0m68.7 1.1h0m94.5-7.5h0m6.9 18.8h0m4.2 0h0m-182.4 12.6h0m60.2 9.8h0m35.4 2.5h0m9.6-2.5h0m87.9 1.0h0m-209.5 13.7h0m54.8 18.0h0m36.7-2.2h0m33.7 31.0h0m-54.4 4.2h0m8.6 3.2h0m62.3 3.2h0m17.7 10.7h0m-141.9 8.1h0m43.5 7.3h0m-62.9 29.4h0m8.3 6.4h0m55.7-2.8h0m55.5 23.7h0m-45.7 4.7h0m-178.1-535.5h0m109.4 36.9h0m-163.8-10.8h0m12.8 21.9h0m-18.2 6.9h0m24.6 8.1h0m94.9 1.7h0m-57.6 30.3h0m-26.7 2.1h0m55.5-10.0h0m12.8 7.0h0m-83.8 13.0h0m77.4 17.1h0m-75.3 2.8h0m48.6 8.1h0m-71.4 18.5h0m40.5 5.8h0m-1.1 10.7h0m0.0 11.9h0m17.1-13.0h0m34.1-5.8h0m4.3 0.7h0m13.2-8.1h0m4.3 11.3h0m12.2 13.2h0m3.4 2.1h0m20.2-12.8h0m-59.7 19.7h0m50.1 0.2h0m-26.6 13.2h0m-26.7 6.0h0m-41.6-1.1h0m-24.5 0.4h0m36.2 11.8h0m50.8 20.2h0m23.9-4.2h0m14.9 6.4h0m-27.7 19.2h0m-26.2 4.7h0m0.0-444.2h0m31.1 107.3h0m59.1 20.3h0m13.4 17h0" stroke="#0000ff" stroke-width="6.0" stroke-linecap="round" fill="none"/>
<path d="M417.5 957.3l4.6 4.6m0-4.6l-4.6 4.6M430.8 981.9l4.6 4.6m0-4.6l-4.6 4.6M334.3 997.9l4.6 4.6m0-4.6l-4.6 4.6M470.9 1023.0l4.6 4.6m0-4.6l-4.6 4.6M471.9 1048.4l4.6 4.6m0-4.6l-4.6 4.6M380.6 1051.0l4.6 4.6m0-4.6l-4.6 4.6M389.2 1055.0l4.6 4.6m0-4.6l-4.6 4.6M400.9 1056.1l4.6 4.6m0-4.6l-4.6 4.6M407.3 1058.9l4.6 4.6m0-4.6l-4.6 4.6M445.3 1062.1l4.6 4.6m0-4.6l-4.6 4.6M349.3 1085.5l4.6 4.6m0-4.6l-4.6 4.6M394.7 1093.2l4.6 4.6m0-4.6l-4.6 4.6M428.6 1107.3l4.6 4.6m0-4.6l-4.6 4.6M277.4 1113.7l4.6 4.6m0-4.6l-4.6 4.6M336.5 1127.4l4.6 4.6m0-4.6l-4.6 4.6M373.8 1128.6l4.6 4.6m0-4.6l-4.6 4.6M443.1 1128.6l4.6 4.6m0-4.6l-4.6 4.6M475.6 1125.9l4.6 4.6m0-4.6l-4.6 4.6M384.9 1142.3l4.6 4.6m0-4.6l-4.6 4.6M408.6 1141.9l4.6 4.6m0-4.6l-4.6 4.6M467.2 1142.3l4.6 4.6m0-4.6l-4.6 4.6M396.8 1150.4l4.6 4.6m0-4.6l-4.6 4.6M373.8 1152.7l4.6 4.6m0-4.6l-4.6 4.6M377.0 1156.6l4.6 4.6m0-4.6l-4.6 4.6M370.2 1160.6l4.6 4.6m0-4.6l-4.6 4.6M186.9 1157.9l4.6 4.6m0-4.6l-4.6 4.6M430.3 1163.2l4.6 4.6m0-4.6l-4.6 4.6M415.6 1170.0l4.6 4.6m0-4.6l-4.6 4.6M442.5 1171.1l4.6 4.6m0-4.6l-4.6 4.6M394.9 1174.5l4.6 4.6m0-4.6l-4.6 4.6M295.1 1179.2l4.6 4.6m0-4.6l-4.6 4.6M390.9 1183.0l4.6 4.6m0-4.6l-4.6 4.6M404.1 1185.6l4.6 4.6m0-4.6l-4.6 4.6M324.1 1188.2l4.6 4.6m0-4.6l-4.6 4.6M337.1 1191.4l4.6 4.6m0-4.6l-4.6 4.6M388.7 1190.9l4.6 4.6m0-4.6l-4.6 4.6M383.6 1195.2l4.6 4.6m0-4.6l-4.6 4.6M432.9 1198.4l4.6 4.6m0-4.6l-4.6 4.6M301.7 1204.2l4.6 4.6m0-4.6l-4.6 4.6M372.1 1206.5l4.6 4.6m0-4.6l-4.6 4.6M467.7 1212.9l4.6 4.6m0-4.6l-4.6 4.6M314.1 1217.8l4.6 4.6m0-4.6l-4.6 4.6M406.2 1220.4l4.6 4.6m0-4.6l-4.6 4.6M404.7 1231.2l4.6 4.6m0-4.6l-4.6 4.6M410.9 1229.5l4.6 4.6m0-4.6l-4.6 4.6M361.2 1234.9l4.6 4.6m0-4.6l-4.6 4.6M446.3 1235.5l4.6 4.6m0-4.6l-4.6 4.6M340.1 1273.3l4.6 4.6m0-4.6l-4.6 4.6M236.0 1279.7l4.6 4.6m0-4.6l-4.6 4.6M825.3 648.3l4.6 4.6m0-4.6l-4.6 4.6M815.1 654.7l4.6 4.6m0-4.6l-4.6 4.6M775.8 662.3l4.6 4.6m0-4.6l-4.6 4.6M706.9 738.5l4.6 4.6m0-4.6l-4.6 4.6M810.4 718.7l4.6 4.6m0-4.6l-4.6 4.6M807.6 740.2l4.6 4.6m0-4.6l-4.6 4.6M819.6 742.3l4.6 4.6m0-4.6l-4.6 4.6M881.4 677.7l4.6 4.6m0-4.6l-4.6 4.6M898.5 685.2l4.6 4.6m0-4.6l-4.6 4.6M914.5 712.9l4.6 4.6m0-4.6l-4.6 4.6M913.0 719.3l4.6 4.6m0-4.6l-4.6 4.6M894.2 729.5l4.6 4.6m0-4.6l-4.6 4.6M910.7 748.7l4.6 4.6m0-4.6l-4.6 4.6M784.6 759.8l4.6 4.6m0-4.6l-4.6 4.6M792.9 759.0l4.6 4.6m0-4.6l-4.6 4.6M804.6 765.8l4.6 4.6m0-4.6l-4.6 4.6M896.2 775.0l4.6 4.6m0-4.6l-4.6 4.6M881.4 799.3l4.6 4.6m0-4.6l-4.6 4.6M894.7 792.9l4.6 4.6m0-4.6l-4.6 4.6M914.9 791.4l4.6 4.6m0-4.6l-4.6 4.6M778.2 794.2l4.6 4.6m0-4.6l-4.6 4.6M801.4 794.4l4.6 4.6m0-4.6l-4.6 4.6M751.7 809.5l4.6 4.6m0-4.6l-4.6 4.6M761.5 824.5l4.6 4.6m0-4.6l-4.6 4.6M706.5 824.7l4.6 4.6m0-4.6l-4.6 4.6M689.0 832.8l4.6 4.6m0-4.6l-4.6 4.6M837.7 819.1l4.6 4.6m0-4.6l-4.6 4.6M808.0 850.7l4.6 4.6m0-4.6l-4.6 4.6M816.6 849.4l4.6 4.6m0-4.6l-4.6 4.6M832.4 854.8l4.6 4.6m0-4.6l-4.6 4.6M770.1 858.8l4.6 4.6m0-4.6l-4.6 4.6M766.2 866.3l4.6 4.6m0-4.6l-4.6 4.6M702.9 870.3l4.6 4.6m0-4.6l-4.6 4.6M768.2 881.2l4.6 4.6m0-4.6l-4.6 4.6M759.0 892.5l4.6 4.6m0-4.6l-4.6 4.6M769.9 894.0l4.6 4.6m0-4.6l-4.6 4.6M820.6 877.4l4.6 4.6m0-4.6l-4.6 4.6M859.9 832.4l4.6 4.6m0-4.6l-4.6 4.6M913.4 887.8l4.6 4.6m0-4.6l-4.6 4.6M888.9 895.7l4.6 4.6m0-4.6l-4.6 4.6M744.9 907.7l4.6 4.6m0-4.6l-4.6 4.6M777.5 910.4l4.6 4.6m0-4.6l-4.6 4.6M685.2 913.0l4.6 4.6m0-4.6l-4.6 4.6M622.2 910.9l4.6 4.6m0-4.6l-4.6 4.6M855.8 908.1l4.6 4.6m0-4.6l-4.6 4.6M530.0 897.6l4.6 4.6m0-4.6l-4.6 4.6M578.5 939.9l4.6 4.6m0-4.6l-4.6 4.6M603.2 937.5l4.6 4.6m0-4.6l-4.6 4.6M625.9 927.1l4.6 4.6m0-4.6l-4.6 4.6M638.2 923.7l4.6 4.6m0-4.6l-4.6 4.6M660.7 938.0l4.6 4.6m0-4.6l-4.6 4.6M658.3 951.2l4.6 4.6m0-4.6l-4.6 4.6M676.2 953.1l4.6 4.6m0-4.6l-4.6 4.6M711.8 940.1l4.6 4.6m0-4.6l-4.6 4.6M734.2 926.2l4.6 4.6m0-4.6l-4.6 4.6M733.8 936.5l4.6 4.6m0-4.6l-4.6 4.6M738.5 943.9l4.6 4.6m0-4.6l-4.6 4.6M754.1 939.0l4.6 4.6m0-4.6l-4.6 4.6M578.5 966.6l4.6 4.6m0-4.6l-4.6 4.6M637.6 967.6l4.6 4.6m0-4.6l-4.6 4.6M739.8 966.3l4.6 4.6m0-4.6l-4.6 4.6M755.1 977.9l4.6 4.6m0-4.6l-4.6 4.6M684.5 979.1l4.6 4.6m0-4.6l-4.6 4.6M687.7 981.7l4.6 4.6m0-4.6l-4.6 4.6M734.4 984.3l4.6 4.6m0-4.6l-4.6 4.6M608.8 983.8l4.6 4.6m0-4.6l-4.6 4.6M538.6 996.2l4.6 4.6m0-4.6l-4.6 4.6M702.2 989.0l4.6 4.6m0-4.6l-4.6 4.6M706.9 986.0l4.6 4.6m0-4.6l-4.6 4.6M741.7 1004.1l4.6 4.6m0-4.6l-4.6 4.6M647.0 1002.0l4.6 4.6m0-4.6l-4.6 4.6M610.9 1009.4l4.6 4.6m0-4.6l-4.6 4.6M690.1 1007.9l4.6 4.6m0-4.6l-4.6 4.6M685.2 1014.1l4.6 4.6m0-4.6l-4.6 4.6M510.9 1034.2l4.6 4.6m0-4.6l-4.6 4.6M570.2 1022.0l4.6 4.6m0-4.6l-4.6 4.6M623.3 1024.4l4.6 4.6m0-4.6l-4.6 4.6M558.7 1033.3l4.6 4.6m0-4.6l-4.6 4.6M609.7 1037.8l4.6 4.6m0-4.6l-4.6 4.6M632.5 1038.2l4.6 4.6m0-4.6l-4.6 4.6M685.4 1034.8l4.6 4.6m0-4.6l-4.6 4.6M705.2 1039.7l4.6 4.6m0-4.6l-4.6 4.6M711.8 1038.9l4.6 4.6m0-4.6l-4.6 4.6M520.3 1061.9l4.6 4.6m0-4.6l-4.6 4.6M541.6 1061.3l4.6 4.6m0-4.6l-4.6 4.6M557.4 1070.7l4.6 4.6m0-4.6l-4.6 4.6M568.3 1069.0l4.6 4.6m0-4.6l-4.6 4.6M603.2 1074.3l4.6 4.6m0-4.6l-4.6 4.6M607.3 1070.4l4.6 4.6m0-4.6l-4.6 4.6M635.9 1068.1l4.6 4.6m0-4.6l-4.6 4.6M635.7 1064.7l4.6 4.6m0-4.6l-4.6 4.6M710.1 1067.7l4.6 4.6m0-4.6l-4.6 4.6M698.4 1076.6l4.6 4.6m0-4.6l-4.6 4.6M726.8 1078.8l4.6 4.6m0-4.6l-4.6 4.6M526.9 1082.2l4.6 4.6m0-4.6l-4.6 4.6M689.0 1086.9l4.6 4.6m0-4.6l-4.6 4.6M699.0 1087.7l4.6 4.6m0-4.6l-4.6 4.6M755.1 1088.2l4.6 4.6m0-4.6l-4.6 4.6M498.5 1096.0l4.6 4.6m0-4.6l-4.6 4.6M556.5 1099.5l4.6 4.6m0-4.6l-4.6 4.6M548.4 1106.9l4.6 4.6m0-4.6l-4.6 4.6M685.4 1111.0l4.6 4.6m0-4.6l-4.6 4.6M606.9 1116.3l4.6 4.6m0-4.6l-4.6 4.6M755.6 1116.1l4.6 4.6m0-4.6l-4.6 4.6M534.1 1121.4l4.6 4.6m0-4.6l-4.6 4.6M559.3 1128.3l4.6 4.6m0-4.6l-4.6 4.6M600.3 1124.2l4.6 4.6m0-4.6l-4.6 4.6M704.8 1119.9l4.6 4.6m0-4.6l-4.6 4.6M651.0 1137.9l4.6 4.6m0-4.6l-4.6 4.6M667.0 1143.8l4.6 4.6m0-4.6l-4.6 4.6M525.2 1137.4l4.6 4.6m0-4.6l-4.6 4.6M576.2 1154.1l4.6 4.6m0-4.6l-4.6 4.6M558.7 1160.3l4.6 4.6m0-4.6l-4.6 4.6M635.5 1157.5l4.6 4.6m0-4.6l-4.6 4.6M709.9 1162.4l4.6 4.6m0-4.6l-4.6 4.6M525.8 1170.7l4.6 4.6m0-4.6l-4.6 4.6M532.2 1180.5l4.6 4.6m0-4.6l-4.6 4.6M535.2 1188.8l4.6 4.6m0-4.6l-4.6 4.6M550.1 1193.1l4.6 4.6m0-4.6l-4.6 4.6M496.4 1189.5l4.6 4.6m0-4.6l-4.6 4.6M659.6 1178.0l4.6 4.6m0-4.6l-4.6 4.6M481.0 1200.6l4.6 4.6m0-4.6l-4.6 4.6M514.9 1212.3l4.6 4.6m0-4.6l-4.6 4.6M733.2 1205.7l4.6 4.6m0-4.6l-4.6 4.6M590.9 1238.3l4.6 4.6m0-4.6l-4.6 4.6M754.1 1131.0l4.6 4.6m0-4.6l-4.6 4.6M791.8 920.3l4.6 4.6m0-4.6l-4.6 4.6M944.4 933.1l4.6 4.6m0-4.6l-4.6 4.6M913.4 940.3l4.6 4.6m0-4.6l-4.6 4.6M930.5 951.8l4.6 4.6m0-4.6l-4.6 4.6M911.3 962.1l4.6 4.6m0-4.6l-4.6 4.6M980.6 963.4l4.6 4.6m0-4.6l-4.6 4.6M1032.9 964.2l4.6 4.6m0-4.6l-4.6 4.6M1018.0 919.4l4.6 4.6m0-4.6l-4.6 4.6M783.7 951.8l4.6 4.6m0-4.6l-4.6 4.6M789.3 951.8l4.6 4.6m0-4.6l-4.6 4.6M818.1 968.0l4.6 4.6m0-4.6l-4.6 4.6M826.0 966.3l4.6 4.6m0-4.6l-4.6 4.6M885.7 969.8l4.6 4.6m0-4.6l-4.6 4.6M909.2 988.1l4.6 4.6m0-4.6l-4.6 4.6M1012.2 997.9l4.6 4.6m0-4.6l-4.6 4.6M837.3 1002.6l4.6 4.6m0-4.6l-4.6 4.6M812.3 1005.6l4.6 4.6m0-4.6l-4.6 4.6M797.6 1005.6l4.6 4.6m0-4.6l-4.6 4.6M827.7 1009.0l4.6 4.6m0-4.6l-4.6 4.6M766.2 1011.6l4.6 4.6m0-4.6l-4.6 4.6M858.0 1015.4l4.6 4.6m0-4.6l-4.6 4.6M920.3 1015.4l4.6 4.6m0-4.6l-4.6 4.6M904.0 1025.6l4.6 4.6m0-4.6l-4.6 4.6M921.3 1028.6l4.6 4.6m0-4.6l-4.6 4.6M934.8 1029.3l4.6 4.6m0-4.6l-4.6 4.6M945.4 1030.8l4.6 4.6m0-4.6l-4.6 4.6M882.1 969.3l4.6 4.6m0-4.6l-4.6 4.6M790.8 1017.5l4.6 4.6m0-4.6l-4.6 4.6M775.8 1028.2l4.6 4.6m0-4.6l-4.6 4.6M831.3 1034.2l4.6 4.6m0-4.6l-4.6 4.6M766.7 1038.9l4.6 4.6m0-4.6l-4.6 4.6M784.4 1041.4l4.6 4.6m0-4.6l-4.6 4.6M897.9 1063.8l4.6 4.6m0-4.6l-4.6 4.6M997.1 1067.0l4.6 4.6m0-4.6l-4.6 4.6M775.8 1064.9l4.6 4.6m0-4.6l-4.6 4.6M779.0 1073.0l4.6 4.6m0-4.6l-4.6 4.6M958.7 1081.1l4.6 4.6m0-4.6l-4.6 4.6M800.4 1089.2l4.6 4.6m0-4.6l-4.6 4.6M781.2 1099.5l4.6 4.6m0-4.6l-4.6 4.6M789.7 1125.3l4.6 4.6m0-4.6l-4.6 4.6M795.7 1131.7l4.6 4.6m0-4.6l-4.6 4.6M769.4 1131.5l4.6 4.6m0-4.6l-4.6 4.6M877.2 1128.9l4.6 4.6m0-4.6l-4.6 4.6M963.6 1157.7l4.6 4.6m0-4.6l-4.6 4.6M1054.2 1152.8l4.6 4.6m0-4.6l-4.6 4.6M770.5 1172.6l4.6 4.6m0-4.6l-4.6 4.6M791.4 1214.2l4.6 4.6m0-4.6l-4.6 4.6M808.5 1231.7l4.6 4.6m0-4.6l-4.6 4.6M1116.1 713.7l4.6 4.6m0-4.6l-4.6 4.6M1087.9 731.4l4.6 4.6m0-4.6l-4.6 4.6M1156.4 729.7l4.6 4.6m0-4.6l-4.6 4.6M1106.1 751.5l4.6 4.6m0-4.6l-4.6 4.6M1100.1 757.9l4.6 4.6m0-4.6l-4.6 4.6M1120.4 756.4l4.6 4.6m0-4.6l-4.6 4.6M1140.0 757.9l4.6 4.6m0-4.6l-4.6 4.6M1162.4 751.5l4.6 4.6m0-4.6l-4.6 4.6M1204.0 751.5l4.6 4.6m0-4.6l-4.6 4.6M1278.2 760.8l4.6 4.6m0-4.6l-4.6 4.6M1156.0 788.4l4.6 4.6m0-4.6l-4.6 4.6M1248.6 789.0l4.6 4.6m0-4.6l-4.6 4.6M1170.9 806.1l4.6 4.6m0-4.6l-4.6 4.6M1202.1 808.6l4.6 4.6m0-4.6l-4.6 4.6M1110.8 830.0l4.6 4.6m0-4.6l-4.6 4.6M1090.5 833.2l4.6 4.6m0-4.6l-4.6 4.6M1128.3 836.8l4.6 4.6m0-4.6l-4.6 4.6M1134.7 840.0l4.6 4.6m0-4.6l-4.6 4.6M1247.3 835.1l4.6 4.6m0-4.6l-4.6 4.6M1085.6 875.2l4.6 4.6m0-4.6l-4.6 4.6M1182.7 895.0l4.6 4.6m0-4.6l-4.6 4.6M1241.1 900.6l4.6 4.6m0-4.6l-4.6 4.6M1125.5 908.3l4.6 4.6m0-4.6l-4.6 4.6M1194.4 918.5l4.6 4.6m0-4.6l-4.6 4.6M1127.0 924.7l4.6 4.6m0-4.6l-4.6 4.6M1189.5 948.4l4.6 4.6m0-4.6l-4.6 4.6M1194.8 956.9l4.6 4.6m0-4.6l-4.6 4.6M1083.0 975.0l4.6 4.6m0-4.6l-4.6 4.6M1184.8 975.7l4.6 4.6m0-4.6l-4.6 4.6M1102.9 1000.6l4.6 4.6m0-4.6l-4.6 4.6M1118.7 999.1l4.6 4.6m0-4.6l-4.6 4.6M1128.3 998.1l4.6 4.6m0-4.6l-4.6 4.6M1090.9 1059.6l4.6 4.6m0-4.6l-4.6 4.6M1119.7 1070.2l4.6 4.6m0-4.6l-4.6 4.6M967.8 622.2l4.6 4.6m0-4.6l-4.6 4.6M967.8 628.6l4.6 4.6m0-4.6l-4.6 4.6M1083.0 659.1l4.6 4.6m0-4.6l-4.6 4.6M923.7 670.2l4.6 4.6m0-4.6l-4.6 4.6M954.0 709.3l4.6 4.6m0-4.6l-4.6 4.6M963.6 717.8l4.6 4.6m0-4.6l-4.6 4.6M994.9 716.3l4.6 4.6m0-4.6l-4.6 4.6M1017.3 731.0l4.6 4.6m0-4.6l-4.6 4.6M978.5 757.7l4.6 4.6m0-4.6l-4.6 4.6M1063.8 762.6l4.6 4.6m0-4.6l-4.6 4.6M933.7 781.6l4.6 4.6m0-4.6l-4.6 4.6M991.9 778.4l4.6 4.6m0-4.6l-4.6 4.6M991.9 786.1l4.6 4.6m0-4.6l-4.6 4.6M981.7 811.0l4.6 4.6m0-4.6l-4.6 4.6M1008.4 792.9l4.6 4.6m0-4.6l-4.6 4.6M1008.4 796.1l4.6 4.6m0-4.6l-4.6 4.6M930.7 801.9l4.6 4.6m0-4.6l-4.6 4.6M1064.0 780.7l4.6 4.6m0-4.6l-4.6 4.6M1049.1 791.8l4.6 4.6m0-4.6l-4.6 4.6M1075.6 793.3l4.6 4.6m0-4.6l-4.6 4.6M1071.7 800.8l4.6 4.6m0-4.6l-4.6 4.6M1028.2 802.5l4.6 4.6m0-4.6l-4.6 4.6M1030.1 811.7l4.6 4.6m0-4.6l-4.6 4.6M981.7 824.9l4.6 4.6m0-4.6l-4.6 4.6M1065.7 823.2l4.6 4.6m0-4.6l-4.6 4.6M960.4 831.3l4.6 4.6m0-4.6l-4.6 4.6M1033.1 840.9l4.6 4.6m0-4.6l-4.6 4.6M971.5 846.2l4.6 4.6m0-4.6l-4.6 4.6M992.8 862.2l4.6 4.6m0-4.6l-4.6 4.6M985.5 872.9l4.6 4.6m0-4.6l-4.6 4.6M930.5 864.4l4.6 4.6m0-4.6l-4.6 4.6M1013.3 865.4l4.6 4.6m0-4.6l-4.6 4.6M1055.9 851.1l4.6 4.6m0-4.6l-4.6 4.6M1064.0 867.1l4.6 4.6m0-4.6l-4.6 4.6M1074.7 872.9l4.6 4.6m0-4.6l-4.6 4.6M1035.7 874.4l4.6 4.6m0-4.6l-4.6 4.6M965.1 893.0l4.6 4.6m0-4.6l-4.6 4.6M950.8 883.6l4.6 4.6m0-4.6l-4.6 4.6M1018.0 904.9l4.6 4.6m0-4.6l-4.6 4.6M997.7 903.8l4.6 4.6m0-4.6l-4.6 4.6M949.3 443.7l4.6 4.6m0-4.6l-4.6 4.6M1032.5 551.2l4.6 4.6m0-4.6l-4.6 4.6M1090.5 572.1l4.6 4.6m0-4.6l-4.6 4.6M1105.0 588.7l4.6 4.6m0-4.6l-4.6 4.6" stroke="#ff0000" stroke-width="3.6" stroke-linecap="round" fill="none"/>
<path d="M419.8 959.6h0m13.3 24.6h0m-96.5 16.0h0m136.6 25.1h0m1.0 25.4h0m-91.3 2.6h0m8.6 4.0h0m11.7 1.1h0m6.4 2.8h0m38.0 3.2h0m-96.0 23.4h0m45.4 7.7h0m33.9 14.1h0m-151.2 6.4h0m59.1 13.7h0m37.3 1.2h0m69.3 0.0h0m32.5-2.7h0m-90.7 16.4h0m23.7-0.4h0m58.6 0.4h0m-70.4 8.1h0m-23.0 2.3h0m3.2 3.9h0m-6.8 4.0h0m-183.3-2.7h0m243.4 5.3h0m-14.7 6.8h0m26.9 1.1h0m-47.6 3.4h0m-99.8 4.7h0m95.8 3.8h0m13.2 2.6h0m-80.0 2.6h0m13.0 3.2h0m51.6-0.5h0m-5.1 4.3h0m49.3 3.2h0m-131.2 5.8h0m70.4 2.3h0m95.6 6.4h0m-153.6 4.9h0m92.1 2.6h0m-1.5 10.8h0m6.2-1.7h0m-49.7 5.4h0m85.1 0.6h0m-106.2 37.8h0m-104.1 6.4h0m589.3-631.4h0m-10.2 6.4h0m-39.3 7.6h0m-68.9 76.2h0m103.5-19.8h0m-2.8 21.5h0m12.0 2.1h0m61.8-64.6h0m17.1 7.5h0m16.0 27.7h0m-1.5 6.4h0m-18.8 10.2h0m16.5 19.2h0m-126.1 11.1h0m8.3-0.8h0m11.7 6.8h0m91.6 9.2h0m-14.8 24.3h0m13.3-6.4h0m20.2-1.5h0m-136.7 2.8h0m23.2 0.2h0m-49.7 15.1h0m9.8 15.0h0m-55.0 0.2h0m-17.5 8.1h0m148.7-13.7h0m-29.7 31.6h0m8.6-1.3h0m15.8 5.4h0m-62.3 4.0h0m-3.9 7.5h0m-63.3 4.0h0m65.3 10.9h0m-9.2 11.3h0m10.9 1.5h0m50.7-16.6h0m39.3-45.0h0m53.5 55.4h0m-24.5 7.9h0m-144.0 12h0m32.6 2.7h0m-92.3 2.6h0m-63.0-2.1h0m233.6-2.8h0m-325.8-10.5h0m48.5 42.3h0m24.7-2.4h0m22.7-10.4h0m12.3-3.4h0m22.5 14.3h0m-2.4 13.2h0m17.9 1.9h0m35.6-13.0h0m22.4-13.9h0m-0.4 10.3h0m4.7 7.4h0m15.6-4.9h0m-175.6 27.6h0m59.1 1.0h0m102.2-1.3h0m15.3 11.6h0m-70.6 1.2h0m3.2 2.6h0m46.7 2.6h0m-125.6-0.5h0m-70.2 12.4h0m163.6-7.2h0m4.7-3.0h0m34.8 18.1h0m-94.7-2.1h0m-36.1 7.4h0m79.2-1.5h0m-4.9 6.2h0m-174.3 20.1h0m59.3-12.2h0m53.1 2.4h0m-64.6 8.9h0m51 4.5h0m22.8 0.4h0m52.9-3.4h0m19.8 4.9h0m6.6-0.8h0m-191.5 23.0h0m21.3-0.6h0m15.8 9.4h0m10.9-1.7h0m34.9 5.3h0m4.1-3.9h0m28.6-2.3h0m-0.2-3.4h0m74.4 3h0m-11.7 8.9h0m28.4 2.2h0m-199.9 3.4h0m162.1 4.7h0m10.0 0.8h0m56.1 0.5h0m-256.6 7.8h0m58.0 3.5h0m-8.1 7.4h0m137.0 4.1h0m-78.5 5.3h0m148.7-0.2h0m-221.5 5.3h0m25.2 6.9h0m41.0-4.1h0m104.5-4.3h0m-53.8 18.0h0m16.0 5.9h0m-141.8-6.4h0m51.0 16.7h0m-17.5 6.2h0m76.8-2.8h0m74.4 4.9h0m-184.1 8.3h0m6.4 9.8h0m3.0 8.3h0m14.9 4.3h0m-53.7-3.6h0m163.2-11.5h0m-178.6 22.6h0m33.9 11.7h0m218.3-6.6h0m-142.3 32.6h0m163.2-107.3h0m37.7-210.7h0m152.6 12.8h0m-31.0 7.2h0m17.1 11.5h0m-19.2 10.3h0m69.3 1.3h0m52.3 0.8h0m-14.9-44.8h0m-234.3 32.4h0m5.6 0.0h0m28.8 16.2h0m7.9-1.7h0m59.7 3.5h0m23.5 18.3h0m103.0 9.8h0m-174.9 4.7h0m-25.0 3.0h0m-14.7 0.0h0m30.1 3.4h0m-61.5 2.6h0m91.8 3.8h0m62.3 0.0h0m-16.3 10.2h0m17.3 3.0h0m13.5 0.7h0m10.6 1.5h0m-63.3-61.5h0m-91.3 48.2h0m-15.0 10.7h0m55.5 6.0h0m-64.6 4.7h0m17.7 2.5h0m113.5 22.4h0m99.2 3.2h0m-221.3-2.1h0m3.2 8.1h0m179.7 8.1h0m-158.3 8.1h0m-19.2 10.3h0m8.5 25.8h0m6 6.4h0m-26.3-0.2h0m107.8-2.6h0m86.4 28.8h0m90.6-4.9h0m-283.7 19.8h0m20.9 41.6h0m17.1 17.5h0m307.6-518h0m-28.2 17.7h0m68.5-1.7h0m-50.3 21.8h0m-6.0 6.4h0m20.3-1.5h0m19.6 1.5h0m22.4-6.4h0m41.6 0.0h0m74.2 9.3h0m-122.2 27.6h0m92.6 0.6h0m-77.7 17.1h0m31.2 2.5h0m-91.3 21.4h0m-20.3 3.2h0m37.8 3.6h0m6.4 3.2h0m112.6-4.9h0m-161.7 40.1h0m97.1 19.8h0m58.4 5.6h0m-115.6 7.7h0m68.9 10.2h0m-67.4 6.2h0m62.5 23.7h0m5.3 8.5h0m-111.8 18.1h0m101.8 0.7h0m-81.9 24.9h0m15.8-1.5h0m9.6-1.0h0m-37.4 61.5h0m28.8 10.6h0m-151.9-448.0h0m0.0 6.4h0m115.2 30.5h0m-159.3 11.1h0m30.3 39.1h0m9.6 8.5h0m31.3-1.5h0m22.4 14.7h0m-38.8 26.7h0m85.3 4.9h0m-130.1 19.0h0m58.2-3.2h0m0.0 7.7h0m-10.2 24.9h0m26.7-18.1h0m0.0 3.2h0m-77.7 5.8h0m133.3-21.2h0m-14.9 11.1h0m26.5 1.5h0m-3.9 7.5h0m-43.5 1.7h0m1.9 9.2h0m-48.4 13.2h0m84-1.7h0m-105.3 8.1h0m72.7 9.6h0m-61.6 5.3h0m21.3 16.0h0m-7.3 10.7h0m-55.0-8.5h0m82.8 1.0h0m42.6-14.3h0m8.1 16.0h0m10.7 5.8h0m-39 1.5h0m-70.6 18.6h0m-14.3-9.4h0m67.2 21.3h0m-20.3-1.1h0m-48.4-460.1h0m83.2 107.5h0m58.0 20.9h0m14.5 16.6h0" stroke="#ff0000" stroke-width="6.0" stroke-linecap="round" fill="none"/>

<g clip-path="url(#axclip)">
<polyline points="467.5,1330 852,896 977.7,653.3 977.7,0" fill="none" stroke="#008000" stroke-width="9.5" stroke-linejoin="round"/>
<path d="M853.2 1254.2h0m0.8-63.1h0m0-8.1h0m-0.8-5.7h0m3.2-29.9h0m0.8-6.4h0m0.8-8.2h0m0-8.0h0m0.8-4.8h0m-0.8-12.2h0m3.3-13.8h0m5.6-9.7h0m-1.6-11.3h0m0.8-9.7h0m2.4-14.6h0m-7.2 1.6h0m0.7-12.9h0m6.5-14.6h0m0.0-9.7h0m6.5-6.5h0m-10.5-8.1h0m11.3-8.0h0m-8.8-6.5h0m19.3-1.6h0m-11.3-11.4h0m4.9-8h0m4.8 3.2h0m-27.7 148.8h0m2-15h0m1-12h0m2-10h0m0-10h0m-1-10h0m3-15h0m0-13h0m2-6h0m0-8h0m5.2-97.3h0m31.5-23.5h0m-18.7 31.5h0m6.4-4.3h0m10.6 2.1h0m-6.3 7.5h0m0.0 12.8h0m-10.7-2.1h0m-5.3 18.1h0m5.3 3.2h0m-12.8 5.3h0m17.8-35.3h0m0 16h0m-17 20h0m4 16h0m-10 0h0m26.5-132.4h0m10.7 9.1h0m7.5-39.7h0m16.0 16.2h0m25.6-16.0h0m-61.3 31.8h0m7-7h0m5 18h0m98.6-247.7h0m7.7 46.4h0m0.7 8.6h0m3.3 14.7h0m-37.8 14.5h0m-10.8 30.2h0m3.3 9.3h0m-9.3 22.7h0m-23.4 4.0h0m-7.3 3.3h0m40.6 1h0m-31.1 19.7h0m-24.1 17.3h0m22.1 0h0m-10.5 7.7h0m26.9 0.0h0m0.9 4.8h0m-29.8 17.3h0m-19.2 55.7h0m-1.8 28.8h0" stroke="#008000" stroke-width="12.4" stroke-linecap="round" fill="none"/>

<line x1="852.2" y1="13.3" x2="852.2" y2="1319.8" stroke="#000" stroke-width="4.9"/>
<polyline points="853.5,917.8 890,885.9 1427.7,120" fill="none" stroke="#000" stroke-width="4.9"/>
<polyline points="846,926 853.3,919.8 1067.3,731.3 920,-60" fill="none" stroke="#0000ff" stroke-width="4.9"/>
<path d="M400,1327.6 L838,933.6 Q852,921 857,898 L862.3,872.1 L982.7,13.3" fill="none" stroke="#bf00bf" stroke-width="4.9" stroke-linejoin="round"/>
<path d="M400,1327.6 L838,933.6 Q852,921 857,898 L862.3,872.1 L994.7,13.3" fill="none" stroke="#bf00bf" stroke-width="4.9" stroke-linejoin="round"/>
<path d="M400,1327.6 L838,933.6 Q852,921 857,898 L862.3,872.1 L1005.9,13.3" fill="none" stroke="#bf00bf" stroke-width="4.9" stroke-linejoin="round"/>
<path d="M400,1327.6 L838,933.6 Q852,921 857,898 L862.3,872.1 L1016.5,13.3" fill="none" stroke="#bf00bf" stroke-width="4.9" stroke-linejoin="round"/>
<polyline points="984.0,1319.8 984.0,993.2 1004.7,993.2 1004.7,666.5 1008.2,666.5 1008.2,503.2 1032.5,503.2 1032.5,339.9 1048.6,339.9 1048.6,13.3" fill="none" stroke="#00bfbf" stroke-width="4.9" stroke-dasharray="17.7 7.3"/>
<path d="M935.2,895.2h25M947.7,882.7v25" stroke="#000" stroke-width="3.6" fill="none"/>
<circle cx="911.8" cy="830.5" r="14" fill="#000"/>
<path d="M234.3,1287.1 L249.5,1318 L219.1,1318Z" fill="#000"/>
<path d="M622.1,1139.7 L625.0,1148.7 L634.5,1148.7 L626.8,1154.2 L629.7,1163.2 L622.1,1157.7 L614.5,1163.2 L617.4,1154.2 L609.7,1148.7 L619.2,1148.7Z" fill="#000" stroke="#000" stroke-width="2.7" stroke-linejoin="bevel"/>
<path d="M569.5,1120.2l25,25M594.5,1120.2l-25,25" stroke="#000" stroke-width="3.6" fill="none"/>
<path d="M858.2,928.8 L888.3,943.7 L858.2,958.6Z" fill="#000"/>
</g>
<text x="535.72" y="1432.30" font-size="40.7" font-style="italic" textLength="22.63" lengthAdjust="spacingAndGlyphs" fill="#000">b</text>
<rect x="546.1" y="1391.3" width="3.6" height="4.3" fill="#000"/>
<text x="570.24" y="1432.30" font-size="40.7" textLength="39.33" lengthAdjust="spacingAndGlyphs" fill="#000">or</text>
<text x="621.57" y="1432.30" font-size="40.7" textLength="129.84" lengthAdjust="spacingAndGlyphs" fill="#000">precip.</text>
<text x="764.18" y="1432.30" font-size="40.7" textLength="50.89" lengthAdjust="spacingAndGlyphs" fill="#000">(m</text>
<text x="829.14" y="1432.30" font-size="40.7" textLength="100.73" lengthAdjust="spacingAndGlyphs" fill="#000">w.eq.</text>
<text x="943.01" y="1432.30" font-size="40.7" textLength="18.99" lengthAdjust="spacingAndGlyphs" fill="#000">a</text>
<rect x="972.9" y="1408.4" width="17" height="2.1" fill="#000"/>
<text x="999.29" y="1417.30" font-size="28" textLength="16.12" lengthAdjust="spacingAndGlyphs" fill="#000">1</text>
<text x="1019.79" y="1432.30" font-size="40.7" textLength="12.06" lengthAdjust="spacingAndGlyphs" fill="#000">)</text>
<g transform="translate(28.8,840.6) rotate(-90)">
<text x="-3.50" y="0.00" font-size="40.7" textLength="175.27" lengthAdjust="spacingAndGlyphs" fill="#000">Elevation</text>
<text x="184.82" y="0.00" font-size="40.7" textLength="50.77" lengthAdjust="spacingAndGlyphs" fill="#000">(m</text>
<text x="248.47" y="0.00" font-size="40.7" textLength="103.25" lengthAdjust="spacingAndGlyphs" fill="#000">a.s.l.)</text>
</g>
<text x="1029.64" y="944.00" font-size="46.5" textLength="82.05" lengthAdjust="spacingAndGlyphs" fill="#000">ELA</text>
<rect x="167.7" y="13.6" width="1231.9" height="1306.1" fill="none" stroke="#000" stroke-width="2.7"/>
<line x1="167.8" y1="1319.8" x2="167.8" y2="1330.6" stroke="#000" stroke-width="2.4"/>
<line x1="304.7" y1="1319.8" x2="304.7" y2="1330.6" stroke="#000" stroke-width="2.4"/>
<line x1="441.5" y1="1319.8" x2="441.5" y2="1330.6" stroke="#000" stroke-width="2.4"/>
<line x1="578.4" y1="1319.8" x2="578.4" y2="1330.6" stroke="#000" stroke-width="2.4"/>
<line x1="715.2" y1="1319.8" x2="715.2" y2="1330.6" stroke="#000" stroke-width="2.4"/>
<line x1="852.1" y1="1319.8" x2="852.1" y2="1330.6" stroke="#000" stroke-width="2.4"/>
<line x1="988.9" y1="1319.8" x2="988.9" y2="1330.6" stroke="#000" stroke-width="2.4"/>
<line x1="1125.8" y1="1319.8" x2="1125.8" y2="1330.6" stroke="#000" stroke-width="2.4"/>
<line x1="1262.6" y1="1319.8" x2="1262.6" y2="1330.6" stroke="#000" stroke-width="2.4"/>
<line x1="1399.5" y1="1319.8" x2="1399.5" y2="1330.6" stroke="#000" stroke-width="2.4"/>
<line x1="156.3" y1="1319.8" x2="167.8" y2="1319.8" stroke="#000" stroke-width="2.2"/>
<line x1="1399.5" y1="1319.8" x2="1411.0" y2="1319.8" stroke="#000" stroke-width="2.2"/>
<line x1="156.3" y1="1156.5" x2="167.8" y2="1156.5" stroke="#000" stroke-width="2.2"/>
<line x1="1399.5" y1="1156.5" x2="1411.0" y2="1156.5" stroke="#000" stroke-width="2.2"/>
<line x1="156.3" y1="993.2" x2="167.8" y2="993.2" stroke="#000" stroke-width="2.2"/>
<line x1="1399.5" y1="993.2" x2="1411.0" y2="993.2" stroke="#000" stroke-width="2.2"/>
<line x1="156.3" y1="829.9" x2="167.8" y2="829.9" stroke="#000" stroke-width="2.2"/>
<line x1="1399.5" y1="829.9" x2="1411.0" y2="829.9" stroke="#000" stroke-width="2.2"/>
<line x1="156.3" y1="666.5" x2="167.8" y2="666.5" stroke="#000" stroke-width="2.2"/>
<line x1="1399.5" y1="666.5" x2="1411.0" y2="666.5" stroke="#000" stroke-width="2.2"/>
<line x1="156.3" y1="503.2" x2="167.8" y2="503.2" stroke="#000" stroke-width="2.2"/>
<line x1="1399.5" y1="503.2" x2="1411.0" y2="503.2" stroke="#000" stroke-width="2.2"/>
<line x1="156.3" y1="339.9" x2="167.8" y2="339.9" stroke="#000" stroke-width="2.2"/>
<line x1="1399.5" y1="339.9" x2="1411.0" y2="339.9" stroke="#000" stroke-width="2.2"/>
<line x1="156.3" y1="176.6" x2="167.8" y2="176.6" stroke="#000" stroke-width="2.2"/>
<line x1="1399.5" y1="176.6" x2="1411.0" y2="176.6" stroke="#000" stroke-width="2.2"/>
<line x1="156.3" y1="13.3" x2="167.8" y2="13.3" stroke="#000" stroke-width="2.2"/>
<line x1="1399.5" y1="13.3" x2="1411.0" y2="13.3" stroke="#000" stroke-width="2.2"/>
<text x="129.19" y="1371.30" font-size="40.7" textLength="77.60" lengthAdjust="spacingAndGlyphs" fill="#000">−25</text>
<text x="266.02" y="1371.30" font-size="40.7" textLength="78.30" lengthAdjust="spacingAndGlyphs" fill="#000">−20</text>
<text x="402.90" y="1371.30" font-size="40.7" textLength="77.60" lengthAdjust="spacingAndGlyphs" fill="#000">−15</text>
<text x="539.74" y="1371.30" font-size="40.7" textLength="78.30" lengthAdjust="spacingAndGlyphs" fill="#000">−10</text>
<text x="688.74" y="1371.30" font-size="40.7" textLength="53.32" lengthAdjust="spacingAndGlyphs" fill="#000">−5</text>
<text x="840.84" y="1371.30" font-size="40.7" textLength="22.45" lengthAdjust="spacingAndGlyphs" fill="#000">0</text>
<text x="978.18" y="1371.30" font-size="40.7" textLength="21.19" lengthAdjust="spacingAndGlyphs" fill="#000">5</text>
<text x="1102.42" y="1371.30" font-size="40.7" textLength="46.84" lengthAdjust="spacingAndGlyphs" fill="#000">10</text>
<text x="1239.33" y="1371.30" font-size="40.7" textLength="46.07" lengthAdjust="spacingAndGlyphs" fill="#000">15</text>
<text x="1375.80" y="1371.30" font-size="40.7" textLength="47.18" lengthAdjust="spacingAndGlyphs" fill="#000">20</text>
<text x="122.48" y="1334.40" font-size="40.7" textLength="22.45" lengthAdjust="spacingAndGlyphs" fill="#000">0</text>
<text x="74.05" y="1171.09" font-size="40.7" textLength="70.97" lengthAdjust="spacingAndGlyphs" fill="#000">500</text>
<text x="49.36" y="1007.77" font-size="40.7" textLength="95.68" lengthAdjust="spacingAndGlyphs" fill="#000">1000</text>
<text x="49.36" y="844.46" font-size="40.7" textLength="95.68" lengthAdjust="spacingAndGlyphs" fill="#000">1500</text>
<text x="49.06" y="681.15" font-size="40.7" textLength="95.98" lengthAdjust="spacingAndGlyphs" fill="#000">2000</text>
<text x="49.06" y="517.84" font-size="40.7" textLength="95.98" lengthAdjust="spacingAndGlyphs" fill="#000">2500</text>
<text x="49.72" y="354.52" font-size="40.7" textLength="95.32" lengthAdjust="spacingAndGlyphs" fill="#000">3000</text>
<text x="49.72" y="191.21" font-size="40.7" textLength="95.32" lengthAdjust="spacingAndGlyphs" fill="#000">3500</text>
<text x="49.31" y="27.90" font-size="40.7" textLength="95.73" lengthAdjust="spacingAndGlyphs" fill="#000">4000</text>
<text x="1422.21" y="1332.10" font-size="34.9" textLength="19.23" lengthAdjust="spacingAndGlyphs" fill="#000">0</text>
<text x="1422.47" y="1168.79" font-size="34.9" textLength="60.78" lengthAdjust="spacingAndGlyphs" fill="#000">500</text>
<text x="1422.20" y="1005.47" font-size="34.9" textLength="81.94" lengthAdjust="spacingAndGlyphs" fill="#000">1000</text>
<text x="1422.20" y="842.16" font-size="34.9" textLength="81.94" lengthAdjust="spacingAndGlyphs" fill="#000">1500</text>
<text x="1421.94" y="678.85" font-size="34.9" textLength="82.19" lengthAdjust="spacingAndGlyphs" fill="#000">2000</text>
<text x="1421.94" y="515.54" font-size="34.9" textLength="82.19" lengthAdjust="spacingAndGlyphs" fill="#000">2500</text>
<text x="1422.50" y="352.22" font-size="34.9" textLength="81.63" lengthAdjust="spacingAndGlyphs" fill="#000">3000</text>
<text x="1422.50" y="188.91" font-size="34.9" textLength="81.63" lengthAdjust="spacingAndGlyphs" fill="#000">3500</text>
<text x="1422.16" y="25.60" font-size="34.9" textLength="81.98" lengthAdjust="spacingAndGlyphs" fill="#000">4000</text>
<circle cx="54.3" cy="1503.3" r="1.6" fill="#bfbf00"/>
<circle cx="54.3" cy="1559" r="3.4" fill="#0000ff"/>
<circle cx="54.3" cy="1614.7" r="3.4" fill="#ff0000"/>
<line x1="12" y1="1672.7" x2="97" y2="1672.7" stroke="#008000" stroke-width="9.5"/>
<circle cx="54.3" cy="1732.8" r="6.2" fill="#008000"/>
<line x1="14.5" y1="1790.2" x2="95.2" y2="1790.2" stroke="#000" stroke-width="5"/>
<line x1="14.5" y1="1845.5" x2="95.2" y2="1845.5" stroke="#0000ff" stroke-width="5"/>
<line x1="14.5" y1="1901.2" x2="95.2" y2="1901.2" stroke="#bf00bf" stroke-width="5"/>
<line x1="17" y1="1957" x2="93" y2="1957" stroke="#00bfbf" stroke-width="5" stroke-dasharray="17.9 7.1"/>
<text x="121.51" y="1514.00" font-size="40.7" textLength="91.67" lengthAdjust="spacingAndGlyphs" fill="#000">NPI&#39;s</text>
<text x="226.48" y="1514.00" font-size="40.7" textLength="81.35" lengthAdjust="spacingAndGlyphs" fill="#000">SMB</text>
<text x="320.84" y="1514.00" font-size="40.7" textLength="88.58" lengthAdjust="spacingAndGlyphs" fill="#000">from</text>
<text x="421.81" y="1514.00" font-size="40.7" textLength="296.92" lengthAdjust="spacingAndGlyphs" fill="#000">Carrasco-Escaff</text>
<text x="730.63" y="1514.00" font-size="40.7" textLength="70.15" lengthAdjust="spacingAndGlyphs" fill="#000">and</text>
<text x="813.85" y="1514.00" font-size="40.7" textLength="120.28" lengthAdjust="spacingAndGlyphs" fill="#000">others</text>
<text x="947.12" y="1514.00" font-size="40.7" textLength="94.75" lengthAdjust="spacingAndGlyphs" fill="#000">2023</text>
<text x="1055.37" y="1500.00" font-size="28" font-style="italic" textLength="15.59" lengthAdjust="spacingAndGlyphs" fill="#000">a</text>
<text x="121.51" y="1570.00" font-size="40.7" textLength="91.71" lengthAdjust="spacingAndGlyphs" fill="#000">NPI&#39;s</text>
<text x="226.49" y="1570.00" font-size="40.7" textLength="104.94" lengthAdjust="spacingAndGlyphs" fill="#000">SMB3</text>
<text x="345.09" y="1570.00" font-size="40.7" textLength="88.62" lengthAdjust="spacingAndGlyphs" fill="#000">from</text>
<text x="446.35" y="1570.00" font-size="40.7" textLength="110.02" lengthAdjust="spacingAndGlyphs" fill="#000">Bravo</text>
<text x="569.24" y="1570.00" font-size="40.7" textLength="70.19" lengthAdjust="spacingAndGlyphs" fill="#000">and</text>
<text x="652.50" y="1570.00" font-size="40.7" textLength="120.34" lengthAdjust="spacingAndGlyphs" fill="#000">others</text>
<text x="785.84" y="1570.00" font-size="40.7" textLength="94.53" lengthAdjust="spacingAndGlyphs" fill="#000">2021</text>
<text x="893.37" y="1556.00" font-size="28" font-style="italic" textLength="15.59" lengthAdjust="spacingAndGlyphs" fill="#000">a</text>
<text x="121.51" y="1625.70" font-size="40.7" textLength="91.71" lengthAdjust="spacingAndGlyphs" fill="#000">NPI&#39;s</text>
<text x="226.49" y="1625.70" font-size="40.7" textLength="104.66" lengthAdjust="spacingAndGlyphs" fill="#000">SMB1</text>
<text x="345.09" y="1625.70" font-size="40.7" textLength="88.62" lengthAdjust="spacingAndGlyphs" fill="#000">from</text>
<text x="446.35" y="1625.70" font-size="40.7" textLength="110.02" lengthAdjust="spacingAndGlyphs" fill="#000">Bravo</text>
<text x="569.24" y="1625.70" font-size="40.7" textLength="70.19" lengthAdjust="spacingAndGlyphs" fill="#000">and</text>
<text x="652.50" y="1625.70" font-size="40.7" textLength="120.34" lengthAdjust="spacingAndGlyphs" fill="#000">others</text>
<text x="785.84" y="1625.70" font-size="40.7" textLength="94.53" lengthAdjust="spacingAndGlyphs" fill="#000">2021</text>
<text x="893.37" y="1611.70" font-size="28" font-style="italic" textLength="15.59" lengthAdjust="spacingAndGlyphs" fill="#000">a</text>
<text x="121.48" y="1683.30" font-size="40.7" textLength="92.48" lengthAdjust="spacingAndGlyphs" fill="#000">NPI&#39;s</text>
<text x="227.38" y="1683.30" font-size="40.7" textLength="82.07" lengthAdjust="spacingAndGlyphs" fill="#000">SMB</text>
<text x="322.58" y="1683.30" font-size="40.7" textLength="89.37" lengthAdjust="spacingAndGlyphs" fill="#000">from</text>
<text x="423.02" y="1683.30" font-size="40.7" font-weight="bold" textLength="88.45" lengthAdjust="spacingAndGlyphs" fill="#000">This</text>
<text x="535.65" y="1683.30" font-size="40.7" font-weight="bold" textLength="117.89" lengthAdjust="spacingAndGlyphs" fill="#000">study</text>
<text x="121.50" y="1744.00" font-size="40.7" textLength="91.95" lengthAdjust="spacingAndGlyphs" fill="#000">NPI&#39;s</text>
<text x="226.89" y="1744.00" font-size="40.7" textLength="86.79" lengthAdjust="spacingAndGlyphs" fill="#000">solid</text>
<text x="328.15" y="1744.00" font-size="40.7" textLength="28.64" lengthAdjust="spacingAndGlyphs" fill="#000">+</text>
<text x="371.12" y="1744.00" font-size="40.7" textLength="102.93" lengthAdjust="spacingAndGlyphs" fill="#000">liquid</text>
<text x="487.42" y="1744.00" font-size="40.7" textLength="130.17" lengthAdjust="spacingAndGlyphs" fill="#000">precip.</text>
<text x="630.07" y="1744.00" font-size="40.7" textLength="88.85" lengthAdjust="spacingAndGlyphs" fill="#000">from</text>
<text x="729.51" y="1744.00" font-size="40.7" font-weight="bold" textLength="88.96" lengthAdjust="spacingAndGlyphs" fill="#000">This</text>
<text x="841.13" y="1744.00" font-size="40.7" font-weight="bold" textLength="119.11" lengthAdjust="spacingAndGlyphs" fill="#000">study</text>
<text x="121.51" y="1803.30" font-size="40.7" textLength="91.80" lengthAdjust="spacingAndGlyphs" fill="#000">NPI&#39;s</text>
<text x="226.62" y="1803.30" font-size="40.7" textLength="81.46" lengthAdjust="spacingAndGlyphs" fill="#000">SMB</text>
<text x="321.11" y="1803.30" font-size="40.7" textLength="88.71" lengthAdjust="spacingAndGlyphs" fill="#000">from</text>
<text x="422.80" y="1803.30" font-size="40.7" textLength="168.22" lengthAdjust="spacingAndGlyphs" fill="#000">Schaefer</text>
<text x="602.89" y="1803.30" font-size="40.7" textLength="70.25" lengthAdjust="spacingAndGlyphs" fill="#000">and</text>
<text x="686.23" y="1803.30" font-size="40.7" textLength="120.45" lengthAdjust="spacingAndGlyphs" fill="#000">others</text>
<text x="819.69" y="1803.30" font-size="40.7" textLength="94.89" lengthAdjust="spacingAndGlyphs" fill="#000">2013</text>
<text x="122.27" y="1858.30" font-size="40.7" textLength="109.00" lengthAdjust="spacingAndGlyphs" fill="#000">SRG&#39;s</text>
<text x="244.63" y="1858.30" font-size="40.7" textLength="81.50" lengthAdjust="spacingAndGlyphs" fill="#000">SMB</text>
<text x="339.16" y="1858.30" font-size="40.7" textLength="88.75" lengthAdjust="spacingAndGlyphs" fill="#000">from</text>
<text x="440.67" y="1858.30" font-size="40.7" textLength="138.89" lengthAdjust="spacingAndGlyphs" fill="#000">Koppes</text>
<text x="592.51" y="1858.30" font-size="40.7" textLength="70.28" lengthAdjust="spacingAndGlyphs" fill="#000">and</text>
<text x="675.89" y="1858.30" font-size="40.7" textLength="120.51" lengthAdjust="spacingAndGlyphs" fill="#000">others</text>
<text x="809.42" y="1858.30" font-size="40.7" textLength="94.42" lengthAdjust="spacingAndGlyphs" fill="#000">2012</text>
<text x="122.27" y="1914.00" font-size="40.7" textLength="108.83" lengthAdjust="spacingAndGlyphs" fill="#000">SRG&#39;s</text>
<text x="244.44" y="1914.00" font-size="40.7" textLength="81.37" lengthAdjust="spacingAndGlyphs" fill="#000">SMB</text>
<text x="338.82" y="1914.00" font-size="40.7" textLength="88.61" lengthAdjust="spacingAndGlyphs" fill="#000">from</text>
<text x="439.81" y="1914.00" font-size="40.7" textLength="264.67" lengthAdjust="spacingAndGlyphs" fill="#000">Collao-Barrios</text>
<text x="717.38" y="1914.00" font-size="40.7" textLength="70.17" lengthAdjust="spacingAndGlyphs" fill="#000">and</text>
<text x="800.63" y="1914.00" font-size="40.7" textLength="120.32" lengthAdjust="spacingAndGlyphs" fill="#000">others</text>
<text x="933.93" y="1914.00" font-size="40.7" textLength="95.23" lengthAdjust="spacingAndGlyphs" fill="#000">2018</text>
<text x="133.20" y="1969.30" font-size="40.7" textLength="91.89" lengthAdjust="spacingAndGlyphs" fill="#000">NPI&#39;s</text>
<text x="237.96" y="1969.30" font-size="40.7" textLength="129.03" lengthAdjust="spacingAndGlyphs" fill="#000">Precip.</text>
<text x="379.65" y="1969.30" font-size="40.7" textLength="88.80" lengthAdjust="spacingAndGlyphs" fill="#000">from</text>
<text x="481.41" y="1969.30" font-size="40.7" textLength="125.64" lengthAdjust="spacingAndGlyphs" fill="#000">Sauter</text>
<text x="619.06" y="1969.30" font-size="40.7" textLength="95.31" lengthAdjust="spacingAndGlyphs" fill="#000">2020</text>
<path d="M1211.6,1541.5h26M1224.6,1528.5v26" stroke="#000" stroke-width="3.6"/>
<circle cx="1224.6" cy="1597.3" r="14.3" fill="#000"/>
<path d="M1224.6,1636.8 L1240.1,1667 L1209.5,1667Z" fill="#000"/>
<path d="M1224.6,1695.6 L1227.5,1704.6 L1237.0,1704.6 L1229.3,1710.1 L1232.2,1719.1 L1224.6,1713.6 L1217.0,1719.1 L1219.9,1710.1 L1212.2,1704.6 L1221.7,1704.6Z" fill="#000" stroke="#000" stroke-width="2.7" stroke-linejoin="bevel"/>
<path d="M1211.1,1750.5l27,27M1238.1,1750.5l-27,27" stroke="#000" stroke-width="3.6"/>
<path d="M1210,1804.2 L1240.6,1819.5 L1210,1834.8Z" fill="#000"/>
<text x="1292.90" y="1555.50" font-size="40.7" textLength="47.59" lengthAdjust="spacingAndGlyphs" fill="#000">d1</text>
<text x="1292.90" y="1611.00" font-size="40.7" textLength="47.65" lengthAdjust="spacingAndGlyphs" fill="#000">d2</text>
<text x="1292.91" y="1666.50" font-size="40.7" textLength="47.36" lengthAdjust="spacingAndGlyphs" fill="#000">d3</text>
<text x="1292.94" y="1722.00" font-size="40.7" textLength="46.69" lengthAdjust="spacingAndGlyphs" fill="#000">d4</text>
<text x="1292.92" y="1777.50" font-size="40.7" textLength="47.27" lengthAdjust="spacingAndGlyphs" fill="#000">d5</text>
<text x="1292.91" y="1833.00" font-size="40.7" textLength="47.36" lengthAdjust="spacingAndGlyphs" fill="#000">d6</text>
</svg></body></html>
